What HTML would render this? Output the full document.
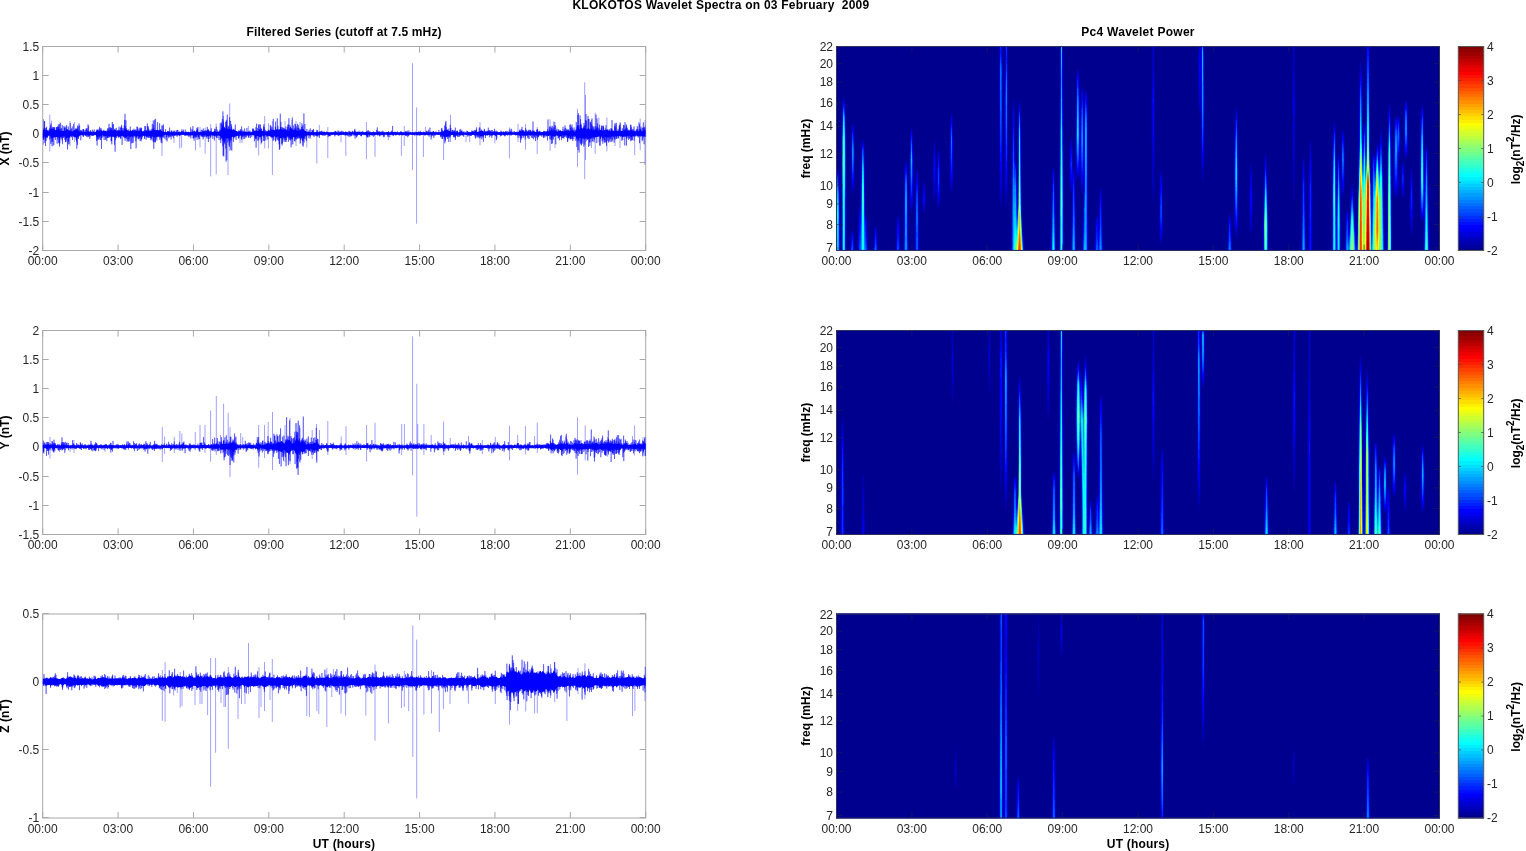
<!DOCTYPE html>
<html><head><meta charset="utf-8"><title>KLOKOTOS Wavelet Spectra</title><style>html,body{margin:0;padding:0;background:#fff;width:1526px;height:851px;overflow:hidden}</style></head><body>
<svg width="1526" height="851" viewBox="0 0 1526 851" font-family="Liberation Sans, Arial, Helvetica, sans-serif" style="position:absolute;left:0;top:0;will-change:transform">
<rect width="1526" height="851" fill="#fff"/>
<defs><clipPath id="clipL0"><rect x="42.7" y="46.5" width="603.0" height="204.0"/></clipPath><clipPath id="clipL1"><rect x="42.7" y="330.5" width="603.0" height="204.0"/></clipPath><clipPath id="clipL2"><rect x="42.7" y="614.0" width="603.0" height="204.0"/></clipPath></defs>
<defs><filter id="jm" x="0" y="0" width="1" height="1" color-interpolation-filters="sRGB"><feConvolveMatrix order="5 1" kernelMatrix="0.017 0.36 1 0.36 0.017" divisor="1.754" edgeMode="duplicate" preserveAlpha="true"/><feGaussianBlur stdDeviation="0 1"/><feComponentTransfer><feFuncR type="discrete" tableValues="0 0 0 0 0 0 0 0 0 0 0 0 0 0 0 0 0 0 0 0 0 0 0 0 0.0625 0.125 0.1875 0.25 0.3125 0.375 0.4375 0.5 0.5625 0.625 0.6875 0.75 0.8125 0.875 0.9375 1 1 1 1 1 1 1 1 1 1 1 1 1 1 1 1 1 0.9375 0.875 0.8125 0.75 0.6875 0.625 0.5625 0.5"/><feFuncG type="discrete" tableValues="0 0 0 0 0 0 0 0 0.0625 0.125 0.1875 0.25 0.3125 0.375 0.4375 0.5 0.5625 0.625 0.6875 0.75 0.8125 0.875 0.9375 1 1 1 1 1 1 1 1 1 1 1 1 1 1 1 1 1 0.9375 0.875 0.8125 0.75 0.6875 0.625 0.5625 0.5 0.4375 0.375 0.3125 0.25 0.1875 0.125 0.0625 0 0 0 0 0 0 0 0 0"/><feFuncB type="discrete" tableValues="0.5625 0.625 0.6875 0.75 0.8125 0.875 0.9375 1 1 1 1 1 1 1 1 1 1 1 1 1 1 1 1 1 0.9375 0.875 0.8125 0.75 0.6875 0.625 0.5625 0.5 0.4375 0.375 0.3125 0.25 0.1875 0.125 0.0625 0 0 0 0 0 0 0 0 0 0 0 0 0 0 0 0 0 0 0 0 0 0 0 0 0"/></feComponentTransfer></filter></defs>
<text x="720.8" y="9.2" font-size="12" font-weight="bold" text-anchor="middle" fill="#000" xml:space="preserve" textLength="296.7" lengthAdjust="spacing">KLOKOTOS Wavelet Spectra on 03 February  2009</text>
<text x="344.00" y="35.90" font-size="12" text-anchor="middle" font-weight="bold" fill="#000" textLength="195.1" lengthAdjust="spacing">Filtered Series (cutoff at 7.5 mHz)</text>
<text x="1137.90" y="35.90" font-size="12" text-anchor="middle" font-weight="bold" fill="#000" textLength="113.2" lengthAdjust="spacing">Pc4 Wavelet Power</text>
<text x="42.70" y="265.10" font-size="12" text-anchor="middle" fill="#262626">00:00</text>
<text x="118.08" y="265.10" font-size="12" text-anchor="middle" fill="#262626">03:00</text>
<text x="193.45" y="265.10" font-size="12" text-anchor="middle" fill="#262626">06:00</text>
<text x="268.82" y="265.10" font-size="12" text-anchor="middle" fill="#262626">09:00</text>
<text x="344.20" y="265.10" font-size="12" text-anchor="middle" fill="#262626">12:00</text>
<text x="419.57" y="265.10" font-size="12" text-anchor="middle" fill="#262626">15:00</text>
<text x="494.95" y="265.10" font-size="12" text-anchor="middle" fill="#262626">18:00</text>
<text x="570.33" y="265.10" font-size="12" text-anchor="middle" fill="#262626">21:00</text>
<text x="645.70" y="265.10" font-size="12" text-anchor="middle" fill="#262626">00:00</text>
<text x="39.20" y="254.70" font-size="12" text-anchor="end" fill="#262626">-2</text>
<text x="39.20" y="225.70" font-size="12" text-anchor="end" fill="#262626">-1.5</text>
<text x="39.20" y="196.70" font-size="12" text-anchor="end" fill="#262626">-1</text>
<text x="39.20" y="166.70" font-size="12" text-anchor="end" fill="#262626">-0.5</text>
<text x="39.20" y="137.70" font-size="12" text-anchor="end" fill="#262626">0</text>
<text x="39.20" y="108.70" font-size="12" text-anchor="end" fill="#262626">0.5</text>
<text x="39.20" y="79.70" font-size="12" text-anchor="end" fill="#262626">1</text>
<text x="39.20" y="50.70" font-size="12" text-anchor="end" fill="#262626">1.5</text>
<path d="M42.70 250.50V244.50M42.70 46.50V52.50M118.08 250.50V244.50M118.08 46.50V52.50M193.45 250.50V244.50M193.45 46.50V52.50M268.82 250.50V244.50M268.82 46.50V52.50M344.20 250.50V244.50M344.20 46.50V52.50M419.57 250.50V244.50M419.57 46.50V52.50M494.95 250.50V244.50M494.95 46.50V52.50M570.33 250.50V244.50M570.33 46.50V52.50M645.70 250.50V244.50M645.70 46.50V52.50M42.70 250.50H48.70M645.70 250.50H639.70M42.70 221.50H48.70M645.70 221.50H639.70M42.70 192.50H48.70M645.70 192.50H639.70M42.70 162.50H48.70M645.70 162.50H639.70M42.70 133.50H48.70M645.70 133.50H639.70M42.70 104.50H48.70M645.70 104.50H639.70M42.70 75.50H48.70M645.70 75.50H639.70M42.70 46.50H48.70M645.70 46.50H639.70" stroke="#a8a8a8" stroke-width="1" fill="none"/>
<rect x="42.70" y="46.50" width="603.00" height="204.00" fill="none" stroke="#a8a8a8" stroke-width="1"/>
<g clip-path="url(#clipL0)"><path d="M42.8 138.2 L43.0 131.5 L43.1 140.0 L43.3 133.4 L43.5 139.3 L43.6 130.6 L43.8 138.5 L44.0 127.8 L44.1 134.2 L44.3 121.5 L44.5 133.9 L44.6 120.9 L44.8 142.8 L45.0 130.0 L45.1 139.5 L45.3 127.9 L45.5 145.9 L45.6 133.4 L45.8 135.7 L46.0 129.9 L46.1 141.0 L46.3 128.1 L46.5 135.9 L46.6 126.7 L46.8 136.1 L47.0 132.0 L47.1 138.2 L47.3 130.0 L47.5 137.4 L47.6 132.1 L47.8 136.5 L48.0 133.4 L48.1 135.6 L48.3 131.0 L48.5 133.7 L48.6 130.4 L48.8 135.1 L49.0 130.6 L49.1 135.3 L49.3 128.7 L49.5 133.6 L49.6 132.9 L49.8 139.5 L50.0 127.6 L50.1 134.2 L50.3 128.9 L50.5 133.9 L50.6 125.2 L50.8 143.9 L51.0 123.4 L51.1 138.2 L51.3 128.5 L51.5 137.5 L51.6 130.8 L51.8 142.0 L52.0 131.1 L52.1 138.2 L52.3 126.8 L52.5 141.5 L52.6 130.8 L52.8 146.3 L53.0 127.8 L53.1 136.0 L53.3 128.8 L53.5 135.8 L53.6 126.9 L53.8 145.0 L54.0 130.6 L54.1 133.5 L54.3 127.2 L54.5 135.0 L54.6 127.6 L54.8 135.4 L55.0 132.6 L55.1 135.7 L55.3 130.4 L55.5 139.9 L55.6 132.7 L55.8 134.2 L56.0 130.6 L56.1 134.7 L56.3 127.1 L56.5 134.3 L56.6 127.0 L56.8 134.3 L57.0 128.5 L57.1 143.6 L57.3 133.4 L57.5 135.1 L57.6 126.7 L57.8 139.6 L58.0 126.6 L58.1 135.1 L58.3 124.5 L58.5 137.4 L58.6 127.1 L58.8 142.8 L59.0 133.2 L59.1 143.4 L59.3 124.2 L59.5 146.6 L59.6 132.1 L59.8 142.8 L60.0 132.8 L60.1 138.9 L60.3 133.1 L60.5 136.0 L60.6 122.7 L60.8 136.3 L61.0 128.2 L61.1 137.2 L61.3 132.5 L61.5 138.3 L61.6 128.4 L61.8 135.1 L62.0 133.4 L62.1 140.5 L62.3 125.2 L62.5 144.2 L62.6 131.6 L62.8 137.2 L63.0 132.1 L63.1 134.5 L63.3 131.0 L63.5 138.0 L63.6 132.1 L63.8 136.6 L64.0 125.9 L64.1 134.2 L64.3 127.4 L64.5 137.2 L64.6 128.2 L64.8 139.8 L65.0 131.6 L65.1 134.3 L65.3 127.6 L65.5 142.1 L65.6 131.1 L65.8 142.1 L66.0 126.2 L66.1 141.4 L66.3 132.3 L66.5 138.5 L66.6 125.2 L66.8 138.4 L67.0 129.6 L67.1 133.8 L67.3 129.7 L67.5 149.4 L67.6 132.3 L67.8 133.6 L68.0 132.2 L68.1 144.5 L68.3 126.6 L68.5 141.7 L68.6 131.4 L68.8 138.1 L69.0 132.6 L69.1 144.2 L69.3 131.8 L69.5 137.8 L69.6 130.7 L69.8 135.8 L70.0 130.6 L70.1 134.3 L70.3 123.1 L70.5 136.1 L70.6 133.1 L70.8 133.7 L71.0 129.4 L71.1 137.4 L71.3 132.1 L71.5 137.0 L71.6 128.3 L71.8 134.2 L72.0 132.3 L72.1 135.4 L72.3 126.5 L72.5 140.0 L72.6 132.2 L72.8 135.2 L73.0 132.9 L73.1 136.7 L73.3 131.6 L73.5 135.7 L73.6 124.0 L73.8 136.3 L74.0 130.8 L74.1 137.4 L74.3 130.5 L74.5 134.1 L74.6 132.3 L74.8 133.7 L75.0 129.9 L75.1 135.9 L75.3 128.3 L75.5 136.4 L75.6 133.1 L75.8 134.5 L76.0 132.1 L76.1 139.9 L76.3 132.7 L76.5 141.6 L76.6 129.1 L76.8 148.7 L77.0 127.8 L77.1 135.6 L77.3 131.9 L77.5 144.8 L77.6 125.5 L77.8 135.1 L78.0 130.7 L78.1 138.8 L78.3 126.5 L78.5 138.6 L78.6 131.4 L78.8 135.9 L79.0 123.4 L79.1 135.1 L79.3 132.3 L79.5 136.3 L79.6 125.7 L79.8 135.3 L80.0 130.6 L80.1 133.6 L80.3 133.5 L80.5 133.8 L80.6 130.1 L80.8 140.3 L81.0 131.8 L81.1 134.2 L81.3 130.4 L81.5 133.9 L81.6 131.6 L81.8 134.1 L82.0 130.5 L82.1 134.6 L82.3 132.1 L82.5 135.1 L82.6 132.8 L82.8 136.4 L83.0 129.1 L83.1 135.1 L83.3 129.2 L83.5 136.9 L83.6 129.1 L83.8 135.8 L84.0 133.3 L84.1 134.3 L84.3 130.5 L84.5 134.0 L84.6 132.6 L84.8 134.1 L85.0 132.6 L85.1 135.4 L85.3 130.1 L85.5 135.8 L85.6 132.4 L85.8 134.9 L86.0 128.5 L86.1 135.9 L86.3 131.8 L86.5 136.8 L86.6 128.8 L86.8 134.0 L87.0 128.0 L87.1 134.3 L87.3 130.0 L87.5 135.0 L87.6 132.4 L87.8 137.2 L88.0 124.4 L88.1 136.4 L88.3 131.2 L88.5 136.6 L88.6 125.8 L88.8 135.4 L89.0 132.3 L89.1 134.0 L89.3 131.6 L89.5 135.8 L89.6 131.9 L89.8 138.8 L90.0 131.5 L90.1 136.5 L90.3 132.9 L90.5 134.4 L90.6 130.1 L90.8 134.4 L91.0 130.8 L91.1 133.5 L91.3 132.7 L91.5 135.4 L91.6 132.3 L91.8 135.8 L92.0 131.9 L92.1 134.1 L92.3 133.4 L92.5 135.2 L92.6 129.6 L92.8 136.0 L93.0 133.1 L93.1 136.0 L93.3 130.9 L93.5 134.5 L93.6 132.8 L93.8 133.6 L94.0 132.6 L94.1 135.4 L94.3 129.5 L94.5 133.8 L94.6 132.2 L94.8 134.7 L95.0 133.0 L95.1 134.0 L95.3 132.6 L95.5 133.8 L95.6 132.7 L95.8 134.1 L96.0 132.0 L96.1 135.0 L96.3 130.8 L96.5 140.8 L96.6 129.7 L96.8 136.9 L97.0 131.1 L97.1 145.5 L97.3 131.2 L97.5 138.0 L97.6 130.5 L97.8 139.3 L98.0 128.9 L98.1 140.1 L98.3 132.5 L98.5 134.8 L98.6 132.6 L98.8 138.7 L99.0 133.0 L99.1 133.6 L99.3 129.4 L99.5 137.8 L99.6 126.8 L99.8 136.8 L100.0 133.3 L100.1 140.0 L100.3 128.2 L100.5 133.6 L100.6 130.1 L100.8 140.0 L101.0 130.8 L101.1 135.5 L101.3 128.4 L101.5 149.0 L101.6 130.6 L101.8 138.1 L102.0 130.8 L102.1 137.5 L102.3 130.6 L102.5 134.0 L102.6 131.2 L102.8 134.6 L103.0 132.3 L103.1 134.4 L103.3 131.3 L103.5 136.6 L103.6 129.8 L103.8 135.3 L104.0 131.2 L104.1 140.0 L104.3 131.5 L104.5 135.3 L104.6 132.2 L104.8 134.6 L105.0 131.4 L105.1 134.9 L105.3 132.1 L105.5 139.9 L105.6 132.6 L105.8 134.8 L106.0 131.2 L106.1 138.4 L106.3 133.0 L106.5 136.3 L106.6 133.1 L106.8 141.2 L107.0 130.1 L107.1 134.3 L107.3 132.5 L107.5 137.9 L107.6 128.3 L107.8 137.6 L108.0 131.1 L108.1 137.9 L108.3 128.4 L108.5 136.0 L108.6 130.9 L108.8 135.6 L109.0 123.8 L109.1 137.7 L109.3 127.4 L109.5 137.0 L109.6 130.1 L109.8 134.8 L110.0 131.3 L110.1 135.2 L110.3 128.2 L110.5 134.2 L110.6 127.2 L110.8 134.0 L111.0 130.6 L111.1 141.4 L111.3 127.9 L111.5 140.9 L111.6 128.2 L111.8 144.3 L112.0 133.5 L112.1 133.7 L112.3 122.0 L112.5 136.6 L112.6 130.7 L112.8 134.7 L113.0 124.1 L113.1 137.1 L113.3 124.3 L113.5 135.4 L113.6 131.4 L113.8 136.8 L114.0 133.3 L114.1 134.0 L114.3 129.1 L114.5 144.7 L114.6 132.1 L114.8 136.7 L115.0 128.7 L115.1 151.7 L115.3 130.2 L115.5 139.9 L115.6 130.9 L115.8 134.3 L116.0 130.8 L116.1 135.4 L116.3 127.9 L116.5 138.2 L116.6 131.4 L116.8 136.5 L117.0 130.6 L117.1 135.0 L117.3 132.1 L117.5 135.8 L117.6 129.9 L117.8 134.2 L118.0 132.4 L118.1 137.3 L118.3 133.2 L118.5 134.5 L118.6 130.0 L118.8 137.9 L119.0 126.6 L119.1 134.9 L119.3 132.4 L119.5 136.8 L119.6 131.2 L119.8 134.3 L120.0 133.2 L120.1 134.9 L120.3 128.0 L120.5 138.5 L120.6 131.7 L120.8 138.6 L121.0 126.6 L121.1 135.7 L121.3 127.2 L121.5 135.1 L121.6 124.9 L121.8 135.7 L122.0 130.9 L122.1 144.9 L122.3 127.9 L122.5 134.2 L122.6 130.1 L122.8 134.0 L123.0 132.7 L123.1 135.1 L123.3 130.8 L123.5 136.9 L123.6 128.2 L123.8 137.4 L124.0 132.5 L124.1 134.0 L124.3 125.4 L124.5 137.2 L124.6 119.9 L124.8 138.1 L125.0 113.8 L125.1 140.8 L125.3 126.0 L125.5 137.7 L125.6 132.0 L125.8 135.2 L126.0 120.2 L126.1 135.9 L126.3 133.2 L126.5 138.7 L126.6 128.2 L126.8 136.8 L127.0 130.3 L127.1 141.6 L127.3 129.9 L127.5 135.1 L127.6 130.4 L127.8 139.4 L128.0 131.3 L128.1 141.3 L128.3 132.1 L128.4 136.4 L128.6 129.4 L128.8 141.7 L128.9 130.6 L129.1 139.0 L129.3 131.8 L129.4 135.5 L129.6 131.5 L129.8 141.1 L129.9 132.7 L130.1 137.0 L130.3 126.6 L130.4 136.8 L130.6 130.6 L130.8 149.0 L130.9 132.5 L131.1 135.5 L131.3 132.5 L131.4 143.3 L131.6 131.4 L131.8 135.3 L131.9 131.7 L132.1 135.7 L132.3 129.8 L132.4 137.6 L132.6 133.4 L132.8 143.2 L132.9 132.7 L133.1 142.4 L133.3 130.4 L133.4 134.1 L133.6 130.7 L133.8 133.7 L133.9 128.7 L134.1 137.5 L134.3 130.2 L134.4 135.6 L134.6 131.7 L134.8 135.1 L134.9 129.8 L135.1 135.9 L135.3 130.0 L135.4 136.8 L135.6 131.4 L135.8 141.3 L135.9 129.3 L136.1 148.3 L136.3 132.9 L136.4 137.9 L136.6 130.6 L136.8 137.0 L136.9 126.6 L137.1 134.3 L137.3 132.3 L137.4 134.5 L137.6 126.8 L137.8 138.5 L137.9 128.5 L138.1 135.4 L138.3 131.2 L138.4 139.3 L138.6 132.0 L138.8 138.5 L138.9 129.5 L139.1 136.7 L139.3 133.4 L139.4 138.4 L139.6 132.8 L139.8 134.7 L139.9 127.8 L140.1 141.0 L140.3 127.7 L140.4 137.3 L140.6 129.1 L140.8 135.3 L140.9 131.2 L141.1 141.4 L141.3 127.7 L141.4 139.3 L141.6 128.3 L141.8 139.1 L141.9 131.3 L142.1 135.9 L142.3 132.1 L142.4 137.3 L142.6 133.3 L142.8 133.7 L142.9 133.0 L143.1 134.0 L143.3 132.6 L143.4 133.9 L143.6 132.8 L143.8 135.8 L143.9 133.4 L144.1 134.6 L144.3 129.9 L144.4 139.0 L144.6 132.0 L144.8 137.6 L144.9 126.1 L145.1 135.5 L145.3 126.1 L145.4 134.1 L145.6 133.2 L145.8 135.6 L145.9 130.0 L146.1 139.8 L146.3 130.5 L146.4 136.6 L146.6 132.1 L146.8 133.7 L146.9 133.1 L147.1 137.2 L147.3 123.4 L147.4 137.6 L147.6 126.1 L147.8 134.6 L147.9 131.6 L148.1 136.9 L148.3 126.4 L148.4 137.4 L148.6 128.6 L148.8 137.8 L148.9 130.6 L149.1 137.5 L149.3 132.9 L149.4 134.8 L149.6 132.2 L149.8 135.7 L149.9 129.6 L150.1 138.0 L150.3 133.0 L150.4 137.9 L150.6 131.6 L150.8 140.3 L150.9 130.5 L151.1 137.1 L151.3 130.8 L151.4 138.6 L151.6 131.3 L151.8 139.5 L151.9 128.8 L152.1 135.0 L152.3 123.9 L152.4 136.2 L152.6 132.9 L152.8 134.5 L152.9 128.6 L153.1 141.3 L153.3 120.4 L153.4 142.2 L153.6 124.8 L153.8 148.9 L153.9 128.3 L154.1 135.8 L154.3 131.5 L154.4 136.6 L154.6 119.7 L154.8 141.7 L154.9 132.8 L155.1 142.6 L155.3 132.0 L155.4 141.8 L155.6 118.8 L155.8 134.7 L155.9 130.4 L156.1 138.4 L156.3 130.9 L156.4 136.7 L156.6 133.0 L156.8 140.5 L156.9 130.1 L157.1 135.9 L157.3 131.7 L157.4 133.6 L157.6 122.1 L157.8 135.4 L157.9 130.3 L158.1 137.1 L158.3 129.9 L158.4 135.1 L158.6 131.9 L158.8 134.8 L158.9 131.4 L159.1 137.3 L159.3 130.3 L159.4 136.0 L159.6 123.4 L159.8 139.8 L159.9 130.6 L160.1 137.0 L160.3 130.1 L160.4 137.6 L160.6 129.3 L160.8 136.3 L160.9 129.5 L161.1 142.5 L161.3 132.5 L161.4 139.7 L161.6 133.4 L161.8 143.2 L161.9 125.4 L162.1 136.4 L162.3 132.5 L162.4 135.5 L162.6 133.1 L162.8 137.7 L162.9 125.9 L163.1 136.9 L163.3 124.3 L163.4 134.2 L163.6 130.7 L163.8 137.6 L163.9 132.5 L164.1 135.2 L164.3 132.0 L164.4 134.4 L164.6 132.5 L164.8 138.7 L164.9 131.8 L165.1 134.7 L165.3 132.7 L165.4 133.6 L165.6 129.2 L165.8 134.0 L165.9 132.5 L166.1 140.2 L166.3 133.0 L166.4 137.1 L166.6 132.2 L166.8 135.5 L166.9 132.4 L167.1 141.4 L167.3 133.1 L167.4 134.5 L167.6 131.1 L167.8 134.6 L167.9 130.9 L168.1 136.5 L168.3 132.8 L168.4 135.9 L168.6 131.1 L168.8 138.2 L168.9 131.8 L169.1 136.6 L169.3 131.8 L169.4 136.7 L169.6 127.6 L169.8 134.7 L169.9 131.5 L170.1 133.9 L170.3 132.7 L170.4 136.4 L170.6 133.0 L170.8 136.7 L170.9 132.7 L171.1 139.4 L171.3 130.3 L171.4 135.4 L171.6 130.8 L171.8 134.5 L171.9 133.5 L172.1 136.4 L172.3 133.5 L172.4 136.1 L172.6 131.6 L172.8 135.2 L172.9 132.5 L173.1 135.0 L173.3 130.6 L173.4 138.2 L173.6 132.2 L173.8 135.7 L173.9 132.8 L174.1 135.6 L174.3 131.2 L174.4 135.8 L174.6 133.5 L174.8 135.0 L174.9 130.5 L175.1 135.4 L175.3 132.4 L175.4 134.1 L175.6 133.0 L175.8 135.9 L175.9 132.6 L176.1 135.0 L176.3 132.1 L176.4 133.9 L176.6 130.4 L176.8 135.4 L176.9 132.4 L177.1 136.8 L177.3 129.9 L177.4 135.5 L177.6 132.5 L177.8 134.0 L177.9 130.1 L178.1 134.7 L178.3 131.8 L178.4 134.9 L178.6 133.3 L178.8 135.6 L178.9 132.1 L179.1 134.4 L179.3 133.4 L179.4 135.7 L179.6 132.0 L179.8 136.0 L179.9 131.6 L180.1 133.8 L180.3 133.0 L180.4 135.4 L180.6 133.0 L180.8 133.7 L180.9 132.6 L181.1 133.6 L181.3 132.4 L181.4 133.8 L181.6 131.1 L181.8 134.9 L181.9 129.3 L182.1 134.5 L182.3 133.4 L182.4 134.5 L182.6 131.0 L182.8 134.7 L182.9 133.0 L183.1 133.8 L183.3 129.7 L183.4 134.1 L183.6 131.4 L183.8 133.7 L183.9 132.9 L184.1 133.8 L184.3 133.4 L184.4 134.9 L184.6 131.9 L184.8 135.9 L184.9 132.8 L185.1 133.6 L185.3 129.5 L185.4 135.4 L185.6 132.8 L185.8 135.8 L185.9 132.1 L186.1 135.1 L186.3 133.4 L186.4 134.4 L186.6 131.6 L186.8 134.9 L186.9 132.3 L187.1 136.0 L187.3 133.0 L187.4 134.7 L187.6 132.8 L187.8 134.7 L187.9 132.1 L188.1 133.6 L188.3 131.7 L188.4 136.7 L188.6 133.5 L188.8 135.6 L188.9 132.2 L189.1 133.7 L189.3 132.4 L189.4 135.3 L189.6 133.3 L189.8 136.7 L189.9 133.4 L190.1 135.7 L190.3 133.5 L190.4 134.6 L190.6 127.3 L190.8 138.5 L190.9 131.9 L191.1 135.7 L191.3 133.5 L191.4 133.8 L191.6 132.2 L191.8 135.2 L191.9 129.2 L192.1 134.7 L192.3 130.3 L192.4 134.9 L192.6 133.0 L192.8 135.5 L192.9 126.1 L193.1 138.3 L193.3 132.2 L193.4 138.3 L193.6 131.3 L193.8 135.5 L193.9 133.5 L194.1 140.6 L194.3 130.7 L194.4 137.7 L194.6 131.1 L194.8 134.6 L194.9 132.7 L195.1 137.1 L195.3 132.8 L195.4 136.3 L195.6 133.3 L195.8 137.7 L195.9 132.4 L196.1 134.3 L196.3 133.4 L196.4 137.2 L196.6 130.0 L196.8 134.7 L196.9 127.8 L197.1 139.8 L197.3 129.7 L197.4 134.7 L197.6 128.8 L197.8 135.6 L197.9 127.1 L198.1 137.2 L198.3 131.9 L198.4 137.3 L198.6 132.8 L198.8 139.5 L198.9 133.1 L199.1 133.8 L199.3 133.4 L199.4 138.8 L199.6 131.9 L199.8 134.6 L199.9 132.9 L200.1 135.4 L200.3 131.8 L200.4 133.8 L200.6 131.8 L200.8 134.9 L200.9 132.8 L201.1 136.2 L201.3 129.8 L201.4 136.6 L201.6 133.1 L201.8 135.6 L201.9 132.9 L202.1 135.9 L202.3 129.9 L202.4 137.0 L202.6 131.2 L202.8 134.3 L202.9 132.2 L203.1 139.5 L203.3 128.5 L203.4 137.4 L203.6 131.0 L203.8 134.0 L203.9 133.4 L204.1 135.8 L204.3 131.6 L204.4 137.0 L204.6 131.1 L204.8 135.0 L204.9 130.2 L205.1 135.0 L205.3 132.4 L205.4 133.8 L205.6 130.8 L205.8 136.2 L205.9 131.3 L206.1 137.2 L206.3 130.3 L206.4 135.6 L206.6 131.3 L206.8 137.2 L206.9 133.4 L207.1 138.7 L207.3 126.9 L207.4 133.8 L207.6 129.8 L207.8 134.2 L207.9 131.7 L208.1 134.5 L208.3 129.6 L208.4 142.0 L208.6 129.4 L208.8 136.4 L208.9 132.7 L209.1 139.0 L209.3 132.2 L209.4 135.4 L209.6 132.6 L209.8 135.4 L209.9 130.8 L210.1 135.6 L210.3 133.2 L210.4 137.4 L210.6 130.9 L210.8 137.4 L210.9 133.4 L211.1 135.1 L211.3 128.2 L211.4 133.6 L211.6 131.9 L211.8 134.9 L211.9 131.6 L212.1 136.1 L212.3 133.0 L212.4 135.0 L212.6 133.1 L212.8 138.8 L212.9 133.3 L213.1 135.1 L213.3 131.8 L213.4 136.0 L213.6 132.0 L213.8 134.0 L213.9 132.4 L214.1 135.0 L214.3 131.5 L214.4 140.5 L214.6 128.7 L214.8 136.1 L214.9 132.6 L215.1 135.6 L215.3 129.2 L215.4 134.9 L215.6 131.2 L215.8 136.1 L215.9 132.2 L216.1 137.0 L216.3 126.8 L216.4 138.0 L216.6 133.0 L216.8 135.7 L216.9 133.0 L217.1 133.9 L217.3 129.6 L217.4 135.2 L217.6 131.5 L217.8 138.1 L217.9 133.4 L218.1 136.0 L218.3 133.3 L218.4 135.1 L218.6 131.5 L218.8 134.4 L218.9 132.8 L219.1 140.1 L219.3 131.6 L219.4 135.7 L219.6 131.9 L219.8 136.0 L219.9 129.5 L220.1 134.4 L220.3 122.9 L220.4 140.0 L220.6 131.2 L220.8 143.1 L220.9 130.7 L221.1 137.5 L221.3 124.1 L221.4 134.8 L221.6 122.4 L221.8 135.3 L221.9 129.3 L222.1 136.0 L222.3 118.9 L222.4 140.8 L222.6 125.1 L222.8 146.1 L222.9 111.4 L223.1 155.8 L223.3 120.6 L223.4 136.0 L223.6 122.9 L223.8 156.5 L223.9 129.2 L224.1 141.9 L224.3 126.8 L224.4 143.1 L224.6 127.7 L224.8 144.4 L224.9 133.0 L225.1 141.7 L225.3 131.8 L225.4 136.1 L225.6 121.9 L225.8 148.5 L225.9 130.3 L226.1 161.6 L226.3 119.8 L226.4 133.8 L226.6 121.1 L226.8 160.1 L226.9 125.7 L227.1 134.0 L227.3 114.6 L227.4 135.8 L227.6 133.3 L227.8 142.5 L227.9 132.7 L228.1 135.7 L228.3 132.5 L228.4 140.4 L228.6 126.8 L228.8 133.7 L228.9 125.6 L229.1 145.2 L229.3 132.5 L229.4 146.9 L229.6 117.2 L229.8 140.1 L229.9 132.8 L230.1 142.5 L230.3 133.2 L230.4 139.5 L230.6 120.9 L230.8 149.8 L230.9 128.9 L231.1 137.0 L231.3 124.1 L231.4 140.4 L231.6 126.4 L231.8 150.6 L231.9 128.8 L232.1 135.5 L232.3 130.8 L232.4 135.8 L232.6 130.9 L232.8 134.1 L232.9 133.3 L233.1 134.1 L233.3 129.0 L233.4 141.9 L233.6 130.3 L233.8 138.3 L233.9 128.8 L234.1 135.4 L234.3 130.4 L234.4 134.2 L234.6 130.3 L234.8 137.6 L234.9 132.4 L235.1 135.9 L235.3 124.5 L235.4 135.8 L235.6 133.2 L235.8 134.0 L235.9 131.5 L236.1 139.9 L236.3 131.9 L236.4 136.2 L236.6 131.5 L236.8 135.2 L236.9 133.3 L237.1 136.1 L237.3 133.2 L237.4 135.0 L237.6 132.1 L237.8 135.8 L237.9 133.1 L238.1 134.1 L238.3 133.5 L238.4 138.5 L238.6 131.4 L238.8 138.5 L238.9 130.3 L239.1 137.3 L239.3 131.7 L239.4 134.5 L239.6 131.3 L239.8 135.8 L239.9 131.4 L240.1 134.9 L240.3 129.4 L240.4 133.6 L240.6 131.5 L240.8 135.0 L240.9 129.5 L241.1 135.5 L241.3 131.8 L241.4 138.7 L241.6 126.5 L241.8 139.9 L241.9 132.3 L242.1 134.8 L242.3 132.5 L242.4 136.7 L242.6 132.7 L242.8 137.2 L242.9 129.8 L243.1 134.9 L243.3 131.4 L243.4 135.5 L243.6 132.0 L243.8 139.1 L243.9 131.6 L244.1 135.6 L244.3 132.2 L244.4 136.3 L244.6 128.5 L244.8 138.8 L244.9 133.2 L245.1 133.6 L245.3 131.8 L245.4 137.3 L245.6 132.3 L245.8 135.3 L245.9 132.7 L246.1 133.8 L246.3 132.3 L246.4 137.5 L246.6 133.3 L246.8 135.3 L246.9 127.9 L247.1 135.2 L247.3 132.5 L247.4 135.2 L247.6 131.7 L247.8 135.8 L247.9 132.3 L248.1 135.1 L248.3 131.4 L248.4 137.4 L248.6 132.5 L248.8 137.8 L248.9 131.7 L249.1 135.3 L249.3 132.9 L249.4 136.1 L249.6 131.6 L249.8 133.9 L249.9 130.6 L250.1 134.5 L250.3 133.3 L250.4 138.1 L250.6 132.9 L250.8 134.1 L250.9 131.5 L251.1 135.4 L251.3 133.2 L251.4 134.3 L251.6 132.0 L251.8 137.0 L251.9 133.5 L252.1 134.8 L252.3 133.2 L252.4 135.2 L252.6 129.3 L252.8 134.6 L252.9 128.4 L253.1 134.0 L253.3 128.7 L253.4 134.3 L253.6 129.6 L253.8 135.4 L253.9 132.7 L254.1 135.1 L254.3 130.3 L254.4 141.4 L254.6 131.2 L254.8 133.6 L254.9 131.2 L255.1 137.9 L255.3 131.8 L255.4 138.4 L255.6 131.5 L255.8 139.5 L255.9 127.2 L256.1 147.7 L256.3 130.8 L256.4 138.7 L256.6 123.6 L256.8 134.3 L256.9 131.3 L257.1 135.7 L257.3 131.9 L257.4 135.7 L257.6 128.1 L257.8 140.6 L257.9 131.6 L258.1 133.7 L258.3 132.4 L258.4 140.5 L258.6 124.4 L258.8 135.3 L258.9 131.1 L259.1 135.6 L259.3 128.9 L259.4 136.5 L259.6 129.4 L259.8 135.6 L259.9 124.2 L260.1 139.5 L260.3 124.8 L260.4 135.7 L260.6 132.7 L260.8 135.5 L260.9 127.8 L261.1 136.6 L261.3 128.8 L261.4 143.2 L261.6 129.0 L261.8 142.0 L261.9 131.2 L262.1 134.4 L262.3 131.1 L262.4 135.3 L262.6 131.0 L262.8 135.0 L262.9 132.1 L263.1 136.3 L263.3 129.6 L263.4 140.9 L263.6 126.4 L263.8 136.2 L263.9 124.2 L264.1 137.7 L264.3 127.3 L264.4 141.0 L264.6 133.4 L264.8 134.2 L264.9 129.9 L265.1 134.6 L265.3 131.8 L265.4 134.3 L265.6 130.5 L265.8 140.3 L265.9 132.4 L266.1 133.6 L266.3 131.5 L266.4 136.6 L266.6 130.9 L266.8 133.8 L266.9 132.0 L267.1 136.4 L267.3 132.6 L267.4 135.6 L267.6 132.3 L267.8 139.4 L267.9 131.6 L268.1 135.6 L268.3 129.7 L268.4 135.5 L268.6 132.5 L268.8 133.6 L268.9 130.3 L269.1 134.4 L269.3 130.6 L269.4 134.5 L269.6 131.4 L269.8 135.6 L269.9 132.3 L270.1 136.0 L270.3 125.0 L270.4 134.2 L270.6 128.8 L270.8 137.1 L270.9 126.0 L271.1 137.2 L271.3 129.4 L271.4 133.9 L271.6 130.8 L271.8 138.3 L271.9 127.0 L272.1 135.9 L272.3 130.7 L272.4 134.5 L272.6 132.9 L272.8 134.7 L272.9 130.6 L273.1 140.9 L273.3 118.9 L273.4 134.1 L273.6 132.2 L273.8 139.9 L273.9 132.0 L274.1 134.2 L274.3 132.1 L274.4 135.0 L274.6 130.4 L274.8 133.9 L274.9 129.8 L275.1 136.3 L275.3 126.8 L275.4 141.5 L275.6 121.6 L275.8 141.0 L275.9 132.9 L276.1 136.4 L276.3 129.8 L276.4 137.6 L276.6 129.6 L276.8 138.6 L276.9 128.9 L277.1 134.7 L277.3 118.3 L277.4 140.0 L277.6 129.0 L277.8 134.4 L277.9 125.8 L278.1 135.8 L278.3 129.3 L278.4 140.9 L278.6 130.9 L278.8 139.8 L278.9 130.2 L279.1 144.3 L279.3 132.6 L279.4 149.9 L279.6 133.5 L279.8 148.8 L279.9 130.6 L280.1 134.2 L280.3 113.7 L280.4 135.0 L280.6 126.8 L280.8 136.4 L280.9 121.8 L281.1 136.9 L281.3 127.1 L281.4 138.2 L281.6 129.2 L281.8 144.0 L281.9 132.6 L282.1 145.5 L282.3 130.2 L282.4 143.1 L282.6 127.2 L282.8 139.5 L282.9 127.8 L283.1 138.7 L283.3 130.0 L283.4 136.3 L283.6 127.9 L283.8 134.5 L283.9 133.0 L284.1 142.0 L284.3 128.4 L284.4 137.3 L284.6 129.4 L284.8 139.8 L284.9 133.5 L285.1 138.1 L285.3 131.6 L285.4 141.6 L285.6 129.3 L285.8 136.2 L285.9 126.5 L286.1 142.0 L286.3 130.4 L286.4 140.1 L286.6 132.0 L286.8 135.2 L286.9 129.4 L287.1 138.1 L287.3 133.4 L287.4 136.1 L287.6 127.0 L287.8 134.5 L287.9 124.8 L288.1 134.4 L288.3 124.5 L288.4 141.8 L288.6 131.1 L288.8 137.1 L288.9 118.3 L289.1 139.2 L289.3 132.6 L289.4 137.9 L289.6 128.6 L289.8 140.1 L289.9 124.9 L290.1 134.3 L290.3 127.0 L290.4 140.5 L290.6 126.7 L290.8 137.4 L290.9 133.0 L291.1 147.4 L291.3 133.0 L291.4 136.4 L291.6 130.4 L291.8 139.3 L291.9 131.2 L292.1 139.1 L292.3 117.5 L292.4 137.4 L292.6 130.8 L292.8 144.1 L292.9 133.3 L293.1 134.4 L293.3 125.5 L293.4 134.7 L293.6 130.3 L293.8 136.4 L293.9 130.7 L294.1 136.8 L294.3 128.3 L294.4 141.1 L294.6 131.5 L294.8 135.6 L294.9 123.8 L295.1 141.5 L295.3 131.3 L295.4 139.3 L295.6 124.4 L295.8 135.1 L295.9 128.5 L296.1 134.7 L296.3 126.4 L296.4 139.6 L296.6 132.5 L296.8 135.1 L296.9 131.5 L297.1 138.7 L297.3 132.9 L297.4 137.4 L297.6 123.8 L297.8 138.2 L297.9 127.9 L298.1 138.6 L298.3 125.3 L298.4 135.7 L298.6 127.8 L298.8 137.7 L298.9 130.8 L299.1 137.7 L299.3 132.1 L299.4 138.5 L299.6 128.7 L299.8 134.3 L299.9 130.3 L300.1 137.4 L300.3 129.5 L300.4 143.2 L300.6 130.8 L300.8 140.2 L300.9 129.4 L301.1 138.9 L301.3 132.5 L301.4 135.9 L301.6 127.0 L301.8 138.3 L301.9 123.2 L302.1 136.2 L302.3 126.6 L302.4 141.2 L302.6 131.2 L302.8 145.3 L302.9 125.2 L303.1 146.7 L303.3 129.3 L303.4 140.7 L303.6 130.5 L303.8 137.9 L303.9 113.4 L304.1 142.6 L304.3 133.2 L304.4 138.8 L304.6 132.8 L304.8 133.9 L304.9 124.0 L305.1 135.8 L305.3 131.6 L305.4 135.6 L305.6 130.8 L305.8 139.3 L305.9 131.8 L306.1 136.8 L306.3 132.1 L306.4 141.1 L306.6 132.9 L306.8 133.5 L306.9 129.0 L307.1 134.7 L307.3 132.9 L307.4 136.2 L307.6 132.3 L307.8 133.8 L307.9 132.3 L308.1 134.1 L308.3 131.1 L308.4 134.1 L308.6 132.8 L308.8 138.1 L308.9 132.3 L309.1 134.7 L309.3 129.8 L309.4 135.5 L309.6 133.1 L309.8 135.6 L309.9 132.1 L310.1 138.6 L310.3 128.4 L310.4 136.4 L310.6 132.7 L310.8 134.7 L310.9 132.7 L311.1 134.0 L311.3 132.7 L311.4 134.4 L311.6 132.2 L311.8 135.0 L311.9 130.0 L312.1 135.6 L312.3 133.5 L312.4 134.3 L312.6 130.1 L312.8 134.6 L312.9 131.7 L313.1 133.9 L313.3 129.6 L313.4 135.5 L313.6 129.2 L313.8 136.1 L313.9 131.9 L314.1 137.1 L314.3 132.5 L314.4 134.6 L314.6 132.8 L314.8 134.5 L314.9 132.3 L315.1 135.3 L315.3 133.5 L315.4 134.4 L315.6 132.6 L315.8 135.9 L315.9 132.3 L316.1 134.9 L316.3 131.9 L316.4 136.1 L316.6 133.5 L316.8 135.9 L316.9 129.8 L317.1 134.2 L317.3 130.3 L317.4 136.4 L317.6 133.3 L317.8 135.3 L317.9 131.7 L318.1 136.5 L318.3 133.1 L318.4 134.1 L318.6 133.0 L318.8 133.6 L318.9 132.7 L319.1 135.2 L319.3 131.3 L319.4 137.9 L319.6 132.4 L319.8 135.1 L319.9 132.6 L320.1 134.7 L320.3 132.7 L320.4 134.1 L320.6 131.1 L320.8 134.1 L320.9 131.7 L321.1 134.2 L321.3 133.2 L321.4 134.0 L321.6 131.4 L321.8 134.1 L321.9 130.6 L322.1 135.4 L322.3 132.6 L322.4 134.7 L322.6 131.7 L322.8 135.2 L322.9 132.7 L323.1 135.8 L323.3 132.3 L323.4 134.2 L323.6 131.8 L323.8 133.8 L323.9 131.8 L324.1 134.3 L324.3 131.6 L324.4 135.7 L324.6 132.3 L324.8 134.0 L324.9 133.1 L325.1 134.9 L325.3 133.2 L325.4 135.6 L325.6 132.2 L325.8 133.7 L325.9 132.9 L326.1 133.6 L326.3 133.3 L326.4 134.4 L326.6 131.3 L326.8 134.0 L326.9 132.4 L327.1 133.5 L327.3 133.4 L327.4 133.9 L327.6 132.2 L327.8 133.9 L327.9 133.2 L328.1 136.8 L328.3 133.3 L328.4 133.5 L328.6 132.6 L328.8 136.3 L328.9 132.7 L329.1 136.1 L329.3 133.0 L329.4 135.9 L329.6 132.8 L329.8 135.6 L329.9 133.5 L330.1 136.2 L330.3 132.3 L330.4 134.1 L330.6 132.5 L330.8 135.6 L330.9 132.6 L331.1 133.7 L331.3 132.5 L331.4 133.9 L331.6 132.7 L331.8 134.5 L331.9 132.9 L332.1 135.0 L332.3 133.2 L332.4 133.8 L332.6 133.4 L332.8 134.7 L332.9 132.4 L333.1 134.3 L333.3 132.8 L333.4 133.9 L333.6 132.2 L333.8 134.2 L333.9 132.0 L334.1 133.8 L334.3 133.3 L334.4 134.2 L334.6 131.6 L334.8 136.4 L334.9 132.9 L335.1 135.3 L335.3 130.9 L335.4 134.4 L335.6 131.5 L335.8 135.2 L335.9 131.1 L336.1 133.8 L336.3 133.0 L336.4 133.5 L336.6 132.1 L336.8 134.8 L336.9 132.0 L337.1 133.8 L337.3 133.1 L337.4 135.2 L337.6 132.9 L337.8 134.0 L337.9 130.5 L338.1 133.9 L338.3 132.8 L338.4 136.1 L338.6 132.6 L338.8 134.2 L338.9 130.8 L339.1 135.7 L339.3 133.4 L339.4 134.3 L339.6 132.5 L339.8 134.8 L339.9 132.6 L340.1 135.0 L340.3 131.8 L340.4 134.7 L340.6 132.6 L340.8 133.6 L340.9 131.9 L341.1 134.5 L341.3 130.7 L341.4 134.1 L341.6 132.9 L341.8 133.5 L341.9 131.8 L342.1 135.0 L342.3 133.3 L342.4 133.8 L342.6 133.1 L342.8 133.7 L342.9 131.0 L343.1 133.7 L343.3 131.8 L343.4 134.8 L343.6 133.5 L343.8 134.3 L343.9 133.0 L344.1 134.1 L344.3 132.8 L344.4 133.9 L344.6 132.5 L344.8 134.4 L344.9 132.7 L345.1 135.9 L345.3 132.9 L345.4 134.6 L345.6 131.6 L345.8 133.9 L345.9 132.5 L346.1 135.0 L346.3 132.2 L346.4 135.3 L346.6 133.4 L346.8 133.6 L346.9 131.8 L347.1 134.8 L347.3 133.1 L347.4 136.1 L347.6 133.1 L347.8 133.9 L347.9 132.9 L348.1 133.9 L348.3 132.8 L348.4 133.6 L348.6 133.0 L348.8 136.1 L348.9 130.7 L349.1 137.1 L349.3 132.6 L349.4 134.5 L349.6 131.7 L349.8 135.0 L349.9 131.4 L350.1 133.6 L350.3 133.3 L350.4 135.9 L350.6 131.8 L350.8 136.6 L350.9 132.7 L351.1 133.6 L351.3 133.4 L351.4 135.6 L351.6 132.6 L351.8 135.8 L351.9 131.9 L352.1 133.7 L352.3 131.2 L352.4 133.7 L352.6 130.9 L352.8 133.9 L352.9 132.9 L353.1 133.5 L353.3 132.8 L353.4 133.7 L353.6 133.4 L353.8 135.3 L353.9 131.5 L354.1 135.7 L354.3 131.7 L354.4 134.0 L354.6 129.9 L354.8 133.8 L354.9 128.8 L355.1 138.5 L355.3 131.5 L355.4 135.6 L355.6 131.5 L355.8 134.7 L355.9 132.4 L356.1 135.6 L356.3 131.8 L356.4 137.6 L356.6 132.5 L356.8 134.1 L356.9 133.2 L357.1 136.6 L357.3 132.0 L357.4 135.7 L357.6 131.6 L357.8 135.0 L357.9 132.8 L358.1 133.9 L358.3 132.2 L358.4 134.7 L358.6 132.4 L358.8 133.7 L358.9 130.8 L359.1 134.9 L359.3 132.8 L359.4 133.6 L359.6 131.9 L359.8 133.8 L359.9 132.2 L360.1 134.0 L360.3 133.4 L360.4 134.1 L360.6 132.1 L360.8 135.9 L360.9 131.7 L361.1 136.3 L361.3 132.2 L361.4 136.1 L361.6 132.2 L361.8 134.0 L361.9 133.4 L362.1 134.6 L362.3 131.2 L362.4 133.9 L362.6 132.9 L362.8 134.3 L362.9 131.4 L363.1 133.7 L363.3 132.8 L363.4 133.8 L363.6 132.4 L363.8 135.2 L363.9 132.7 L364.1 134.5 L364.3 132.5 L364.4 133.7 L364.6 133.5 L364.8 133.6 L364.9 133.4 L365.1 133.9 L365.3 132.0 L365.4 134.7 L365.6 132.0 L365.8 135.2 L365.9 132.0 L366.1 134.9 L366.3 133.3 L366.4 135.5 L366.6 131.1 L366.8 136.7 L366.9 133.4 L367.1 135.3 L367.3 131.5 L367.4 136.9 L367.6 132.6 L367.8 137.8 L367.9 130.5 L368.1 136.9 L368.3 130.3 L368.4 133.8 L368.6 133.4 L368.8 134.4 L368.9 132.3 L369.1 133.9 L369.3 133.2 L369.4 135.9 L369.6 131.6 L369.8 137.0 L369.9 131.5 L370.1 133.7 L370.3 132.5 L370.4 133.9 L370.6 132.8 L370.8 133.6 L370.9 132.2 L371.1 133.8 L371.3 133.3 L371.4 135.4 L371.6 132.9 L371.8 133.6 L371.9 133.4 L372.1 135.1 L372.3 132.5 L372.4 135.6 L372.6 132.3 L372.8 135.2 L372.9 131.9 L373.1 134.1 L373.3 132.5 L373.4 136.8 L373.6 131.5 L373.8 134.2 L373.9 132.1 L374.1 134.9 L374.3 133.4 L374.4 135.8 L374.6 132.4 L374.8 133.6 L374.9 132.7 L375.1 133.9 L375.3 132.3 L375.4 134.0 L375.6 133.3 L375.8 134.1 L375.9 132.7 L376.1 134.5 L376.3 133.0 L376.4 134.1 L376.6 129.9 L376.8 134.0 L376.9 131.7 L377.1 135.0 L377.3 127.4 L377.4 134.6 L377.6 132.7 L377.8 135.7 L377.9 130.7 L378.1 134.5 L378.3 132.3 L378.4 134.2 L378.6 132.6 L378.8 134.4 L378.9 131.8 L379.1 134.7 L379.3 131.0 L379.4 135.8 L379.6 132.7 L379.8 136.5 L379.9 133.2 L380.1 134.0 L380.3 133.2 L380.4 135.5 L380.6 131.7 L380.8 134.4 L380.9 132.9 L381.1 134.1 L381.3 131.5 L381.4 134.5 L381.6 132.2 L381.8 135.4 L381.9 133.5 L382.1 133.9 L382.3 132.9 L382.4 134.9 L382.6 130.7 L382.8 134.6 L382.9 132.6 L383.1 134.1 L383.3 133.1 L383.4 137.2 L383.6 131.4 L383.8 135.7 L383.9 133.2 L384.1 134.6 L384.3 132.4 L384.4 136.9 L384.6 132.4 L384.8 134.2 L384.9 133.3 L385.1 134.0 L385.3 133.2 L385.4 134.4 L385.6 133.0 L385.8 134.0 L385.9 131.9 L386.1 134.3 L386.3 132.9 L386.4 133.9 L386.6 132.9 L386.8 134.6 L386.9 132.2 L387.1 133.9 L387.3 132.3 L387.4 133.7 L387.6 132.2 L387.8 136.5 L387.9 132.9 L388.1 136.7 L388.3 132.2 L388.4 134.0 L388.6 131.0 L388.8 133.9 L388.9 132.5 L389.1 134.3 L389.3 132.7 L389.4 135.0 L389.6 132.8 L389.8 137.2 L389.9 133.2 L390.1 133.5 L390.3 133.3 L390.4 134.8 L390.6 132.0 L390.8 134.1 L390.9 131.7 L391.1 133.9 L391.3 132.2 L391.4 134.3 L391.6 130.7 L391.8 134.1 L391.9 132.3 L392.1 135.3 L392.3 131.6 L392.4 135.2 L392.6 125.9 L392.8 133.6 L392.9 133.2 L393.1 135.1 L393.3 132.1 L393.4 136.2 L393.6 133.4 L393.8 134.3 L393.9 133.4 L394.1 133.7 L394.3 132.0 L394.4 133.6 L394.6 131.8 L394.8 134.1 L394.9 132.8 L395.1 134.7 L395.3 131.8 L395.4 135.3 L395.6 132.4 L395.8 134.4 L395.9 132.4 L396.1 135.4 L396.3 132.7 L396.4 133.9 L396.6 133.1 L396.8 135.0 L396.9 132.3 L397.1 134.9 L397.3 131.4 L397.4 133.6 L397.6 132.2 L397.8 133.8 L397.9 133.1 L398.1 134.2 L398.3 132.6 L398.4 134.5 L398.6 133.0 L398.8 134.8 L398.9 133.0 L399.1 135.4 L399.3 132.5 L399.4 135.3 L399.6 132.6 L399.8 133.6 L399.9 132.8 L400.1 134.4 L400.3 132.9 L400.4 134.7 L400.6 132.0 L400.8 133.9 L400.9 131.0 L401.1 134.6 L401.3 131.9 L401.4 135.1 L401.6 132.6 L401.8 135.1 L401.9 133.4 L402.1 134.4 L402.3 133.5 L402.4 134.0 L402.6 132.7 L402.8 135.6 L402.9 132.2 L403.1 134.6 L403.3 133.2 L403.4 134.1 L403.6 133.5 L403.8 134.2 L403.9 133.4 L404.1 133.7 L404.3 132.7 L404.4 133.8 L404.6 133.3 L404.8 134.2 L404.9 132.5 L405.1 135.0 L405.3 131.2 L405.4 135.0 L405.6 132.2 L405.8 136.1 L405.9 131.6 L406.1 135.9 L406.3 131.4 L406.4 134.7 L406.6 132.8 L406.8 136.1 L406.9 133.0 L407.1 133.8 L407.3 130.6 L407.4 134.2 L407.6 133.5 L407.8 137.2 L407.9 133.3 L408.1 134.7 L408.3 133.4 L408.4 136.0 L408.6 132.5 L408.8 134.6 L408.9 130.3 L409.1 135.4 L409.3 132.3 L409.4 133.7 L409.6 133.0 L409.8 134.3 L409.9 133.0 L410.1 134.2 L410.3 131.8 L410.4 133.5 L410.6 132.4 L410.8 133.8 L410.9 133.0 L411.1 133.9 L411.3 133.4 L411.4 134.0 L411.6 133.2 L411.8 134.7 L411.9 133.5 L412.1 134.2 L412.3 133.2 L412.4 134.4 L412.6 132.6 L412.8 134.2 L412.9 132.1 L413.1 134.0 L413.3 133.1 L413.4 134.7 L413.6 132.8 L413.8 133.7 L413.9 133.2 L414.1 134.4 L414.3 133.1 L414.4 133.7 L414.6 133.0 L414.8 136.1 L414.9 133.5 L415.1 133.8 L415.3 131.6 L415.4 134.1 L415.6 133.2 L415.8 134.4 L415.9 132.7 L416.1 133.8 L416.3 132.5 L416.4 134.9 L416.6 132.1 L416.8 134.6 L416.9 133.5 L417.1 135.6 L417.3 133.0 L417.4 133.7 L417.6 133.1 L417.8 135.0 L417.9 133.3 L418.1 134.2 L418.3 132.7 L418.4 135.3 L418.6 131.4 L418.8 134.5 L418.9 131.9 L419.1 135.2 L419.3 132.0 L419.4 134.1 L419.6 132.7 L419.8 135.9 L419.9 132.3 L420.1 134.4 L420.3 130.8 L420.4 133.8 L420.6 132.1 L420.8 135.3 L420.9 132.4 L421.1 134.8 L421.3 132.0 L421.4 134.8 L421.6 132.9 L421.8 133.6 L421.9 132.5 L422.1 135.0 L422.3 132.6 L422.4 134.1 L422.6 133.2 L422.8 134.9 L422.9 133.0 L423.1 134.8 L423.3 132.4 L423.4 134.6 L423.6 131.8 L423.8 133.9 L423.9 132.8 L424.1 134.1 L424.3 132.5 L424.4 134.2 L424.6 133.4 L424.8 135.7 L424.9 131.9 L425.1 134.1 L425.3 133.5 L425.4 134.7 L425.6 132.9 L425.8 133.9 L425.9 133.2 L426.1 134.4 L426.3 131.4 L426.4 133.7 L426.6 130.7 L426.8 134.3 L426.9 132.9 L427.1 135.0 L427.3 131.0 L427.4 134.2 L427.6 133.4 L427.8 135.4 L427.9 133.3 L428.1 135.3 L428.3 133.0 L428.4 133.8 L428.6 129.7 L428.8 134.7 L428.9 131.5 L429.1 136.7 L429.3 133.1 L429.4 134.5 L429.6 132.8 L429.8 135.3 L429.9 127.6 L430.1 133.7 L430.3 131.7 L430.4 133.7 L430.6 132.1 L430.8 133.8 L430.9 132.9 L431.1 139.5 L431.3 132.6 L431.4 136.7 L431.6 131.9 L431.8 134.7 L431.9 133.4 L432.1 133.6 L432.3 132.1 L432.4 136.1 L432.6 132.8 L432.8 133.9 L432.9 131.4 L433.1 134.5 L433.3 131.3 L433.4 134.2 L433.6 131.2 L433.8 137.9 L433.9 132.8 L434.1 135.9 L434.3 132.3 L434.4 134.0 L434.6 132.8 L434.8 133.9 L434.9 132.9 L435.1 135.6 L435.3 132.1 L435.4 133.9 L435.6 132.8 L435.8 135.1 L435.9 131.3 L436.1 134.1 L436.3 133.4 L436.4 134.3 L436.6 132.2 L436.8 134.0 L436.9 132.7 L437.1 134.4 L437.3 132.3 L437.4 133.8 L437.6 132.7 L437.8 134.6 L437.9 132.9 L438.1 134.6 L438.3 133.4 L438.4 134.0 L438.6 132.9 L438.8 135.0 L438.9 130.0 L439.1 134.0 L439.3 132.5 L439.4 134.1 L439.6 133.4 L439.8 133.9 L439.9 132.6 L440.1 134.4 L440.3 132.3 L440.4 136.3 L440.6 132.9 L440.8 137.3 L440.9 131.8 L441.1 136.4 L441.3 131.6 L441.4 135.0 L441.6 127.9 L441.8 136.6 L441.9 128.6 L442.1 138.9 L442.3 130.1 L442.4 139.0 L442.6 131.0 L442.8 137.0 L442.9 132.8 L443.1 136.5 L443.3 133.2 L443.4 133.7 L443.6 131.7 L443.8 136.3 L443.9 132.4 L444.1 134.8 L444.3 129.9 L444.4 138.3 L444.6 125.4 L444.8 143.4 L444.9 132.9 L445.1 139.7 L445.3 132.0 L445.4 141.3 L445.6 122.7 L445.8 134.1 L445.9 120.9 L446.1 137.2 L446.3 127.1 L446.4 133.6 L446.6 130.0 L446.8 135.8 L446.9 133.0 L447.1 133.8 L447.3 130.0 L447.4 139.0 L447.6 129.4 L447.8 135.6 L447.9 131.3 L448.1 136.6 L448.3 130.5 L448.4 133.7 L448.6 133.2 L448.8 142.0 L448.9 128.6 L449.1 137.8 L449.3 133.2 L449.4 137.0 L449.6 131.2 L449.8 135.5 L449.9 131.4 L450.1 137.3 L450.3 124.8 L450.4 134.4 L450.6 132.4 L450.8 134.6 L450.9 128.0 L451.1 134.2 L451.3 132.7 L451.4 133.6 L451.6 132.1 L451.8 135.1 L451.9 130.5 L452.1 135.0 L452.3 132.4 L452.4 134.9 L452.6 129.8 L452.8 134.1 L452.9 130.1 L453.1 133.6 L453.3 133.5 L453.4 137.2 L453.6 131.6 L453.8 135.8 L453.9 130.8 L454.1 136.5 L454.3 130.9 L454.4 136.9 L454.6 131.4 L454.8 136.8 L454.9 130.1 L455.1 137.8 L455.3 127.6 L455.4 139.9 L455.6 133.2 L455.8 135.2 L455.9 132.7 L456.1 136.0 L456.3 131.3 L456.4 135.0 L456.6 132.5 L456.8 135.2 L456.9 130.9 L457.1 136.1 L457.3 130.5 L457.4 133.8 L457.6 131.3 L457.8 137.1 L457.9 133.0 L458.1 136.3 L458.3 133.0 L458.4 134.2 L458.6 133.5 L458.8 133.6 L458.9 132.7 L459.1 137.1 L459.3 132.5 L459.4 134.7 L459.6 132.6 L459.8 136.2 L459.9 129.8 L460.1 135.6 L460.3 129.1 L460.4 135.5 L460.6 131.5 L460.8 134.3 L460.9 133.0 L461.1 134.1 L461.3 131.1 L461.4 133.6 L461.6 131.0 L461.8 135.2 L461.9 129.8 L462.1 134.3 L462.3 132.2 L462.4 135.4 L462.6 132.4 L462.8 133.6 L462.9 133.1 L463.1 135.8 L463.3 133.5 L463.4 133.8 L463.6 132.4 L463.8 136.9 L463.9 131.0 L464.1 133.8 L464.3 133.2 L464.4 134.4 L464.6 133.0 L464.8 133.9 L464.9 133.3 L465.1 134.1 L465.3 133.4 L465.4 134.7 L465.6 133.3 L465.8 134.1 L465.9 133.3 L466.1 134.1 L466.3 133.2 L466.4 135.0 L466.6 133.4 L466.8 133.7 L466.9 130.6 L467.1 134.0 L467.3 132.7 L467.4 135.4 L467.6 131.1 L467.8 136.8 L467.9 131.7 L468.1 134.7 L468.3 133.3 L468.4 135.3 L468.6 132.5 L468.8 135.8 L468.9 132.5 L469.1 134.2 L469.3 133.3 L469.4 134.9 L469.6 132.6 L469.8 135.6 L469.9 132.3 L470.1 134.4 L470.3 132.9 L470.4 135.7 L470.6 133.2 L470.8 135.6 L470.9 132.6 L471.1 134.2 L471.3 132.5 L471.4 135.9 L471.6 131.7 L471.8 133.9 L471.9 130.4 L472.1 134.0 L472.3 131.3 L472.4 133.7 L472.6 132.4 L472.8 134.6 L472.9 131.0 L473.1 133.8 L473.3 132.9 L473.4 134.4 L473.6 130.8 L473.8 134.3 L473.9 132.4 L474.1 134.0 L474.3 130.5 L474.4 133.7 L474.6 133.5 L474.8 136.2 L474.9 130.2 L475.1 134.4 L475.3 131.1 L475.4 138.6 L475.6 130.7 L475.8 137.3 L475.9 130.1 L476.1 134.3 L476.3 129.3 L476.4 135.4 L476.6 127.4 L476.8 134.9 L476.9 133.4 L477.1 137.7 L477.3 132.9 L477.4 135.7 L477.6 133.1 L477.8 136.8 L477.9 132.7 L478.1 135.4 L478.3 131.9 L478.4 134.5 L478.6 133.4 L478.8 137.7 L478.9 131.5 L479.1 136.8 L479.3 127.6 L479.4 134.3 L479.6 132.1 L479.8 138.4 L479.9 127.5 L480.1 134.9 L480.3 131.3 L480.4 137.4 L480.6 131.1 L480.8 135.3 L480.9 132.3 L481.1 133.6 L481.3 129.4 L481.4 135.4 L481.6 130.4 L481.8 139.4 L481.9 133.4 L482.1 137.5 L482.3 130.9 L482.4 134.5 L482.6 131.3 L482.8 133.6 L482.9 130.7 L483.1 137.2 L483.3 131.4 L483.4 141.9 L483.6 132.6 L483.8 134.3 L483.9 132.6 L484.1 134.3 L484.3 128.8 L484.4 134.3 L484.6 129.5 L484.8 134.9 L484.9 133.0 L485.1 134.7 L485.3 131.5 L485.4 138.0 L485.6 132.4 L485.8 135.9 L485.9 131.7 L486.1 134.5 L486.3 131.3 L486.4 134.7 L486.6 133.2 L486.8 133.6 L486.9 130.8 L487.1 134.1 L487.3 132.7 L487.4 135.8 L487.6 131.0 L487.8 134.8 L487.9 130.8 L488.1 133.6 L488.3 127.6 L488.4 134.6 L488.6 131.6 L488.8 134.5 L488.9 130.3 L489.1 135.1 L489.3 131.7 L489.4 137.3 L489.6 130.5 L489.8 135.1 L489.9 130.1 L490.1 133.8 L490.3 131.1 L490.4 136.2 L490.6 131.3 L490.8 134.8 L490.9 132.4 L491.1 133.6 L491.3 132.3 L491.4 135.7 L491.6 129.9 L491.8 137.9 L491.9 133.3 L492.1 135.7 L492.3 130.2 L492.4 135.2 L492.6 132.9 L492.8 135.3 L492.9 133.4 L493.1 133.6 L493.3 131.1 L493.4 134.7 L493.6 132.2 L493.8 134.0 L493.9 133.0 L494.1 134.6 L494.3 130.9 L494.4 135.3 L494.6 128.8 L494.8 134.6 L494.9 131.5 L495.1 134.7 L495.3 131.7 L495.4 136.2 L495.6 131.8 L495.8 135.4 L495.9 132.7 L496.1 135.8 L496.3 130.6 L496.4 140.2 L496.6 131.9 L496.8 138.3 L496.9 132.9 L497.1 134.7 L497.3 131.2 L497.4 133.8 L497.6 133.0 L497.8 134.3 L497.9 132.0 L498.1 133.8 L498.3 132.0 L498.4 134.3 L498.6 132.9 L498.8 134.4 L498.9 133.1 L499.1 133.7 L499.3 132.1 L499.4 134.1 L499.6 132.2 L499.8 133.8 L499.9 132.0 L500.1 134.8 L500.3 133.2 L500.4 136.4 L500.6 133.4 L500.8 135.0 L500.9 130.7 L501.1 135.9 L501.3 131.3 L501.4 133.8 L501.6 132.8 L501.8 135.8 L501.9 133.3 L502.1 134.6 L502.3 132.7 L502.4 134.0 L502.6 132.3 L502.8 134.3 L502.9 131.8 L503.1 134.5 L503.3 131.3 L503.4 134.8 L503.6 132.5 L503.8 134.5 L503.9 132.8 L504.1 135.6 L504.3 133.3 L504.4 134.5 L504.6 132.1 L504.8 136.2 L504.9 132.5 L505.1 136.3 L505.3 131.1 L505.4 134.9 L505.6 133.3 L505.8 134.8 L505.9 131.2 L506.1 133.9 L506.3 132.5 L506.4 135.1 L506.6 131.6 L506.8 133.6 L506.9 133.0 L507.1 134.2 L507.3 131.1 L507.4 135.6 L507.6 133.0 L507.8 135.0 L507.9 133.4 L508.1 133.7 L508.3 133.5 L508.4 135.1 L508.6 131.6 L508.8 133.7 L508.9 131.9 L509.1 133.7 L509.3 133.0 L509.4 135.2 L509.6 131.7 L509.8 134.8 L509.9 129.2 L510.1 135.2 L510.3 131.8 L510.4 133.6 L510.6 131.4 L510.8 133.9 L510.9 132.8 L511.1 135.7 L511.3 128.7 L511.4 133.6 L511.6 133.4 L511.8 134.6 L511.9 130.7 L512.1 133.6 L512.3 132.6 L512.5 134.2 L512.6 132.7 L512.8 134.6 L513.0 133.3 L513.1 133.6 L513.3 133.0 L513.5 133.6 L513.6 132.9 L513.8 134.0 L514.0 131.3 L514.1 134.5 L514.3 133.2 L514.5 133.6 L514.6 131.4 L514.8 134.7 L515.0 133.2 L515.1 134.1 L515.3 132.6 L515.5 134.4 L515.6 132.2 L515.8 135.7 L516.0 133.2 L516.1 134.7 L516.3 132.3 L516.5 134.3 L516.6 132.9 L516.8 133.9 L517.0 131.5 L517.1 134.3 L517.3 133.3 L517.5 134.5 L517.6 132.1 L517.8 135.5 L518.0 133.2 L518.1 137.8 L518.3 133.1 L518.5 133.6 L518.6 133.3 L518.8 135.1 L519.0 132.5 L519.1 134.0 L519.3 133.4 L519.5 135.0 L519.6 130.4 L519.8 134.2 L520.0 129.4 L520.1 137.8 L520.3 130.6 L520.5 142.7 L520.6 131.4 L520.8 133.6 L521.0 133.1 L521.1 139.7 L521.3 130.9 L521.5 138.4 L521.6 129.1 L521.8 133.7 L522.0 126.9 L522.1 136.2 L522.3 130.4 L522.5 134.0 L522.6 130.7 L522.8 134.7 L523.0 130.0 L523.1 138.0 L523.3 133.5 L523.5 136.5 L523.6 130.2 L523.8 134.6 L524.0 131.6 L524.1 135.7 L524.3 131.8 L524.5 134.5 L524.6 133.5 L524.8 135.4 L525.0 132.5 L525.1 139.6 L525.3 130.1 L525.5 136.7 L525.6 128.1 L525.8 133.7 L526.0 131.7 L526.1 135.7 L526.3 132.6 L526.5 134.7 L526.6 129.8 L526.8 135.4 L527.0 133.5 L527.1 134.3 L527.3 132.7 L527.5 134.1 L527.6 133.1 L527.8 137.5 L528.0 131.4 L528.1 138.4 L528.3 129.8 L528.5 134.1 L528.6 130.6 L528.8 134.2 L529.0 132.0 L529.1 139.0 L529.3 133.2 L529.5 134.1 L529.6 130.3 L529.8 134.7 L530.0 129.6 L530.1 135.6 L530.3 130.9 L530.5 136.2 L530.6 130.2 L530.8 134.8 L531.0 131.6 L531.1 133.6 L531.3 132.3 L531.5 137.7 L531.6 133.4 L531.8 134.2 L532.0 131.0 L532.1 135.5 L532.3 130.1 L532.5 138.1 L532.6 132.0 L532.8 134.5 L533.0 121.6 L533.1 133.9 L533.3 132.0 L533.5 139.2 L533.6 130.9 L533.8 134.1 L534.0 130.6 L534.1 136.6 L534.3 133.3 L534.5 137.4 L534.6 132.5 L534.8 135.0 L535.0 133.4 L535.1 135.0 L535.3 132.3 L535.5 141.1 L535.6 131.8 L535.8 135.2 L536.0 132.6 L536.1 137.9 L536.3 133.1 L536.5 135.8 L536.6 129.8 L536.8 135.3 L537.0 132.4 L537.1 133.6 L537.3 129.3 L537.5 139.6 L537.6 129.2 L537.8 136.9 L538.0 133.4 L538.1 136.4 L538.3 133.3 L538.5 137.3 L538.6 132.3 L538.8 135.6 L539.0 131.2 L539.1 136.2 L539.3 131.8 L539.5 133.8 L539.6 130.7 L539.8 134.4 L540.0 131.1 L540.1 135.3 L540.3 132.9 L540.5 134.3 L540.6 132.5 L540.8 135.6 L541.0 131.9 L541.1 135.2 L541.3 133.2 L541.5 136.6 L541.6 132.2 L541.8 134.8 L542.0 133.5 L542.1 135.4 L542.3 132.6 L542.5 133.8 L542.6 133.5 L542.8 134.0 L543.0 132.7 L543.1 136.9 L543.3 131.6 L543.5 138.1 L543.6 131.5 L543.8 136.2 L544.0 130.9 L544.1 134.4 L544.3 131.9 L544.5 134.6 L544.6 131.6 L544.8 137.6 L545.0 131.1 L545.1 136.5 L545.3 133.0 L545.5 134.6 L545.6 131.8 L545.8 133.6 L546.0 132.8 L546.1 134.0 L546.3 133.5 L546.5 136.2 L546.6 131.5 L546.8 134.1 L547.0 133.5 L547.1 136.3 L547.3 132.1 L547.5 140.5 L547.6 129.2 L547.8 134.0 L548.0 119.5 L548.1 135.8 L548.3 132.6 L548.5 135.8 L548.6 132.8 L548.8 136.1 L549.0 131.6 L549.1 134.1 L549.3 127.2 L549.5 134.2 L549.6 129.4 L549.8 139.1 L550.0 126.3 L550.1 133.9 L550.3 130.3 L550.5 135.0 L550.6 131.6 L550.8 139.9 L551.0 126.5 L551.1 135.1 L551.3 130.8 L551.5 143.9 L551.6 128.3 L551.8 139.7 L552.0 127.8 L552.1 138.2 L552.3 125.8 L552.5 143.4 L552.6 131.6 L552.8 133.6 L553.0 133.4 L553.1 134.2 L553.3 129.1 L553.5 139.6 L553.6 127.4 L553.8 134.5 L554.0 121.7 L554.1 134.3 L554.3 133.4 L554.5 136.6 L554.6 125.5 L554.8 134.0 L555.0 131.2 L555.1 133.6 L555.3 130.1 L555.5 135.9 L555.6 125.5 L555.8 144.3 L556.0 131.0 L556.1 134.8 L556.3 130.0 L556.5 134.0 L556.6 133.4 L556.8 134.2 L557.0 128.6 L557.1 136.0 L557.3 131.6 L557.5 134.0 L557.6 132.7 L557.8 135.5 L558.0 131.5 L558.1 138.3 L558.3 130.3 L558.5 138.1 L558.6 129.2 L558.8 134.8 L559.0 133.2 L559.1 137.3 L559.3 132.5 L559.5 140.3 L559.6 132.0 L559.8 135.0 L560.0 130.2 L560.1 136.1 L560.3 131.3 L560.5 135.9 L560.6 130.3 L560.8 135.5 L561.0 131.5 L561.1 136.4 L561.3 131.6 L561.5 140.1 L561.6 132.1 L561.8 137.9 L562.0 131.2 L562.1 134.5 L562.3 132.1 L562.5 138.1 L562.6 130.8 L562.8 134.5 L563.0 126.9 L563.1 134.3 L563.3 132.9 L563.5 137.7 L563.6 131.1 L563.8 138.7 L564.0 129.3 L564.1 137.1 L564.3 129.8 L564.5 133.9 L564.6 131.3 L564.8 137.1 L565.0 125.4 L565.1 134.1 L565.3 127.8 L565.5 135.3 L565.6 132.1 L565.8 133.9 L566.0 131.0 L566.1 137.1 L566.3 128.6 L566.5 133.6 L566.6 130.8 L566.8 138.0 L567.0 130.0 L567.1 134.5 L567.3 129.8 L567.5 142.0 L567.6 131.3 L567.8 141.2 L568.0 129.1 L568.1 134.8 L568.3 132.9 L568.5 137.8 L568.6 129.8 L568.8 138.4 L569.0 130.9 L569.1 137.6 L569.3 132.1 L569.5 133.8 L569.6 133.2 L569.8 138.2 L570.0 125.0 L570.1 139.6 L570.3 124.3 L570.5 138.9 L570.6 127.8 L570.8 137.6 L571.0 132.7 L571.1 139.2 L571.3 129.9 L571.5 134.6 L571.6 126.7 L571.8 138.8 L572.0 124.5 L572.1 136.6 L572.3 128.1 L572.5 139.4 L572.6 130.5 L572.8 141.1 L573.0 130.4 L573.1 134.9 L573.3 133.1 L573.5 135.8 L573.6 129.8 L573.8 139.1 L574.0 127.4 L574.1 136.6 L574.3 133.1 L574.5 137.0 L574.6 132.4 L574.8 134.2 L575.0 129.8 L575.1 133.6 L575.3 133.4 L575.5 136.5 L575.6 132.2 L575.8 140.9 L576.0 129.6 L576.1 133.6 L576.3 122.0 L576.5 139.3 L576.6 131.5 L576.8 147.0 L577.0 126.9 L577.1 138.2 L577.3 125.5 L577.5 138.3 L577.6 125.1 L577.8 141.4 L578.0 115.0 L578.1 150.1 L578.3 113.1 L578.5 139.6 L578.6 126.5 L578.8 140.8 L579.0 125.1 L579.1 152.6 L579.3 133.0 L579.5 133.9 L579.6 129.6 L579.8 134.7 L580.0 115.3 L580.1 142.7 L580.3 124.9 L580.5 135.0 L580.6 119.2 L580.8 143.8 L581.0 123.5 L581.1 144.7 L581.3 125.4 L581.5 145.4 L581.6 130.1 L581.8 142.2 L582.0 128.6 L582.1 138.4 L582.3 131.7 L582.5 134.9 L582.6 132.0 L582.8 143.7 L583.0 128.1 L583.1 134.1 L583.3 126.7 L583.5 134.2 L583.6 129.3 L583.8 146.6 L584.0 123.0 L584.1 133.9 L584.3 126.0 L584.5 135.5 L584.6 132.5 L584.8 144.6 L585.0 125.0 L585.1 133.6 L585.3 132.8 L585.5 138.2 L585.6 120.1 L585.8 138.4 L586.0 114.0 L586.1 141.3 L586.3 131.5 L586.5 133.6 L586.6 120.6 L586.8 138.9 L587.0 133.3 L587.1 139.8 L587.3 130.4 L587.5 139.7 L587.6 129.1 L587.8 136.5 L588.0 115.9 L588.1 135.7 L588.3 119.1 L588.5 147.0 L588.6 129.5 L588.8 136.9 L589.0 119.0 L589.1 134.9 L589.3 133.3 L589.5 142.2 L589.6 132.7 L589.8 145.8 L590.0 131.5 L590.1 142.5 L590.3 122.0 L590.5 138.9 L590.6 121.7 L590.8 138.5 L591.0 128.6 L591.1 138.3 L591.3 133.0 L591.5 133.8 L591.6 123.8 L591.8 133.6 L592.0 118.4 L592.1 141.7 L592.3 125.7 L592.5 136.0 L592.6 131.9 L592.8 141.2 L593.0 126.7 L593.1 138.1 L593.3 128.2 L593.5 134.3 L593.6 131.5 L593.8 138.5 L594.0 126.5 L594.1 142.3 L594.3 132.1 L594.5 139.5 L594.6 129.2 L594.8 133.6 L595.0 131.1 L595.1 134.7 L595.3 126.2 L595.5 135.2 L595.6 131.6 L595.8 134.7 L596.0 114.6 L596.1 137.2 L596.3 128.4 L596.5 134.5 L596.6 127.5 L596.8 143.1 L597.0 118.5 L597.1 135.2 L597.3 126.2 L597.5 137.0 L597.6 123.3 L597.8 136.9 L598.0 129.3 L598.1 135.6 L598.3 127.7 L598.5 134.4 L598.6 133.4 L598.8 136.7 L599.0 131.0 L599.1 133.8 L599.3 128.8 L599.5 134.5 L599.6 124.7 L599.8 145.2 L600.0 130.1 L600.1 145.8 L600.3 131.1 L600.5 139.2 L600.6 133.2 L600.8 138.0 L601.0 133.2 L601.1 135.0 L601.3 127.9 L601.5 133.8 L601.6 125.5 L601.8 136.0 L602.0 126.3 L602.1 141.1 L602.3 130.5 L602.5 138.2 L602.6 132.1 L602.8 143.7 L603.0 125.6 L603.1 139.6 L603.3 125.9 L603.5 138.4 L603.6 127.1 L603.8 134.3 L604.0 130.4 L604.1 142.0 L604.3 133.5 L604.5 139.8 L604.6 130.2 L604.8 143.1 L605.0 133.1 L605.1 137.6 L605.3 128.4 L605.5 134.9 L605.6 131.3 L605.8 141.9 L606.0 125.2 L606.1 142.5 L606.3 131.6 L606.5 146.1 L606.6 132.2 L606.8 135.3 L607.0 133.0 L607.1 133.7 L607.3 131.6 L607.5 140.7 L607.6 129.3 L607.8 136.2 L608.0 133.3 L608.1 134.6 L608.3 132.5 L608.5 142.5 L608.6 131.5 L608.8 137.9 L609.0 130.5 L609.1 141.3 L609.3 128.9 L609.5 136.9 L609.6 130.2 L609.8 139.4 L610.0 132.7 L610.1 142.1 L610.3 132.4 L610.5 137.7 L610.6 130.9 L610.8 139.2 L611.0 128.1 L611.1 136.0 L611.3 128.5 L611.5 137.2 L611.6 128.9 L611.8 142.0 L612.0 120.0 L612.1 140.9 L612.3 129.6 L612.5 135.7 L612.6 133.5 L612.8 139.5 L613.0 133.2 L613.1 135.9 L613.3 131.1 L613.5 137.4 L613.6 132.3 L613.8 134.6 L614.0 132.3 L614.1 142.7 L614.3 130.7 L614.5 136.9 L614.6 126.2 L614.8 139.0 L615.0 123.2 L615.1 139.8 L615.3 127.5 L615.5 133.7 L615.6 132.3 L615.8 136.3 L616.0 125.3 L616.1 134.4 L616.3 122.7 L616.5 138.5 L616.6 132.1 L616.8 138.8 L617.0 131.9 L617.1 133.7 L617.3 131.5 L617.5 133.7 L617.6 131.0 L617.8 136.2 L618.0 128.7 L618.1 138.5 L618.3 131.6 L618.5 138.1 L618.6 130.6 L618.8 135.3 L619.0 129.9 L619.1 135.6 L619.3 125.9 L619.5 133.8 L619.6 124.9 L619.8 135.0 L620.0 127.3 L620.1 134.6 L620.3 123.2 L620.5 137.0 L620.6 131.3 L620.8 134.3 L621.0 133.3 L621.1 135.4 L621.3 131.5 L621.5 134.3 L621.6 132.2 L621.8 140.7 L622.0 132.7 L622.1 136.8 L622.3 128.2 L622.5 137.4 L622.6 132.6 L622.8 140.1 L623.0 132.1 L623.1 136.5 L623.3 130.9 L623.5 136.9 L623.6 125.0 L623.8 135.9 L624.0 125.3 L624.1 133.9 L624.3 129.3 L624.5 135.5 L624.6 130.5 L624.8 145.5 L625.0 122.1 L625.1 134.0 L625.3 132.3 L625.5 135.5 L625.6 128.8 L625.8 136.8 L626.0 127.6 L626.1 133.8 L626.3 124.5 L626.5 145.5 L626.6 125.5 L626.8 138.8 L627.0 129.4 L627.1 137.8 L627.3 127.9 L627.5 135.0 L627.6 130.5 L627.8 136.2 L628.0 132.0 L628.1 134.0 L628.3 129.6 L628.5 139.9 L628.6 130.3 L628.8 137.2 L629.0 131.7 L629.1 136.0 L629.3 130.0 L629.5 138.8 L629.6 130.9 L629.8 134.7 L630.0 132.0 L630.1 138.2 L630.3 129.2 L630.5 135.2 L630.6 124.5 L630.8 141.2 L631.0 125.2 L631.1 140.1 L631.3 130.8 L631.5 135.8 L631.6 127.4 L631.8 140.5 L632.0 131.1 L632.1 135.2 L632.3 129.1 L632.5 140.0 L632.6 132.9 L632.8 135.0 L633.0 130.3 L633.1 133.9 L633.3 130.9 L633.5 135.7 L633.6 129.3 L633.8 137.0 L634.0 126.5 L634.1 140.6 L634.3 133.5 L634.5 134.8 L634.6 130.8 L634.8 133.8 L635.0 131.3 L635.1 136.9 L635.3 131.9 L635.5 136.0 L635.6 132.6 L635.8 135.8 L636.0 130.2 L636.1 135.3 L636.3 133.3 L636.5 134.5 L636.6 129.6 L636.8 134.2 L637.0 128.9 L637.1 136.4 L637.3 126.2 L637.5 136.0 L637.6 129.0 L637.8 134.6 L638.0 131.7 L638.1 137.5 L638.3 131.6 L638.5 133.8 L638.6 132.8 L638.8 133.6 L639.0 122.5 L639.1 135.4 L639.3 129.6 L639.5 143.2 L639.6 124.3 L639.8 134.5 L640.0 132.0 L640.1 134.9 L640.3 128.9 L640.5 136.0 L640.6 128.8 L640.8 137.0 L641.0 126.6 L641.1 134.2 L641.3 130.8 L641.5 135.8 L641.6 130.5 L641.8 135.8 L642.0 132.6 L642.1 141.2 L642.3 128.2 L642.5 135.4 L642.6 133.5 L642.8 139.9 L643.0 127.4 L643.1 137.5 L643.3 122.4 L643.5 135.8 L643.6 127.6 L643.8 136.6 L644.0 132.6 L644.1 144.2 L644.3 129.5 L644.5 135.0 L644.6 126.9 L644.8 134.2 L645.0 128.2 L645.1 136.8 L645.3 133.5 L645.5 133.7 L645.6 125.6" fill="none" stroke="#0000ff" stroke-width="0.42" stroke-linejoin="bevel"/><path d="M42.7 129.4 L43.7 129.8 L44.7 130.5 L45.7 129.8 L46.7 129.7 L47.7 131.1 L48.7 131.7 L49.7 131.6 L50.7 130.4 L51.7 129.1 L52.7 128.9 L53.7 129.7 L54.7 129.4 L55.7 130.2 L56.7 129.9 L57.7 129.8 L58.7 129.9 L59.7 129.1 L60.7 130.5 L61.7 130.9 L62.7 130.7 L63.7 130.9 L64.7 131.3 L65.7 130.5 L66.7 129.5 L67.7 129.3 L68.7 130.2 L69.7 130.2 L70.7 131.3 L71.7 131.6 L72.7 131.3 L73.7 130.9 L74.7 130.1 L75.7 129.4 L76.7 128.9 L77.7 129.7 L78.7 131.1 L79.7 131.8 L80.7 131.8 L81.7 132.1 L82.7 132.3 L83.7 132.3 L84.7 132.2 L85.7 132.2 L86.7 132.0 L87.7 131.7 L88.7 131.8 L89.7 132.0 L90.7 132.2 L91.7 132.4 L92.7 132.4 L93.7 131.9 L94.7 132.1 L95.7 132.1 L96.7 131.0 L97.7 129.8 L98.7 130.7 L99.7 131.4 L100.7 131.0 L101.7 131.3 L102.7 132.0 L103.7 130.9 L104.7 130.5 L105.7 131.0 L106.7 131.8 L107.7 131.3 L108.7 130.3 L109.7 131.0 L110.7 130.3 L111.7 130.4 L112.7 130.8 L113.7 130.2 L114.7 129.6 L115.7 130.2 L116.7 130.9 L117.7 131.6 L118.7 130.1 L119.7 130.6 L120.7 130.8 L121.7 130.8 L122.7 131.4 L123.7 130.9 L124.7 129.8 L125.7 129.0 L126.7 130.4 L127.7 131.0 L128.7 131.4 L129.7 131.1 L130.7 130.5 L131.7 130.9 L132.7 130.1 L133.7 131.1 L134.7 131.5 L135.7 131.2 L136.7 131.1 L137.7 131.2 L138.7 131.0 L139.7 130.6 L140.7 130.3 L141.7 131.1 L142.7 131.5 L143.7 131.0 L144.7 131.5 L145.7 131.0 L146.7 130.5 L147.7 130.9 L148.7 131.4 L149.7 131.0 L150.7 130.7 L151.7 130.8 L152.7 130.3 L153.7 129.6 L154.7 129.9 L155.7 130.5 L156.7 130.1 L157.7 130.3 L158.7 130.8 L159.7 130.5 L160.7 130.9 L161.7 131.0 L162.7 131.4 L163.7 131.9 L164.7 132.4 L165.7 132.2 L166.7 132.2 L167.7 132.0 L168.7 131.9 L169.7 132.0 L170.7 132.2 L171.7 132.2 L172.7 132.2 L173.7 132.3 L174.7 132.2 L175.7 132.2 L176.7 132.4 L177.7 132.4 L178.7 132.2 L179.7 132.1 L180.7 132.3 L181.7 132.4 L182.7 132.5 L183.7 132.2 L184.7 132.4 L185.7 132.2 L186.7 132.2 L187.7 132.3 L188.7 132.3 L189.7 132.3 L190.7 132.5 L191.7 132.4 L192.7 132.2 L193.7 131.4 L194.7 131.7 L195.7 131.8 L196.7 131.6 L197.7 131.8 L198.7 132.2 L199.7 132.3 L200.7 132.5 L201.7 132.1 L202.7 131.6 L203.7 131.7 L204.7 131.8 L205.7 131.7 L206.7 131.4 L207.7 130.8 L208.7 131.0 L209.7 131.6 L210.7 131.8 L211.7 132.1 L212.7 132.0 L213.7 131.7 L214.7 131.1 L215.7 132.1 L216.7 132.0 L217.7 131.9 L218.7 132.0 L219.7 131.1 L220.7 130.6 L221.7 127.9 L222.7 128.1 L223.7 127.2 L224.7 128.1 L225.7 128.4 L226.7 128.8 L227.7 128.8 L228.7 128.8 L229.7 129.5 L230.7 129.5 L231.7 130.0 L232.7 130.2 L233.7 130.1 L234.7 130.2 L235.7 130.7 L236.7 131.3 L237.7 131.5 L238.7 131.8 L239.7 131.7 L240.7 131.5 L241.7 131.4 L242.7 131.8 L243.7 131.9 L244.7 131.7 L245.7 131.4 L246.7 132.3 L247.7 132.2 L248.7 132.2 L249.7 132.3 L250.7 132.2 L251.7 132.4 L252.7 131.9 L253.7 131.8 L254.7 131.6 L255.7 130.8 L256.7 130.8 L257.7 131.0 L258.7 130.8 L259.7 129.5 L260.7 130.4 L261.7 131.0 L262.7 131.4 L263.7 131.0 L264.7 131.6 L265.7 132.1 L266.7 131.8 L267.7 131.2 L268.7 131.0 L269.7 130.8 L270.7 130.8 L271.7 130.3 L272.7 129.7 L273.7 129.8 L274.7 131.1 L275.7 130.2 L276.7 130.1 L277.7 130.9 L278.7 129.7 L279.7 129.3 L280.7 128.5 L281.7 129.6 L282.7 130.3 L283.7 129.6 L284.7 129.6 L285.7 129.5 L286.7 130.6 L287.7 130.5 L288.7 130.9 L289.7 129.8 L290.7 127.6 L291.7 128.6 L292.7 129.4 L293.7 130.0 L294.7 130.0 L295.7 129.1 L296.7 130.5 L297.7 130.9 L298.7 130.9 L299.7 130.8 L300.7 130.2 L301.7 129.3 L302.7 128.9 L303.7 129.3 L304.7 131.1 L305.7 131.2 L306.7 132.0 L307.7 132.3 L308.7 131.9 L309.7 132.2 L310.7 132.3 L311.7 132.3 L312.7 132.0 L313.7 132.2 L314.7 132.2 L315.7 132.2 L316.7 132.2 L317.7 132.1 L318.7 132.2 L319.7 132.2 L320.7 132.4 L321.7 132.2 L322.7 132.4 L323.7 132.2 L324.7 132.3 L325.7 132.5 L326.7 132.3 L327.7 132.2 L328.7 132.3 L329.7 132.5 L330.7 132.3 L331.7 132.2 L332.7 132.3 L333.7 132.5 L334.7 132.2 L335.7 132.4 L336.7 132.4 L337.7 132.4 L338.7 132.4 L339.7 132.2 L340.7 132.4 L341.7 132.2 L342.7 132.5 L343.7 132.2 L344.7 132.2 L345.7 132.3 L346.7 132.2 L347.7 132.2 L348.7 132.5 L349.7 132.3 L350.7 132.5 L351.7 132.3 L352.7 132.4 L353.7 132.5 L354.7 132.2 L355.7 132.2 L356.7 132.4 L357.7 132.2 L358.7 132.2 L359.7 132.3 L360.7 132.4 L361.7 132.3 L362.7 132.2 L363.7 132.5 L364.7 132.2 L365.7 132.5 L366.7 132.3 L367.7 132.4 L368.7 132.3 L369.7 132.2 L370.7 132.2 L371.7 132.2 L372.7 132.5 L373.7 132.4 L374.7 132.4 L375.7 132.2 L376.7 132.4 L377.7 132.3 L378.7 132.3 L379.7 132.4 L380.7 132.3 L381.7 132.3 L382.7 132.5 L383.7 132.2 L384.7 132.5 L385.7 132.4 L386.7 132.3 L387.7 132.3 L388.7 132.2 L389.7 132.4 L390.7 132.4 L391.7 132.2 L392.7 132.2 L393.7 132.3 L394.7 132.3 L395.7 132.5 L396.7 132.3 L397.7 132.5 L398.7 132.2 L399.7 132.4 L400.7 132.3 L401.7 132.2 L402.7 132.3 L403.7 132.2 L404.7 132.4 L405.7 132.5 L406.7 132.3 L407.7 132.2 L408.7 132.3 L409.7 132.4 L410.7 132.4 L411.7 132.2 L412.7 132.4 L413.7 132.2 L414.7 132.3 L415.7 132.4 L416.7 132.2 L417.7 132.1 L418.7 132.5 L419.7 132.4 L420.7 132.3 L421.7 132.3 L422.7 132.4 L423.7 132.4 L424.7 132.2 L425.7 132.4 L426.7 132.4 L427.7 132.2 L428.7 132.2 L429.7 132.5 L430.7 132.3 L431.7 132.3 L432.7 132.3 L433.7 132.4 L434.7 132.3 L435.7 132.4 L436.7 132.5 L437.7 132.2 L438.7 132.3 L439.7 132.4 L440.7 132.1 L441.7 132.1 L442.7 132.3 L443.7 131.3 L444.7 130.4 L445.7 130.6 L446.7 130.1 L447.7 130.7 L448.7 130.9 L449.7 131.0 L450.7 131.6 L451.7 132.2 L452.7 132.2 L453.7 132.1 L454.7 132.1 L455.7 132.2 L456.7 132.5 L457.7 132.3 L458.7 132.4 L459.7 132.1 L460.7 132.3 L461.7 132.2 L462.7 132.4 L463.7 132.2 L464.7 132.5 L465.7 132.3 L466.7 132.4 L467.7 132.4 L468.7 132.2 L469.7 132.5 L470.7 132.2 L471.7 132.2 L472.7 132.2 L473.7 132.2 L474.7 132.2 L475.7 132.0 L476.7 131.7 L477.7 132.0 L478.7 131.8 L479.7 131.5 L480.7 131.0 L481.7 131.1 L482.7 131.2 L483.7 131.9 L484.7 131.7 L485.7 131.8 L486.7 132.0 L487.7 132.0 L488.7 132.4 L489.7 132.2 L490.7 132.2 L491.7 132.3 L492.7 132.2 L493.7 132.3 L494.7 132.3 L495.7 132.1 L496.7 132.5 L497.7 132.4 L498.7 132.3 L499.7 132.2 L500.7 132.2 L501.7 132.4 L502.7 132.4 L503.7 132.2 L504.7 132.4 L505.7 132.3 L506.7 132.4 L507.7 132.4 L508.7 132.3 L509.7 132.4 L510.7 132.3 L511.7 132.2 L512.7 132.5 L513.7 132.4 L514.7 132.3 L515.7 132.2 L516.7 132.2 L517.7 132.3 L518.7 131.8 L519.7 131.2 L520.7 131.3 L521.7 131.8 L522.7 131.5 L523.7 131.5 L524.7 131.8 L525.7 131.6 L526.7 131.4 L527.7 131.4 L528.7 132.0 L529.7 132.1 L530.7 132.2 L531.7 131.7 L532.7 132.0 L533.7 131.6 L534.7 131.6 L535.7 132.3 L536.7 132.3 L537.7 131.6 L538.7 131.7 L539.7 132.3 L540.7 132.3 L541.7 132.3 L542.7 132.0 L543.7 131.8 L544.7 131.8 L545.7 131.8 L546.7 131.6 L547.7 131.2 L548.7 131.3 L549.7 131.8 L550.7 131.6 L551.7 130.4 L552.7 130.6 L553.7 131.1 L554.7 130.2 L555.7 131.4 L556.7 131.7 L557.7 131.7 L558.7 130.9 L559.7 130.7 L560.7 130.9 L561.7 131.6 L562.7 131.4 L563.7 131.7 L564.7 131.4 L565.7 131.5 L566.7 131.7 L567.7 130.6 L568.7 130.5 L569.7 131.2 L570.7 131.2 L571.7 130.5 L572.7 130.6 L573.7 131.3 L574.7 131.7 L575.7 131.2 L576.7 129.4 L577.7 127.8 L578.7 128.6 L579.7 129.3 L580.7 128.8 L581.7 128.1 L582.7 129.1 L583.7 128.1 L584.7 127.9 L585.7 129.0 L586.7 129.5 L587.7 128.5 L588.7 127.9 L589.7 129.6 L590.7 129.5 L591.7 129.3 L592.7 130.0 L593.7 130.2 L594.7 130.3 L595.7 129.6 L596.7 130.4 L597.7 130.5 L598.7 131.2 L599.7 130.3 L600.7 129.7 L601.7 130.7 L602.7 131.0 L603.7 130.6 L604.7 130.4 L605.7 130.1 L606.7 129.6 L607.7 129.9 L608.7 130.7 L609.7 130.9 L610.7 130.9 L611.7 130.4 L612.7 131.2 L613.7 130.6 L614.7 130.9 L615.7 130.7 L616.7 130.7 L617.7 130.9 L618.7 131.2 L619.7 130.7 L620.7 131.2 L621.7 130.8 L622.7 130.8 L623.7 130.5 L624.7 130.6 L625.7 130.5 L626.7 131.0 L627.7 130.9 L628.7 131.3 L629.7 131.7 L630.7 130.6 L631.7 129.9 L632.7 131.1 L633.7 131.2 L634.7 131.4 L635.7 131.5 L636.7 131.7 L637.7 131.2 L638.7 130.7 L639.7 130.8 L640.7 131.4 L641.7 131.4 L642.7 130.9 L643.7 131.1 L644.7 130.8 L645.7 130.0 L645.7 137.1 L644.7 136.3 L643.7 136.0 L642.7 136.2 L641.7 135.7 L640.7 135.7 L639.7 136.2 L638.7 136.4 L637.7 135.8 L636.7 135.3 L635.7 135.6 L634.7 135.6 L633.7 135.9 L632.7 135.9 L631.7 137.2 L630.7 136.4 L629.7 135.3 L628.7 135.8 L627.7 136.1 L626.7 136.1 L625.7 136.6 L624.7 136.4 L623.7 136.5 L622.7 136.3 L621.7 136.2 L620.7 135.8 L619.7 136.3 L618.7 135.9 L617.7 136.1 L616.7 136.4 L615.7 136.3 L614.7 136.2 L613.7 136.4 L612.7 135.9 L611.7 136.6 L610.7 136.1 L609.7 136.2 L608.7 136.4 L607.7 137.2 L606.7 137.5 L605.7 137.0 L604.7 136.7 L603.7 136.5 L602.7 136.0 L601.7 136.4 L600.7 137.4 L599.7 136.8 L598.7 135.8 L597.7 136.5 L596.7 136.7 L595.7 137.4 L594.7 136.8 L593.7 136.8 L592.7 137.1 L591.7 137.8 L590.7 137.6 L589.7 137.5 L588.7 139.2 L587.7 138.6 L586.7 137.6 L585.7 138.1 L584.7 139.2 L583.7 138.9 L582.7 138.0 L581.7 138.9 L580.7 138.2 L579.7 137.7 L578.7 138.4 L577.7 139.2 L576.7 137.6 L575.7 135.9 L574.7 135.3 L573.7 135.8 L572.7 136.4 L571.7 136.6 L570.7 135.8 L569.7 135.8 L568.7 136.6 L567.7 136.4 L566.7 135.3 L565.7 135.6 L564.7 135.6 L563.7 135.3 L562.7 135.6 L561.7 135.4 L560.7 136.2 L559.7 136.4 L558.7 136.2 L557.7 135.4 L556.7 135.3 L555.7 135.6 L554.7 136.8 L553.7 136.0 L552.7 136.5 L551.7 136.7 L550.7 135.4 L549.7 135.3 L548.7 135.7 L547.7 135.8 L546.7 135.5 L545.7 135.2 L544.7 135.2 L543.7 135.2 L542.7 135.0 L541.7 134.7 L540.7 134.8 L539.7 134.8 L538.7 135.3 L537.7 135.4 L536.7 134.8 L535.7 134.8 L534.7 135.4 L533.7 135.4 L532.7 135.1 L531.7 135.3 L530.7 134.8 L529.7 135.0 L528.7 135.1 L527.7 135.6 L526.7 135.6 L525.7 135.5 L524.7 135.3 L523.7 135.6 L522.7 135.6 L521.7 135.2 L520.7 135.7 L519.7 135.8 L518.7 135.2 L517.7 134.8 L516.7 134.9 L515.7 134.8 L514.7 134.7 L513.7 134.7 L512.7 134.6 L511.7 134.8 L510.7 134.8 L509.7 134.6 L508.7 134.8 L507.7 134.6 L506.7 134.6 L505.7 134.7 L504.7 134.7 L503.7 134.9 L502.7 134.6 L501.7 134.6 L500.7 134.9 L499.7 134.9 L498.7 134.8 L497.7 134.7 L496.7 134.6 L495.7 134.9 L494.7 134.7 L493.7 134.8 L492.7 134.9 L491.7 134.8 L490.7 134.8 L489.7 134.8 L488.7 134.7 L487.7 135.0 L486.7 135.1 L485.7 135.3 L484.7 135.3 L483.7 135.2 L482.7 135.8 L481.7 136.0 L480.7 136.0 L479.7 135.6 L478.7 135.2 L477.7 135.0 L476.7 135.3 L475.7 135.1 L474.7 134.9 L473.7 134.8 L472.7 134.9 L471.7 134.8 L470.7 134.9 L469.7 134.6 L468.7 134.8 L467.7 134.7 L466.7 134.7 L465.7 134.8 L464.7 134.6 L463.7 134.9 L462.7 134.7 L461.7 134.9 L460.7 134.8 L459.7 135.0 L458.7 134.7 L457.7 134.8 L456.7 134.6 L455.7 134.9 L454.7 134.9 L453.7 135.0 L452.7 134.8 L451.7 134.8 L450.7 135.4 L449.7 136.1 L448.7 136.1 L447.7 136.4 L446.7 137.0 L445.7 136.5 L444.7 136.7 L443.7 135.8 L442.7 134.7 L441.7 134.9 L440.7 135.0 L439.7 134.7 L438.7 134.7 L437.7 134.8 L436.7 134.6 L435.7 134.7 L434.7 134.7 L433.7 134.6 L432.7 134.7 L431.7 134.7 L430.7 134.7 L429.7 134.6 L428.7 134.8 L427.7 134.8 L426.7 134.7 L425.7 134.7 L424.7 134.9 L423.7 134.6 L422.7 134.7 L421.7 134.8 L420.7 134.7 L419.7 134.6 L418.7 134.6 L417.7 134.9 L416.7 134.9 L415.7 134.6 L414.7 134.8 L413.7 134.9 L412.7 134.6 L411.7 134.9 L410.7 134.7 L409.7 134.6 L408.7 134.7 L407.7 134.9 L406.7 134.8 L405.7 134.6 L404.7 134.6 L403.7 134.9 L402.7 134.8 L401.7 134.9 L400.7 134.8 L399.7 134.7 L398.7 134.8 L397.7 134.6 L396.7 134.7 L395.7 134.6 L394.7 134.7 L393.7 134.8 L392.7 134.8 L391.7 134.8 L390.7 134.7 L389.7 134.7 L388.7 134.9 L387.7 134.8 L386.7 134.7 L385.7 134.6 L384.7 134.6 L383.7 134.8 L382.7 134.6 L381.7 134.8 L380.7 134.8 L379.7 134.7 L378.7 134.7 L377.7 134.7 L376.7 134.6 L375.7 134.9 L374.7 134.7 L373.7 134.7 L372.7 134.6 L371.7 134.9 L370.7 134.9 L369.7 134.9 L368.7 134.8 L367.7 134.7 L366.7 134.7 L365.7 134.6 L364.7 134.9 L363.7 134.6 L362.7 134.8 L361.7 134.7 L360.7 134.6 L359.7 134.7 L358.7 134.8 L357.7 134.9 L356.7 134.7 L355.7 134.8 L354.7 134.9 L353.7 134.6 L352.7 134.6 L351.7 134.8 L350.7 134.6 L349.7 134.7 L348.7 134.6 L347.7 134.8 L346.7 134.8 L345.7 134.8 L344.7 134.8 L343.7 134.9 L342.7 134.6 L341.7 134.9 L340.7 134.7 L339.7 134.9 L338.7 134.7 L337.7 134.7 L336.7 134.7 L335.7 134.6 L334.7 134.9 L333.7 134.6 L332.7 134.7 L331.7 134.8 L330.7 134.7 L329.7 134.6 L328.7 134.7 L327.7 134.8 L326.7 134.7 L325.7 134.6 L324.7 134.7 L323.7 134.8 L322.7 134.6 L321.7 134.9 L320.7 134.7 L319.7 134.9 L318.7 134.9 L317.7 134.9 L316.7 134.8 L315.7 134.9 L314.7 134.8 L313.7 134.9 L312.7 135.0 L311.7 134.7 L310.7 134.8 L309.7 134.9 L308.7 135.2 L307.7 134.7 L306.7 135.1 L305.7 135.8 L304.7 135.9 L303.7 137.8 L302.7 138.2 L301.7 137.8 L300.7 136.9 L299.7 136.3 L298.7 136.1 L297.7 136.2 L296.7 136.6 L295.7 138.0 L294.7 137.0 L293.7 137.0 L292.7 137.7 L291.7 138.5 L290.7 139.4 L289.7 137.2 L288.7 136.2 L287.7 136.5 L286.7 136.5 L285.7 137.6 L284.7 137.5 L283.7 137.4 L282.7 136.7 L281.7 137.5 L280.7 138.5 L279.7 137.7 L278.7 137.4 L277.7 136.2 L276.7 136.9 L275.7 136.9 L274.7 136.0 L273.7 137.3 L272.7 137.4 L271.7 136.8 L270.7 136.3 L269.7 136.2 L268.7 136.0 L267.7 135.8 L266.7 135.3 L265.7 135.0 L264.7 135.4 L263.7 136.1 L262.7 135.6 L261.7 136.1 L260.7 136.7 L259.7 137.6 L258.7 136.3 L257.7 136.0 L256.7 136.2 L255.7 136.2 L254.7 135.5 L253.7 135.3 L252.7 135.1 L251.7 134.7 L250.7 134.9 L249.7 134.7 L248.7 134.8 L247.7 134.8 L246.7 134.8 L245.7 135.6 L244.7 135.3 L243.7 135.2 L242.7 135.3 L241.7 135.7 L240.7 135.5 L239.7 135.4 L238.7 135.2 L237.7 135.6 L236.7 135.8 L235.7 136.3 L234.7 136.9 L233.7 137.0 L232.7 136.8 L231.7 137.0 L230.7 137.6 L229.7 137.6 L228.7 138.2 L227.7 138.3 L226.7 138.2 L225.7 138.6 L224.7 138.9 L223.7 139.8 L222.7 139.0 L221.7 139.1 L220.7 136.4 L219.7 135.9 L218.7 135.1 L217.7 135.2 L216.7 135.1 L215.7 135.0 L214.7 135.9 L213.7 135.3 L212.7 135.1 L211.7 135.0 L210.7 135.3 L209.7 135.5 L208.7 136.1 L207.7 136.3 L206.7 135.7 L205.7 135.3 L204.7 135.3 L203.7 135.3 L202.7 135.5 L201.7 134.9 L200.7 134.6 L199.7 134.8 L198.7 134.9 L197.7 135.2 L196.7 135.4 L195.7 135.2 L194.7 135.3 L193.7 135.6 L192.7 134.8 L191.7 134.7 L190.7 134.6 L189.7 134.7 L188.7 134.7 L187.7 134.8 L186.7 134.9 L185.7 134.9 L184.7 134.7 L183.7 134.9 L182.7 134.6 L181.7 134.6 L180.7 134.8 L179.7 134.9 L178.7 134.9 L177.7 134.7 L176.7 134.7 L175.7 134.8 L174.7 134.9 L173.7 134.8 L172.7 134.9 L171.7 134.9 L170.7 134.9 L169.7 135.0 L168.7 135.1 L167.7 135.0 L166.7 134.8 L165.7 134.8 L164.7 134.6 L163.7 135.2 L162.7 135.7 L161.7 136.1 L160.7 136.2 L159.7 136.5 L158.7 136.3 L157.7 136.7 L156.7 137.0 L155.7 136.5 L154.7 137.2 L153.7 137.5 L152.7 136.8 L151.7 136.2 L150.7 136.4 L149.7 136.1 L148.7 135.6 L147.7 136.1 L146.7 136.6 L145.7 136.1 L144.7 135.6 L143.7 136.0 L142.7 135.6 L141.7 135.9 L140.7 136.7 L139.7 136.5 L138.7 136.1 L137.7 135.9 L136.7 135.9 L135.7 135.9 L134.7 135.6 L133.7 136.0 L132.7 137.0 L131.7 136.2 L130.7 136.6 L129.7 136.0 L128.7 135.6 L127.7 136.1 L126.7 136.7 L125.7 138.1 L124.7 137.3 L123.7 136.1 L122.7 135.7 L121.7 136.3 L120.7 136.3 L119.7 136.5 L118.7 136.9 L117.7 135.5 L116.7 136.1 L115.7 136.8 L114.7 137.4 L113.7 136.8 L112.7 136.3 L111.7 136.7 L110.7 136.7 L109.7 136.1 L108.7 136.8 L107.7 135.8 L106.7 135.2 L105.7 136.1 L104.7 136.6 L103.7 136.1 L102.7 135.1 L101.7 135.8 L100.7 136.1 L99.7 135.6 L98.7 136.3 L97.7 137.2 L96.7 136.1 L95.7 135.0 L94.7 135.0 L93.7 135.2 L92.7 134.7 L91.7 134.6 L90.7 134.8 L89.7 135.0 L88.7 135.3 L87.7 135.4 L86.7 135.1 L85.7 134.9 L84.7 134.8 L83.7 134.8 L82.7 134.7 L81.7 135.0 L80.7 135.3 L79.7 135.3 L78.7 136.0 L77.7 137.3 L76.7 138.1 L75.7 137.6 L74.7 137.0 L73.7 136.2 L72.7 135.8 L71.7 135.5 L70.7 135.8 L69.7 136.9 L68.7 136.8 L67.7 137.8 L66.7 137.5 L65.7 136.5 L64.7 135.7 L63.7 136.2 L62.7 136.3 L61.7 136.2 L60.7 136.6 L59.7 137.9 L58.7 137.2 L57.7 137.2 L56.7 137.1 L55.7 136.8 L54.7 137.6 L53.7 137.3 L52.7 138.1 L51.7 138.0 L50.7 136.7 L49.7 135.5 L48.7 135.4 L47.7 136.0 L46.7 137.4 L45.7 137.2 L44.7 136.6 L43.7 137.3 L42.7 137.7Z" fill="#0000ff"/><path d="M43.5 119.0V144.6M49.8 114.7V151.5M51.4 120.6V146.0M59.7 123.5V144.6M70.0 121.0V146.0M74.4 122.0V142.2M162.0 131.5V156.0M174.0 131.5V143.0M179.7 131.5V148.6M181.6 131.5V147.6M195.5 131.5V150.4M200.0 127.0V147.4M205.2 127.5V153.4M210.7 124.0V176.4M216.2 123.5V174.4M223.5 116.0V155.0M228.0 131.5V175.0M229.7 103.5V151.0M240.0 131.5V143.0M242.0 131.5V143.0M248.4 126.0V135.5M258.7 125.0V155.4M261.0 131.5V144.5M264.7 116.0V148.4M268.4 123.0V148.5M272.4 121.0V175.0M285.0 121.0V140.0M292.0 120.0V145.0M296.0 121.0V146.0M300.0 122.0V144.0M306.8 131.5V147.5M316.8 131.5V163.4M319.3 125.0V135.5M327.8 127.0V158.0M341.0 131.5V142.4M345.8 131.5V155.8M366.4 122.0V159.0M375.0 131.5V156.8M388.4 131.5V140.0M401.4 131.5V155.8M404.3 126.0V146.0M412.5 63.2V170.0M416.6 107.5V223.7M423.4 131.5V157.0M425.4 127.0V135.5M443.6 131.5V160.0M450.5 114.7V142.0M466.0 131.5V142.0M469.7 131.5V142.0M480.0 122.0V145.5M494.9 131.5V143.4M509.4 127.4V158.2M518.0 123.7V142.0M525.5 124.0V149.6M537.2 127.0V153.9M550.1 119.3V150.8M555.0 122.0V148.0M577.5 108.9V166.8M584.7 82.3V179.0M585.5 95.0V160.0M591.5 120.0V148.0M595.2 112.6V153.9M598.9 117.5V142.0M606.9 117.5V151.4M615.0 124.0V146.0M620.0 122.0V148.0M634.7 131.5V155.0M640.2 118.7V150.2M645.0 120.0V165.0" fill="none" stroke="#0000ff" stroke-width="0.5" stroke-opacity="0.75"/></g>
<text x="8.70" y="148.50" font-size="12" text-anchor="middle" font-weight="bold" transform="rotate(-90 8.7 148.5)" fill="#000">X (nT)</text>
<rect x="836.0" y="46.0" width="604.0" height="205.0" fill="#00008f"/>
<defs><linearGradient id="g0_0" gradientUnits="userSpaceOnUse" x1="0" y1="166.0" x2="0" y2="251.0"><stop offset="0.000" stop-color="#000000"/><stop offset="0.115" stop-color="#434343"/><stop offset="0.288" stop-color="#6d6d6d"/><stop offset="0.461" stop-color="#7a7a7a"/><stop offset="0.576" stop-color="#7a7a7a"/><stop offset="0.746" stop-color="#666666"/><stop offset="0.894" stop-color="#616161"/><stop offset="1.000" stop-color="#616161"/></linearGradient><linearGradient id="g0_1" gradientUnits="userSpaceOnUse" x1="0" y1="95.0" x2="0" y2="251.0"><stop offset="0.000" stop-color="#000000"/><stop offset="0.141" stop-color="#898989"/><stop offset="0.288" stop-color="#939393"/><stop offset="0.449" stop-color="#929292"/><stop offset="0.673" stop-color="#838383"/><stop offset="1.000" stop-color="#7c7c7c"/></linearGradient><linearGradient id="g0_2" gradientUnits="userSpaceOnUse" x1="0" y1="122.0" x2="0" y2="196.0"><stop offset="0.000" stop-color="#000000"/><stop offset="0.086" stop-color="#2e2e2e"/><stop offset="0.216" stop-color="#515151"/><stop offset="0.346" stop-color="#686868"/><stop offset="0.432" stop-color="#6a6a6a"/><stop offset="0.659" stop-color="#404040"/><stop offset="0.858" stop-color="#1d1d1d"/><stop offset="1.000" stop-color="#000000"/></linearGradient><linearGradient id="g0_3" gradientUnits="userSpaceOnUse" x1="0" y1="230.0" x2="0" y2="251.0"><stop offset="0.000" stop-color="#000000"/><stop offset="0.080" stop-color="#1f1f1f"/><stop offset="0.300" stop-color="#353535"/><stop offset="0.550" stop-color="#393939"/><stop offset="0.750" stop-color="#3d3d3d"/><stop offset="0.900" stop-color="#434343"/><stop offset="1.000" stop-color="#464646"/></linearGradient><linearGradient id="g0_4" gradientUnits="userSpaceOnUse" x1="0" y1="137.0" x2="0" y2="251.0"><stop offset="0.000" stop-color="#000000"/><stop offset="0.111" stop-color="#505050"/><stop offset="0.276" stop-color="#808080"/><stop offset="0.442" stop-color="#8f8f8f"/><stop offset="0.553" stop-color="#909090"/><stop offset="0.732" stop-color="#777777"/><stop offset="0.888" stop-color="#727272"/><stop offset="1.000" stop-color="#727272"/></linearGradient><linearGradient id="g0_5" gradientUnits="userSpaceOnUse" x1="0" y1="215.0" x2="0" y2="251.0"><stop offset="0.000" stop-color="#000000"/><stop offset="0.080" stop-color="#1c1c1c"/><stop offset="0.300" stop-color="#2e2e2e"/><stop offset="0.550" stop-color="#2f2f2f"/><stop offset="0.750" stop-color="#343434"/><stop offset="0.900" stop-color="#393939"/><stop offset="1.000" stop-color="#3c3c3c"/></linearGradient><linearGradient id="g0_6" gradientUnits="userSpaceOnUse" x1="0" y1="205.0" x2="0" y2="251.0"><stop offset="0.000" stop-color="#000000"/><stop offset="0.080" stop-color="#191919"/><stop offset="0.300" stop-color="#2b2b2b"/><stop offset="0.550" stop-color="#2e2e2e"/><stop offset="0.750" stop-color="#323232"/><stop offset="0.900" stop-color="#373737"/><stop offset="1.000" stop-color="#393939"/></linearGradient><linearGradient id="g0_7" gradientUnits="userSpaceOnUse" x1="0" y1="225.0" x2="0" y2="251.0"><stop offset="0.000" stop-color="#000000"/><stop offset="0.080" stop-color="#1f1f1f"/><stop offset="0.300" stop-color="#323232"/><stop offset="0.550" stop-color="#343434"/><stop offset="0.750" stop-color="#393939"/><stop offset="0.900" stop-color="#3f3f3f"/><stop offset="1.000" stop-color="#424242"/></linearGradient><linearGradient id="g0_8" gradientUnits="userSpaceOnUse" x1="0" y1="215.0" x2="0" y2="251.0"><stop offset="0.000" stop-color="#000000"/><stop offset="0.080" stop-color="#1c1c1c"/><stop offset="0.300" stop-color="#2e2e2e"/><stop offset="0.550" stop-color="#2f2f2f"/><stop offset="0.750" stop-color="#343434"/><stop offset="0.900" stop-color="#393939"/><stop offset="1.000" stop-color="#3c3c3c"/></linearGradient><linearGradient id="g0_9" gradientUnits="userSpaceOnUse" x1="0" y1="159.0" x2="0" y2="251.0"><stop offset="0.000" stop-color="#000000"/><stop offset="0.100" stop-color="#363636"/><stop offset="0.250" stop-color="#5b5b5b"/><stop offset="0.400" stop-color="#676767"/><stop offset="0.500" stop-color="#676767"/><stop offset="0.700" stop-color="#545454"/><stop offset="0.875" stop-color="#4f4f4f"/><stop offset="1.000" stop-color="#4e4e4e"/></linearGradient><linearGradient id="g0_10" gradientUnits="userSpaceOnUse" x1="0" y1="127.0" x2="0" y2="215.0"><stop offset="0.000" stop-color="#000000"/><stop offset="0.075" stop-color="#343434"/><stop offset="0.188" stop-color="#5b5b5b"/><stop offset="0.300" stop-color="#757575"/><stop offset="0.375" stop-color="#777777"/><stop offset="0.625" stop-color="#464646"/><stop offset="0.844" stop-color="#202020"/><stop offset="1.000" stop-color="#000000"/></linearGradient><linearGradient id="g0_11" gradientUnits="userSpaceOnUse" x1="0" y1="166.0" x2="0" y2="251.0"><stop offset="0.000" stop-color="#000000"/><stop offset="0.127" stop-color="#292929"/><stop offset="0.318" stop-color="#454545"/><stop offset="0.508" stop-color="#4e4e4e"/><stop offset="0.635" stop-color="#4e4e4e"/><stop offset="0.781" stop-color="#414141"/><stop offset="0.909" stop-color="#3e3e3e"/><stop offset="1.000" stop-color="#3e3e3e"/></linearGradient><linearGradient id="g0_12" gradientUnits="userSpaceOnUse" x1="0" y1="180.0" x2="0" y2="215.0"><stop offset="0.000" stop-color="#000000"/><stop offset="0.114" stop-color="#161616"/><stop offset="0.286" stop-color="#272727"/><stop offset="0.457" stop-color="#303030"/><stop offset="0.571" stop-color="#313131"/><stop offset="0.743" stop-color="#1f1f1f"/><stop offset="0.893" stop-color="#0e0e0e"/><stop offset="1.000" stop-color="#000000"/></linearGradient><linearGradient id="g0_13" gradientUnits="userSpaceOnUse" x1="0" y1="137.0" x2="0" y2="203.0"><stop offset="0.000" stop-color="#000000"/><stop offset="0.100" stop-color="#161616"/><stop offset="0.250" stop-color="#272727"/><stop offset="0.400" stop-color="#323232"/><stop offset="0.500" stop-color="#333333"/><stop offset="0.700" stop-color="#202020"/><stop offset="0.875" stop-color="#0f0f0f"/><stop offset="1.000" stop-color="#000000"/></linearGradient><linearGradient id="g0_14" gradientUnits="userSpaceOnUse" x1="0" y1="147.0" x2="0" y2="210.0"><stop offset="0.000" stop-color="#000000"/><stop offset="0.105" stop-color="#212121"/><stop offset="0.262" stop-color="#3a3a3a"/><stop offset="0.419" stop-color="#474747"/><stop offset="0.524" stop-color="#474747"/><stop offset="0.714" stop-color="#2d2d2d"/><stop offset="0.881" stop-color="#151515"/><stop offset="1.000" stop-color="#000000"/></linearGradient><linearGradient id="g0_15" gradientUnits="userSpaceOnUse" x1="0" y1="112.0" x2="0" y2="196.0"><stop offset="0.000" stop-color="#000000"/><stop offset="0.071" stop-color="#292929"/><stop offset="0.179" stop-color="#474747"/><stop offset="0.286" stop-color="#5e5e5e"/><stop offset="0.357" stop-color="#626262"/><stop offset="0.614" stop-color="#3a3a3a"/><stop offset="0.839" stop-color="#1a1a1a"/><stop offset="1.000" stop-color="#000000"/></linearGradient><linearGradient id="g0_16" gradientUnits="userSpaceOnUse" x1="0" y1="46.0" x2="0" y2="215.0"><stop offset="0.000" stop-color="#606060"/><stop offset="0.028" stop-color="#484848"/><stop offset="0.071" stop-color="#545454"/><stop offset="0.114" stop-color="#6f6f6f"/><stop offset="0.142" stop-color="#797979"/><stop offset="0.485" stop-color="#545454"/><stop offset="0.786" stop-color="#252525"/><stop offset="1.000" stop-color="#000000"/></linearGradient><linearGradient id="g0_17" gradientUnits="userSpaceOnUse" x1="0" y1="46.0" x2="0" y2="215.0"><stop offset="0.000" stop-color="#5d5d5d"/><stop offset="0.052" stop-color="#464646"/><stop offset="0.130" stop-color="#515151"/><stop offset="0.208" stop-color="#6b6b6b"/><stop offset="0.260" stop-color="#747474"/><stop offset="0.556" stop-color="#4b4b4b"/><stop offset="0.815" stop-color="#212121"/><stop offset="1.000" stop-color="#000000"/></linearGradient><linearGradient id="g0_18" gradientUnits="userSpaceOnUse" x1="0" y1="90.0" x2="0" y2="251.0"><stop offset="0.000" stop-color="#000000"/><stop offset="0.161" stop-color="#303030"/><stop offset="0.404" stop-color="#4c4c4c"/><stop offset="0.646" stop-color="#545454"/><stop offset="0.807" stop-color="#555555"/><stop offset="0.884" stop-color="#4a4a4a"/><stop offset="0.952" stop-color="#494949"/><stop offset="1.000" stop-color="#4a4a4a"/></linearGradient><linearGradient id="g0_19" gradientUnits="userSpaceOnUse" x1="0" y1="160.0" x2="0" y2="251.0"><stop offset="0.000" stop-color="#000000"/><stop offset="0.080" stop-color="#383838"/><stop offset="0.300" stop-color="#545454"/><stop offset="0.550" stop-color="#565656"/><stop offset="0.750" stop-color="#606060"/><stop offset="0.900" stop-color="#6b6b6b"/><stop offset="1.000" stop-color="#717171"/></linearGradient><linearGradient id="g0_20" gradientUnits="userSpaceOnUse" x1="0" y1="98.0" x2="0" y2="251.0"><stop offset="0.000" stop-color="#000000"/><stop offset="0.209" stop-color="#a2a2a2"/><stop offset="0.503" stop-color="#e8e8e8"/><stop offset="0.699" stop-color="#efefef"/><stop offset="0.830" stop-color="#c3c3c3"/><stop offset="1.000" stop-color="#d9d9d9"/></linearGradient><linearGradient id="g0_21" gradientUnits="userSpaceOnUse" x1="0" y1="166.0" x2="0" y2="251.0"><stop offset="0.000" stop-color="#000000"/><stop offset="0.080" stop-color="#323232"/><stop offset="0.300" stop-color="#525252"/><stop offset="0.550" stop-color="#555555"/><stop offset="0.750" stop-color="#5d5d5d"/><stop offset="0.900" stop-color="#676767"/><stop offset="1.000" stop-color="#6c6c6c"/></linearGradient><linearGradient id="g0_22" gradientUnits="userSpaceOnUse" x1="0" y1="46.0" x2="0" y2="251.0"><stop offset="0.000" stop-color="#ababab"/><stop offset="0.155" stop-color="#808080"/><stop offset="0.388" stop-color="#939393"/><stop offset="0.620" stop-color="#a6a6a6"/><stop offset="0.776" stop-color="#a6a6a6"/><stop offset="0.865" stop-color="#909090"/><stop offset="0.944" stop-color="#8c8c8c"/><stop offset="1.000" stop-color="#8d8d8d"/></linearGradient><linearGradient id="g0_23" gradientUnits="userSpaceOnUse" x1="0" y1="137.0" x2="0" y2="196.0"><stop offset="0.000" stop-color="#000000"/><stop offset="0.095" stop-color="#1c1c1c"/><stop offset="0.237" stop-color="#313131"/><stop offset="0.380" stop-color="#3d3d3d"/><stop offset="0.475" stop-color="#3e3e3e"/><stop offset="0.685" stop-color="#262626"/><stop offset="0.869" stop-color="#111111"/><stop offset="1.000" stop-color="#000000"/></linearGradient><linearGradient id="g0_24" gradientUnits="userSpaceOnUse" x1="0" y1="166.0" x2="0" y2="251.0"><stop offset="0.000" stop-color="#000000"/><stop offset="0.080" stop-color="#2a2a2a"/><stop offset="0.300" stop-color="#444444"/><stop offset="0.550" stop-color="#474747"/><stop offset="0.750" stop-color="#4d4d4d"/><stop offset="0.900" stop-color="#565656"/><stop offset="1.000" stop-color="#5a5a5a"/></linearGradient><linearGradient id="g0_25" gradientUnits="userSpaceOnUse" x1="0" y1="66.0" x2="0" y2="181.0"><stop offset="0.000" stop-color="#000000"/><stop offset="0.120" stop-color="#3f3f3f"/><stop offset="0.300" stop-color="#656565"/><stop offset="0.480" stop-color="#717171"/><stop offset="0.600" stop-color="#727272"/><stop offset="0.760" stop-color="#4a4a4a"/><stop offset="0.900" stop-color="#242424"/><stop offset="1.000" stop-color="#000000"/></linearGradient><linearGradient id="g0_26" gradientUnits="userSpaceOnUse" x1="0" y1="83.0" x2="0" y2="196.0"><stop offset="0.000" stop-color="#000000"/><stop offset="0.101" stop-color="#2e2e2e"/><stop offset="0.252" stop-color="#515151"/><stop offset="0.404" stop-color="#5f5f5f"/><stop offset="0.504" stop-color="#606060"/><stop offset="0.703" stop-color="#3c3c3c"/><stop offset="0.876" stop-color="#1c1c1c"/><stop offset="1.000" stop-color="#000000"/></linearGradient><linearGradient id="g0_27" gradientUnits="userSpaceOnUse" x1="0" y1="88.0" x2="0" y2="251.0"><stop offset="0.000" stop-color="#000000"/><stop offset="0.052" stop-color="#343434"/><stop offset="0.129" stop-color="#5b5b5b"/><stop offset="0.206" stop-color="#777777"/><stop offset="0.258" stop-color="#828282"/><stop offset="0.555" stop-color="#5d5d5d"/><stop offset="0.814" stop-color="#525252"/><stop offset="1.000" stop-color="#4f4f4f"/></linearGradient><linearGradient id="g0_28" gradientUnits="userSpaceOnUse" x1="0" y1="190.0" x2="0" y2="251.0"><stop offset="0.000" stop-color="#000000"/><stop offset="0.080" stop-color="#272727"/><stop offset="0.300" stop-color="#404040"/><stop offset="0.550" stop-color="#424242"/><stop offset="0.750" stop-color="#484848"/><stop offset="0.900" stop-color="#505050"/><stop offset="1.000" stop-color="#545454"/></linearGradient><linearGradient id="g0_29" gradientUnits="userSpaceOnUse" x1="0" y1="215.0" x2="0" y2="251.0"><stop offset="0.000" stop-color="#000000"/><stop offset="0.080" stop-color="#1f1f1f"/><stop offset="0.300" stop-color="#323232"/><stop offset="0.550" stop-color="#343434"/><stop offset="0.750" stop-color="#393939"/><stop offset="0.900" stop-color="#3f3f3f"/><stop offset="1.000" stop-color="#424242"/></linearGradient><linearGradient id="g0_30" gradientUnits="userSpaceOnUse" x1="0" y1="186.0" x2="0" y2="251.0"><stop offset="0.000" stop-color="#000000"/><stop offset="0.080" stop-color="#242424"/><stop offset="0.300" stop-color="#3b3b3b"/><stop offset="0.550" stop-color="#3d3d3d"/><stop offset="0.750" stop-color="#434343"/><stop offset="0.900" stop-color="#4a4a4a"/><stop offset="1.000" stop-color="#4e4e4e"/></linearGradient><linearGradient id="g0_31" gradientUnits="userSpaceOnUse" x1="0" y1="46.0" x2="0" y2="215.0"><stop offset="0.000" stop-color="#2d2d2d"/><stop offset="0.064" stop-color="#212121"/><stop offset="0.160" stop-color="#272727"/><stop offset="0.256" stop-color="#333333"/><stop offset="0.320" stop-color="#383838"/><stop offset="0.592" stop-color="#232323"/><stop offset="0.830" stop-color="#101010"/><stop offset="1.000" stop-color="#000000"/></linearGradient><linearGradient id="g0_32" gradientUnits="userSpaceOnUse" x1="0" y1="166.0" x2="0" y2="246.0"><stop offset="0.000" stop-color="#000000"/><stop offset="0.123" stop-color="#212121"/><stop offset="0.306" stop-color="#3a3a3a"/><stop offset="0.490" stop-color="#434343"/><stop offset="0.613" stop-color="#434343"/><stop offset="0.768" stop-color="#2c2c2c"/><stop offset="0.903" stop-color="#151515"/><stop offset="1.000" stop-color="#000000"/></linearGradient><linearGradient id="g0_33" gradientUnits="userSpaceOnUse" x1="0" y1="46.0" x2="0" y2="186.0"><stop offset="0.000" stop-color="#7e7e7e"/><stop offset="0.006" stop-color="#5f5f5f"/><stop offset="0.014" stop-color="#6e6e6e"/><stop offset="0.023" stop-color="#919191"/><stop offset="0.029" stop-color="#9e9e9e"/><stop offset="0.417" stop-color="#6e6e6e"/><stop offset="0.757" stop-color="#2e2e2e"/><stop offset="1.000" stop-color="#000000"/></linearGradient><linearGradient id="g0_34" gradientUnits="userSpaceOnUse" x1="0" y1="46.0" x2="0" y2="120.0"><stop offset="0.000" stop-color="#2d2d2d"/><stop offset="0.038" stop-color="#212121"/><stop offset="0.095" stop-color="#272727"/><stop offset="0.151" stop-color="#333333"/><stop offset="0.189" stop-color="#383838"/><stop offset="0.514" stop-color="#252525"/><stop offset="0.797" stop-color="#101010"/><stop offset="1.000" stop-color="#000000"/></linearGradient><linearGradient id="g0_35" gradientUnits="userSpaceOnUse" x1="0" y1="213.0" x2="0" y2="251.0"><stop offset="0.000" stop-color="#000000"/><stop offset="0.080" stop-color="#232323"/><stop offset="0.300" stop-color="#393939"/><stop offset="0.550" stop-color="#3b3b3b"/><stop offset="0.750" stop-color="#414141"/><stop offset="0.900" stop-color="#474747"/><stop offset="1.000" stop-color="#4b4b4b"/></linearGradient><linearGradient id="g0_36" gradientUnits="userSpaceOnUse" x1="0" y1="105.0" x2="0" y2="240.0"><stop offset="0.000" stop-color="#000000"/><stop offset="0.104" stop-color="#3d3d3d"/><stop offset="0.259" stop-color="#6b6b6b"/><stop offset="0.415" stop-color="#7d7d7d"/><stop offset="0.519" stop-color="#7d7d7d"/><stop offset="0.711" stop-color="#4f4f4f"/><stop offset="0.880" stop-color="#252525"/><stop offset="1.000" stop-color="#000000"/></linearGradient><linearGradient id="g0_37" gradientUnits="userSpaceOnUse" x1="0" y1="160.0" x2="0" y2="240.0"><stop offset="0.000" stop-color="#000000"/><stop offset="0.100" stop-color="#161616"/><stop offset="0.250" stop-color="#272727"/><stop offset="0.400" stop-color="#303030"/><stop offset="0.500" stop-color="#303030"/><stop offset="0.700" stop-color="#1e1e1e"/><stop offset="0.875" stop-color="#0e0e0e"/><stop offset="1.000" stop-color="#000000"/></linearGradient><linearGradient id="g0_38" gradientUnits="userSpaceOnUse" x1="0" y1="149.0" x2="0" y2="251.0"><stop offset="0.000" stop-color="#000000"/><stop offset="0.402" stop-color="#797979"/><stop offset="0.745" stop-color="#9f9f9f"/><stop offset="1.000" stop-color="#8a8a8a"/></linearGradient><linearGradient id="g0_39" gradientUnits="userSpaceOnUse" x1="0" y1="46.0" x2="0" y2="215.0"><stop offset="0.000" stop-color="#252525"/><stop offset="0.064" stop-color="#1c1c1c"/><stop offset="0.160" stop-color="#202020"/><stop offset="0.256" stop-color="#2b2b2b"/><stop offset="0.320" stop-color="#2e2e2e"/><stop offset="0.592" stop-color="#1f1f1f"/><stop offset="0.830" stop-color="#0e0e0e"/><stop offset="1.000" stop-color="#000000"/></linearGradient><linearGradient id="g0_40" gradientUnits="userSpaceOnUse" x1="0" y1="156.0" x2="0" y2="251.0"><stop offset="0.000" stop-color="#000000"/><stop offset="0.080" stop-color="#272727"/><stop offset="0.300" stop-color="#404040"/><stop offset="0.550" stop-color="#424242"/><stop offset="0.750" stop-color="#484848"/><stop offset="0.900" stop-color="#505050"/><stop offset="1.000" stop-color="#545454"/></linearGradient><linearGradient id="g0_41" gradientUnits="userSpaceOnUse" x1="0" y1="134.0" x2="0" y2="251.0"><stop offset="0.000" stop-color="#000000"/><stop offset="0.113" stop-color="#1c1c1c"/><stop offset="0.282" stop-color="#313131"/><stop offset="0.451" stop-color="#373737"/><stop offset="0.564" stop-color="#373737"/><stop offset="0.738" stop-color="#2d2d2d"/><stop offset="0.891" stop-color="#2b2b2b"/><stop offset="1.000" stop-color="#2a2a2a"/></linearGradient><linearGradient id="g0_42" gradientUnits="userSpaceOnUse" x1="0" y1="120.0" x2="0" y2="251.0"><stop offset="0.000" stop-color="#000000"/><stop offset="0.122" stop-color="#4e4e4e"/><stop offset="0.305" stop-color="#888888"/><stop offset="0.489" stop-color="#9d9d9d"/><stop offset="0.611" stop-color="#9d9d9d"/><stop offset="0.766" stop-color="#838383"/><stop offset="0.903" stop-color="#7c7c7c"/><stop offset="1.000" stop-color="#7b7b7b"/></linearGradient><linearGradient id="g0_43" gradientUnits="userSpaceOnUse" x1="0" y1="150.0" x2="0" y2="251.0"><stop offset="0.000" stop-color="#000000"/><stop offset="0.139" stop-color="#464646"/><stop offset="0.347" stop-color="#787878"/><stop offset="0.554" stop-color="#888888"/><stop offset="0.693" stop-color="#888888"/><stop offset="0.816" stop-color="#747474"/><stop offset="0.923" stop-color="#6f6f6f"/><stop offset="1.000" stop-color="#6f6f6f"/></linearGradient><linearGradient id="g0_44" gradientUnits="userSpaceOnUse" x1="0" y1="128.0" x2="0" y2="200.0"><stop offset="0.000" stop-color="#000000"/><stop offset="0.089" stop-color="#292929"/><stop offset="0.222" stop-color="#474747"/><stop offset="0.356" stop-color="#5b5b5b"/><stop offset="0.444" stop-color="#5c5c5c"/><stop offset="0.667" stop-color="#383838"/><stop offset="0.861" stop-color="#1a1a1a"/><stop offset="1.000" stop-color="#000000"/></linearGradient><linearGradient id="g0_45" gradientUnits="userSpaceOnUse" x1="0" y1="209.0" x2="0" y2="251.0"><stop offset="0.000" stop-color="#000000"/><stop offset="0.080" stop-color="#272727"/><stop offset="0.300" stop-color="#404040"/><stop offset="0.550" stop-color="#424242"/><stop offset="0.750" stop-color="#484848"/><stop offset="0.900" stop-color="#505050"/><stop offset="1.000" stop-color="#545454"/></linearGradient><linearGradient id="g0_46" gradientUnits="userSpaceOnUse" x1="0" y1="180.0" x2="0" y2="251.0"><stop offset="0.000" stop-color="#000000"/><stop offset="0.563" stop-color="#808080"/><stop offset="1.000" stop-color="#8c8c8c"/></linearGradient><linearGradient id="g0_47" gradientUnits="userSpaceOnUse" x1="0" y1="57.0" x2="0" y2="251.0"><stop offset="0.000" stop-color="#000000"/><stop offset="0.222" stop-color="#747474"/><stop offset="0.428" stop-color="#b0b0b0"/><stop offset="0.582" stop-color="#cacaca"/><stop offset="0.737" stop-color="#dadada"/><stop offset="1.000" stop-color="#d6d6d6"/></linearGradient><linearGradient id="g0_48" gradientUnits="userSpaceOnUse" x1="0" y1="120.0" x2="0" y2="251.0"><stop offset="0.000" stop-color="#000000"/><stop offset="0.122" stop-color="#535353"/><stop offset="0.305" stop-color="#8a8a8a"/><stop offset="0.489" stop-color="#9a9a9a"/><stop offset="0.611" stop-color="#9b9b9b"/><stop offset="0.766" stop-color="#828282"/><stop offset="0.903" stop-color="#7c7c7c"/><stop offset="1.000" stop-color="#7c7c7c"/></linearGradient><linearGradient id="g0_49" gradientUnits="userSpaceOnUse" x1="0" y1="46.0" x2="0" y2="251.0"><stop offset="0.000" stop-color="#464646"/><stop offset="0.263" stop-color="#8b8b8b"/><stop offset="0.459" stop-color="#c0c0c0"/><stop offset="0.580" stop-color="#d1d1d1"/><stop offset="0.678" stop-color="#f5f5f5"/><stop offset="1.000" stop-color="#fefefe"/></linearGradient><linearGradient id="g0_50" gradientUnits="userSpaceOnUse" x1="0" y1="151.0" x2="0" y2="251.0"><stop offset="0.000" stop-color="#000000"/><stop offset="0.080" stop-color="#404040"/><stop offset="0.300" stop-color="#666666"/><stop offset="0.550" stop-color="#696969"/><stop offset="0.750" stop-color="#737373"/><stop offset="0.900" stop-color="#808080"/><stop offset="1.000" stop-color="#878787"/></linearGradient><linearGradient id="g0_51" gradientUnits="userSpaceOnUse" x1="0" y1="140.0" x2="0" y2="251.0"><stop offset="0.000" stop-color="#000000"/><stop offset="0.270" stop-color="#a3a3a3"/><stop offset="0.541" stop-color="#c8c8c8"/><stop offset="0.811" stop-color="#cecece"/><stop offset="1.000" stop-color="#adadad"/></linearGradient><linearGradient id="g0_52" gradientUnits="userSpaceOnUse" x1="0" y1="125.0" x2="0" y2="251.0"><stop offset="0.000" stop-color="#000000"/><stop offset="0.437" stop-color="#838383"/><stop offset="0.833" stop-color="#818181"/><stop offset="1.000" stop-color="#7d7d7d"/></linearGradient><linearGradient id="g0_53" gradientUnits="userSpaceOnUse" x1="0" y1="100.0" x2="0" y2="251.0"><stop offset="0.000" stop-color="#000000"/><stop offset="0.331" stop-color="#b7b7b7"/><stop offset="0.662" stop-color="#b5b5b5"/><stop offset="1.000" stop-color="#b1b1b1"/></linearGradient><linearGradient id="g0_54" gradientUnits="userSpaceOnUse" x1="0" y1="115.0" x2="0" y2="200.0"><stop offset="0.000" stop-color="#000000"/><stop offset="0.082" stop-color="#343434"/><stop offset="0.206" stop-color="#505050"/><stop offset="0.329" stop-color="#595959"/><stop offset="0.412" stop-color="#5a5a5a"/><stop offset="0.647" stop-color="#383838"/><stop offset="0.853" stop-color="#1b1b1b"/><stop offset="1.000" stop-color="#000000"/></linearGradient><linearGradient id="g0_55" gradientUnits="userSpaceOnUse" x1="0" y1="115.0" x2="0" y2="160.0"><stop offset="0.000" stop-color="#000000"/><stop offset="0.089" stop-color="#292929"/><stop offset="0.222" stop-color="#474747"/><stop offset="0.356" stop-color="#5b5b5b"/><stop offset="0.444" stop-color="#5c5c5c"/><stop offset="0.667" stop-color="#383838"/><stop offset="0.861" stop-color="#1a1a1a"/><stop offset="1.000" stop-color="#000000"/></linearGradient><linearGradient id="g0_56" gradientUnits="userSpaceOnUse" x1="0" y1="160.0" x2="0" y2="200.0"><stop offset="0.000" stop-color="#000000"/><stop offset="0.100" stop-color="#1c1c1c"/><stop offset="0.250" stop-color="#313131"/><stop offset="0.400" stop-color="#3c3c3c"/><stop offset="0.500" stop-color="#3d3d3d"/><stop offset="0.700" stop-color="#252525"/><stop offset="0.875" stop-color="#111111"/><stop offset="1.000" stop-color="#000000"/></linearGradient><linearGradient id="g0_57" gradientUnits="userSpaceOnUse" x1="0" y1="99.0" x2="0" y2="160.0"><stop offset="0.000" stop-color="#000000"/><stop offset="0.102" stop-color="#303030"/><stop offset="0.254" stop-color="#545454"/><stop offset="0.407" stop-color="#606060"/><stop offset="0.508" stop-color="#606060"/><stop offset="0.705" stop-color="#3c3c3c"/><stop offset="0.877" stop-color="#1c1c1c"/><stop offset="1.000" stop-color="#000000"/></linearGradient><linearGradient id="g0_58" gradientUnits="userSpaceOnUse" x1="0" y1="165.0" x2="0" y2="237.0"><stop offset="0.000" stop-color="#000000"/><stop offset="0.097" stop-color="#1c1c1c"/><stop offset="0.243" stop-color="#313131"/><stop offset="0.389" stop-color="#3c3c3c"/><stop offset="0.486" stop-color="#3d3d3d"/><stop offset="0.692" stop-color="#262626"/><stop offset="0.872" stop-color="#111111"/><stop offset="1.000" stop-color="#000000"/></linearGradient><linearGradient id="g0_59" gradientUnits="userSpaceOnUse" x1="0" y1="102.0" x2="0" y2="222.0"><stop offset="0.000" stop-color="#000000"/><stop offset="0.130" stop-color="#4e4e4e"/><stop offset="0.325" stop-color="#828282"/><stop offset="0.520" stop-color="#939393"/><stop offset="0.650" stop-color="#939393"/><stop offset="0.790" stop-color="#616161"/><stop offset="0.912" stop-color="#2e2e2e"/><stop offset="1.000" stop-color="#000000"/></linearGradient><linearGradient id="g0_60" gradientUnits="userSpaceOnUse" x1="0" y1="144.0" x2="0" y2="251.0"><stop offset="0.000" stop-color="#000000"/><stop offset="0.080" stop-color="#404040"/><stop offset="0.300" stop-color="#666666"/><stop offset="0.550" stop-color="#696969"/><stop offset="0.750" stop-color="#737373"/><stop offset="0.900" stop-color="#808080"/><stop offset="1.000" stop-color="#878787"/></linearGradient></defs><clipPath id="cs0"><rect x="836.0" y="46.0" width="604.0" height="205.0"/></clipPath><g clip-path="url(#cs0)"><g filter="url(#jm)"><rect x="836.0" y="46.0" width="604.0" height="205.0" fill="#000"/><polygon points="837.3,166.0 835.6,251.0 839.8,251.0 838.1,166.0" fill="url(#g0_0)" fill-opacity="0.42" style="mix-blend-mode:lighten"/><polygon points="837.4,166.0 836.5,251.0 838.9,251.0 838.0,166.0" fill="url(#g0_0)" fill-opacity="0.72" style="mix-blend-mode:lighten"/><polygon points="837.4,166.0 837.1,251.0 838.3,251.0 838.0,166.0" fill="url(#g0_0)" style="mix-blend-mode:lighten"/><polygon points="843.4,95.0 843.0,117.0 842.3,140.0 842.1,165.0 842.3,200.0 842.3,251.0 845.3,251.0 845.3,200.0 845.5,165.0 845.3,140.0 844.6,117.0 844.2,95.0" fill="url(#g0_1)" fill-opacity="0.42" style="mix-blend-mode:lighten"/><polygon points="843.5,95.0 843.3,117.0 842.9,140.0 842.8,165.0 842.9,200.0 842.9,251.0 844.7,251.0 844.7,200.0 844.8,165.0 844.7,140.0 844.3,117.0 844.1,95.0" fill="url(#g0_1)" fill-opacity="0.72" style="mix-blend-mode:lighten"/><polygon points="843.5,95.0 843.5,117.0 843.3,140.0 843.3,165.0 843.3,200.0 843.3,251.0 844.2,251.0 844.2,200.0 844.3,165.0 844.2,140.0 844.1,117.0 844.1,95.0" fill="url(#g0_1)" style="mix-blend-mode:lighten"/><polygon points="852.4,122.0 851.2,196.0 854.4,196.0 853.2,122.0" fill="url(#g0_2)" fill-opacity="0.42" style="mix-blend-mode:lighten"/><polygon points="852.5,122.0 851.8,196.0 853.8,196.0 853.1,122.0" fill="url(#g0_2)" fill-opacity="0.72" style="mix-blend-mode:lighten"/><polygon points="852.5,122.0 852.3,196.0 853.3,196.0 853.1,122.0" fill="url(#g0_2)" style="mix-blend-mode:lighten"/><polygon points="851.9,230.0 850.7,251.0 853.9,251.0 852.7,230.0" fill="url(#g0_3)" fill-opacity="0.42" style="mix-blend-mode:lighten"/><polygon points="852.0,230.0 851.3,251.0 853.3,251.0 852.6,230.0" fill="url(#g0_3)" fill-opacity="0.72" style="mix-blend-mode:lighten"/><polygon points="852.0,230.0 851.8,251.0 852.8,251.0 852.6,230.0" fill="url(#g0_3)" style="mix-blend-mode:lighten"/><polygon points="862.5,137.0 860.7,251.0 865.1,251.0 863.3,137.0" fill="url(#g0_4)" fill-opacity="0.42" style="mix-blend-mode:lighten"/><polygon points="862.6,137.0 861.6,251.0 864.2,251.0 863.2,137.0" fill="url(#g0_4)" fill-opacity="0.72" style="mix-blend-mode:lighten"/><polygon points="862.6,137.0 862.2,251.0 863.6,251.0 863.2,137.0" fill="url(#g0_4)" style="mix-blend-mode:lighten"/><polygon points="865.4,215.0 863.9,251.0 867.7,251.0 866.2,215.0" fill="url(#g0_5)" fill-opacity="0.42" style="mix-blend-mode:lighten"/><polygon points="865.5,215.0 864.6,251.0 867.0,251.0 866.1,215.0" fill="url(#g0_5)" fill-opacity="0.72" style="mix-blend-mode:lighten"/><polygon points="865.5,215.0 865.2,251.0 866.4,251.0 866.1,215.0" fill="url(#g0_5)" style="mix-blend-mode:lighten"/><polygon points="859.3,205.0 858.1,251.0 861.3,251.0 860.1,205.0" fill="url(#g0_6)" fill-opacity="0.42" style="mix-blend-mode:lighten"/><polygon points="859.4,205.0 858.7,251.0 860.7,251.0 860.0,205.0" fill="url(#g0_6)" fill-opacity="0.72" style="mix-blend-mode:lighten"/><polygon points="859.4,205.0 859.2,251.0 860.2,251.0 860.0,205.0" fill="url(#g0_6)" style="mix-blend-mode:lighten"/><polygon points="875.2,225.0 873.7,251.0 877.5,251.0 876.0,225.0" fill="url(#g0_7)" fill-opacity="0.42" style="mix-blend-mode:lighten"/><polygon points="875.3,225.0 874.4,251.0 876.8,251.0 875.9,225.0" fill="url(#g0_7)" fill-opacity="0.72" style="mix-blend-mode:lighten"/><polygon points="875.3,225.0 875.0,251.0 876.2,251.0 875.9,225.0" fill="url(#g0_7)" style="mix-blend-mode:lighten"/><polygon points="897.6,215.0 896.1,251.0 899.9,251.0 898.4,215.0" fill="url(#g0_8)" fill-opacity="0.42" style="mix-blend-mode:lighten"/><polygon points="897.7,215.0 896.8,251.0 899.2,251.0 898.3,215.0" fill="url(#g0_8)" fill-opacity="0.72" style="mix-blend-mode:lighten"/><polygon points="897.7,215.0 897.4,251.0 898.6,251.0 898.3,215.0" fill="url(#g0_8)" style="mix-blend-mode:lighten"/><polygon points="905.6,159.0 903.9,251.0 908.1,251.0 906.4,159.0" fill="url(#g0_9)" fill-opacity="0.42" style="mix-blend-mode:lighten"/><polygon points="905.7,159.0 904.8,251.0 907.2,251.0 906.3,159.0" fill="url(#g0_9)" fill-opacity="0.72" style="mix-blend-mode:lighten"/><polygon points="905.7,159.0 905.4,251.0 906.6,251.0 906.3,159.0" fill="url(#g0_9)" style="mix-blend-mode:lighten"/><polygon points="911.1,127.0 909.7,215.0 913.3,215.0 911.9,127.0" fill="url(#g0_10)" fill-opacity="0.42" style="mix-blend-mode:lighten"/><polygon points="911.2,127.0 910.4,215.0 912.6,215.0 911.8,127.0" fill="url(#g0_10)" fill-opacity="0.72" style="mix-blend-mode:lighten"/><polygon points="911.2,127.0 911.0,215.0 912.0,215.0 911.8,127.0" fill="url(#g0_10)" style="mix-blend-mode:lighten"/><polygon points="916.6,166.0 915.2,251.0 918.8,251.0 917.4,166.0" fill="url(#g0_11)" fill-opacity="0.42" style="mix-blend-mode:lighten"/><polygon points="916.7,166.0 915.9,251.0 918.1,251.0 917.3,166.0" fill="url(#g0_11)" fill-opacity="0.72" style="mix-blend-mode:lighten"/><polygon points="916.7,166.0 916.5,251.0 917.5,251.0 917.3,166.0" fill="url(#g0_11)" style="mix-blend-mode:lighten"/><polygon points="923.6,180.0 922.6,215.0 925.4,215.0 924.4,180.0" fill="url(#g0_12)" fill-opacity="0.42" style="mix-blend-mode:lighten"/><polygon points="923.7,180.0 923.1,215.0 924.9,215.0 924.3,180.0" fill="url(#g0_12)" fill-opacity="0.72" style="mix-blend-mode:lighten"/><polygon points="923.7,180.0 923.6,215.0 924.4,215.0 924.3,180.0" fill="url(#g0_12)" style="mix-blend-mode:lighten"/><polygon points="934.0,137.0 933.0,203.0 935.8,203.0 934.8,137.0" fill="url(#g0_13)" fill-opacity="0.42" style="mix-blend-mode:lighten"/><polygon points="934.1,137.0 933.5,203.0 935.3,203.0 934.7,137.0" fill="url(#g0_13)" fill-opacity="0.72" style="mix-blend-mode:lighten"/><polygon points="934.1,137.0 934.0,203.0 934.8,203.0 934.7,137.0" fill="url(#g0_13)" style="mix-blend-mode:lighten"/><polygon points="938.2,147.0 937.0,210.0 940.2,210.0 939.0,147.0" fill="url(#g0_14)" fill-opacity="0.42" style="mix-blend-mode:lighten"/><polygon points="938.3,147.0 937.6,210.0 939.6,210.0 938.9,147.0" fill="url(#g0_14)" fill-opacity="0.72" style="mix-blend-mode:lighten"/><polygon points="938.3,147.0 938.1,210.0 939.1,210.0 938.9,147.0" fill="url(#g0_14)" style="mix-blend-mode:lighten"/><polygon points="951.1,112.0 949.9,196.0 953.1,196.0 951.9,112.0" fill="url(#g0_15)" fill-opacity="0.42" style="mix-blend-mode:lighten"/><polygon points="951.2,112.0 950.5,196.0 952.5,196.0 951.8,112.0" fill="url(#g0_15)" fill-opacity="0.72" style="mix-blend-mode:lighten"/><polygon points="951.2,112.0 951.0,196.0 952.0,196.0 951.8,112.0" fill="url(#g0_15)" style="mix-blend-mode:lighten"/><polygon points="1000.5,46.0 999.8,215.0 1002.0,215.0 1001.3,46.0" fill="url(#g0_16)" fill-opacity="0.42" style="mix-blend-mode:lighten"/><polygon points="1000.6,46.0 1000.2,215.0 1001.6,215.0 1001.2,46.0" fill="url(#g0_16)" fill-opacity="0.72" style="mix-blend-mode:lighten"/><polygon points="1000.6,46.0 1000.6,215.0 1001.2,215.0 1001.2,46.0" fill="url(#g0_16)" style="mix-blend-mode:lighten"/><polygon points="1005.9,46.0 1005.0,215.0 1007.6,215.0 1006.7,46.0" fill="url(#g0_17)" fill-opacity="0.42" style="mix-blend-mode:lighten"/><polygon points="1006.0,46.0 1005.5,215.0 1007.1,215.0 1006.6,46.0" fill="url(#g0_17)" fill-opacity="0.72" style="mix-blend-mode:lighten"/><polygon points="1006.0,46.0 1005.9,215.0 1006.7,215.0 1006.6,46.0" fill="url(#g0_17)" style="mix-blend-mode:lighten"/><polygon points="1013.1,90.0 1011.7,251.0 1015.3,251.0 1013.9,90.0" fill="url(#g0_18)" fill-opacity="0.42" style="mix-blend-mode:lighten"/><polygon points="1013.2,90.0 1012.4,251.0 1014.6,251.0 1013.8,90.0" fill="url(#g0_18)" fill-opacity="0.72" style="mix-blend-mode:lighten"/><polygon points="1013.2,90.0 1013.0,251.0 1014.0,251.0 1013.8,90.0" fill="url(#g0_18)" style="mix-blend-mode:lighten"/><polygon points="1015.1,160.0 1013.1,251.0 1017.9,251.0 1015.9,160.0" fill="url(#g0_19)" fill-opacity="0.42" style="mix-blend-mode:lighten"/><polygon points="1015.2,160.0 1014.1,251.0 1016.9,251.0 1015.8,160.0" fill="url(#g0_19)" fill-opacity="0.72" style="mix-blend-mode:lighten"/><polygon points="1015.2,160.0 1014.8,251.0 1016.2,251.0 1015.8,160.0" fill="url(#g0_19)" style="mix-blend-mode:lighten"/><polygon points="1019.2,98.0 1019.0,175.0 1018.7,205.0 1016.0,251.0 1023.2,251.0 1020.5,205.0 1020.2,175.0 1020.0,98.0" fill="url(#g0_20)" fill-opacity="0.42" style="mix-blend-mode:lighten"/><polygon points="1019.3,98.0 1019.2,175.0 1019.1,205.0 1017.4,251.0 1021.8,251.0 1020.1,205.0 1020.0,175.0 1019.9,98.0" fill="url(#g0_20)" fill-opacity="0.72" style="mix-blend-mode:lighten"/><polygon points="1019.3,98.0 1019.3,175.0 1019.3,205.0 1018.5,251.0 1020.7,251.0 1019.9,205.0 1019.9,175.0 1019.9,98.0" fill="url(#g0_20)" style="mix-blend-mode:lighten"/><polygon points="1053.0,166.0 1051.5,251.0 1055.3,251.0 1053.8,166.0" fill="url(#g0_21)" fill-opacity="0.42" style="mix-blend-mode:lighten"/><polygon points="1053.1,166.0 1052.2,251.0 1054.6,251.0 1053.7,166.0" fill="url(#g0_21)" fill-opacity="0.72" style="mix-blend-mode:lighten"/><polygon points="1053.1,166.0 1052.8,251.0 1054.0,251.0 1053.7,166.0" fill="url(#g0_21)" style="mix-blend-mode:lighten"/><polygon points="1061.1,46.0 1060.1,251.0 1062.9,251.0 1061.9,46.0" fill="url(#g0_22)" fill-opacity="0.42" style="mix-blend-mode:lighten"/><polygon points="1061.2,46.0 1060.6,251.0 1062.4,251.0 1061.8,46.0" fill="url(#g0_22)" fill-opacity="0.72" style="mix-blend-mode:lighten"/><polygon points="1061.2,46.0 1061.1,251.0 1061.9,251.0 1061.8,46.0" fill="url(#g0_22)" style="mix-blend-mode:lighten"/><polygon points="1070.8,137.0 1069.6,196.0 1072.8,196.0 1071.6,137.0" fill="url(#g0_23)" fill-opacity="0.42" style="mix-blend-mode:lighten"/><polygon points="1070.9,137.0 1070.2,196.0 1072.2,196.0 1071.5,137.0" fill="url(#g0_23)" fill-opacity="0.72" style="mix-blend-mode:lighten"/><polygon points="1070.9,137.0 1070.7,196.0 1071.7,196.0 1071.5,137.0" fill="url(#g0_23)" style="mix-blend-mode:lighten"/><polygon points="1073.3,166.0 1071.8,251.0 1075.6,251.0 1074.1,166.0" fill="url(#g0_24)" fill-opacity="0.42" style="mix-blend-mode:lighten"/><polygon points="1073.4,166.0 1072.5,251.0 1074.9,251.0 1074.0,166.0" fill="url(#g0_24)" fill-opacity="0.72" style="mix-blend-mode:lighten"/><polygon points="1073.4,166.0 1073.1,251.0 1074.3,251.0 1074.0,166.0" fill="url(#g0_24)" style="mix-blend-mode:lighten"/><polygon points="1077.4,66.0 1075.7,181.0 1079.9,181.0 1078.2,66.0" fill="url(#g0_25)" fill-opacity="0.42" style="mix-blend-mode:lighten"/><polygon points="1077.5,66.0 1076.6,181.0 1079.0,181.0 1078.1,66.0" fill="url(#g0_25)" fill-opacity="0.72" style="mix-blend-mode:lighten"/><polygon points="1077.5,66.0 1077.2,181.0 1078.4,181.0 1078.1,66.0" fill="url(#g0_25)" style="mix-blend-mode:lighten"/><polygon points="1081.8,83.0 1080.4,196.0 1084.0,196.0 1082.6,83.0" fill="url(#g0_26)" fill-opacity="0.42" style="mix-blend-mode:lighten"/><polygon points="1081.9,83.0 1081.1,196.0 1083.3,196.0 1082.5,83.0" fill="url(#g0_26)" fill-opacity="0.72" style="mix-blend-mode:lighten"/><polygon points="1081.9,83.0 1081.7,196.0 1082.7,196.0 1082.5,83.0" fill="url(#g0_26)" style="mix-blend-mode:lighten"/><polygon points="1085.5,88.0 1084.1,251.0 1087.7,251.0 1086.3,88.0" fill="url(#g0_27)" fill-opacity="0.42" style="mix-blend-mode:lighten"/><polygon points="1085.6,88.0 1084.8,251.0 1087.0,251.0 1086.2,88.0" fill="url(#g0_27)" fill-opacity="0.72" style="mix-blend-mode:lighten"/><polygon points="1085.6,88.0 1085.4,251.0 1086.4,251.0 1086.2,88.0" fill="url(#g0_27)" style="mix-blend-mode:lighten"/><polygon points="1084.3,190.0 1082.8,251.0 1086.6,251.0 1085.1,190.0" fill="url(#g0_28)" fill-opacity="0.42" style="mix-blend-mode:lighten"/><polygon points="1084.4,190.0 1083.5,251.0 1085.9,251.0 1085.0,190.0" fill="url(#g0_28)" fill-opacity="0.72" style="mix-blend-mode:lighten"/><polygon points="1084.4,190.0 1084.1,251.0 1085.3,251.0 1085.0,190.0" fill="url(#g0_28)" style="mix-blend-mode:lighten"/><polygon points="1096.5,215.0 1095.0,251.0 1098.8,251.0 1097.3,215.0" fill="url(#g0_29)" fill-opacity="0.42" style="mix-blend-mode:lighten"/><polygon points="1096.6,215.0 1095.7,251.0 1098.1,251.0 1097.2,215.0" fill="url(#g0_29)" fill-opacity="0.72" style="mix-blend-mode:lighten"/><polygon points="1096.6,215.0 1096.3,251.0 1097.5,251.0 1097.2,215.0" fill="url(#g0_29)" style="mix-blend-mode:lighten"/><polygon points="1100.2,186.0 1098.7,251.0 1102.5,251.0 1101.0,186.0" fill="url(#g0_30)" fill-opacity="0.42" style="mix-blend-mode:lighten"/><polygon points="1100.3,186.0 1099.4,251.0 1101.8,251.0 1100.9,186.0" fill="url(#g0_30)" fill-opacity="0.72" style="mix-blend-mode:lighten"/><polygon points="1100.3,186.0 1100.0,251.0 1101.2,251.0 1100.9,186.0" fill="url(#g0_30)" style="mix-blend-mode:lighten"/><polygon points="1152.9,46.0 1152.0,215.0 1154.6,215.0 1153.7,46.0" fill="url(#g0_31)" fill-opacity="0.42" style="mix-blend-mode:lighten"/><polygon points="1153.0,46.0 1152.5,215.0 1154.1,215.0 1153.6,46.0" fill="url(#g0_31)" fill-opacity="0.72" style="mix-blend-mode:lighten"/><polygon points="1153.0,46.0 1152.9,215.0 1153.7,215.0 1153.6,46.0" fill="url(#g0_31)" style="mix-blend-mode:lighten"/><polygon points="1160.7,166.0 1159.5,246.0 1162.7,246.0 1161.5,166.0" fill="url(#g0_32)" fill-opacity="0.42" style="mix-blend-mode:lighten"/><polygon points="1160.8,166.0 1160.1,246.0 1162.1,246.0 1161.4,166.0" fill="url(#g0_32)" fill-opacity="0.72" style="mix-blend-mode:lighten"/><polygon points="1160.8,166.0 1160.6,246.0 1161.6,246.0 1161.4,166.0" fill="url(#g0_32)" style="mix-blend-mode:lighten"/><polygon points="1202.3,46.0 1201.4,186.0 1204.0,186.0 1203.1,46.0" fill="url(#g0_33)" fill-opacity="0.42" style="mix-blend-mode:lighten"/><polygon points="1202.4,46.0 1201.9,186.0 1203.5,186.0 1203.0,46.0" fill="url(#g0_33)" fill-opacity="0.72" style="mix-blend-mode:lighten"/><polygon points="1202.4,46.0 1202.3,186.0 1203.1,186.0 1203.0,46.0" fill="url(#g0_33)" style="mix-blend-mode:lighten"/><polygon points="1199.3,46.0 1198.4,120.0 1201.0,120.0 1200.1,46.0" fill="url(#g0_34)" fill-opacity="0.42" style="mix-blend-mode:lighten"/><polygon points="1199.4,46.0 1198.9,120.0 1200.5,120.0 1200.0,46.0" fill="url(#g0_34)" fill-opacity="0.72" style="mix-blend-mode:lighten"/><polygon points="1199.4,46.0 1199.3,120.0 1200.1,120.0 1200.0,46.0" fill="url(#g0_34)" style="mix-blend-mode:lighten"/><polygon points="1229.3,213.0 1227.8,251.0 1231.6,251.0 1230.1,213.0" fill="url(#g0_35)" fill-opacity="0.42" style="mix-blend-mode:lighten"/><polygon points="1229.4,213.0 1228.5,251.0 1230.9,251.0 1230.0,213.0" fill="url(#g0_35)" fill-opacity="0.72" style="mix-blend-mode:lighten"/><polygon points="1229.4,213.0 1229.1,251.0 1230.3,251.0 1230.0,213.0" fill="url(#g0_35)" style="mix-blend-mode:lighten"/><polygon points="1235.9,105.0 1234.5,240.0 1238.1,240.0 1236.7,105.0" fill="url(#g0_36)" fill-opacity="0.42" style="mix-blend-mode:lighten"/><polygon points="1236.0,105.0 1235.2,240.0 1237.4,240.0 1236.6,105.0" fill="url(#g0_36)" fill-opacity="0.72" style="mix-blend-mode:lighten"/><polygon points="1236.0,105.0 1235.8,240.0 1236.8,240.0 1236.6,105.0" fill="url(#g0_36)" style="mix-blend-mode:lighten"/><polygon points="1250.6,160.0 1249.4,240.0 1252.6,240.0 1251.4,160.0" fill="url(#g0_37)" fill-opacity="0.42" style="mix-blend-mode:lighten"/><polygon points="1250.7,160.0 1250.0,240.0 1252.0,240.0 1251.3,160.0" fill="url(#g0_37)" fill-opacity="0.72" style="mix-blend-mode:lighten"/><polygon points="1250.7,160.0 1250.5,240.0 1251.5,240.0 1251.3,160.0" fill="url(#g0_37)" style="mix-blend-mode:lighten"/><polygon points="1265.3,149.0 1264.7,190.0 1263.8,225.0 1263.8,251.0 1267.6,251.0 1267.6,225.0 1266.7,190.0 1266.1,149.0" fill="url(#g0_38)" fill-opacity="0.42" style="mix-blend-mode:lighten"/><polygon points="1265.4,149.0 1265.1,190.0 1264.6,225.0 1264.6,251.0 1266.8,251.0 1266.8,225.0 1266.3,190.0 1266.0,149.0" fill="url(#g0_38)" fill-opacity="0.72" style="mix-blend-mode:lighten"/><polygon points="1265.4,149.0 1265.4,190.0 1265.1,225.0 1265.1,251.0 1266.3,251.0 1266.3,225.0 1266.0,190.0 1266.0,149.0" fill="url(#g0_38)" style="mix-blend-mode:lighten"/><polygon points="1293.4,46.0 1292.7,215.0 1294.9,215.0 1294.2,46.0" fill="url(#g0_39)" fill-opacity="0.42" style="mix-blend-mode:lighten"/><polygon points="1293.5,46.0 1293.1,215.0 1294.5,215.0 1294.1,46.0" fill="url(#g0_39)" fill-opacity="0.72" style="mix-blend-mode:lighten"/><polygon points="1293.5,46.0 1293.5,215.0 1294.1,215.0 1294.1,46.0" fill="url(#g0_39)" style="mix-blend-mode:lighten"/><polygon points="1303.2,156.0 1301.7,251.0 1305.5,251.0 1304.0,156.0" fill="url(#g0_40)" fill-opacity="0.42" style="mix-blend-mode:lighten"/><polygon points="1303.3,156.0 1302.4,251.0 1304.8,251.0 1303.9,156.0" fill="url(#g0_40)" fill-opacity="0.72" style="mix-blend-mode:lighten"/><polygon points="1303.3,156.0 1303.0,251.0 1304.2,251.0 1303.9,156.0" fill="url(#g0_40)" style="mix-blend-mode:lighten"/><polygon points="1310.0,134.0 1308.6,251.0 1312.2,251.0 1310.8,134.0" fill="url(#g0_41)" fill-opacity="0.42" style="mix-blend-mode:lighten"/><polygon points="1310.1,134.0 1309.3,251.0 1311.5,251.0 1310.7,134.0" fill="url(#g0_41)" fill-opacity="0.72" style="mix-blend-mode:lighten"/><polygon points="1310.1,134.0 1309.9,251.0 1310.9,251.0 1310.7,134.0" fill="url(#g0_41)" style="mix-blend-mode:lighten"/><polygon points="1333.9,120.0 1332.7,251.0 1335.9,251.0 1334.7,120.0" fill="url(#g0_42)" fill-opacity="0.42" style="mix-blend-mode:lighten"/><polygon points="1334.0,120.0 1333.3,251.0 1335.3,251.0 1334.6,120.0" fill="url(#g0_42)" fill-opacity="0.72" style="mix-blend-mode:lighten"/><polygon points="1334.0,120.0 1333.8,251.0 1334.8,251.0 1334.6,120.0" fill="url(#g0_42)" style="mix-blend-mode:lighten"/><polygon points="1338.2,150.0 1337.0,251.0 1340.2,251.0 1339.0,150.0" fill="url(#g0_43)" fill-opacity="0.42" style="mix-blend-mode:lighten"/><polygon points="1338.3,150.0 1337.6,251.0 1339.6,251.0 1338.9,150.0" fill="url(#g0_43)" fill-opacity="0.72" style="mix-blend-mode:lighten"/><polygon points="1338.3,150.0 1338.1,251.0 1339.1,251.0 1338.9,150.0" fill="url(#g0_43)" style="mix-blend-mode:lighten"/><polygon points="1342.5,128.0 1341.3,200.0 1344.5,200.0 1343.3,128.0" fill="url(#g0_44)" fill-opacity="0.42" style="mix-blend-mode:lighten"/><polygon points="1342.6,128.0 1341.9,200.0 1343.9,200.0 1343.2,128.0" fill="url(#g0_44)" fill-opacity="0.72" style="mix-blend-mode:lighten"/><polygon points="1342.6,128.0 1342.4,200.0 1343.4,200.0 1343.2,128.0" fill="url(#g0_44)" style="mix-blend-mode:lighten"/><polygon points="1346.8,209.0 1345.3,251.0 1349.1,251.0 1347.6,209.0" fill="url(#g0_45)" fill-opacity="0.42" style="mix-blend-mode:lighten"/><polygon points="1346.9,209.0 1346.0,251.0 1348.4,251.0 1347.5,209.0" fill="url(#g0_45)" fill-opacity="0.72" style="mix-blend-mode:lighten"/><polygon points="1346.9,209.0 1346.6,251.0 1347.8,251.0 1347.5,209.0" fill="url(#g0_45)" style="mix-blend-mode:lighten"/><polygon points="1351.8,180.0 1350.4,220.0 1348.6,251.0 1355.8,251.0 1354.0,220.0 1352.6,180.0" fill="url(#g0_46)" fill-opacity="0.42" style="mix-blend-mode:lighten"/><polygon points="1351.9,180.0 1351.1,220.0 1350.0,251.0 1354.4,251.0 1353.3,220.0 1352.5,180.0" fill="url(#g0_46)" fill-opacity="0.72" style="mix-blend-mode:lighten"/><polygon points="1351.9,180.0 1351.7,220.0 1351.1,251.0 1353.3,251.0 1352.7,220.0 1352.5,180.0" fill="url(#g0_46)" style="mix-blend-mode:lighten"/><polygon points="1360.4,57.0 1360.1,140.0 1359.3,170.0 1358.3,200.0 1357.5,251.0 1364.1,251.0 1363.3,200.0 1362.3,170.0 1361.5,140.0 1361.2,57.0" fill="url(#g0_47)" fill-opacity="0.42" style="mix-blend-mode:lighten"/><polygon points="1360.5,57.0 1360.4,140.0 1359.9,170.0 1359.3,200.0 1358.8,251.0 1362.8,251.0 1362.3,200.0 1361.7,170.0 1361.2,140.0 1361.1,57.0" fill="url(#g0_47)" fill-opacity="0.72" style="mix-blend-mode:lighten"/><polygon points="1360.5,57.0 1360.5,140.0 1360.3,170.0 1360.0,200.0 1359.8,251.0 1361.8,251.0 1361.5,200.0 1361.2,170.0 1361.1,140.0 1361.1,57.0" fill="url(#g0_47)" style="mix-blend-mode:lighten"/><polygon points="1364.0,120.0 1362.5,251.0 1366.3,251.0 1364.8,120.0" fill="url(#g0_48)" fill-opacity="0.42" style="mix-blend-mode:lighten"/><polygon points="1364.1,120.0 1363.2,251.0 1365.6,251.0 1364.7,120.0" fill="url(#g0_48)" fill-opacity="0.72" style="mix-blend-mode:lighten"/><polygon points="1364.1,120.0 1363.8,251.0 1365.0,251.0 1364.7,120.0" fill="url(#g0_48)" style="mix-blend-mode:lighten"/><polygon points="1367.6,46.0 1367.2,140.0 1366.6,165.0 1365.7,185.0 1364.7,251.0 1371.3,251.0 1370.3,185.0 1369.4,165.0 1368.8,140.0 1368.4,46.0" fill="url(#g0_49)" fill-opacity="0.42" style="mix-blend-mode:lighten"/><polygon points="1367.7,46.0 1367.5,140.0 1367.2,165.0 1366.6,185.0 1366.0,251.0 1370.0,251.0 1369.4,185.0 1368.8,165.0 1368.5,140.0 1368.3,46.0" fill="url(#g0_49)" fill-opacity="0.72" style="mix-blend-mode:lighten"/><polygon points="1367.7,46.0 1367.7,140.0 1367.6,165.0 1367.3,185.0 1367.0,251.0 1369.0,251.0 1368.7,185.0 1368.4,165.0 1368.3,140.0 1368.3,46.0" fill="url(#g0_49)" style="mix-blend-mode:lighten"/><polygon points="1373.4,151.0 1371.7,251.0 1375.9,251.0 1374.2,151.0" fill="url(#g0_50)" fill-opacity="0.42" style="mix-blend-mode:lighten"/><polygon points="1373.5,151.0 1372.6,251.0 1375.0,251.0 1374.1,151.0" fill="url(#g0_50)" fill-opacity="0.72" style="mix-blend-mode:lighten"/><polygon points="1373.5,151.0 1373.2,251.0 1374.4,251.0 1374.1,151.0" fill="url(#g0_50)" style="mix-blend-mode:lighten"/><polygon points="1376.9,140.0 1376.1,170.0 1374.7,200.0 1374.3,230.0 1374.3,251.0 1380.3,251.0 1380.3,230.0 1379.9,200.0 1378.5,170.0 1377.7,140.0" fill="url(#g0_51)" fill-opacity="0.42" style="mix-blend-mode:lighten"/><polygon points="1377.0,140.0 1376.6,170.0 1375.7,200.0 1375.5,230.0 1375.5,251.0 1379.1,251.0 1379.1,230.0 1378.9,200.0 1378.0,170.0 1377.6,140.0" fill="url(#g0_51)" fill-opacity="0.72" style="mix-blend-mode:lighten"/><polygon points="1377.0,140.0 1376.9,170.0 1376.5,200.0 1376.4,230.0 1376.4,251.0 1378.2,251.0 1378.2,230.0 1378.1,200.0 1377.7,170.0 1377.6,140.0" fill="url(#g0_51)" style="mix-blend-mode:lighten"/><polygon points="1380.6,125.0 1378.0,251.0 1384.0,251.0 1381.4,125.0" fill="url(#g0_52)" fill-opacity="0.42" style="mix-blend-mode:lighten"/><polygon points="1380.7,125.0 1379.2,251.0 1382.8,251.0 1381.3,125.0" fill="url(#g0_52)" fill-opacity="0.72" style="mix-blend-mode:lighten"/><polygon points="1380.7,125.0 1380.1,251.0 1381.9,251.0 1381.3,125.0" fill="url(#g0_52)" style="mix-blend-mode:lighten"/><polygon points="1389.0,100.0 1387.7,251.0 1391.1,251.0 1389.8,100.0" fill="url(#g0_53)" fill-opacity="0.42" style="mix-blend-mode:lighten"/><polygon points="1389.1,100.0 1388.4,251.0 1390.4,251.0 1389.7,100.0" fill="url(#g0_53)" fill-opacity="0.72" style="mix-blend-mode:lighten"/><polygon points="1389.1,100.0 1388.9,251.0 1389.9,251.0 1389.7,100.0" fill="url(#g0_53)" style="mix-blend-mode:lighten"/><polygon points="1395.6,115.0 1392.8,200.0 1399.2,200.0 1396.4,115.0" fill="url(#g0_54)" fill-opacity="0.42" style="mix-blend-mode:lighten"/><polygon points="1395.7,115.0 1394.1,200.0 1397.9,200.0 1396.3,115.0" fill="url(#g0_54)" fill-opacity="0.72" style="mix-blend-mode:lighten"/><polygon points="1395.7,115.0 1395.0,200.0 1397.0,200.0 1396.3,115.0" fill="url(#g0_54)" style="mix-blend-mode:lighten"/><polygon points="1398.2,115.0 1397.0,160.0 1400.2,160.0 1399.0,115.0" fill="url(#g0_55)" fill-opacity="0.42" style="mix-blend-mode:lighten"/><polygon points="1398.3,115.0 1397.6,160.0 1399.6,160.0 1398.9,115.0" fill="url(#g0_55)" fill-opacity="0.72" style="mix-blend-mode:lighten"/><polygon points="1398.3,115.0 1398.1,160.0 1399.1,160.0 1398.9,115.0" fill="url(#g0_55)" style="mix-blend-mode:lighten"/><polygon points="1402.5,160.0 1401.3,200.0 1404.5,200.0 1403.3,160.0" fill="url(#g0_56)" fill-opacity="0.42" style="mix-blend-mode:lighten"/><polygon points="1402.6,160.0 1401.9,200.0 1403.9,200.0 1403.2,160.0" fill="url(#g0_56)" fill-opacity="0.72" style="mix-blend-mode:lighten"/><polygon points="1402.6,160.0 1402.4,200.0 1403.4,200.0 1403.2,160.0" fill="url(#g0_56)" style="mix-blend-mode:lighten"/><polygon points="1405.6,99.0 1404.1,160.0 1407.9,160.0 1406.4,99.0" fill="url(#g0_57)" fill-opacity="0.42" style="mix-blend-mode:lighten"/><polygon points="1405.7,99.0 1404.8,160.0 1407.2,160.0 1406.3,99.0" fill="url(#g0_57)" fill-opacity="0.72" style="mix-blend-mode:lighten"/><polygon points="1405.7,99.0 1405.4,160.0 1406.6,160.0 1406.3,99.0" fill="url(#g0_57)" style="mix-blend-mode:lighten"/><polygon points="1411.1,165.0 1409.9,237.0 1413.1,237.0 1411.9,165.0" fill="url(#g0_58)" fill-opacity="0.42" style="mix-blend-mode:lighten"/><polygon points="1411.2,165.0 1410.5,237.0 1412.5,237.0 1411.8,165.0" fill="url(#g0_58)" fill-opacity="0.72" style="mix-blend-mode:lighten"/><polygon points="1411.2,165.0 1411.0,237.0 1412.0,237.0 1411.8,165.0" fill="url(#g0_58)" style="mix-blend-mode:lighten"/><polygon points="1421.8,102.0 1420.4,222.0 1424.0,222.0 1422.6,102.0" fill="url(#g0_59)" fill-opacity="0.42" style="mix-blend-mode:lighten"/><polygon points="1421.9,102.0 1421.1,222.0 1423.3,222.0 1422.5,102.0" fill="url(#g0_59)" fill-opacity="0.72" style="mix-blend-mode:lighten"/><polygon points="1421.9,102.0 1421.7,222.0 1422.7,222.0 1422.5,102.0" fill="url(#g0_59)" style="mix-blend-mode:lighten"/><polygon points="1426.1,144.0 1424.4,251.0 1428.6,251.0 1426.9,144.0" fill="url(#g0_60)" fill-opacity="0.42" style="mix-blend-mode:lighten"/><polygon points="1426.2,144.0 1425.3,251.0 1427.7,251.0 1426.8,144.0" fill="url(#g0_60)" fill-opacity="0.72" style="mix-blend-mode:lighten"/><polygon points="1426.2,144.0 1425.9,251.0 1427.1,251.0 1426.8,144.0" fill="url(#g0_60)" style="mix-blend-mode:lighten"/></g></g>
<text x="836.50" y="265.10" font-size="12" text-anchor="middle" fill="#262626">00:00</text>
<text x="911.88" y="265.10" font-size="12" text-anchor="middle" fill="#262626">03:00</text>
<text x="987.25" y="265.10" font-size="12" text-anchor="middle" fill="#262626">06:00</text>
<text x="1062.62" y="265.10" font-size="12" text-anchor="middle" fill="#262626">09:00</text>
<text x="1138.00" y="265.10" font-size="12" text-anchor="middle" fill="#262626">12:00</text>
<text x="1213.38" y="265.10" font-size="12" text-anchor="middle" fill="#262626">15:00</text>
<text x="1288.75" y="265.10" font-size="12" text-anchor="middle" fill="#262626">18:00</text>
<text x="1364.12" y="265.10" font-size="12" text-anchor="middle" fill="#262626">21:00</text>
<text x="1439.50" y="265.10" font-size="12" text-anchor="middle" fill="#262626">00:00</text>
<text x="833.00" y="252.20" font-size="12" text-anchor="end" fill="#262626">7</text>
<text x="833.00" y="228.75" font-size="12" text-anchor="end" fill="#262626">8</text>
<text x="833.00" y="208.07" font-size="12" text-anchor="end" fill="#262626">9</text>
<text x="833.00" y="189.57" font-size="12" text-anchor="end" fill="#262626">10</text>
<text x="833.00" y="157.55" font-size="12" text-anchor="end" fill="#262626">12</text>
<text x="833.00" y="130.48" font-size="12" text-anchor="end" fill="#262626">14</text>
<text x="833.00" y="107.03" font-size="12" text-anchor="end" fill="#262626">16</text>
<text x="833.00" y="86.35" font-size="12" text-anchor="end" fill="#262626">18</text>
<text x="833.00" y="67.85" font-size="12" text-anchor="end" fill="#262626">20</text>
<text x="833.00" y="51.11" font-size="12" text-anchor="end" fill="#262626">22</text>
<path d="M836.50 250.50V244.50M836.50 46.50V52.50M911.88 250.50V244.50M911.88 46.50V52.50M987.25 250.50V244.50M987.25 46.50V52.50M1062.62 250.50V244.50M1062.62 46.50V52.50M1138.00 250.50V244.50M1138.00 46.50V52.50M1213.38 250.50V244.50M1213.38 46.50V52.50M1288.75 250.50V244.50M1288.75 46.50V52.50M1364.12 250.50V244.50M1364.12 46.50V52.50M1439.50 250.50V244.50M1439.50 46.50V52.50M836.50 248.00H842.50M1439.50 248.00H1433.50M836.50 224.55H842.50M1439.50 224.55H1433.50M836.50 203.87H842.50M1439.50 203.87H1433.50M836.50 185.37H842.50M1439.50 185.37H1433.50M836.50 153.35H842.50M1439.50 153.35H1433.50M836.50 126.28H842.50M1439.50 126.28H1433.50M836.50 102.83H842.50M1439.50 102.83H1433.50M836.50 82.15H842.50M1439.50 82.15H1433.50M836.50 63.65H842.50M1439.50 63.65H1433.50M836.50 46.91H842.50M1439.50 46.91H1433.50" stroke="#202050" stroke-width="1" fill="none" opacity="0.6"/>
<rect x="836.50" y="46.50" width="603.00" height="204.00" fill="none" stroke="#303060" stroke-width="1"/>
<text x="809.80" y="148.50" font-size="12" text-anchor="middle" font-weight="bold" transform="rotate(-90 809.8 148.5)" fill="#000">freq (mHz)</text>
<defs><linearGradient id="cbg" x1="0" y1="0" x2="0" y2="1"><stop offset="0.00000" stop-color="#800000"/><stop offset="0.01562" stop-color="#800000"/><stop offset="0.01562" stop-color="#8f0000"/><stop offset="0.03125" stop-color="#8f0000"/><stop offset="0.03125" stop-color="#9f0000"/><stop offset="0.04688" stop-color="#9f0000"/><stop offset="0.04688" stop-color="#af0000"/><stop offset="0.06250" stop-color="#af0000"/><stop offset="0.06250" stop-color="#bf0000"/><stop offset="0.07812" stop-color="#bf0000"/><stop offset="0.07812" stop-color="#cf0000"/><stop offset="0.09375" stop-color="#cf0000"/><stop offset="0.09375" stop-color="#df0000"/><stop offset="0.10938" stop-color="#df0000"/><stop offset="0.10938" stop-color="#ef0000"/><stop offset="0.12500" stop-color="#ef0000"/><stop offset="0.12500" stop-color="#ff0000"/><stop offset="0.14062" stop-color="#ff0000"/><stop offset="0.14062" stop-color="#ff1000"/><stop offset="0.15625" stop-color="#ff1000"/><stop offset="0.15625" stop-color="#ff2000"/><stop offset="0.17188" stop-color="#ff2000"/><stop offset="0.17188" stop-color="#ff3000"/><stop offset="0.18750" stop-color="#ff3000"/><stop offset="0.18750" stop-color="#ff4000"/><stop offset="0.20312" stop-color="#ff4000"/><stop offset="0.20312" stop-color="#ff5000"/><stop offset="0.21875" stop-color="#ff5000"/><stop offset="0.21875" stop-color="#ff6000"/><stop offset="0.23438" stop-color="#ff6000"/><stop offset="0.23438" stop-color="#ff7000"/><stop offset="0.25000" stop-color="#ff7000"/><stop offset="0.25000" stop-color="#ff8000"/><stop offset="0.26562" stop-color="#ff8000"/><stop offset="0.26562" stop-color="#ff8f00"/><stop offset="0.28125" stop-color="#ff8f00"/><stop offset="0.28125" stop-color="#ff9f00"/><stop offset="0.29688" stop-color="#ff9f00"/><stop offset="0.29688" stop-color="#ffaf00"/><stop offset="0.31250" stop-color="#ffaf00"/><stop offset="0.31250" stop-color="#ffbf00"/><stop offset="0.32812" stop-color="#ffbf00"/><stop offset="0.32812" stop-color="#ffcf00"/><stop offset="0.34375" stop-color="#ffcf00"/><stop offset="0.34375" stop-color="#ffdf00"/><stop offset="0.35938" stop-color="#ffdf00"/><stop offset="0.35938" stop-color="#ffef00"/><stop offset="0.37500" stop-color="#ffef00"/><stop offset="0.37500" stop-color="#ffff00"/><stop offset="0.39062" stop-color="#ffff00"/><stop offset="0.39062" stop-color="#efff10"/><stop offset="0.40625" stop-color="#efff10"/><stop offset="0.40625" stop-color="#dfff20"/><stop offset="0.42188" stop-color="#dfff20"/><stop offset="0.42188" stop-color="#cfff30"/><stop offset="0.43750" stop-color="#cfff30"/><stop offset="0.43750" stop-color="#bfff40"/><stop offset="0.45312" stop-color="#bfff40"/><stop offset="0.45312" stop-color="#afff50"/><stop offset="0.46875" stop-color="#afff50"/><stop offset="0.46875" stop-color="#9fff60"/><stop offset="0.48438" stop-color="#9fff60"/><stop offset="0.48438" stop-color="#8fff70"/><stop offset="0.50000" stop-color="#8fff70"/><stop offset="0.50000" stop-color="#80ff80"/><stop offset="0.51562" stop-color="#80ff80"/><stop offset="0.51562" stop-color="#70ff8f"/><stop offset="0.53125" stop-color="#70ff8f"/><stop offset="0.53125" stop-color="#60ff9f"/><stop offset="0.54688" stop-color="#60ff9f"/><stop offset="0.54688" stop-color="#50ffaf"/><stop offset="0.56250" stop-color="#50ffaf"/><stop offset="0.56250" stop-color="#40ffbf"/><stop offset="0.57812" stop-color="#40ffbf"/><stop offset="0.57812" stop-color="#30ffcf"/><stop offset="0.59375" stop-color="#30ffcf"/><stop offset="0.59375" stop-color="#20ffdf"/><stop offset="0.60938" stop-color="#20ffdf"/><stop offset="0.60938" stop-color="#10ffef"/><stop offset="0.62500" stop-color="#10ffef"/><stop offset="0.62500" stop-color="#00ffff"/><stop offset="0.64062" stop-color="#00ffff"/><stop offset="0.64062" stop-color="#00efff"/><stop offset="0.65625" stop-color="#00efff"/><stop offset="0.65625" stop-color="#00dfff"/><stop offset="0.67188" stop-color="#00dfff"/><stop offset="0.67188" stop-color="#00cfff"/><stop offset="0.68750" stop-color="#00cfff"/><stop offset="0.68750" stop-color="#00bfff"/><stop offset="0.70312" stop-color="#00bfff"/><stop offset="0.70312" stop-color="#00afff"/><stop offset="0.71875" stop-color="#00afff"/><stop offset="0.71875" stop-color="#009fff"/><stop offset="0.73438" stop-color="#009fff"/><stop offset="0.73438" stop-color="#008fff"/><stop offset="0.75000" stop-color="#008fff"/><stop offset="0.75000" stop-color="#0080ff"/><stop offset="0.76562" stop-color="#0080ff"/><stop offset="0.76562" stop-color="#0070ff"/><stop offset="0.78125" stop-color="#0070ff"/><stop offset="0.78125" stop-color="#0060ff"/><stop offset="0.79688" stop-color="#0060ff"/><stop offset="0.79688" stop-color="#0050ff"/><stop offset="0.81250" stop-color="#0050ff"/><stop offset="0.81250" stop-color="#0040ff"/><stop offset="0.82812" stop-color="#0040ff"/><stop offset="0.82812" stop-color="#0030ff"/><stop offset="0.84375" stop-color="#0030ff"/><stop offset="0.84375" stop-color="#0020ff"/><stop offset="0.85938" stop-color="#0020ff"/><stop offset="0.85938" stop-color="#0010ff"/><stop offset="0.87500" stop-color="#0010ff"/><stop offset="0.87500" stop-color="#0000ff"/><stop offset="0.89062" stop-color="#0000ff"/><stop offset="0.89062" stop-color="#0000ef"/><stop offset="0.90625" stop-color="#0000ef"/><stop offset="0.90625" stop-color="#0000df"/><stop offset="0.92188" stop-color="#0000df"/><stop offset="0.92188" stop-color="#0000cf"/><stop offset="0.93750" stop-color="#0000cf"/><stop offset="0.93750" stop-color="#0000bf"/><stop offset="0.95312" stop-color="#0000bf"/><stop offset="0.95312" stop-color="#0000af"/><stop offset="0.96875" stop-color="#0000af"/><stop offset="0.96875" stop-color="#00009f"/><stop offset="0.98438" stop-color="#00009f"/><stop offset="0.98438" stop-color="#00008f"/><stop offset="1.00000" stop-color="#00008f"/></linearGradient></defs>
<rect x="1458.30" y="46.00" width="25.40" height="205.00" fill="url(#cbg)"/>
<text x="1487.00" y="254.70" font-size="12" text-anchor="start" fill="#262626">-2</text>
<text x="1487.00" y="220.70" font-size="12" text-anchor="start" fill="#262626">-1</text>
<text x="1487.00" y="186.70" font-size="12" text-anchor="start" fill="#262626">0</text>
<text x="1487.00" y="152.70" font-size="12" text-anchor="start" fill="#262626">1</text>
<text x="1487.00" y="118.70" font-size="12" text-anchor="start" fill="#262626">2</text>
<text x="1487.00" y="84.70" font-size="12" text-anchor="start" fill="#262626">3</text>
<text x="1487.00" y="50.70" font-size="12" text-anchor="start" fill="#262626">4</text>
<path d="M1458.30 250.50H1460.80M1483.70 250.50H1481.20M1458.30 216.50H1460.80M1483.70 216.50H1481.20M1458.30 182.50H1460.80M1483.70 182.50H1481.20M1458.30 148.50H1460.80M1483.70 148.50H1481.20M1458.30 114.50H1460.80M1483.70 114.50H1481.20M1458.30 80.50H1460.80M1483.70 80.50H1481.20M1458.30 46.50H1460.80M1483.70 46.50H1481.20" stroke="#444" stroke-width="1" fill="none" opacity="0.7"/>
<rect x="1458.30" y="46.50" width="25.40" height="204.00" fill="none" stroke="#555" stroke-width="1"/>
<text transform="translate(1519.6 149.30) rotate(-90)" font-size="12" font-weight="bold" text-anchor="middle" fill="#000">log<tspan font-size="10" dy="4">2</tspan><tspan dy="-4">(nT</tspan><tspan font-size="10" dy="-6">2</tspan><tspan dy="6">/Hz)</tspan></text>
<text x="42.70" y="549.10" font-size="12" text-anchor="middle" fill="#262626">00:00</text>
<text x="118.08" y="549.10" font-size="12" text-anchor="middle" fill="#262626">03:00</text>
<text x="193.45" y="549.10" font-size="12" text-anchor="middle" fill="#262626">06:00</text>
<text x="268.82" y="549.10" font-size="12" text-anchor="middle" fill="#262626">09:00</text>
<text x="344.20" y="549.10" font-size="12" text-anchor="middle" fill="#262626">12:00</text>
<text x="419.57" y="549.10" font-size="12" text-anchor="middle" fill="#262626">15:00</text>
<text x="494.95" y="549.10" font-size="12" text-anchor="middle" fill="#262626">18:00</text>
<text x="570.33" y="549.10" font-size="12" text-anchor="middle" fill="#262626">21:00</text>
<text x="645.70" y="549.10" font-size="12" text-anchor="middle" fill="#262626">00:00</text>
<text x="39.20" y="538.70" font-size="12" text-anchor="end" fill="#262626">-1.5</text>
<text x="39.20" y="509.70" font-size="12" text-anchor="end" fill="#262626">-1</text>
<text x="39.20" y="480.70" font-size="12" text-anchor="end" fill="#262626">-0.5</text>
<text x="39.20" y="450.70" font-size="12" text-anchor="end" fill="#262626">0</text>
<text x="39.20" y="421.70" font-size="12" text-anchor="end" fill="#262626">0.5</text>
<text x="39.20" y="392.70" font-size="12" text-anchor="end" fill="#262626">1</text>
<text x="39.20" y="363.70" font-size="12" text-anchor="end" fill="#262626">1.5</text>
<text x="39.20" y="334.70" font-size="12" text-anchor="end" fill="#262626">2</text>
<path d="M42.70 534.50V528.50M42.70 330.50V336.50M118.08 534.50V528.50M118.08 330.50V336.50M193.45 534.50V528.50M193.45 330.50V336.50M268.82 534.50V528.50M268.82 330.50V336.50M344.20 534.50V528.50M344.20 330.50V336.50M419.57 534.50V528.50M419.57 330.50V336.50M494.95 534.50V528.50M494.95 330.50V336.50M570.33 534.50V528.50M570.33 330.50V336.50M645.70 534.50V528.50M645.70 330.50V336.50M42.70 534.50H48.70M645.70 534.50H639.70M42.70 505.50H48.70M645.70 505.50H639.70M42.70 476.50H48.70M645.70 476.50H639.70M42.70 446.50H48.70M645.70 446.50H639.70M42.70 417.50H48.70M645.70 417.50H639.70M42.70 388.50H48.70M645.70 388.50H639.70M42.70 359.50H48.70M645.70 359.50H639.70M42.70 330.50H48.70M645.70 330.50H639.70" stroke="#a8a8a8" stroke-width="1" fill="none"/>
<rect x="42.70" y="330.50" width="603.00" height="204.00" fill="none" stroke="#a8a8a8" stroke-width="1"/>
<g clip-path="url(#clipL1)"><path d="M42.8 449.1 L43.0 444.1 L43.1 452.7 L43.3 440.6 L43.5 452.5 L43.6 445.9 L43.8 451.6 L44.0 443.3 L44.1 448.1 L44.3 445.7 L44.5 446.7 L44.6 442.4 L44.8 446.8 L45.0 446.6 L45.1 448.2 L45.3 445.0 L45.5 447.7 L45.6 443.9 L45.8 448.4 L46.0 446.5 L46.1 448.4 L46.3 442.3 L46.5 455.9 L46.6 446.5 L46.8 446.8 L47.0 445.8 L47.1 448.1 L47.3 441.9 L47.5 451.0 L47.6 445.3 L47.8 448.8 L48.0 442.6 L48.1 450.8 L48.3 442.0 L48.5 454.6 L48.6 443.8 L48.8 450.5 L49.0 445.3 L49.1 447.1 L49.3 446.3 L49.5 448.9 L49.6 444.8 L49.8 447.7 L50.0 443.0 L50.1 450.2 L50.3 445.1 L50.5 448.3 L50.6 444.3 L50.8 448.2 L51.0 445.7 L51.1 446.8 L51.3 445.1 L51.5 447.3 L51.6 444.1 L51.8 447.4 L52.0 441.0 L52.1 450.5 L52.3 444.7 L52.5 448.9 L52.6 441.7 L52.8 449.2 L53.0 445.6 L53.1 451.6 L53.3 442.9 L53.5 451.2 L53.6 444.6 L53.8 452.6 L54.0 439.6 L54.1 449.9 L54.3 443.4 L54.5 448.7 L54.6 443.3 L54.8 451.3 L55.0 443.3 L55.1 447.7 L55.3 443.7 L55.5 447.3 L55.6 445.5 L55.8 447.5 L56.0 445.2 L56.1 447.7 L56.3 446.3 L56.5 448.4 L56.6 445.4 L56.8 447.1 L57.0 446.5 L57.1 447.6 L57.3 445.4 L57.5 447.3 L57.6 444.2 L57.8 449.7 L58.0 446.0 L58.1 448.2 L58.3 444.4 L58.5 450.1 L58.6 445.8 L58.8 450.7 L59.0 446.1 L59.1 446.7 L59.3 444.5 L59.5 447.0 L59.6 445.4 L59.8 449.4 L60.0 446.4 L60.1 449.5 L60.3 446.3 L60.5 446.9 L60.6 445.8 L60.8 450.1 L61.0 446.6 L61.1 448.9 L61.3 442.6 L61.5 447.4 L61.6 444.5 L61.8 447.7 L62.0 437.3 L62.1 450.4 L62.3 444.2 L62.5 449.7 L62.6 442.0 L62.8 447.8 L63.0 445.7 L63.1 449.4 L63.3 442.0 L63.5 448.8 L63.6 444.3 L63.8 446.7 L64.0 443.0 L64.1 448.7 L64.3 442.3 L64.5 446.8 L64.6 445.2 L64.8 452.8 L65.0 444.2 L65.1 450.1 L65.3 446.2 L65.5 446.9 L65.6 441.8 L65.8 446.8 L66.0 445.0 L66.1 446.9 L66.3 445.7 L66.5 448.1 L66.6 443.0 L66.8 448.4 L67.0 442.7 L67.1 447.2 L67.3 446.2 L67.5 447.2 L67.6 445.2 L67.8 447.6 L68.0 445.3 L68.1 448.5 L68.3 443.0 L68.5 450.2 L68.6 445.6 L68.8 447.8 L69.0 445.9 L69.1 447.6 L69.3 446.0 L69.5 448.2 L69.6 446.3 L69.8 447.9 L70.0 446.0 L70.1 447.7 L70.3 445.7 L70.5 447.9 L70.6 446.1 L70.8 449.0 L71.0 445.7 L71.1 446.6 L71.3 444.9 L71.5 447.9 L71.6 446.0 L71.8 447.1 L72.0 445.8 L72.1 449.5 L72.3 445.1 L72.5 447.1 L72.6 440.1 L72.8 448.1 L73.0 446.3 L73.1 446.8 L73.3 443.8 L73.5 447.3 L73.6 443.4 L73.8 448.6 L74.0 446.5 L74.1 447.9 L74.3 444.5 L74.5 447.6 L74.6 446.1 L74.8 448.8 L75.0 445.6 L75.1 448.5 L75.3 445.8 L75.5 446.8 L75.6 445.9 L75.8 449.1 L76.0 446.6 L76.1 448.3 L76.3 445.5 L76.5 448.5 L76.6 443.0 L76.8 448.2 L77.0 446.3 L77.1 446.7 L77.3 446.4 L77.5 447.4 L77.6 444.3 L77.8 446.8 L78.0 445.3 L78.1 446.8 L78.3 446.6 L78.5 447.5 L78.6 444.5 L78.8 447.8 L79.0 445.9 L79.1 448.3 L79.3 446.5 L79.5 448.1 L79.6 445.4 L79.8 448.9 L80.0 446.2 L80.1 447.6 L80.3 442.3 L80.5 449.2 L80.6 443.1 L80.8 447.7 L81.0 444.9 L81.1 447.7 L81.3 444.4 L81.5 450.0 L81.6 445.9 L81.8 447.1 L82.0 445.5 L82.1 447.2 L82.3 443.5 L82.5 447.6 L82.6 446.5 L82.8 446.9 L83.0 445.2 L83.1 448.3 L83.3 445.9 L83.5 448.5 L83.6 446.3 L83.8 448.3 L84.0 445.4 L84.1 448.7 L84.3 446.2 L84.5 447.0 L84.6 445.5 L84.8 448.4 L85.0 444.0 L85.1 447.2 L85.3 444.6 L85.5 448.5 L85.6 445.4 L85.8 447.6 L86.0 446.1 L86.1 449.3 L86.3 446.0 L86.5 447.3 L86.6 446.5 L86.8 447.5 L87.0 445.4 L87.1 447.9 L87.3 445.7 L87.5 446.7 L87.6 446.6 L87.8 447.9 L88.0 445.6 L88.1 447.3 L88.3 444.4 L88.5 449.5 L88.6 445.5 L88.8 447.1 L89.0 446.2 L89.1 450.0 L89.3 445.3 L89.5 446.8 L89.6 445.3 L89.8 449.7 L90.0 444.4 L90.1 448.8 L90.3 445.1 L90.5 448.3 L90.6 444.8 L90.8 448.1 L91.0 440.8 L91.1 449.2 L91.3 443.5 L91.5 450.4 L91.6 445.7 L91.8 449.1 L92.0 446.3 L92.1 447.5 L92.3 444.5 L92.5 447.5 L92.6 446.5 L92.8 451.3 L93.0 445.4 L93.1 446.7 L93.3 446.1 L93.5 447.5 L93.6 445.9 L93.8 450.2 L94.0 446.1 L94.1 447.3 L94.3 445.6 L94.5 450.1 L94.6 444.6 L94.8 450.2 L95.0 443.8 L95.1 450.6 L95.3 445.8 L95.5 451.2 L95.6 442.3 L95.8 448.7 L96.0 443.6 L96.1 450.4 L96.3 445.9 L96.5 448.5 L96.6 442.9 L96.8 447.4 L97.0 444.0 L97.1 447.0 L97.3 445.9 L97.5 446.7 L97.6 445.6 L97.8 446.7 L98.0 445.9 L98.1 448.1 L98.3 446.3 L98.5 451.1 L98.6 446.2 L98.8 447.6 L99.0 445.5 L99.1 448.2 L99.3 445.4 L99.5 446.7 L99.6 445.2 L99.8 448.0 L100.0 445.6 L100.1 446.8 L100.3 444.9 L100.5 447.3 L100.6 444.4 L100.8 446.8 L101.0 446.0 L101.1 449.2 L101.3 445.2 L101.5 447.4 L101.6 444.5 L101.8 447.1 L102.0 445.6 L102.1 449.3 L102.3 446.5 L102.5 446.9 L102.6 446.0 L102.8 448.1 L103.0 445.6 L103.1 447.5 L103.3 445.6 L103.5 446.9 L103.6 445.3 L103.8 448.4 L104.0 446.2 L104.1 450.0 L104.3 444.8 L104.5 447.6 L104.6 445.4 L104.8 447.3 L105.0 445.4 L105.1 446.7 L105.3 444.0 L105.5 447.7 L105.6 445.8 L105.8 448.8 L106.0 444.5 L106.1 446.7 L106.3 445.5 L106.5 448.0 L106.6 444.3 L106.8 447.3 L107.0 446.2 L107.1 447.1 L107.3 445.2 L107.5 449.1 L107.6 445.9 L107.8 449.1 L108.0 446.6 L108.1 448.0 L108.3 446.2 L108.5 447.1 L108.6 445.8 L108.8 447.6 L109.0 445.4 L109.1 447.6 L109.3 444.2 L109.5 449.0 L109.6 446.3 L109.8 447.6 L110.0 445.4 L110.1 448.0 L110.3 444.8 L110.5 448.5 L110.6 442.9 L110.8 452.6 L111.0 443.0 L111.1 449.5 L111.3 445.0 L111.5 449.9 L111.6 446.5 L111.8 448.9 L112.0 446.5 L112.1 449.1 L112.3 446.4 L112.5 451.6 L112.6 445.0 L112.8 447.9 L113.0 440.9 L113.1 448.4 L113.3 446.3 L113.5 447.7 L113.6 445.3 L113.8 448.1 L114.0 446.6 L114.1 446.6 L114.3 445.8 L114.5 446.8 L114.6 446.1 L114.8 447.3 L115.0 444.9 L115.1 448.6 L115.3 446.0 L115.5 447.0 L115.6 446.4 L115.8 447.6 L116.0 445.4 L116.1 447.6 L116.3 445.8 L116.5 446.9 L116.6 444.4 L116.8 447.3 L117.0 444.7 L117.1 449.1 L117.3 446.5 L117.5 448.0 L117.6 445.4 L117.8 447.0 L118.0 443.8 L118.1 447.8 L118.3 446.5 L118.5 448.8 L118.6 445.7 L118.8 448.5 L119.0 445.3 L119.1 447.0 L119.3 445.6 L119.5 447.2 L119.6 445.9 L119.8 447.1 L120.0 446.3 L120.1 447.2 L120.3 445.8 L120.5 447.2 L120.6 445.4 L120.8 447.1 L121.0 446.5 L121.1 447.7 L121.3 445.3 L121.5 446.7 L121.6 445.5 L121.8 448.5 L122.0 446.4 L122.1 447.8 L122.3 446.1 L122.5 446.8 L122.6 444.3 L122.8 447.2 L123.0 445.0 L123.1 448.8 L123.3 445.9 L123.5 447.2 L123.6 446.5 L123.8 449.3 L124.0 445.4 L124.1 449.0 L124.3 444.6 L124.5 449.6 L124.6 444.3 L124.8 447.3 L125.0 445.2 L125.1 447.7 L125.3 446.2 L125.5 448.8 L125.6 446.2 L125.8 450.1 L126.0 446.5 L126.1 447.2 L126.3 446.0 L126.5 447.8 L126.6 443.6 L126.8 446.7 L127.0 441.3 L127.1 447.0 L127.3 445.4 L127.5 447.8 L127.6 445.9 L127.8 447.3 L128.0 446.3 L128.1 446.7 L128.3 441.5 L128.4 449.6 L128.6 443.9 L128.8 447.1 L128.9 445.1 L129.1 447.3 L129.3 442.8 L129.4 446.6 L129.6 445.2 L129.8 446.8 L129.9 443.3 L130.1 447.4 L130.3 445.9 L130.4 447.7 L130.6 445.7 L130.8 446.8 L130.9 444.7 L131.1 446.8 L131.3 446.0 L131.4 448.6 L131.6 446.1 L131.8 447.7 L131.9 445.7 L132.1 447.2 L132.3 445.1 L132.4 447.3 L132.6 445.5 L132.8 447.9 L132.9 446.1 L133.1 447.4 L133.3 445.8 L133.4 448.8 L133.6 441.2 L133.8 448.7 L133.9 446.0 L134.1 448.4 L134.3 444.8 L134.4 451.2 L134.6 443.0 L134.8 446.8 L134.9 446.6 L135.1 447.1 L135.3 444.1 L135.4 447.0 L135.6 444.3 L135.8 448.8 L135.9 445.7 L136.1 448.0 L136.3 444.5 L136.4 448.5 L136.6 443.2 L136.8 447.0 L136.9 446.2 L137.1 447.9 L137.3 446.3 L137.4 451.0 L137.6 446.2 L137.8 447.7 L137.9 445.9 L138.1 447.7 L138.3 446.0 L138.4 447.9 L138.6 445.7 L138.8 450.0 L138.9 444.2 L139.1 446.9 L139.3 443.4 L139.4 448.9 L139.6 446.3 L139.8 448.4 L139.9 446.5 L140.1 448.6 L140.3 444.5 L140.4 447.8 L140.6 446.0 L140.8 447.0 L140.9 446.6 L141.1 447.1 L141.3 444.7 L141.4 448.2 L141.6 444.2 L141.8 447.7 L141.9 446.1 L142.1 448.9 L142.3 445.3 L142.4 447.6 L142.6 445.1 L142.8 447.1 L142.9 445.4 L143.1 447.6 L143.3 445.1 L143.4 449.8 L143.6 445.2 L143.8 446.8 L143.9 443.8 L144.1 447.5 L144.3 443.8 L144.4 449.0 L144.6 446.6 L144.8 449.8 L144.9 446.4 L145.1 451.6 L145.3 446.2 L145.4 447.4 L145.6 445.9 L145.8 448.9 L145.9 441.1 L146.1 448.5 L146.3 443.2 L146.4 449.2 L146.6 446.1 L146.8 449.1 L146.9 445.3 L147.1 446.8 L147.3 444.7 L147.4 447.3 L147.6 443.5 L147.8 453.7 L147.9 446.4 L148.1 449.1 L148.3 445.3 L148.4 446.9 L148.6 446.1 L148.8 447.6 L148.9 446.5 L149.1 447.8 L149.3 445.1 L149.4 449.2 L149.6 444.2 L149.8 447.3 L149.9 446.1 L150.1 448.1 L150.3 441.9 L150.4 446.9 L150.6 446.0 L150.8 447.1 L150.9 446.5 L151.1 448.7 L151.3 445.9 L151.4 447.9 L151.6 445.9 L151.8 448.7 L151.9 446.3 L152.1 448.2 L152.3 446.4 L152.4 450.0 L152.6 446.5 L152.8 449.1 L152.9 445.8 L153.1 447.2 L153.3 446.3 L153.4 449.3 L153.6 444.5 L153.8 448.0 L153.9 445.4 L154.1 448.6 L154.3 443.7 L154.4 450.9 L154.6 440.9 L154.8 449.2 L154.9 445.4 L155.1 448.6 L155.3 445.6 L155.4 447.1 L155.6 443.8 L155.8 448.5 L155.9 444.5 L156.1 449.0 L156.3 444.5 L156.4 448.7 L156.6 446.3 L156.8 446.9 L156.9 443.9 L157.1 449.1 L157.3 444.5 L157.4 447.9 L157.6 446.3 L157.8 446.8 L157.9 446.4 L158.1 449.0 L158.3 445.9 L158.4 447.0 L158.6 445.5 L158.8 448.3 L158.9 445.9 L159.1 448.7 L159.3 445.7 L159.4 447.8 L159.6 446.2 L159.8 449.3 L159.9 446.5 L160.1 447.9 L160.3 446.2 L160.4 449.5 L160.6 446.5 L160.8 447.1 L160.9 446.1 L161.1 446.7 L161.3 445.9 L161.4 446.7 L161.6 444.1 L161.8 448.8 L161.9 445.4 L162.1 449.2 L162.3 445.6 L162.4 448.8 L162.6 445.3 L162.8 448.2 L162.9 445.0 L163.1 446.8 L163.3 446.5 L163.4 447.9 L163.6 445.6 L163.8 446.7 L163.9 444.6 L164.1 446.8 L164.3 443.5 L164.4 447.2 L164.6 446.3 L164.8 446.8 L164.9 446.6 L165.1 447.1 L165.3 445.9 L165.4 447.6 L165.6 446.4 L165.8 447.4 L165.9 445.4 L166.1 446.7 L166.3 445.8 L166.4 447.1 L166.6 443.7 L166.8 448.3 L166.9 446.4 L167.1 447.7 L167.3 446.3 L167.4 447.2 L167.6 446.4 L167.8 447.3 L167.9 444.5 L168.1 447.6 L168.3 445.8 L168.4 448.2 L168.6 441.8 L168.8 446.8 L168.9 445.1 L169.1 447.8 L169.3 445.3 L169.4 447.7 L169.6 444.0 L169.8 447.6 L169.9 445.4 L170.1 448.4 L170.3 446.6 L170.4 450.9 L170.6 446.3 L170.8 449.1 L170.9 446.6 L171.1 448.6 L171.3 446.1 L171.4 450.1 L171.6 443.3 L171.8 447.0 L171.9 446.2 L172.1 448.2 L172.3 446.5 L172.4 448.9 L172.6 446.4 L172.8 447.5 L172.9 444.0 L173.1 447.6 L173.3 444.9 L173.4 447.0 L173.6 444.6 L173.8 446.8 L173.9 445.6 L174.1 448.7 L174.3 441.6 L174.4 448.1 L174.6 445.4 L174.8 447.1 L174.9 445.6 L175.1 449.5 L175.3 445.8 L175.4 448.4 L175.6 446.4 L175.8 447.3 L175.9 444.7 L176.1 446.7 L176.3 444.5 L176.4 448.6 L176.6 446.1 L176.8 447.8 L176.9 444.0 L177.1 449.7 L177.3 445.4 L177.4 447.9 L177.6 446.3 L177.8 446.8 L177.9 446.0 L178.1 446.8 L178.3 446.3 L178.4 447.6 L178.6 446.1 L178.8 449.7 L178.9 443.6 L179.1 447.8 L179.3 445.4 L179.4 447.7 L179.6 441.9 L179.8 449.1 L179.9 446.6 L180.1 450.9 L180.3 444.9 L180.4 448.2 L180.6 446.3 L180.8 447.3 L180.9 444.7 L181.1 446.8 L181.3 445.9 L181.4 447.9 L181.6 444.4 L181.8 447.0 L181.9 444.6 L182.1 450.7 L182.3 446.6 L182.4 449.5 L182.6 444.2 L182.8 447.3 L182.9 442.5 L183.1 447.3 L183.3 443.0 L183.4 448.6 L183.6 443.3 L183.8 448.1 L183.9 441.6 L184.1 448.9 L184.3 445.8 L184.4 447.4 L184.6 445.1 L184.8 447.1 L184.9 446.4 L185.1 453.2 L185.3 445.4 L185.4 448.5 L185.6 445.8 L185.8 447.6 L185.9 444.2 L186.1 446.8 L186.3 445.5 L186.4 447.3 L186.6 446.0 L186.8 447.5 L186.9 446.3 L187.1 447.5 L187.3 446.0 L187.4 446.9 L187.6 445.2 L187.8 448.6 L187.9 446.1 L188.1 446.8 L188.3 445.6 L188.4 448.0 L188.6 446.0 L188.8 449.3 L188.9 446.3 L189.1 450.8 L189.3 443.6 L189.4 447.0 L189.6 444.6 L189.8 446.9 L189.9 445.5 L190.1 451.7 L190.3 443.4 L190.4 449.5 L190.6 444.7 L190.8 447.5 L190.9 445.2 L191.1 449.1 L191.3 445.5 L191.4 447.2 L191.6 446.0 L191.8 448.0 L191.9 446.3 L192.1 446.7 L192.3 444.7 L192.4 447.6 L192.6 446.5 L192.8 446.8 L192.9 445.5 L193.1 448.4 L193.3 446.3 L193.4 447.2 L193.6 444.6 L193.8 447.7 L193.9 446.4 L194.1 448.3 L194.3 444.7 L194.4 447.0 L194.6 444.9 L194.8 446.7 L194.9 445.3 L195.1 449.7 L195.3 445.6 L195.4 447.8 L195.6 445.7 L195.8 446.9 L195.9 446.5 L196.1 446.7 L196.3 446.4 L196.4 446.8 L196.6 445.3 L196.8 446.6 L196.9 445.5 L197.1 446.7 L197.3 445.8 L197.4 447.6 L197.6 446.1 L197.8 448.4 L197.9 443.7 L198.1 446.9 L198.3 446.6 L198.4 448.5 L198.6 446.3 L198.8 447.2 L198.9 446.1 L199.1 450.2 L199.3 445.6 L199.4 451.4 L199.6 444.8 L199.8 448.2 L199.9 443.2 L200.1 447.3 L200.3 446.0 L200.4 447.4 L200.6 442.9 L200.8 448.6 L200.9 442.7 L201.1 448.5 L201.3 445.3 L201.4 447.5 L201.6 443.2 L201.8 448.1 L201.9 442.5 L202.1 446.7 L202.3 444.9 L202.4 449.9 L202.6 445.4 L202.8 447.2 L202.9 445.7 L203.1 447.5 L203.3 446.5 L203.4 446.8 L203.6 437.1 L203.8 448.2 L203.9 445.5 L204.1 447.4 L204.3 445.4 L204.4 446.9 L204.6 442.4 L204.8 447.0 L204.9 443.8 L205.1 448.7 L205.3 444.5 L205.4 447.2 L205.6 446.5 L205.8 448.6 L205.9 445.7 L206.1 447.3 L206.3 445.2 L206.4 448.5 L206.6 445.3 L206.8 447.1 L206.9 445.0 L207.1 447.5 L207.3 446.0 L207.4 447.6 L207.6 445.3 L207.8 447.8 L207.9 445.7 L208.1 447.8 L208.3 445.3 L208.4 446.9 L208.6 444.0 L208.8 448.4 L208.9 444.6 L209.1 447.5 L209.3 445.2 L209.4 448.3 L209.6 446.2 L209.8 446.8 L209.9 445.6 L210.1 448.8 L210.3 446.1 L210.4 447.9 L210.6 445.6 L210.8 446.8 L210.9 444.5 L211.1 446.6 L211.3 445.7 L211.4 447.4 L211.6 444.1 L211.8 449.8 L211.9 446.5 L212.1 450.6 L212.3 446.3 L212.4 449.8 L212.6 439.1 L212.8 448.9 L212.9 445.2 L213.1 450.9 L213.3 444.3 L213.4 449.3 L213.6 443.4 L213.8 447.2 L213.9 445.6 L214.1 447.1 L214.3 443.7 L214.4 449.7 L214.6 437.6 L214.8 447.0 L214.9 445.2 L215.1 451.4 L215.3 444.5 L215.4 446.9 L215.6 446.3 L215.8 449.1 L215.9 444.0 L216.1 449.0 L216.3 443.2 L216.4 447.5 L216.6 445.9 L216.8 446.8 L216.9 443.5 L217.1 448.1 L217.3 438.0 L217.4 449.5 L217.6 445.8 L217.8 451.4 L217.9 441.2 L218.1 451.0 L218.3 444.0 L218.4 449.8 L218.6 443.9 L218.8 447.9 L218.9 446.4 L219.1 450.9 L219.3 446.1 L219.4 447.6 L219.6 441.7 L219.8 447.3 L219.9 445.6 L220.1 450.0 L220.3 441.9 L220.4 448.7 L220.6 443.5 L220.8 453.4 L220.9 446.1 L221.1 450.4 L221.3 441.3 L221.4 447.5 L221.6 437.2 L221.8 449.6 L221.9 444.6 L222.1 447.6 L222.3 443.9 L222.4 448.1 L222.6 445.5 L222.8 450.0 L222.9 445.6 L223.1 453.2 L223.3 441.3 L223.4 447.3 L223.6 440.5 L223.8 450.0 L223.9 440.2 L224.1 460.3 L224.3 444.6 L224.4 457.3 L224.6 444.3 L224.8 448.1 L224.9 437.3 L225.1 451.2 L225.3 442.6 L225.4 456.6 L225.6 444.3 L225.8 449.5 L225.9 444.8 L226.1 453.7 L226.3 435.3 L226.4 449.1 L226.6 442.0 L226.8 446.7 L226.9 446.0 L227.1 448.3 L227.3 439.8 L227.4 455.1 L227.6 443.6 L227.8 449.3 L227.9 444.7 L228.1 448.8 L228.3 444.2 L228.4 456.1 L228.6 446.3 L228.8 448.4 L228.9 441.8 L229.1 449.1 L229.3 446.4 L229.4 446.8 L229.6 441.7 L229.8 454.6 L229.9 443.9 L230.1 465.0 L230.3 436.6 L230.4 456.3 L230.6 442.5 L230.8 451.8 L230.9 436.9 L231.1 447.7 L231.3 445.1 L231.4 458.0 L231.6 443.2 L231.8 460.6 L231.9 442.5 L232.1 456.4 L232.3 441.3 L232.4 460.8 L232.6 446.3 L232.8 459.8 L232.9 439.4 L233.1 451.9 L233.3 441.6 L233.4 455.4 L233.6 440.4 L233.8 462.4 L233.9 443.5 L234.1 452.1 L234.3 441.8 L234.4 449.7 L234.6 433.4 L234.8 454.8 L234.9 437.8 L235.1 452.7 L235.3 442.7 L235.4 448.1 L235.6 443.9 L235.8 449.7 L235.9 436.6 L236.1 446.8 L236.3 442.8 L236.4 450.2 L236.6 444.6 L236.8 449.9 L236.9 444.2 L237.1 448.8 L237.3 444.8 L237.4 446.9 L237.6 445.0 L237.8 447.1 L237.9 444.3 L238.1 453.6 L238.3 445.8 L238.4 446.8 L238.6 446.1 L238.8 447.7 L238.9 446.2 L239.1 449.7 L239.3 444.6 L239.4 448.1 L239.6 446.1 L239.8 446.7 L239.9 446.5 L240.1 447.0 L240.3 444.4 L240.4 449.4 L240.6 445.2 L240.8 449.4 L240.9 444.2 L241.1 447.2 L241.3 446.6 L241.4 447.5 L241.6 446.3 L241.8 447.0 L241.9 446.6 L242.1 448.2 L242.3 444.8 L242.4 448.0 L242.6 445.0 L242.8 448.1 L242.9 446.4 L243.1 447.6 L243.3 444.1 L243.4 449.6 L243.6 445.5 L243.8 447.7 L243.9 444.7 L244.1 448.1 L244.3 444.9 L244.4 446.8 L244.6 445.6 L244.8 448.9 L244.9 444.7 L245.1 446.8 L245.3 440.8 L245.4 447.3 L245.6 444.4 L245.8 446.7 L245.9 444.0 L246.1 451.9 L246.3 444.2 L246.4 447.2 L246.6 446.4 L246.8 450.9 L246.9 446.2 L247.1 449.5 L247.3 443.0 L247.4 448.0 L247.6 445.7 L247.8 449.7 L247.9 445.4 L248.1 446.7 L248.3 445.3 L248.4 447.0 L248.6 442.5 L248.8 446.8 L248.9 444.1 L249.1 447.3 L249.3 445.3 L249.4 447.6 L249.6 443.0 L249.8 448.2 L249.9 442.5 L250.1 448.8 L250.3 446.4 L250.4 446.7 L250.6 444.9 L250.8 447.9 L250.9 443.3 L251.1 449.0 L251.3 445.8 L251.4 448.0 L251.6 446.4 L251.8 449.1 L251.9 445.4 L252.1 446.8 L252.3 445.1 L252.4 448.3 L252.6 445.4 L252.8 447.5 L252.9 445.8 L253.1 449.5 L253.3 443.6 L253.4 448.3 L253.6 445.9 L253.8 447.8 L253.9 444.9 L254.1 448.1 L254.3 444.7 L254.4 447.9 L254.6 446.3 L254.8 448.1 L254.9 445.8 L255.1 447.5 L255.3 446.0 L255.4 449.3 L255.6 444.6 L255.8 448.7 L255.9 446.2 L256.1 448.9 L256.3 443.2 L256.4 447.7 L256.6 442.7 L256.8 447.2 L256.9 444.5 L257.1 447.0 L257.3 437.3 L257.4 450.4 L257.6 444.3 L257.8 447.3 L257.9 440.1 L258.1 453.2 L258.3 445.2 L258.4 448.5 L258.6 437.0 L258.8 448.4 L258.9 442.6 L259.1 456.5 L259.3 446.2 L259.4 448.6 L259.6 443.6 L259.8 451.7 L259.9 443.8 L260.1 447.6 L260.3 446.5 L260.4 447.9 L260.6 444.2 L260.8 447.9 L260.9 442.1 L261.1 450.5 L261.3 445.4 L261.4 449.9 L261.6 445.1 L261.8 447.4 L261.9 443.0 L262.1 448.8 L262.3 445.5 L262.4 452.4 L262.6 440.9 L262.8 448.2 L262.9 440.5 L263.1 447.0 L263.3 446.2 L263.4 450.8 L263.6 445.5 L263.8 446.7 L263.9 444.9 L264.1 446.9 L264.3 446.3 L264.4 449.3 L264.6 444.9 L264.8 449.0 L264.9 441.9 L265.1 446.7 L265.3 446.2 L265.4 447.4 L265.6 446.5 L265.8 451.1 L265.9 442.7 L266.1 451.0 L266.3 445.4 L266.4 446.9 L266.6 445.8 L266.8 450.4 L266.9 443.0 L267.1 448.2 L267.3 445.3 L267.4 450.3 L267.6 446.3 L267.8 453.6 L267.9 436.1 L268.1 454.1 L268.3 441.2 L268.4 451.7 L268.6 443.6 L268.8 446.8 L268.9 446.2 L269.1 451.8 L269.3 443.4 L269.4 446.9 L269.6 446.5 L269.8 450.8 L269.9 442.6 L270.1 451.0 L270.3 441.3 L270.4 449.4 L270.6 437.8 L270.8 448.0 L270.9 443.2 L271.1 449.0 L271.3 441.9 L271.4 449.3 L271.6 441.9 L271.8 450.5 L271.9 446.1 L272.1 447.3 L272.3 444.9 L272.4 450.5 L272.6 444.8 L272.8 449.1 L272.9 443.0 L273.1 450.9 L273.3 444.1 L273.4 456.9 L273.6 444.7 L273.8 450.3 L273.9 433.7 L274.1 453.5 L274.3 443.6 L274.4 451.5 L274.6 436.0 L274.8 447.2 L274.9 435.4 L275.1 448.7 L275.3 440.3 L275.4 450.1 L275.6 444.7 L275.8 450.6 L275.9 441.4 L276.1 450.8 L276.3 444.9 L276.4 449.6 L276.6 446.1 L276.8 452.9 L276.9 434.2 L277.1 449.5 L277.3 446.3 L277.4 447.2 L277.6 436.3 L277.8 449.0 L277.9 435.7 L278.1 452.1 L278.3 441.4 L278.4 458.9 L278.6 444.3 L278.8 450.6 L278.9 446.2 L279.1 448.0 L279.3 442.3 L279.4 463.9 L279.6 434.7 L279.8 448.5 L279.9 443.4 L280.1 448.8 L280.3 445.8 L280.4 448.7 L280.6 428.3 L280.8 448.1 L280.9 444.6 L281.1 466.5 L281.3 442.6 L281.4 447.1 L281.6 446.4 L281.8 450.5 L281.9 445.4 L282.1 456.8 L282.3 445.3 L282.4 452.5 L282.6 436.7 L282.8 449.8 L282.9 442.1 L283.1 457.2 L283.3 443.2 L283.4 460.8 L283.6 444.0 L283.8 455.8 L283.9 435.6 L284.1 449.6 L284.3 445.9 L284.4 449.2 L284.6 445.0 L284.8 453.5 L284.9 444.8 L285.1 447.6 L285.3 444.2 L285.4 457.1 L285.6 439.5 L285.8 449.8 L285.9 441.6 L286.1 466.2 L286.3 440.0 L286.4 451.4 L286.6 417.1 L286.8 452.8 L286.9 441.8 L287.1 451.8 L287.3 438.8 L287.4 451.1 L287.6 439.7 L287.8 447.9 L287.9 435.8 L288.1 453.0 L288.3 445.0 L288.4 465.2 L288.6 443.0 L288.8 460.2 L288.9 436.7 L289.1 455.0 L289.3 443.8 L289.4 448.0 L289.6 420.4 L289.8 447.0 L289.9 441.2 L290.1 461.2 L290.3 441.5 L290.4 446.7 L290.6 441.6 L290.8 450.4 L290.9 435.9 L291.1 448.9 L291.3 445.7 L291.4 448.4 L291.6 437.8 L291.8 451.0 L291.9 445.2 L292.1 450.6 L292.3 438.7 L292.4 449.2 L292.6 446.3 L292.8 454.2 L292.9 446.0 L293.1 449.9 L293.3 443.5 L293.4 454.2 L293.6 438.1 L293.8 448.2 L293.9 439.5 L294.1 447.1 L294.3 436.9 L294.4 449.2 L294.6 443.1 L294.8 448.7 L294.9 431.7 L295.1 464.2 L295.3 442.6 L295.4 453.2 L295.6 445.9 L295.8 450.9 L295.9 423.2 L296.1 447.5 L296.3 442.8 L296.4 453.4 L296.6 431.6 L296.8 468.8 L296.9 434.8 L297.1 468.1 L297.3 431.9 L297.4 461.1 L297.6 442.8 L297.8 467.3 L297.9 432.6 L298.1 474.9 L298.3 420.7 L298.4 459.0 L298.6 445.6 L298.8 452.8 L298.9 442.7 L299.1 454.2 L299.3 438.6 L299.4 455.0 L299.6 425.3 L299.8 461.5 L299.9 440.2 L300.1 451.0 L300.3 441.6 L300.4 453.1 L300.6 443.8 L300.8 459.7 L300.9 442.0 L301.1 450.9 L301.3 442.7 L301.4 448.4 L301.6 440.3 L301.8 451.4 L301.9 438.7 L302.1 452.2 L302.3 440.3 L302.4 454.2 L302.6 437.8 L302.8 454.1 L302.9 443.4 L303.1 451.4 L303.3 416.6 L303.4 451.2 L303.6 440.2 L303.8 447.1 L303.9 445.6 L304.1 451.3 L304.3 441.1 L304.4 453.6 L304.6 442.7 L304.8 452.4 L304.9 439.5 L305.1 449.5 L305.3 446.0 L305.4 446.9 L305.6 440.6 L305.8 453.3 L305.9 445.4 L306.1 453.2 L306.3 445.5 L306.4 446.9 L306.6 445.8 L306.8 446.8 L306.9 438.6 L307.1 449.5 L307.3 441.7 L307.4 447.7 L307.6 445.0 L307.8 450.3 L307.9 445.2 L308.1 450.5 L308.3 436.5 L308.4 456.0 L308.6 442.7 L308.8 450.5 L308.9 446.0 L309.1 446.9 L309.3 442.4 L309.4 451.1 L309.6 445.0 L309.8 450.8 L309.9 444.6 L310.1 451.0 L310.3 445.9 L310.4 447.4 L310.6 442.0 L310.8 452.2 L310.9 444.0 L311.1 448.5 L311.3 437.6 L311.4 449.7 L311.6 442.6 L311.8 454.8 L311.9 444.1 L312.1 450.4 L312.3 445.4 L312.4 452.2 L312.6 441.4 L312.8 452.4 L312.9 444.9 L313.1 449.8 L313.3 446.1 L313.4 454.7 L313.6 438.0 L313.8 450.6 L313.9 442.3 L314.1 447.3 L314.3 445.1 L314.4 453.0 L314.6 443.2 L314.8 452.8 L314.9 437.3 L315.1 446.9 L315.3 445.6 L315.4 451.1 L315.6 442.8 L315.8 448.9 L315.9 439.9 L316.1 452.6 L316.3 427.8 L316.4 448.1 L316.6 440.3 L316.8 462.6 L316.9 441.8 L317.1 451.1 L317.3 444.5 L317.4 450.5 L317.6 438.8 L317.8 451.0 L317.9 439.2 L318.1 451.7 L318.3 443.5 L318.4 450.4 L318.6 444.1 L318.8 447.8 L318.9 445.8 L319.1 448.2 L319.3 445.8 L319.4 448.9 L319.6 445.9 L319.8 449.1 L319.9 446.0 L320.1 448.9 L320.3 445.6 L320.4 447.8 L320.6 446.5 L320.8 447.1 L320.9 446.4 L321.1 450.1 L321.3 444.9 L321.4 449.9 L321.6 445.2 L321.8 447.9 L321.9 443.0 L322.1 448.4 L322.3 446.5 L322.4 446.7 L322.6 445.0 L322.8 447.7 L322.9 446.6 L323.1 448.4 L323.3 444.2 L323.4 446.7 L323.6 446.1 L323.8 448.3 L323.9 446.0 L324.1 447.4 L324.3 445.6 L324.4 448.3 L324.6 445.8 L324.8 447.8 L324.9 445.5 L325.1 447.5 L325.3 445.1 L325.4 447.6 L325.6 445.4 L325.8 447.0 L325.9 445.6 L326.1 446.8 L326.3 446.6 L326.4 448.5 L326.6 443.5 L326.8 448.5 L326.9 443.4 L327.1 450.5 L327.3 444.9 L327.4 447.6 L327.6 446.6 L327.8 451.8 L327.9 445.7 L328.1 450.7 L328.3 446.4 L328.4 446.8 L328.6 446.0 L328.8 446.7 L328.9 445.1 L329.1 448.1 L329.3 445.0 L329.4 446.7 L329.6 446.3 L329.8 447.5 L329.9 445.3 L330.1 447.5 L330.3 446.1 L330.4 446.8 L330.6 443.1 L330.8 446.7 L330.9 445.0 L331.1 448.2 L331.3 445.8 L331.4 447.2 L331.6 443.9 L331.8 448.0 L331.9 446.4 L332.1 447.7 L332.3 444.8 L332.4 449.4 L332.6 444.4 L332.8 447.5 L332.9 444.2 L333.1 449.2 L333.3 442.7 L333.4 447.9 L333.6 446.5 L333.8 447.1 L333.9 444.4 L334.1 448.0 L334.3 446.4 L334.4 448.5 L334.6 445.8 L334.8 448.0 L334.9 446.4 L335.1 447.6 L335.3 446.4 L335.4 448.7 L335.6 445.9 L335.8 447.3 L335.9 446.1 L336.1 447.3 L336.3 445.3 L336.4 449.2 L336.6 445.3 L336.8 446.7 L336.9 445.7 L337.1 448.7 L337.3 446.2 L337.4 446.7 L337.6 445.6 L337.8 447.8 L337.9 445.8 L338.1 446.7 L338.3 446.1 L338.4 447.2 L338.6 446.2 L338.8 447.1 L338.9 445.5 L339.1 447.5 L339.3 445.3 L339.4 447.6 L339.6 446.0 L339.8 448.8 L339.9 446.4 L340.1 450.8 L340.3 443.6 L340.4 448.3 L340.6 445.3 L340.8 449.5 L340.9 445.2 L341.1 447.2 L341.3 443.6 L341.4 449.1 L341.6 446.3 L341.8 449.8 L341.9 446.5 L342.1 447.7 L342.3 445.5 L342.4 447.1 L342.6 446.3 L342.8 447.0 L342.9 446.2 L343.1 447.4 L343.3 446.3 L343.4 447.1 L343.6 446.2 L343.8 448.4 L343.9 445.9 L344.1 448.0 L344.3 446.2 L344.4 447.2 L344.6 445.0 L344.8 450.3 L344.9 443.8 L345.1 449.0 L345.3 446.0 L345.4 447.4 L345.6 443.5 L345.8 449.3 L345.9 445.5 L346.1 447.6 L346.3 445.8 L346.4 448.3 L346.6 446.2 L346.8 447.3 L346.9 445.9 L347.1 448.1 L347.3 446.4 L347.4 447.5 L347.6 445.6 L347.8 447.3 L347.9 446.5 L348.1 447.8 L348.3 445.9 L348.4 447.0 L348.6 444.6 L348.8 449.7 L348.9 444.9 L349.1 447.0 L349.3 446.5 L349.4 446.8 L349.6 446.4 L349.8 448.5 L349.9 445.3 L350.1 446.9 L350.3 445.1 L350.4 447.1 L350.6 444.9 L350.8 446.8 L350.9 444.9 L351.1 447.3 L351.3 445.6 L351.4 447.2 L351.6 445.6 L351.8 446.7 L351.9 445.8 L352.1 448.1 L352.3 445.6 L352.4 447.7 L352.6 446.5 L352.8 448.2 L352.9 443.6 L353.1 446.7 L353.3 445.4 L353.4 449.1 L353.6 444.6 L353.8 447.4 L353.9 445.0 L354.1 447.0 L354.3 445.5 L354.4 447.8 L354.6 446.4 L354.8 446.8 L354.9 443.3 L355.1 449.7 L355.3 445.1 L355.4 446.9 L355.6 444.5 L355.8 447.0 L355.9 446.6 L356.1 447.4 L356.3 445.9 L356.4 448.8 L356.6 446.4 L356.8 446.9 L356.9 441.2 L357.1 449.3 L357.3 444.3 L357.4 446.8 L357.6 445.7 L357.8 447.3 L357.9 444.9 L358.1 447.3 L358.3 445.1 L358.4 449.7 L358.6 442.7 L358.8 446.9 L358.9 446.3 L359.1 448.1 L359.3 446.2 L359.4 447.3 L359.6 445.8 L359.8 446.8 L359.9 443.7 L360.1 446.9 L360.3 445.5 L360.4 449.7 L360.6 446.2 L360.8 449.8 L360.9 443.8 L361.1 447.0 L361.3 445.9 L361.4 447.4 L361.6 445.9 L361.8 447.8 L361.9 446.5 L362.1 447.2 L362.3 446.5 L362.4 447.0 L362.6 445.2 L362.8 447.7 L362.9 445.8 L363.1 448.1 L363.3 445.3 L363.4 447.4 L363.6 446.2 L363.8 447.9 L363.9 444.0 L364.1 446.7 L364.3 446.3 L364.4 448.0 L364.6 445.3 L364.8 448.2 L364.9 446.2 L365.1 447.4 L365.3 445.6 L365.4 447.0 L365.6 445.1 L365.8 447.3 L365.9 446.2 L366.1 447.0 L366.3 445.7 L366.4 448.2 L366.6 443.4 L366.8 447.8 L366.9 445.8 L367.1 447.1 L367.3 443.0 L367.4 449.6 L367.6 444.1 L367.8 447.0 L367.9 443.3 L368.1 448.3 L368.3 446.4 L368.4 446.6 L368.6 445.2 L368.8 447.6 L368.9 445.9 L369.1 447.4 L369.3 445.5 L369.4 448.8 L369.6 445.1 L369.8 448.9 L369.9 446.3 L370.1 452.1 L370.3 444.5 L370.4 447.1 L370.6 444.2 L370.8 448.7 L370.9 446.5 L371.1 447.8 L371.3 446.6 L371.4 449.6 L371.6 445.6 L371.8 449.3 L371.9 440.1 L372.1 447.3 L372.3 445.7 L372.4 448.4 L372.6 446.3 L372.8 447.1 L372.9 445.2 L373.1 448.4 L373.3 444.2 L373.4 447.0 L373.6 443.7 L373.8 447.0 L373.9 446.0 L374.1 449.3 L374.3 446.5 L374.4 448.1 L374.6 446.0 L374.8 447.6 L374.9 444.4 L375.1 447.1 L375.3 445.3 L375.4 447.4 L375.6 445.3 L375.8 447.4 L375.9 444.2 L376.1 446.9 L376.3 445.6 L376.4 448.5 L376.6 445.7 L376.8 447.6 L376.9 446.4 L377.1 450.0 L377.3 444.7 L377.4 448.1 L377.6 446.1 L377.8 448.7 L377.9 446.5 L378.1 447.3 L378.3 445.8 L378.4 447.2 L378.6 446.3 L378.8 448.1 L378.9 445.8 L379.1 449.5 L379.3 446.3 L379.4 449.5 L379.6 446.4 L379.8 449.0 L379.9 446.1 L380.1 447.1 L380.3 445.9 L380.4 449.2 L380.6 443.0 L380.8 449.3 L380.9 443.5 L381.1 450.1 L381.3 445.7 L381.4 451.1 L381.6 444.3 L381.8 450.2 L381.9 444.5 L382.1 449.5 L382.3 444.4 L382.4 451.3 L382.6 445.7 L382.8 450.3 L382.9 445.3 L383.1 447.0 L383.3 443.3 L383.4 448.6 L383.6 444.8 L383.8 448.0 L383.9 444.5 L384.1 447.3 L384.3 446.6 L384.4 447.8 L384.6 446.5 L384.8 448.6 L384.9 445.2 L385.1 448.2 L385.3 446.1 L385.4 446.8 L385.6 446.4 L385.8 446.9 L385.9 444.2 L386.1 447.8 L386.3 445.5 L386.4 446.7 L386.6 446.2 L386.8 450.0 L386.9 444.2 L387.1 448.7 L387.3 446.6 L387.4 447.9 L387.6 444.1 L387.8 451.1 L387.9 444.8 L388.1 447.5 L388.3 445.1 L388.4 448.9 L388.6 443.7 L388.8 446.8 L388.9 444.4 L389.1 446.7 L389.3 445.0 L389.4 449.3 L389.6 446.4 L389.8 447.6 L389.9 445.7 L390.1 450.6 L390.3 444.2 L390.4 447.6 L390.6 446.5 L390.8 447.4 L390.9 444.8 L391.1 449.7 L391.3 445.9 L391.4 448.5 L391.6 446.0 L391.8 447.7 L391.9 445.5 L392.1 447.5 L392.3 445.5 L392.4 447.8 L392.6 445.6 L392.8 448.4 L392.9 445.4 L393.1 448.7 L393.3 445.6 L393.4 446.6 L393.6 445.6 L393.8 448.0 L393.9 441.8 L394.1 449.3 L394.3 445.1 L394.4 446.8 L394.6 446.5 L394.8 447.0 L394.9 446.4 L395.1 447.5 L395.3 442.6 L395.4 448.1 L395.6 445.5 L395.8 447.6 L395.9 445.1 L396.1 448.3 L396.3 445.0 L396.4 447.8 L396.6 445.9 L396.8 448.2 L396.9 446.3 L397.1 447.3 L397.3 446.0 L397.4 447.3 L397.6 445.7 L397.8 446.9 L397.9 444.2 L398.1 447.5 L398.3 446.6 L398.4 446.9 L398.6 445.7 L398.8 446.8 L398.9 446.6 L399.1 453.5 L399.3 444.1 L399.4 450.3 L399.6 445.5 L399.8 449.6 L399.9 445.1 L400.1 447.3 L400.3 445.9 L400.4 448.7 L400.6 445.4 L400.8 446.9 L400.9 445.7 L401.1 448.0 L401.3 446.3 L401.4 448.7 L401.6 444.6 L401.8 447.5 L401.9 445.9 L402.1 446.9 L402.3 446.6 L402.4 449.6 L402.6 446.0 L402.8 447.3 L402.9 444.6 L403.1 448.3 L403.3 446.2 L403.4 447.7 L403.6 446.3 L403.8 447.2 L403.9 446.0 L404.1 447.5 L404.3 445.8 L404.4 449.7 L404.6 445.6 L404.8 447.3 L404.9 445.4 L405.1 447.8 L405.3 446.3 L405.4 447.2 L405.6 446.2 L405.8 447.2 L405.9 445.2 L406.1 448.2 L406.3 446.6 L406.4 447.2 L406.6 445.0 L406.8 448.5 L406.9 443.6 L407.1 449.2 L407.3 444.8 L407.4 448.8 L407.6 444.8 L407.8 449.2 L407.9 446.1 L408.1 450.5 L408.3 445.1 L408.4 447.5 L408.6 445.1 L408.8 448.8 L408.9 446.3 L409.1 447.8 L409.3 446.4 L409.4 448.6 L409.6 443.6 L409.8 446.7 L409.9 446.1 L410.1 447.2 L410.3 441.6 L410.4 447.2 L410.6 444.5 L410.8 448.3 L410.9 444.7 L411.1 450.7 L411.3 443.0 L411.4 447.9 L411.6 444.7 L411.8 447.2 L411.9 445.6 L412.1 447.5 L412.3 444.7 L412.4 447.9 L412.6 446.5 L412.8 448.1 L412.9 445.7 L413.1 448.8 L413.3 444.1 L413.4 449.0 L413.6 445.5 L413.8 447.8 L413.9 443.4 L414.1 449.0 L414.3 445.7 L414.4 447.4 L414.6 445.7 L414.8 447.6 L414.9 444.5 L415.1 449.0 L415.3 446.2 L415.4 448.5 L415.6 444.0 L415.8 448.5 L415.9 446.6 L416.1 447.0 L416.3 444.6 L416.4 447.3 L416.6 444.6 L416.8 448.9 L416.9 445.1 L417.1 447.4 L417.3 445.4 L417.4 448.4 L417.6 443.5 L417.8 449.1 L417.9 445.5 L418.1 447.0 L418.3 446.1 L418.4 448.1 L418.6 446.4 L418.8 448.6 L418.9 442.9 L419.1 447.9 L419.3 446.3 L419.4 447.4 L419.6 443.9 L419.8 447.4 L419.9 446.4 L420.1 446.9 L420.3 446.1 L420.4 449.1 L420.6 445.1 L420.8 449.2 L420.9 444.3 L421.1 448.7 L421.3 445.5 L421.4 447.7 L421.6 444.9 L421.8 449.7 L421.9 444.2 L422.1 448.7 L422.3 445.1 L422.4 447.1 L422.6 446.5 L422.8 447.4 L422.9 443.7 L423.1 447.1 L423.3 444.7 L423.4 448.9 L423.6 445.9 L423.8 446.7 L423.9 443.5 L424.1 448.5 L424.3 446.3 L424.4 448.5 L424.6 446.4 L424.8 448.7 L424.9 444.2 L425.1 446.7 L425.3 444.8 L425.4 449.4 L425.6 446.4 L425.8 448.1 L425.9 445.2 L426.1 447.1 L426.3 443.3 L426.4 450.2 L426.6 445.6 L426.8 447.6 L426.9 444.9 L427.1 446.7 L427.3 444.9 L427.4 446.9 L427.6 446.5 L427.8 446.7 L427.9 444.8 L428.1 447.0 L428.3 445.8 L428.4 447.0 L428.6 445.7 L428.8 447.5 L428.9 444.6 L429.1 447.9 L429.3 446.6 L429.4 447.5 L429.6 446.1 L429.8 447.1 L429.9 445.1 L430.1 446.8 L430.3 445.4 L430.4 447.1 L430.6 445.0 L430.8 451.8 L430.9 445.1 L431.1 447.8 L431.3 444.5 L431.4 447.1 L431.6 445.2 L431.8 448.5 L431.9 445.0 L432.1 447.9 L432.3 444.7 L432.4 446.8 L432.6 444.5 L432.8 447.1 L432.9 446.2 L433.1 446.8 L433.3 446.0 L433.4 448.5 L433.6 445.7 L433.8 447.6 L433.9 446.2 L434.1 447.2 L434.3 444.6 L434.4 452.3 L434.6 446.5 L434.8 448.6 L434.9 445.3 L435.1 449.5 L435.3 443.3 L435.4 447.9 L435.6 445.7 L435.8 448.0 L435.9 445.1 L436.1 448.5 L436.3 446.1 L436.4 447.5 L436.6 446.4 L436.8 446.7 L436.9 446.5 L437.1 449.1 L437.3 446.6 L437.4 446.9 L437.6 446.6 L437.8 450.4 L437.9 441.4 L438.1 449.8 L438.3 443.7 L438.4 447.2 L438.6 443.5 L438.8 449.8 L438.9 445.6 L439.1 447.2 L439.3 442.7 L439.4 447.6 L439.6 444.8 L439.8 446.6 L439.9 444.5 L440.1 447.1 L440.3 446.1 L440.4 448.4 L440.6 445.5 L440.8 447.0 L440.9 443.0 L441.1 447.7 L441.3 446.5 L441.4 448.0 L441.6 444.2 L441.8 448.0 L441.9 446.1 L442.1 447.4 L442.3 446.0 L442.4 446.7 L442.6 446.6 L442.8 448.6 L442.9 445.1 L443.1 448.3 L443.3 441.9 L443.4 451.3 L443.6 444.0 L443.8 448.3 L443.9 445.1 L444.1 448.9 L444.3 443.9 L444.4 449.0 L444.6 443.9 L444.8 451.4 L444.9 443.4 L445.1 447.4 L445.3 445.3 L445.4 448.5 L445.6 446.5 L445.8 448.7 L445.9 444.5 L446.1 447.9 L446.3 445.7 L446.4 447.2 L446.6 445.8 L446.8 447.6 L446.9 445.8 L447.1 448.4 L447.3 446.6 L447.4 448.8 L447.6 445.3 L447.8 447.5 L447.9 446.3 L448.1 447.9 L448.3 444.8 L448.4 450.7 L448.6 445.8 L448.8 449.3 L448.9 446.2 L449.1 447.6 L449.3 445.3 L449.4 447.9 L449.6 446.3 L449.8 447.9 L449.9 446.2 L450.1 448.1 L450.3 446.1 L450.4 447.8 L450.6 444.6 L450.8 446.8 L450.9 444.7 L451.1 446.7 L451.3 444.9 L451.4 448.0 L451.6 444.8 L451.8 447.0 L451.9 446.2 L452.1 447.5 L452.3 444.0 L452.4 447.8 L452.6 446.4 L452.8 446.8 L452.9 445.6 L453.1 446.8 L453.3 446.0 L453.4 448.7 L453.6 444.8 L453.8 446.9 L453.9 444.0 L454.1 447.9 L454.3 446.4 L454.4 447.8 L454.6 446.4 L454.8 447.7 L454.9 446.6 L455.1 447.8 L455.3 443.4 L455.4 450.9 L455.6 446.4 L455.8 449.2 L455.9 445.1 L456.1 447.7 L456.3 445.1 L456.4 448.3 L456.6 444.7 L456.8 447.3 L456.9 446.4 L457.1 448.5 L457.3 445.5 L457.4 447.8 L457.6 444.8 L457.8 450.1 L457.9 444.7 L458.1 447.0 L458.3 446.5 L458.4 448.5 L458.6 442.9 L458.8 448.0 L458.9 446.2 L459.1 447.7 L459.3 444.6 L459.4 448.6 L459.6 446.4 L459.8 448.5 L459.9 445.3 L460.1 449.9 L460.3 446.2 L460.4 451.0 L460.6 446.4 L460.8 447.1 L460.9 445.7 L461.1 449.6 L461.3 442.4 L461.4 447.9 L461.6 444.9 L461.8 448.0 L461.9 446.2 L462.1 447.4 L462.3 446.3 L462.4 448.1 L462.6 446.0 L462.8 448.0 L462.9 445.2 L463.1 447.8 L463.3 445.9 L463.4 448.6 L463.6 444.4 L463.8 448.5 L463.9 445.7 L464.1 447.5 L464.3 445.8 L464.4 447.8 L464.6 446.1 L464.8 446.6 L464.9 446.5 L465.1 446.9 L465.3 445.8 L465.4 446.7 L465.6 445.9 L465.8 448.8 L465.9 446.5 L466.1 446.8 L466.3 441.3 L466.4 447.7 L466.6 445.9 L466.8 449.3 L466.9 446.0 L467.1 448.5 L467.3 445.6 L467.4 446.8 L467.6 445.7 L467.8 447.4 L467.9 446.2 L468.1 446.7 L468.3 445.3 L468.4 447.1 L468.6 446.3 L468.8 447.3 L468.9 444.3 L469.1 450.4 L469.3 443.2 L469.4 450.5 L469.6 442.3 L469.8 453.6 L469.9 446.1 L470.1 451.3 L470.3 446.3 L470.4 448.9 L470.6 444.4 L470.8 447.1 L470.9 444.6 L471.1 447.5 L471.3 443.5 L471.4 447.5 L471.6 443.5 L471.8 447.7 L471.9 443.5 L472.1 447.9 L472.3 446.2 L472.4 447.3 L472.6 445.4 L472.8 448.2 L472.9 445.9 L473.1 447.6 L473.3 445.9 L473.4 448.5 L473.6 446.2 L473.8 447.9 L473.9 445.7 L474.1 447.3 L474.3 446.5 L474.4 446.7 L474.6 446.6 L474.8 447.7 L474.9 445.9 L475.1 447.4 L475.3 445.6 L475.4 447.2 L475.6 445.9 L475.8 446.9 L475.9 446.3 L476.1 449.5 L476.3 445.7 L476.4 446.8 L476.6 445.3 L476.8 447.3 L476.9 445.0 L477.1 449.6 L477.3 445.7 L477.4 450.1 L477.6 445.0 L477.8 446.6 L477.9 445.5 L478.1 448.9 L478.3 443.2 L478.4 449.3 L478.6 446.4 L478.8 448.6 L478.9 446.6 L479.1 446.9 L479.3 445.0 L479.4 447.1 L479.6 445.5 L479.8 448.7 L479.9 445.7 L480.1 450.7 L480.3 446.4 L480.4 449.5 L480.6 443.1 L480.8 448.6 L480.9 446.6 L481.1 450.5 L481.3 445.3 L481.4 448.1 L481.6 444.9 L481.8 450.0 L481.9 445.8 L482.1 449.2 L482.3 446.2 L482.4 447.4 L482.6 446.2 L482.8 447.7 L482.9 445.1 L483.1 449.7 L483.3 446.0 L483.4 448.1 L483.6 446.5 L483.8 447.3 L483.9 446.3 L484.1 446.8 L484.3 445.4 L484.4 447.1 L484.6 446.1 L484.8 447.3 L484.9 445.6 L485.1 446.9 L485.3 446.3 L485.4 447.8 L485.6 445.6 L485.8 446.8 L485.9 445.3 L486.1 447.4 L486.3 446.1 L486.4 446.7 L486.6 446.3 L486.8 448.0 L486.9 445.8 L487.1 447.9 L487.3 445.5 L487.4 446.8 L487.6 445.2 L487.8 448.8 L487.9 444.5 L488.1 448.2 L488.3 444.8 L488.4 447.7 L488.6 445.6 L488.8 451.4 L488.9 446.3 L489.1 448.1 L489.3 446.2 L489.4 449.2 L489.6 445.3 L489.8 447.2 L489.9 446.6 L490.1 447.4 L490.3 445.7 L490.4 447.2 L490.6 442.8 L490.8 448.7 L490.9 443.8 L491.1 446.7 L491.3 446.0 L491.4 447.7 L491.6 445.7 L491.8 453.2 L491.9 446.3 L492.1 448.1 L492.3 445.0 L492.4 449.1 L492.6 445.1 L492.8 446.7 L492.9 444.1 L493.1 448.4 L493.3 445.8 L493.4 452.3 L493.6 445.5 L493.8 447.4 L493.9 443.3 L494.1 451.0 L494.3 442.3 L494.4 448.0 L494.6 445.8 L494.8 446.7 L494.9 445.8 L495.1 449.8 L495.3 444.8 L495.4 448.1 L495.6 445.7 L495.8 447.1 L495.9 445.8 L496.1 446.7 L496.3 444.6 L496.4 447.8 L496.6 446.1 L496.8 448.7 L496.9 446.3 L497.1 447.5 L497.3 442.7 L497.4 448.9 L497.6 442.4 L497.8 447.3 L497.9 445.6 L498.1 447.3 L498.3 445.2 L498.4 447.4 L498.6 444.8 L498.8 449.0 L498.9 443.6 L499.1 446.7 L499.3 445.3 L499.4 449.3 L499.6 445.5 L499.8 448.5 L499.9 446.1 L500.1 450.0 L500.3 446.6 L500.4 447.0 L500.6 446.1 L500.8 446.8 L500.9 446.1 L501.1 447.3 L501.3 446.2 L501.4 447.8 L501.6 446.2 L501.8 447.7 L501.9 446.3 L502.1 448.9 L502.3 446.3 L502.4 450.9 L502.6 446.5 L502.8 446.6 L502.9 444.9 L503.1 447.9 L503.3 444.6 L503.4 449.2 L503.6 444.3 L503.8 446.9 L503.9 444.5 L504.1 451.7 L504.3 445.9 L504.4 449.7 L504.6 441.2 L504.8 447.1 L504.9 446.6 L505.1 448.9 L505.3 444.5 L505.4 447.5 L505.6 446.0 L505.8 447.8 L505.9 446.4 L506.1 447.7 L506.3 445.5 L506.4 447.2 L506.6 446.0 L506.8 447.3 L506.9 446.0 L507.1 447.6 L507.3 446.2 L507.4 448.1 L507.6 445.8 L507.8 448.5 L507.9 445.8 L508.1 450.0 L508.3 442.1 L508.4 448.6 L508.6 445.3 L508.8 450.6 L508.9 445.0 L509.1 446.9 L509.3 445.9 L509.4 449.0 L509.6 446.6 L509.8 447.5 L509.9 445.7 L510.1 446.8 L510.3 444.9 L510.4 448.4 L510.6 446.5 L510.8 446.8 L510.9 445.9 L511.1 447.0 L511.3 444.6 L511.4 449.2 L511.6 445.0 L511.8 447.5 L511.9 445.2 L512.1 447.6 L512.3 446.1 L512.5 450.0 L512.6 445.6 L512.8 447.0 L513.0 446.3 L513.1 448.3 L513.3 446.5 L513.5 446.9 L513.6 446.3 L513.8 447.6 L514.0 446.5 L514.1 447.5 L514.3 445.1 L514.5 448.0 L514.6 444.5 L514.8 447.6 L515.0 445.5 L515.1 446.9 L515.3 444.8 L515.5 447.7 L515.6 445.9 L515.8 447.1 L516.0 445.8 L516.1 447.8 L516.3 446.3 L516.5 448.5 L516.6 444.7 L516.8 447.1 L517.0 446.4 L517.1 447.4 L517.3 443.3 L517.5 447.3 L517.6 443.8 L517.8 446.9 L518.0 443.0 L518.1 447.6 L518.3 443.3 L518.5 448.6 L518.6 446.2 L518.8 446.7 L519.0 445.8 L519.1 447.1 L519.3 445.5 L519.5 447.5 L519.6 446.3 L519.8 450.0 L520.0 444.5 L520.1 450.4 L520.3 446.1 L520.5 448.5 L520.6 444.7 L520.8 448.0 L521.0 446.3 L521.1 446.9 L521.3 444.6 L521.5 449.7 L521.6 445.9 L521.8 448.0 L522.0 445.6 L522.1 448.9 L522.3 446.1 L522.5 447.9 L522.6 445.8 L522.8 447.7 L523.0 446.4 L523.1 448.6 L523.3 445.8 L523.5 448.5 L523.6 446.5 L523.8 448.7 L524.0 444.8 L524.1 447.7 L524.3 445.9 L524.5 446.6 L524.6 445.3 L524.8 448.1 L525.0 443.9 L525.1 446.9 L525.3 446.5 L525.5 448.9 L525.6 444.8 L525.8 447.5 L526.0 445.5 L526.1 449.5 L526.3 446.5 L526.5 448.0 L526.6 446.5 L526.8 447.2 L527.0 445.5 L527.1 449.3 L527.3 443.5 L527.5 447.8 L527.6 445.4 L527.8 449.6 L528.0 446.5 L528.1 451.0 L528.3 443.7 L528.5 449.2 L528.6 444.9 L528.8 450.0 L529.0 444.6 L529.1 448.2 L529.3 442.4 L529.5 446.7 L529.6 445.3 L529.8 447.0 L530.0 441.9 L530.1 446.7 L530.3 445.5 L530.5 447.4 L530.6 446.0 L530.8 448.3 L531.0 446.3 L531.1 447.0 L531.3 446.5 L531.5 448.1 L531.6 445.8 L531.8 448.2 L532.0 445.4 L532.1 448.2 L532.3 445.4 L532.5 446.7 L532.6 445.4 L532.8 448.1 L533.0 445.8 L533.1 447.8 L533.3 446.3 L533.5 448.3 L533.6 446.4 L533.8 447.5 L534.0 446.4 L534.1 446.7 L534.3 444.6 L534.5 446.7 L534.6 445.9 L534.8 447.0 L535.0 446.1 L535.1 449.0 L535.3 444.8 L535.5 447.8 L535.6 444.9 L535.8 447.1 L536.0 445.7 L536.1 448.2 L536.3 446.0 L536.5 446.8 L536.6 444.4 L536.8 447.5 L537.0 445.9 L537.1 447.5 L537.3 443.5 L537.5 448.4 L537.6 445.9 L537.8 447.2 L538.0 445.3 L538.1 448.6 L538.3 445.9 L538.5 447.9 L538.6 445.9 L538.8 447.8 L539.0 444.0 L539.1 447.6 L539.3 445.6 L539.5 447.1 L539.6 445.0 L539.8 446.8 L540.0 444.3 L540.1 447.9 L540.3 446.5 L540.5 449.5 L540.6 445.0 L540.8 448.9 L541.0 446.6 L541.1 447.4 L541.3 445.1 L541.5 447.6 L541.6 444.7 L541.8 448.7 L542.0 445.2 L542.1 448.9 L542.3 445.1 L542.5 447.6 L542.6 445.0 L542.8 446.7 L543.0 444.4 L543.1 447.0 L543.3 444.9 L543.5 448.5 L543.6 445.9 L543.8 447.0 L544.0 446.6 L544.1 447.2 L544.3 444.4 L544.5 447.0 L544.6 445.6 L544.8 446.7 L545.0 446.0 L545.1 446.8 L545.3 445.0 L545.5 447.6 L545.6 444.3 L545.8 448.1 L546.0 446.3 L546.1 448.7 L546.3 444.6 L546.5 446.8 L546.6 443.4 L546.8 447.8 L547.0 446.4 L547.1 448.8 L547.3 442.9 L547.5 448.7 L547.6 443.9 L547.8 446.8 L548.0 443.5 L548.1 446.8 L548.3 443.6 L548.5 450.3 L548.6 443.8 L548.8 451.0 L549.0 444.3 L549.1 448.8 L549.3 444.9 L549.5 446.8 L549.6 445.2 L549.8 447.5 L550.0 444.1 L550.1 446.6 L550.3 441.1 L550.5 448.2 L550.6 434.6 L550.8 449.8 L551.0 442.8 L551.1 453.3 L551.3 445.2 L551.5 450.4 L551.6 443.3 L551.8 448.5 L552.0 442.6 L552.1 447.3 L552.3 443.1 L552.5 451.2 L552.6 438.5 L552.8 447.9 L553.0 439.8 L553.1 453.4 L553.3 443.4 L553.5 449.7 L553.6 443.1 L553.8 448.2 L554.0 445.4 L554.1 450.2 L554.3 443.2 L554.5 451.4 L554.6 445.0 L554.8 450.3 L555.0 445.6 L555.1 449.8 L555.3 444.0 L555.5 448.2 L555.6 445.6 L555.8 448.8 L556.0 446.5 L556.1 447.7 L556.3 446.0 L556.5 448.4 L556.6 444.9 L556.8 448.1 L557.0 445.6 L557.1 451.3 L557.3 444.2 L557.5 452.8 L557.6 444.6 L557.8 449.3 L558.0 446.2 L558.1 449.8 L558.3 444.4 L558.5 453.6 L558.6 442.2 L558.8 452.0 L559.0 446.0 L559.1 446.9 L559.3 444.5 L559.5 448.0 L559.6 439.7 L559.8 447.9 L560.0 443.8 L560.1 446.7 L560.3 442.3 L560.5 449.8 L560.6 436.1 L560.8 447.2 L561.0 443.8 L561.1 449.7 L561.3 434.9 L561.5 455.1 L561.6 446.3 L561.8 451.4 L562.0 445.4 L562.1 456.1 L562.3 445.6 L562.5 450.7 L562.6 440.8 L562.8 449.2 L563.0 442.8 L563.1 454.0 L563.3 444.7 L563.5 448.6 L563.6 446.0 L563.8 447.8 L564.0 442.8 L564.1 453.1 L564.3 440.7 L564.5 446.7 L564.6 442.6 L564.8 449.3 L565.0 443.9 L565.1 447.4 L565.3 444.8 L565.5 451.0 L565.6 445.5 L565.8 446.7 L566.0 436.5 L566.1 448.1 L566.3 433.7 L566.5 449.1 L566.6 443.3 L566.8 454.7 L567.0 439.4 L567.1 450.1 L567.3 443.0 L567.5 452.6 L567.6 443.5 L567.8 450.3 L568.0 441.6 L568.1 448.3 L568.3 445.5 L568.5 448.5 L568.6 445.2 L568.8 446.9 L569.0 442.8 L569.1 453.7 L569.3 444.3 L569.5 453.4 L569.6 444.9 L569.8 452.6 L570.0 445.6 L570.1 452.2 L570.3 446.2 L570.5 446.7 L570.6 440.9 L570.8 449.5 L571.0 446.0 L571.1 448.0 L571.3 446.4 L571.5 446.8 L571.6 441.5 L571.8 449.4 L572.0 446.5 L572.1 447.7 L572.3 446.2 L572.5 450.1 L572.6 442.7 L572.8 449.2 L573.0 444.8 L573.1 447.8 L573.3 445.4 L573.5 447.6 L573.6 445.7 L573.8 450.5 L574.0 440.3 L574.1 450.8 L574.3 443.1 L574.5 447.5 L574.6 443.0 L574.8 451.1 L575.0 437.9 L575.1 452.9 L575.3 444.3 L575.5 446.7 L575.6 439.6 L575.8 447.4 L576.0 441.1 L576.1 458.7 L576.3 442.9 L576.5 453.5 L576.6 439.5 L576.8 447.8 L577.0 444.8 L577.1 450.2 L577.3 443.5 L577.5 451.0 L577.6 446.3 L577.8 449.7 L578.0 439.8 L578.1 456.0 L578.3 440.9 L578.5 451.8 L578.6 445.1 L578.8 449.0 L579.0 440.2 L579.1 448.8 L579.3 441.1 L579.5 453.8 L579.6 441.4 L579.8 450.1 L580.0 443.8 L580.1 450.9 L580.3 444.7 L580.5 449.0 L580.6 445.9 L580.8 447.7 L581.0 440.4 L581.1 454.1 L581.3 443.0 L581.5 449.0 L581.6 445.8 L581.8 454.0 L582.0 446.1 L582.1 453.8 L582.3 443.0 L582.5 448.2 L582.6 445.7 L582.8 447.5 L583.0 445.4 L583.1 449.2 L583.3 444.3 L583.5 449.1 L583.6 443.9 L583.8 451.8 L584.0 445.7 L584.1 448.8 L584.3 441.6 L584.5 447.8 L584.6 442.3 L584.8 450.4 L585.0 445.6 L585.1 447.6 L585.3 441.5 L585.5 447.1 L585.6 446.2 L585.8 447.9 L586.0 444.0 L586.1 454.3 L586.3 444.8 L586.5 447.9 L586.6 440.2 L586.8 446.9 L587.0 441.5 L587.1 448.7 L587.3 443.7 L587.5 449.7 L587.6 440.2 L587.8 460.5 L588.0 445.9 L588.1 452.0 L588.3 441.4 L588.5 449.6 L588.6 443.7 L588.8 448.0 L589.0 445.4 L589.1 448.3 L589.3 443.5 L589.5 446.7 L589.6 440.9 L589.8 446.9 L590.0 439.5 L590.1 446.9 L590.3 445.5 L590.5 456.2 L590.6 441.2 L590.8 447.8 L591.0 444.6 L591.1 447.4 L591.3 429.5 L591.5 451.9 L591.6 443.3 L591.8 448.5 L592.0 446.1 L592.1 449.2 L592.3 442.0 L592.5 450.0 L592.6 442.9 L592.8 451.6 L593.0 440.8 L593.1 447.1 L593.3 444.7 L593.5 448.5 L593.6 444.1 L593.8 450.6 L594.0 442.3 L594.1 448.8 L594.3 437.5 L594.5 461.5 L594.6 446.4 L594.8 456.9 L595.0 439.7 L595.1 451.8 L595.3 445.2 L595.5 448.9 L595.6 443.4 L595.8 448.1 L596.0 444.7 L596.1 452.6 L596.3 438.8 L596.5 453.0 L596.6 444.9 L596.8 448.1 L597.0 444.7 L597.1 449.2 L597.3 441.8 L597.5 447.9 L597.6 444.0 L597.8 454.2 L598.0 444.5 L598.1 449.1 L598.3 444.5 L598.5 453.4 L598.6 438.2 L598.8 450.0 L599.0 444.8 L599.1 448.2 L599.3 442.4 L599.5 452.2 L599.6 444.7 L599.8 448.7 L600.0 444.7 L600.1 448.6 L600.3 440.6 L600.5 446.7 L600.6 444.4 L600.8 457.2 L601.0 441.7 L601.1 450.1 L601.3 443.4 L601.5 448.2 L601.6 439.9 L601.8 447.5 L602.0 438.1 L602.1 452.8 L602.3 443.0 L602.5 450.5 L602.6 435.5 L602.8 449.4 L603.0 444.8 L603.1 450.7 L603.3 444.2 L603.5 450.9 L603.6 442.8 L603.8 448.3 L604.0 441.9 L604.1 448.2 L604.3 445.8 L604.5 454.6 L604.6 441.1 L604.8 454.7 L605.0 443.7 L605.1 447.9 L605.3 442.0 L605.5 455.6 L605.6 443.1 L605.8 454.7 L606.0 440.0 L606.1 455.7 L606.3 441.7 L606.5 449.0 L606.6 444.4 L606.8 447.5 L607.0 443.0 L607.1 451.3 L607.3 442.0 L607.5 446.8 L607.6 446.3 L607.8 450.3 L608.0 439.8 L608.1 452.4 L608.3 430.4 L608.5 454.5 L608.6 438.9 L608.8 450.8 L609.0 442.0 L609.1 450.6 L609.3 446.0 L609.5 451.0 L609.6 446.0 L609.8 450.8 L610.0 440.5 L610.1 452.0 L610.3 443.5 L610.5 451.3 L610.6 440.7 L610.8 449.3 L611.0 445.3 L611.1 462.0 L611.3 446.1 L611.5 449.2 L611.6 441.4 L611.8 451.8 L612.0 442.8 L612.1 447.9 L612.3 438.8 L612.5 453.1 L612.6 440.7 L612.8 454.3 L613.0 446.3 L613.1 453.1 L613.3 446.3 L613.5 449.1 L613.6 445.7 L613.8 454.9 L614.0 439.9 L614.1 451.0 L614.3 440.3 L614.5 459.0 L614.6 444.3 L614.8 449.4 L615.0 438.9 L615.1 450.0 L615.3 443.1 L615.5 447.8 L615.6 446.1 L615.8 453.6 L616.0 441.1 L616.1 453.9 L616.3 446.5 L616.5 453.5 L616.6 437.4 L616.8 450.0 L617.0 446.3 L617.1 447.6 L617.3 435.2 L617.5 449.7 L617.6 446.0 L617.8 452.8 L618.0 445.9 L618.1 447.7 L618.3 441.5 L618.5 453.7 L618.6 435.2 L618.8 449.8 L619.0 445.7 L619.1 454.9 L619.3 438.8 L619.5 452.5 L619.6 446.2 L619.8 448.6 L620.0 444.5 L620.1 450.4 L620.3 443.8 L620.5 449.5 L620.6 439.9 L620.8 448.0 L621.0 438.7 L621.1 448.5 L621.3 444.3 L621.5 448.1 L621.6 443.4 L621.8 447.1 L622.0 444.9 L622.1 447.3 L622.3 443.7 L622.5 446.8 L622.6 446.1 L622.8 457.2 L623.0 445.4 L623.1 449.0 L623.3 444.8 L623.5 452.8 L623.6 435.7 L623.8 461.2 L624.0 446.4 L624.1 450.1 L624.3 443.7 L624.5 451.8 L624.6 442.9 L624.8 449.8 L625.0 446.3 L625.1 450.7 L625.3 439.6 L625.5 447.8 L625.6 441.3 L625.8 447.5 L626.0 443.9 L626.1 446.8 L626.3 442.9 L626.5 449.7 L626.6 443.1 L626.8 448.1 L627.0 441.0 L627.1 447.6 L627.3 445.1 L627.5 447.5 L627.6 445.1 L627.8 450.2 L628.0 442.9 L628.1 448.0 L628.3 446.2 L628.5 450.2 L628.6 445.6 L628.8 449.7 L629.0 444.9 L629.1 449.4 L629.3 444.8 L629.5 448.6 L629.6 445.7 L629.8 447.7 L630.0 444.1 L630.1 451.8 L630.3 445.6 L630.5 451.6 L630.6 446.5 L630.8 447.1 L631.0 443.2 L631.1 447.3 L631.3 446.5 L631.5 451.0 L631.6 446.1 L631.8 449.5 L632.0 442.0 L632.1 448.7 L632.3 445.8 L632.5 448.4 L632.6 445.5 L632.8 447.4 L633.0 444.3 L633.1 451.0 L633.3 439.6 L633.5 453.5 L633.6 445.2 L633.8 447.1 L634.0 445.4 L634.1 448.6 L634.3 445.0 L634.5 449.7 L634.6 442.5 L634.8 449.5 L635.0 439.9 L635.1 451.3 L635.3 443.9 L635.5 448.1 L635.6 443.5 L635.8 448.0 L636.0 440.3 L636.1 446.9 L636.3 445.8 L636.5 449.3 L636.6 445.8 L636.8 450.3 L637.0 445.4 L637.1 447.3 L637.3 445.5 L637.5 451.2 L637.6 443.0 L637.8 450.9 L638.0 443.8 L638.1 447.1 L638.3 443.0 L638.5 450.9 L638.6 441.6 L638.8 451.6 L639.0 446.1 L639.1 448.1 L639.3 444.4 L639.5 453.2 L639.6 439.6 L639.8 450.8 L640.0 445.7 L640.1 447.8 L640.3 444.7 L640.5 451.5 L640.6 443.8 L640.8 451.4 L641.0 444.6 L641.1 447.6 L641.3 443.2 L641.5 450.7 L641.6 446.1 L641.8 446.7 L642.0 445.1 L642.1 447.3 L642.3 446.5 L642.5 447.3 L642.6 440.5 L642.8 456.4 L643.0 444.6 L643.1 451.0 L643.3 441.8 L643.5 452.4 L643.6 440.9 L643.8 448.9 L644.0 445.8 L644.1 448.3 L644.3 442.7 L644.5 448.4 L644.6 438.5 L644.8 447.0 L645.0 436.9 L645.1 455.9 L645.3 443.2 L645.5 456.1 L645.6 442.6" fill="none" stroke="#0000ff" stroke-width="0.42" stroke-linejoin="bevel"/><path d="M42.7 444.8 L43.7 445.1 L44.7 445.4 L45.7 445.5 L46.7 444.6 L47.7 444.2 L48.7 445.1 L49.7 445.3 L50.7 445.3 L51.7 445.3 L52.7 445.0 L53.7 444.3 L54.7 444.7 L55.7 445.5 L56.7 445.4 L57.7 445.5 L58.7 445.5 L59.7 445.3 L60.7 445.4 L61.7 444.8 L62.7 445.0 L63.7 445.1 L64.7 445.2 L65.7 445.4 L66.7 445.6 L67.7 445.4 L68.7 445.3 L69.7 445.4 L70.7 445.4 L71.7 445.4 L72.7 445.3 L73.7 445.5 L74.7 445.4 L75.7 445.5 L76.7 445.2 L77.7 445.6 L78.7 445.4 L79.7 445.3 L80.7 445.4 L81.7 445.3 L82.7 445.6 L83.7 445.3 L84.7 445.6 L85.7 445.5 L86.7 445.5 L87.7 445.4 L88.7 445.4 L89.7 445.3 L90.7 445.2 L91.7 445.3 L92.7 445.2 L93.7 445.5 L94.7 445.5 L95.7 445.5 L96.7 445.3 L97.7 445.5 L98.7 445.4 L99.7 445.5 L100.7 445.4 L101.7 445.4 L102.7 445.3 L103.7 445.6 L104.7 445.4 L105.7 445.3 L106.7 445.3 L107.7 445.5 L108.7 445.6 L109.7 445.1 L110.7 445.0 L111.7 445.1 L112.7 445.3 L113.7 445.4 L114.7 445.5 L115.7 445.5 L116.7 445.4 L117.7 445.4 L118.7 445.3 L119.7 445.5 L120.7 445.3 L121.7 445.4 L122.7 445.4 L123.7 445.3 L124.7 445.3 L125.7 445.5 L126.7 445.3 L127.7 445.3 L128.7 445.3 L129.7 445.4 L130.7 445.3 L131.7 445.4 L132.7 445.3 L133.7 445.5 L134.7 445.4 L135.7 445.4 L136.7 445.6 L137.7 445.5 L138.7 445.6 L139.7 445.3 L140.7 445.3 L141.7 445.5 L142.7 445.5 L143.7 445.3 L144.7 445.3 L145.7 445.5 L146.7 445.3 L147.7 445.2 L148.7 445.3 L149.7 445.5 L150.7 445.5 L151.7 445.6 L152.7 445.3 L153.7 445.3 L154.7 445.1 L155.7 445.3 L156.7 445.3 L157.7 445.5 L158.7 445.6 L159.7 445.6 L160.7 445.4 L161.7 445.5 L162.7 445.3 L163.7 445.5 L164.7 445.5 L165.7 445.3 L166.7 445.6 L167.7 445.4 L168.7 445.3 L169.7 445.4 L170.7 445.1 L171.7 445.3 L172.7 445.4 L173.7 445.4 L174.7 445.3 L175.7 445.6 L176.7 445.4 L177.7 445.3 L178.7 445.6 L179.7 445.3 L180.7 445.4 L181.7 445.3 L182.7 445.3 L183.7 445.3 L184.7 445.3 L185.7 445.3 L186.7 445.6 L187.7 445.5 L188.7 445.4 L189.7 445.3 L190.7 445.3 L191.7 445.3 L192.7 445.3 L193.7 445.5 L194.7 445.6 L195.7 445.5 L196.7 445.4 L197.7 445.3 L198.7 445.4 L199.7 445.4 L200.7 445.5 L201.7 445.2 L202.7 445.1 L203.7 445.3 L204.7 445.5 L205.7 445.4 L206.7 445.3 L207.7 445.4 L208.7 445.3 L209.7 445.4 L210.7 445.2 L211.7 445.1 L212.7 444.8 L213.7 445.0 L214.7 444.7 L215.7 444.8 L216.7 444.8 L217.7 444.6 L218.7 445.2 L219.7 445.4 L220.7 444.5 L221.7 443.5 L222.7 444.1 L223.7 444.0 L224.7 443.9 L225.7 444.0 L226.7 444.1 L227.7 443.5 L228.7 443.5 L229.7 443.9 L230.7 443.3 L231.7 443.0 L232.7 442.4 L233.7 442.9 L234.7 443.2 L235.7 444.2 L236.7 445.1 L237.7 445.3 L238.7 445.2 L239.7 445.4 L240.7 445.5 L241.7 445.4 L242.7 445.4 L243.7 445.4 L244.7 445.6 L245.7 445.3 L246.7 445.3 L247.7 445.3 L248.7 445.3 L249.7 445.2 L250.7 445.2 L251.7 445.1 L252.7 445.3 L253.7 445.4 L254.7 445.5 L255.7 445.5 L256.7 444.8 L257.7 444.1 L258.7 443.5 L259.7 444.4 L260.7 445.2 L261.7 445.3 L262.7 444.9 L263.7 444.5 L264.7 444.5 L265.7 444.2 L266.7 443.9 L267.7 443.1 L268.7 443.7 L269.7 444.3 L270.7 444.8 L271.7 444.5 L272.7 444.4 L273.7 443.2 L274.7 444.2 L275.7 444.1 L276.7 442.4 L277.7 442.9 L278.7 442.4 L279.7 441.9 L280.7 441.5 L281.7 441.1 L282.7 442.3 L283.7 443.4 L284.7 443.3 L285.7 442.3 L286.7 440.9 L287.7 440.5 L288.7 440.3 L289.7 439.6 L290.7 442.1 L291.7 443.6 L292.7 443.3 L293.7 443.6 L294.7 442.1 L295.7 440.1 L296.7 437.9 L297.7 439.8 L298.7 440.6 L299.7 442.4 L300.7 443.0 L301.7 441.5 L302.7 441.0 L303.7 441.7 L304.7 442.5 L305.7 444.5 L306.7 444.2 L307.7 444.2 L308.7 443.8 L309.7 444.4 L310.7 444.6 L311.7 444.4 L312.7 444.3 L313.7 443.2 L314.7 443.2 L315.7 443.6 L316.7 443.0 L317.7 443.6 L318.7 444.9 L319.7 445.3 L320.7 445.4 L321.7 445.5 L322.7 445.6 L323.7 445.6 L324.7 445.4 L325.7 445.5 L326.7 445.5 L327.7 445.5 L328.7 445.6 L329.7 445.5 L330.7 445.5 L331.7 445.5 L332.7 445.2 L333.7 445.3 L334.7 445.3 L335.7 445.3 L336.7 445.3 L337.7 445.4 L338.7 445.4 L339.7 445.4 L340.7 445.4 L341.7 445.3 L342.7 445.4 L343.7 445.6 L344.7 445.6 L345.7 445.3 L346.7 445.5 L347.7 445.4 L348.7 445.3 L349.7 445.4 L350.7 445.5 L351.7 445.5 L352.7 445.3 L353.7 445.4 L354.7 445.5 L355.7 445.3 L356.7 445.5 L357.7 445.3 L358.7 445.3 L359.7 445.6 L360.7 445.6 L361.7 445.5 L362.7 445.3 L363.7 445.5 L364.7 445.3 L365.7 445.4 L366.7 445.4 L367.7 445.6 L368.7 445.6 L369.7 445.6 L370.7 445.6 L371.7 445.5 L372.7 445.6 L373.7 445.5 L374.7 445.6 L375.7 445.4 L376.7 445.3 L377.7 445.4 L378.7 445.3 L379.7 445.5 L380.7 445.4 L381.7 445.2 L382.7 445.3 L383.7 445.5 L384.7 445.4 L385.7 445.4 L386.7 445.3 L387.7 445.5 L388.7 445.3 L389.7 445.4 L390.7 445.2 L391.7 445.5 L392.7 445.3 L393.7 445.6 L394.7 445.5 L395.7 445.4 L396.7 445.4 L397.7 445.6 L398.7 445.5 L399.7 445.3 L400.7 445.3 L401.7 445.5 L402.7 445.6 L403.7 445.6 L404.7 445.6 L405.7 445.4 L406.7 445.5 L407.7 445.6 L408.7 445.5 L409.7 445.6 L410.7 445.5 L411.7 445.6 L412.7 445.3 L413.7 445.4 L414.7 445.3 L415.7 445.3 L416.7 445.3 L417.7 445.6 L418.7 445.4 L419.7 445.5 L420.7 445.5 L421.7 445.4 L422.7 445.4 L423.7 445.6 L424.7 445.5 L425.7 445.6 L426.7 445.4 L427.7 445.4 L428.7 445.4 L429.7 445.4 L430.7 445.3 L431.7 445.5 L432.7 445.3 L433.7 445.3 L434.7 445.5 L435.7 445.4 L436.7 445.4 L437.7 445.6 L438.7 445.5 L439.7 445.6 L440.7 445.3 L441.7 445.4 L442.7 445.3 L443.7 445.3 L444.7 445.4 L445.7 445.3 L446.7 445.3 L447.7 445.4 L448.7 445.3 L449.7 445.6 L450.7 445.4 L451.7 445.6 L452.7 445.3 L453.7 445.5 L454.7 445.3 L455.7 445.4 L456.7 445.4 L457.7 445.3 L458.7 445.5 L459.7 445.5 L460.7 445.5 L461.7 445.4 L462.7 445.4 L463.7 445.5 L464.7 445.3 L465.7 445.5 L466.7 445.4 L467.7 445.6 L468.7 445.4 L469.7 445.2 L470.7 445.2 L471.7 445.5 L472.7 445.3 L473.7 445.4 L474.7 445.4 L475.7 445.5 L476.7 445.3 L477.7 445.3 L478.7 445.6 L479.7 445.5 L480.7 445.3 L481.7 445.5 L482.7 445.5 L483.7 445.4 L484.7 445.4 L485.7 445.5 L486.7 445.3 L487.7 445.5 L488.7 445.3 L489.7 445.4 L490.7 445.4 L491.7 445.6 L492.7 445.3 L493.7 445.5 L494.7 445.4 L495.7 445.5 L496.7 445.3 L497.7 445.3 L498.7 445.6 L499.7 445.3 L500.7 445.4 L501.7 445.4 L502.7 445.2 L503.7 445.3 L504.7 445.2 L505.7 445.5 L506.7 445.3 L507.7 445.3 L508.7 445.3 L509.7 445.5 L510.7 445.3 L511.7 445.5 L512.7 445.3 L513.7 445.5 L514.7 445.3 L515.7 445.5 L516.7 445.4 L517.7 445.3 L518.7 445.4 L519.7 445.4 L520.7 445.5 L521.7 445.3 L522.7 445.4 L523.7 445.4 L524.7 445.4 L525.7 445.4 L526.7 445.4 L527.7 445.3 L528.7 445.4 L529.7 445.3 L530.7 445.6 L531.7 445.4 L532.7 445.5 L533.7 445.4 L534.7 445.5 L535.7 445.5 L536.7 445.3 L537.7 445.3 L538.7 445.6 L539.7 445.6 L540.7 445.5 L541.7 445.2 L542.7 445.3 L543.7 445.6 L544.7 445.3 L545.7 445.6 L546.7 445.3 L547.7 445.5 L548.7 445.2 L549.7 444.7 L550.7 444.0 L551.7 443.8 L552.7 444.3 L553.7 444.2 L554.7 445.1 L555.7 444.8 L556.7 444.9 L557.7 444.8 L558.7 444.4 L559.7 444.0 L560.7 443.3 L561.7 443.6 L562.7 444.3 L563.7 444.4 L564.7 444.8 L565.7 444.3 L566.7 443.2 L567.7 444.4 L568.7 444.8 L569.7 444.4 L570.7 444.9 L571.7 444.6 L572.7 445.1 L573.7 444.3 L574.7 444.5 L575.7 444.6 L576.7 444.4 L577.7 443.7 L578.7 443.9 L579.7 444.2 L580.7 444.1 L581.7 443.4 L582.7 443.9 L583.7 444.4 L584.7 444.3 L585.7 444.1 L586.7 444.4 L587.7 444.2 L588.7 444.4 L589.7 444.5 L590.7 444.2 L591.7 444.6 L592.7 443.8 L593.7 443.6 L594.7 443.5 L595.7 443.1 L596.7 443.0 L597.7 443.8 L598.7 444.5 L599.7 444.7 L600.7 444.1 L601.7 443.2 L602.7 444.2 L603.7 444.2 L604.7 444.0 L605.7 443.9 L606.7 443.7 L607.7 443.6 L608.7 442.8 L609.7 443.4 L610.7 443.0 L611.7 443.5 L612.7 443.6 L613.7 443.7 L614.7 443.8 L615.7 443.9 L616.7 443.9 L617.7 443.8 L618.7 443.5 L619.7 443.3 L620.7 444.9 L621.7 444.9 L622.7 445.0 L623.7 444.4 L624.7 444.2 L625.7 444.8 L626.7 444.7 L627.7 444.6 L628.7 445.2 L629.7 445.3 L630.7 444.9 L631.7 444.6 L632.7 444.7 L633.7 444.2 L634.7 444.3 L635.7 444.1 L636.7 445.0 L637.7 444.9 L638.7 444.6 L639.7 443.6 L640.7 444.4 L641.7 444.5 L642.7 444.2 L643.7 443.7 L644.7 443.8 L645.7 443.7 L645.7 449.5 L644.7 449.4 L643.7 449.6 L642.7 449.0 L641.7 448.7 L640.7 448.9 L639.7 449.6 L638.7 448.6 L637.7 448.3 L636.7 448.2 L635.7 449.1 L634.7 448.9 L633.7 449.0 L632.7 448.5 L631.7 448.7 L630.7 448.4 L629.7 447.9 L628.7 448.1 L627.7 448.7 L626.7 448.5 L625.7 448.5 L624.7 449.0 L623.7 448.8 L622.7 448.3 L621.7 448.4 L620.7 448.3 L619.7 449.9 L618.7 449.7 L617.7 449.5 L616.7 449.3 L615.7 449.3 L614.7 449.5 L613.7 449.5 L612.7 449.7 L611.7 449.7 L610.7 450.2 L609.7 449.8 L608.7 450.5 L607.7 449.7 L606.7 449.5 L605.7 449.3 L604.7 449.3 L603.7 449.0 L602.7 449.0 L601.7 450.0 L600.7 449.1 L599.7 448.6 L598.7 448.7 L597.7 449.4 L596.7 450.2 L595.7 450.1 L594.7 449.8 L593.7 449.6 L592.7 449.5 L591.7 448.6 L590.7 449.0 L589.7 448.7 L588.7 448.8 L587.7 449.0 L586.7 448.9 L585.7 449.2 L584.7 448.9 L583.7 448.8 L582.7 449.4 L581.7 449.8 L580.7 449.2 L579.7 449.1 L578.7 449.4 L577.7 449.6 L576.7 448.9 L575.7 448.6 L574.7 448.7 L573.7 448.9 L572.7 448.1 L571.7 448.6 L570.7 448.4 L569.7 448.8 L568.7 448.5 L567.7 448.9 L566.7 450.1 L565.7 449.0 L564.7 448.4 L563.7 448.9 L562.7 448.9 L561.7 449.7 L560.7 450.0 L559.7 449.2 L558.7 448.8 L557.7 448.5 L556.7 448.4 L555.7 448.4 L554.7 448.1 L553.7 449.0 L552.7 449.0 L551.7 449.4 L550.7 449.2 L549.7 448.6 L548.7 448.1 L547.7 447.7 L546.7 447.9 L545.7 447.7 L544.7 447.9 L543.7 447.7 L542.7 448.0 L541.7 448.0 L540.7 447.8 L539.7 447.7 L538.7 447.7 L537.7 447.9 L536.7 448.0 L535.7 447.8 L534.7 447.7 L533.7 447.9 L532.7 447.7 L531.7 447.8 L530.7 447.7 L529.7 448.0 L528.7 447.8 L527.7 448.0 L526.7 447.9 L525.7 447.8 L524.7 447.8 L523.7 447.8 L522.7 447.9 L521.7 447.9 L520.7 447.7 L519.7 447.9 L518.7 447.8 L517.7 447.9 L516.7 447.8 L515.7 447.7 L514.7 448.0 L513.7 447.7 L512.7 448.0 L511.7 447.7 L510.7 447.9 L509.7 447.7 L508.7 447.9 L507.7 448.0 L506.7 447.9 L505.7 447.7 L504.7 448.0 L503.7 447.9 L502.7 448.0 L501.7 447.8 L500.7 447.8 L499.7 447.9 L498.7 447.7 L497.7 448.0 L496.7 448.0 L495.7 447.8 L494.7 447.9 L493.7 447.7 L492.7 447.9 L491.7 447.7 L490.7 447.8 L489.7 447.8 L488.7 447.9 L487.7 447.7 L486.7 448.0 L485.7 447.8 L484.7 447.8 L483.7 447.8 L482.7 447.7 L481.7 447.8 L480.7 447.9 L479.7 447.7 L478.7 447.7 L477.7 447.9 L476.7 448.0 L475.7 447.8 L474.7 447.9 L473.7 447.9 L472.7 448.0 L471.7 447.7 L470.7 448.0 L469.7 448.1 L468.7 447.9 L467.7 447.6 L466.7 447.8 L465.7 447.7 L464.7 447.9 L463.7 447.7 L462.7 447.9 L461.7 447.9 L460.7 447.7 L459.7 447.7 L458.7 447.8 L457.7 447.9 L456.7 447.8 L455.7 447.8 L454.7 447.9 L453.7 447.8 L452.7 448.0 L451.7 447.7 L450.7 447.8 L449.7 447.7 L448.7 448.0 L447.7 447.8 L446.7 447.9 L445.7 447.9 L444.7 447.8 L443.7 448.0 L442.7 447.9 L441.7 447.8 L440.7 448.0 L439.7 447.7 L438.7 447.7 L437.7 447.7 L436.7 447.8 L435.7 447.9 L434.7 447.7 L433.7 448.0 L432.7 447.9 L431.7 447.8 L430.7 447.9 L429.7 447.8 L428.7 447.8 L427.7 447.8 L426.7 447.8 L425.7 447.6 L424.7 447.7 L423.7 447.7 L422.7 447.8 L421.7 447.8 L420.7 447.7 L419.7 447.8 L418.7 447.8 L417.7 447.7 L416.7 447.9 L415.7 448.0 L414.7 448.0 L413.7 447.9 L412.7 448.0 L411.7 447.7 L410.7 447.7 L409.7 447.7 L408.7 447.7 L407.7 447.7 L406.7 447.7 L405.7 447.8 L404.7 447.7 L403.7 447.7 L402.7 447.7 L401.7 447.7 L400.7 447.9 L399.7 448.0 L398.7 447.7 L397.7 447.7 L396.7 447.8 L395.7 447.8 L394.7 447.8 L393.7 447.7 L392.7 448.0 L391.7 447.8 L390.7 448.0 L389.7 447.8 L388.7 447.9 L387.7 447.7 L386.7 447.9 L385.7 447.9 L384.7 447.8 L383.7 447.7 L382.7 447.9 L381.7 448.0 L380.7 447.9 L379.7 447.7 L378.7 448.0 L377.7 447.8 L376.7 448.0 L375.7 447.8 L374.7 447.7 L373.7 447.8 L372.7 447.7 L371.7 447.8 L370.7 447.7 L369.7 447.6 L368.7 447.7 L367.7 447.7 L366.7 447.9 L365.7 447.8 L364.7 447.9 L363.7 447.7 L362.7 448.0 L361.7 447.7 L360.7 447.6 L359.7 447.7 L358.7 448.0 L357.7 448.0 L356.7 447.8 L355.7 447.9 L354.7 447.7 L353.7 447.8 L352.7 448.0 L351.7 447.8 L350.7 447.8 L349.7 447.8 L348.7 448.0 L347.7 447.8 L346.7 447.7 L345.7 447.9 L344.7 447.7 L343.7 447.6 L342.7 447.8 L341.7 448.0 L340.7 447.8 L339.7 447.9 L338.7 447.8 L337.7 447.9 L336.7 448.0 L335.7 448.0 L334.7 447.9 L333.7 448.0 L332.7 448.0 L331.7 447.8 L330.7 447.7 L329.7 447.8 L328.7 447.7 L327.7 447.7 L326.7 447.8 L325.7 447.7 L324.7 447.8 L323.7 447.7 L322.7 447.7 L321.7 447.7 L320.7 447.8 L319.7 447.9 L318.7 448.3 L317.7 449.6 L316.7 450.2 L315.7 449.6 L314.7 450.1 L313.7 450.0 L312.7 448.9 L311.7 448.9 L310.7 448.7 L309.7 448.8 L308.7 449.5 L307.7 449.1 L306.7 449.0 L305.7 448.8 L304.7 450.7 L303.7 451.5 L302.7 452.2 L301.7 451.8 L300.7 450.2 L299.7 450.9 L298.7 452.7 L297.7 453.5 L296.7 455.3 L295.7 453.1 L294.7 451.2 L293.7 449.6 L292.7 450.0 L291.7 449.6 L290.7 451.1 L289.7 453.6 L288.7 452.9 L287.7 452.7 L286.7 452.3 L285.7 451.0 L284.7 450.0 L283.7 449.8 L282.7 450.9 L281.7 452.1 L280.7 451.8 L279.7 451.3 L278.7 450.9 L277.7 450.3 L276.7 450.8 L275.7 449.2 L274.7 449.1 L273.7 450.0 L272.7 448.9 L271.7 448.8 L270.7 448.4 L269.7 449.0 L268.7 449.6 L267.7 450.1 L266.7 449.4 L265.7 449.0 L264.7 448.7 L263.7 448.7 L262.7 448.3 L261.7 448.0 L260.7 448.1 L259.7 448.9 L258.7 449.7 L257.7 449.2 L256.7 448.4 L255.7 447.8 L254.7 447.7 L253.7 447.9 L252.7 448.0 L251.7 448.2 L250.7 448.0 L249.7 448.1 L248.7 448.0 L247.7 447.9 L246.7 448.0 L245.7 447.9 L244.7 447.7 L243.7 447.9 L242.7 447.8 L241.7 447.8 L240.7 447.7 L239.7 447.8 L238.7 448.0 L237.7 448.0 L236.7 448.2 L235.7 449.0 L234.7 450.0 L233.7 450.4 L232.7 450.9 L231.7 450.2 L230.7 450.0 L229.7 449.4 L228.7 449.8 L227.7 449.8 L226.7 449.1 L225.7 449.2 L224.7 449.4 L223.7 449.2 L222.7 449.1 L221.7 449.7 L220.7 448.7 L219.7 447.8 L218.7 448.1 L217.7 448.6 L216.7 448.4 L215.7 448.4 L214.7 448.6 L213.7 448.2 L212.7 448.4 L211.7 448.2 L210.7 448.0 L209.7 447.9 L208.7 448.0 L207.7 447.9 L206.7 448.0 L205.7 447.9 L204.7 447.7 L203.7 447.9 L202.7 448.2 L201.7 448.0 L200.7 447.8 L199.7 447.9 L198.7 447.9 L197.7 448.0 L196.7 447.9 L195.7 447.7 L194.7 447.7 L193.7 447.8 L192.7 448.0 L191.7 448.0 L190.7 448.0 L189.7 447.9 L188.7 447.8 L187.7 447.7 L186.7 447.7 L185.7 448.0 L184.7 447.9 L183.7 447.9 L182.7 448.0 L181.7 447.9 L180.7 447.9 L179.7 447.9 L178.7 447.7 L177.7 447.9 L176.7 447.8 L175.7 447.7 L174.7 448.0 L173.7 447.8 L172.7 447.9 L171.7 447.9 L170.7 448.2 L169.7 447.9 L168.7 447.9 L167.7 447.9 L166.7 447.7 L165.7 447.9 L164.7 447.7 L163.7 447.8 L162.7 448.0 L161.7 447.8 L160.7 447.8 L159.7 447.7 L158.7 447.7 L157.7 447.8 L156.7 448.0 L155.7 448.0 L154.7 448.1 L153.7 447.9 L152.7 447.9 L151.7 447.6 L150.7 447.7 L149.7 447.7 L148.7 447.9 L147.7 448.1 L146.7 447.9 L145.7 447.8 L144.7 447.9 L143.7 447.9 L142.7 447.7 L141.7 447.7 L140.7 447.9 L139.7 448.0 L138.7 447.7 L137.7 447.8 L136.7 447.7 L135.7 447.9 L134.7 447.9 L133.7 447.7 L132.7 448.0 L131.7 447.9 L130.7 447.9 L129.7 447.8 L128.7 448.0 L127.7 447.9 L126.7 447.9 L125.7 447.7 L124.7 448.0 L123.7 447.9 L122.7 447.9 L121.7 447.8 L120.7 448.0 L119.7 447.7 L118.7 448.0 L117.7 447.9 L116.7 447.8 L115.7 447.7 L114.7 447.8 L113.7 447.8 L112.7 447.9 L111.7 448.2 L110.7 448.2 L109.7 448.1 L108.7 447.7 L107.7 447.7 L106.7 447.9 L105.7 447.9 L104.7 447.8 L103.7 447.7 L102.7 447.9 L101.7 447.8 L100.7 447.9 L99.7 447.8 L98.7 447.8 L97.7 447.7 L96.7 447.9 L95.7 447.8 L94.7 447.8 L93.7 447.7 L92.7 448.0 L91.7 447.9 L90.7 448.0 L89.7 448.0 L88.7 447.8 L87.7 447.9 L86.7 447.7 L85.7 447.8 L84.7 447.7 L83.7 447.9 L82.7 447.7 L81.7 447.9 L80.7 447.9 L79.7 448.0 L78.7 447.8 L77.7 447.7 L76.7 448.0 L75.7 447.7 L74.7 447.9 L73.7 447.7 L72.7 447.9 L71.7 447.8 L70.7 447.8 L69.7 447.9 L68.7 448.0 L67.7 447.8 L66.7 447.7 L65.7 447.8 L64.7 448.0 L63.7 448.2 L62.7 448.2 L61.7 448.4 L60.7 447.9 L59.7 447.9 L58.7 447.7 L57.7 447.7 L56.7 447.9 L55.7 447.8 L54.7 448.5 L53.7 448.9 L52.7 448.2 L51.7 448.0 L50.7 448.0 L49.7 448.0 L48.7 448.1 L47.7 449.0 L46.7 448.7 L45.7 447.8 L44.7 447.9 L43.7 448.1 L42.7 448.4Z" fill="#0000ff"/><path d="M44.0 444.6V454.0M50.0 437.0V458.4M59.5 444.6V452.0M70.0 444.6V452.0M74.0 440.0V453.0M105.0 444.6V452.0M162.3 427.0V462.0M164.6 436.5V454.0M174.3 437.0V453.0M179.8 431.0V448.6M181.8 433.5V448.6M195.3 432.0V448.6M200.0 425.0V452.0M205.0 425.0V453.0M210.6 410.5V461.7M216.3 396.0V455.0M220.5 435.0V448.6M223.6 403.7V452.0M228.2 412.8V454.0M230.0 427.0V477.0M240.7 433.0V448.6M242.7 437.0V448.6M258.7 425.0V467.8M264.5 425.0V458.0M268.2 422.0V448.6M272.5 412.0V470.0M285.0 425.0V462.0M290.0 418.0V464.0M297.0 423.0V462.0M300.0 428.0V463.0M312.2 430.0V459.0M316.5 424.0V460.0M319.5 430.0V448.6M327.8 421.0V455.0M341.2 436.5V448.6M346.0 426.2V455.0M366.6 425.0V461.7M375.0 422.7V448.6M401.7 423.9V455.0M404.4 424.0V448.6M412.6 336.4V475.4M416.8 383.8V516.6M417.7 424.0V448.6M423.9 424.0V455.0M431.2 435.0V448.6M443.6 421.6V455.0M450.2 438.0V448.6M468.5 436.0V448.6M482.3 440.0V454.0M495.3 437.0V448.6M509.5 425.9V460.3M517.7 434.9V448.6M525.4 425.9V454.5M534.6 436.0V448.6M537.3 422.7V453.0M577.5 417.4V474.6M585.2 425.4V460.3M593.9 436.0V458.0M607.6 437.0V456.6M632.5 436.0V448.6M634.6 425.4V455.5M643.0 437.0V455.0" fill="none" stroke="#0000ff" stroke-width="0.5" stroke-opacity="0.75"/></g>
<text x="8.70" y="432.50" font-size="12" text-anchor="middle" font-weight="bold" transform="rotate(-90 8.7 432.5)" fill="#000">Y (nT)</text>
<rect x="836.0" y="330.0" width="604.0" height="205.0" fill="#00008f"/>
<defs><linearGradient id="g1_0" gradientUnits="userSpaceOnUse" x1="0" y1="413.0" x2="0" y2="535.0"><stop offset="0.000" stop-color="#000000"/><stop offset="0.126" stop-color="#212121"/><stop offset="0.316" stop-color="#383838"/><stop offset="0.505" stop-color="#404040"/><stop offset="0.631" stop-color="#404040"/><stop offset="0.779" stop-color="#353535"/><stop offset="0.908" stop-color="#333333"/><stop offset="1.000" stop-color="#333333"/></linearGradient><linearGradient id="g1_1" gradientUnits="userSpaceOnUse" x1="0" y1="470.0" x2="0" y2="535.0"><stop offset="0.000" stop-color="#000000"/><stop offset="0.080" stop-color="#0e0e0e"/><stop offset="0.300" stop-color="#181818"/><stop offset="0.550" stop-color="#1a1a1a"/><stop offset="0.750" stop-color="#1c1c1c"/><stop offset="0.900" stop-color="#1f1f1f"/><stop offset="1.000" stop-color="#202020"/></linearGradient><linearGradient id="g1_2" gradientUnits="userSpaceOnUse" x1="0" y1="330.0" x2="0" y2="410.0"><stop offset="0.000" stop-color="#1e1e1e"/><stop offset="0.075" stop-color="#161616"/><stop offset="0.188" stop-color="#1a1a1a"/><stop offset="0.300" stop-color="#222222"/><stop offset="0.375" stop-color="#252525"/><stop offset="0.625" stop-color="#171717"/><stop offset="0.844" stop-color="#0a0a0a"/><stop offset="1.000" stop-color="#000000"/></linearGradient><linearGradient id="g1_3" gradientUnits="userSpaceOnUse" x1="0" y1="330.0" x2="0" y2="400.0"><stop offset="0.000" stop-color="#1e1e1e"/><stop offset="0.057" stop-color="#161616"/><stop offset="0.143" stop-color="#1a1a1a"/><stop offset="0.229" stop-color="#222222"/><stop offset="0.286" stop-color="#252525"/><stop offset="0.571" stop-color="#181818"/><stop offset="0.821" stop-color="#0b0b0b"/><stop offset="1.000" stop-color="#000000"/></linearGradient><linearGradient id="g1_4" gradientUnits="userSpaceOnUse" x1="0" y1="330.0" x2="0" y2="500.0"><stop offset="0.000" stop-color="#383838"/><stop offset="0.035" stop-color="#2a2a2a"/><stop offset="0.088" stop-color="#313131"/><stop offset="0.141" stop-color="#404040"/><stop offset="0.176" stop-color="#464646"/><stop offset="0.506" stop-color="#2e2e2e"/><stop offset="0.794" stop-color="#141414"/><stop offset="1.000" stop-color="#000000"/></linearGradient><linearGradient id="g1_5" gradientUnits="userSpaceOnUse" x1="0" y1="330.0" x2="0" y2="516.0"><stop offset="0.000" stop-color="#686868"/><stop offset="0.054" stop-color="#4e4e4e"/><stop offset="0.134" stop-color="#5b5b5b"/><stop offset="0.215" stop-color="#777777"/><stop offset="0.269" stop-color="#828282"/><stop offset="0.561" stop-color="#545454"/><stop offset="0.817" stop-color="#252525"/><stop offset="1.000" stop-color="#000000"/></linearGradient><linearGradient id="g1_6" gradientUnits="userSpaceOnUse" x1="0" y1="475.0" x2="0" y2="535.0"><stop offset="0.000" stop-color="#000000"/><stop offset="0.080" stop-color="#323232"/><stop offset="0.300" stop-color="#4e4e4e"/><stop offset="0.550" stop-color="#505050"/><stop offset="0.750" stop-color="#585858"/><stop offset="0.900" stop-color="#626262"/><stop offset="1.000" stop-color="#676767"/></linearGradient><linearGradient id="g1_7" gradientUnits="userSpaceOnUse" x1="0" y1="372.0" x2="0" y2="535.0"><stop offset="0.000" stop-color="#000000"/><stop offset="0.294" stop-color="#a2a2a2"/><stop offset="0.540" stop-color="#cdcdcd"/><stop offset="0.755" stop-color="#c3c3c3"/><stop offset="1.000" stop-color="#d2d2d2"/></linearGradient><linearGradient id="g1_8" gradientUnits="userSpaceOnUse" x1="0" y1="330.0" x2="0" y2="425.0"><stop offset="0.000" stop-color="#2d2d2d"/><stop offset="0.063" stop-color="#212121"/><stop offset="0.158" stop-color="#272727"/><stop offset="0.253" stop-color="#333333"/><stop offset="0.316" stop-color="#383838"/><stop offset="0.589" stop-color="#232323"/><stop offset="0.829" stop-color="#101010"/><stop offset="1.000" stop-color="#000000"/></linearGradient><linearGradient id="g1_9" gradientUnits="userSpaceOnUse" x1="0" y1="470.0" x2="0" y2="535.0"><stop offset="0.000" stop-color="#000000"/><stop offset="0.080" stop-color="#323232"/><stop offset="0.300" stop-color="#525252"/><stop offset="0.550" stop-color="#555555"/><stop offset="0.750" stop-color="#5d5d5d"/><stop offset="0.900" stop-color="#676767"/><stop offset="1.000" stop-color="#6c6c6c"/></linearGradient><linearGradient id="g1_10" gradientUnits="userSpaceOnUse" x1="0" y1="330.0" x2="0" y2="535.0"><stop offset="0.000" stop-color="#b2b2b2"/><stop offset="0.171" stop-color="#868686"/><stop offset="0.427" stop-color="#959595"/><stop offset="0.683" stop-color="#a7a7a7"/><stop offset="0.854" stop-color="#a8a8a8"/><stop offset="0.912" stop-color="#949494"/><stop offset="0.963" stop-color="#919191"/><stop offset="1.000" stop-color="#939393"/></linearGradient><linearGradient id="g1_11" gradientUnits="userSpaceOnUse" x1="0" y1="450.0" x2="0" y2="535.0"><stop offset="0.000" stop-color="#000000"/><stop offset="0.080" stop-color="#323232"/><stop offset="0.300" stop-color="#525252"/><stop offset="0.550" stop-color="#555555"/><stop offset="0.750" stop-color="#5d5d5d"/><stop offset="0.900" stop-color="#676767"/><stop offset="1.000" stop-color="#6c6c6c"/></linearGradient><linearGradient id="g1_12" gradientUnits="userSpaceOnUse" x1="0" y1="357.0" x2="0" y2="480.0"><stop offset="0.000" stop-color="#000000"/><stop offset="0.228" stop-color="#808080"/><stop offset="0.472" stop-color="#919191"/><stop offset="0.675" stop-color="#838383"/><stop offset="0.886" stop-color="#5b5b5b"/><stop offset="1.000" stop-color="#000000"/></linearGradient><linearGradient id="g1_13" gradientUnits="userSpaceOnUse" x1="0" y1="365.0" x2="0" y2="535.0"><stop offset="0.000" stop-color="#000000"/><stop offset="0.324" stop-color="#797979"/><stop offset="0.618" stop-color="#6f6f6f"/><stop offset="1.000" stop-color="#737373"/></linearGradient><linearGradient id="g1_14" gradientUnits="userSpaceOnUse" x1="0" y1="352.0" x2="0" y2="535.0"><stop offset="0.000" stop-color="#000000"/><stop offset="0.208" stop-color="#8d8d8d"/><stop offset="0.372" stop-color="#999999"/><stop offset="0.508" stop-color="#898989"/><stop offset="0.754" stop-color="#7d7d7d"/><stop offset="1.000" stop-color="#797979"/></linearGradient><linearGradient id="g1_15" gradientUnits="userSpaceOnUse" x1="0" y1="450.0" x2="0" y2="535.0"><stop offset="0.000" stop-color="#000000"/><stop offset="0.080" stop-color="#313131"/><stop offset="0.300" stop-color="#505050"/><stop offset="0.550" stop-color="#535353"/><stop offset="0.750" stop-color="#5a5a5a"/><stop offset="0.900" stop-color="#646464"/><stop offset="1.000" stop-color="#696969"/></linearGradient><linearGradient id="g1_16" gradientUnits="userSpaceOnUse" x1="0" y1="500.0" x2="0" y2="535.0"><stop offset="0.000" stop-color="#000000"/><stop offset="0.080" stop-color="#2a2a2a"/><stop offset="0.300" stop-color="#474747"/><stop offset="0.550" stop-color="#4a4a4a"/><stop offset="0.750" stop-color="#505050"/><stop offset="0.900" stop-color="#585858"/><stop offset="1.000" stop-color="#5c5c5c"/></linearGradient><linearGradient id="g1_17" gradientUnits="userSpaceOnUse" x1="0" y1="495.0" x2="0" y2="535.0"><stop offset="0.000" stop-color="#000000"/><stop offset="0.080" stop-color="#232323"/><stop offset="0.300" stop-color="#3b3b3b"/><stop offset="0.550" stop-color="#3d3d3d"/><stop offset="0.750" stop-color="#434343"/><stop offset="0.900" stop-color="#4a4a4a"/><stop offset="1.000" stop-color="#4d4d4d"/></linearGradient><linearGradient id="g1_18" gradientUnits="userSpaceOnUse" x1="0" y1="392.0" x2="0" y2="535.0"><stop offset="0.000" stop-color="#000000"/><stop offset="0.080" stop-color="#313131"/><stop offset="0.300" stop-color="#505050"/><stop offset="0.550" stop-color="#535353"/><stop offset="0.750" stop-color="#5a5a5a"/><stop offset="0.900" stop-color="#646464"/><stop offset="1.000" stop-color="#696969"/></linearGradient><linearGradient id="g1_19" gradientUnits="userSpaceOnUse" x1="0" y1="330.0" x2="0" y2="488.0"><stop offset="0.000" stop-color="#2d2d2d"/><stop offset="0.089" stop-color="#212121"/><stop offset="0.222" stop-color="#272727"/><stop offset="0.354" stop-color="#333333"/><stop offset="0.443" stop-color="#373737"/><stop offset="0.666" stop-color="#222222"/><stop offset="0.861" stop-color="#101010"/><stop offset="1.000" stop-color="#000000"/></linearGradient><linearGradient id="g1_20" gradientUnits="userSpaceOnUse" x1="0" y1="445.0" x2="0" y2="535.0"><stop offset="0.000" stop-color="#000000"/><stop offset="0.080" stop-color="#1f1f1f"/><stop offset="0.300" stop-color="#343434"/><stop offset="0.550" stop-color="#363636"/><stop offset="0.750" stop-color="#3b3b3b"/><stop offset="0.900" stop-color="#414141"/><stop offset="1.000" stop-color="#444444"/></linearGradient><linearGradient id="g1_21" gradientUnits="userSpaceOnUse" x1="0" y1="330.0" x2="0" y2="516.0"><stop offset="0.000" stop-color="#686868"/><stop offset="0.032" stop-color="#4e4e4e"/><stop offset="0.081" stop-color="#5b5b5b"/><stop offset="0.129" stop-color="#777777"/><stop offset="0.161" stop-color="#828282"/><stop offset="0.497" stop-color="#575757"/><stop offset="0.790" stop-color="#252525"/><stop offset="1.000" stop-color="#000000"/></linearGradient><linearGradient id="g1_22" gradientUnits="userSpaceOnUse" x1="0" y1="330.0" x2="0" y2="389.0"><stop offset="0.000" stop-color="#7e7e7e"/><stop offset="0.017" stop-color="#5f5f5f"/><stop offset="0.042" stop-color="#6e6e6e"/><stop offset="0.068" stop-color="#919191"/><stop offset="0.085" stop-color="#9e9e9e"/><stop offset="0.451" stop-color="#6d6d6d"/><stop offset="0.771" stop-color="#2e2e2e"/><stop offset="1.000" stop-color="#000000"/></linearGradient><linearGradient id="g1_23" gradientUnits="userSpaceOnUse" x1="0" y1="475.0" x2="0" y2="535.0"><stop offset="0.000" stop-color="#000000"/><stop offset="0.080" stop-color="#2f2f2f"/><stop offset="0.300" stop-color="#4e4e4e"/><stop offset="0.550" stop-color="#505050"/><stop offset="0.750" stop-color="#585858"/><stop offset="0.900" stop-color="#616161"/><stop offset="1.000" stop-color="#666666"/></linearGradient><linearGradient id="g1_24" gradientUnits="userSpaceOnUse" x1="0" y1="330.0" x2="0" y2="500.0"><stop offset="0.000" stop-color="#2d2d2d"/><stop offset="0.082" stop-color="#212121"/><stop offset="0.206" stop-color="#272727"/><stop offset="0.329" stop-color="#333333"/><stop offset="0.412" stop-color="#383838"/><stop offset="0.647" stop-color="#222222"/><stop offset="0.853" stop-color="#101010"/><stop offset="1.000" stop-color="#000000"/></linearGradient><linearGradient id="g1_25" gradientUnits="userSpaceOnUse" x1="0" y1="330.0" x2="0" y2="535.0"><stop offset="0.000" stop-color="#2d2d2d"/><stop offset="0.117" stop-color="#212121"/><stop offset="0.293" stop-color="#272727"/><stop offset="0.468" stop-color="#323232"/><stop offset="0.585" stop-color="#333333"/><stop offset="0.751" stop-color="#2a2a2a"/><stop offset="0.896" stop-color="#272727"/><stop offset="1.000" stop-color="#272727"/></linearGradient><linearGradient id="g1_26" gradientUnits="userSpaceOnUse" x1="0" y1="480.0" x2="0" y2="535.0"><stop offset="0.000" stop-color="#000000"/><stop offset="0.080" stop-color="#2a2a2a"/><stop offset="0.300" stop-color="#444444"/><stop offset="0.550" stop-color="#474747"/><stop offset="0.750" stop-color="#4d4d4d"/><stop offset="0.900" stop-color="#565656"/><stop offset="1.000" stop-color="#5a5a5a"/></linearGradient><linearGradient id="g1_27" gradientUnits="userSpaceOnUse" x1="0" y1="500.0" x2="0" y2="535.0"><stop offset="0.000" stop-color="#000000"/><stop offset="0.080" stop-color="#191919"/><stop offset="0.300" stop-color="#2a2a2a"/><stop offset="0.550" stop-color="#2c2c2c"/><stop offset="0.750" stop-color="#303030"/><stop offset="0.900" stop-color="#353535"/><stop offset="1.000" stop-color="#373737"/></linearGradient><linearGradient id="g1_28" gradientUnits="userSpaceOnUse" x1="0" y1="352.0" x2="0" y2="535.0"><stop offset="0.000" stop-color="#000000"/><stop offset="0.262" stop-color="#949494"/><stop offset="0.426" stop-color="#d5d5d5"/><stop offset="0.699" stop-color="#d4d4d4"/><stop offset="1.000" stop-color="#cfcfcf"/></linearGradient><linearGradient id="g1_29" gradientUnits="userSpaceOnUse" x1="0" y1="365.0" x2="0" y2="535.0"><stop offset="0.000" stop-color="#000000"/><stop offset="0.324" stop-color="#929292"/><stop offset="0.529" stop-color="#c3c3c3"/><stop offset="0.794" stop-color="#bababa"/><stop offset="1.000" stop-color="#bababa"/></linearGradient><linearGradient id="g1_30" gradientUnits="userSpaceOnUse" x1="0" y1="440.0" x2="0" y2="535.0"><stop offset="0.000" stop-color="#000000"/><stop offset="0.080" stop-color="#404040"/><stop offset="0.300" stop-color="#666666"/><stop offset="0.550" stop-color="#696969"/><stop offset="0.750" stop-color="#737373"/><stop offset="0.900" stop-color="#808080"/><stop offset="1.000" stop-color="#878787"/></linearGradient><linearGradient id="g1_31" gradientUnits="userSpaceOnUse" x1="0" y1="465.0" x2="0" y2="535.0"><stop offset="0.000" stop-color="#000000"/><stop offset="0.080" stop-color="#404040"/><stop offset="0.300" stop-color="#666666"/><stop offset="0.550" stop-color="#696969"/><stop offset="0.750" stop-color="#737373"/><stop offset="0.900" stop-color="#808080"/><stop offset="1.000" stop-color="#878787"/></linearGradient><linearGradient id="g1_32" gradientUnits="userSpaceOnUse" x1="0" y1="455.0" x2="0" y2="514.0"><stop offset="0.000" stop-color="#000000"/><stop offset="0.102" stop-color="#383838"/><stop offset="0.254" stop-color="#616161"/><stop offset="0.407" stop-color="#727272"/><stop offset="0.508" stop-color="#737373"/><stop offset="0.705" stop-color="#484848"/><stop offset="0.877" stop-color="#212121"/><stop offset="1.000" stop-color="#000000"/></linearGradient><linearGradient id="g1_33" gradientUnits="userSpaceOnUse" x1="0" y1="485.0" x2="0" y2="535.0"><stop offset="0.000" stop-color="#000000"/><stop offset="0.080" stop-color="#1c1c1c"/><stop offset="0.300" stop-color="#2f2f2f"/><stop offset="0.550" stop-color="#313131"/><stop offset="0.750" stop-color="#353535"/><stop offset="0.900" stop-color="#3b3b3b"/><stop offset="1.000" stop-color="#3d3d3d"/></linearGradient><linearGradient id="g1_34" gradientUnits="userSpaceOnUse" x1="0" y1="431.0" x2="0" y2="499.0"><stop offset="0.000" stop-color="#000000"/><stop offset="0.100" stop-color="#2e2e2e"/><stop offset="0.250" stop-color="#515151"/><stop offset="0.400" stop-color="#606060"/><stop offset="0.500" stop-color="#606060"/><stop offset="0.700" stop-color="#3c3c3c"/><stop offset="0.875" stop-color="#1c1c1c"/><stop offset="1.000" stop-color="#000000"/></linearGradient><linearGradient id="g1_35" gradientUnits="userSpaceOnUse" x1="0" y1="470.0" x2="0" y2="514.0"><stop offset="0.000" stop-color="#000000"/><stop offset="0.091" stop-color="#161616"/><stop offset="0.227" stop-color="#272727"/><stop offset="0.364" stop-color="#313131"/><stop offset="0.455" stop-color="#323232"/><stop offset="0.673" stop-color="#1e1e1e"/><stop offset="0.864" stop-color="#0e0e0e"/><stop offset="1.000" stop-color="#000000"/></linearGradient><linearGradient id="g1_36" gradientUnits="userSpaceOnUse" x1="0" y1="443.0" x2="0" y2="514.0"><stop offset="0.000" stop-color="#000000"/><stop offset="0.090" stop-color="#343434"/><stop offset="0.225" stop-color="#5b5b5b"/><stop offset="0.361" stop-color="#737373"/><stop offset="0.451" stop-color="#757575"/><stop offset="0.670" stop-color="#474747"/><stop offset="0.863" stop-color="#212121"/><stop offset="1.000" stop-color="#000000"/></linearGradient></defs><clipPath id="cs1"><rect x="836.0" y="330.0" width="604.0" height="205.0"/></clipPath><g clip-path="url(#cs1)"><g filter="url(#jm)"><rect x="836.0" y="330.0" width="604.0" height="205.0" fill="#000"/><polygon points="842.2,413.0 840.8,535.0 844.4,535.0 843.0,413.0" fill="url(#g1_0)" fill-opacity="0.42" style="mix-blend-mode:lighten"/><polygon points="842.3,413.0 841.5,535.0 843.7,535.0 842.9,413.0" fill="url(#g1_0)" fill-opacity="0.72" style="mix-blend-mode:lighten"/><polygon points="842.3,413.0 842.1,535.0 843.1,535.0 842.9,413.0" fill="url(#g1_0)" style="mix-blend-mode:lighten"/><polygon points="862.9,470.0 861.7,535.0 864.9,535.0 863.7,470.0" fill="url(#g1_1)" fill-opacity="0.42" style="mix-blend-mode:lighten"/><polygon points="863.0,470.0 862.3,535.0 864.3,535.0 863.6,470.0" fill="url(#g1_1)" fill-opacity="0.72" style="mix-blend-mode:lighten"/><polygon points="863.0,470.0 862.8,535.0 863.8,535.0 863.6,470.0" fill="url(#g1_1)" style="mix-blend-mode:lighten"/><polygon points="952.2,330.0 951.3,410.0 953.9,410.0 953.0,330.0" fill="url(#g1_2)" fill-opacity="0.42" style="mix-blend-mode:lighten"/><polygon points="952.3,330.0 951.8,410.0 953.4,410.0 952.9,330.0" fill="url(#g1_2)" fill-opacity="0.72" style="mix-blend-mode:lighten"/><polygon points="952.3,330.0 952.2,410.0 953.0,410.0 952.9,330.0" fill="url(#g1_2)" style="mix-blend-mode:lighten"/><polygon points="988.9,330.0 988.0,400.0 990.6,400.0 989.7,330.0" fill="url(#g1_3)" fill-opacity="0.42" style="mix-blend-mode:lighten"/><polygon points="989.0,330.0 988.5,400.0 990.1,400.0 989.6,330.0" fill="url(#g1_3)" fill-opacity="0.72" style="mix-blend-mode:lighten"/><polygon points="989.0,330.0 988.9,400.0 989.7,400.0 989.6,330.0" fill="url(#g1_3)" style="mix-blend-mode:lighten"/><polygon points="1000.6,330.0 999.7,500.0 1002.3,500.0 1001.4,330.0" fill="url(#g1_4)" fill-opacity="0.42" style="mix-blend-mode:lighten"/><polygon points="1000.7,330.0 1000.2,500.0 1001.8,500.0 1001.3,330.0" fill="url(#g1_4)" fill-opacity="0.72" style="mix-blend-mode:lighten"/><polygon points="1000.7,330.0 1000.6,500.0 1001.4,500.0 1001.3,330.0" fill="url(#g1_4)" style="mix-blend-mode:lighten"/><polygon points="1005.5,330.0 1004.6,516.0 1007.2,516.0 1006.3,330.0" fill="url(#g1_5)" fill-opacity="0.42" style="mix-blend-mode:lighten"/><polygon points="1005.6,330.0 1005.1,516.0 1006.7,516.0 1006.2,330.0" fill="url(#g1_5)" fill-opacity="0.72" style="mix-blend-mode:lighten"/><polygon points="1005.6,330.0 1005.5,516.0 1006.3,516.0 1006.2,330.0" fill="url(#g1_5)" style="mix-blend-mode:lighten"/><polygon points="1014.6,475.0 1012.8,535.0 1017.2,535.0 1015.4,475.0" fill="url(#g1_6)" fill-opacity="0.42" style="mix-blend-mode:lighten"/><polygon points="1014.7,475.0 1013.7,535.0 1016.3,535.0 1015.3,475.0" fill="url(#g1_6)" fill-opacity="0.72" style="mix-blend-mode:lighten"/><polygon points="1014.7,475.0 1014.3,535.0 1015.7,535.0 1015.3,475.0" fill="url(#g1_6)" style="mix-blend-mode:lighten"/><polygon points="1019.4,372.0 1019.0,460.0 1018.5,495.0 1016.0,535.0 1023.6,535.0 1021.1,495.0 1020.6,460.0 1020.2,372.0" fill="url(#g1_7)" fill-opacity="0.42" style="mix-blend-mode:lighten"/><polygon points="1019.5,372.0 1019.3,460.0 1019.0,495.0 1017.5,535.0 1022.1,535.0 1020.6,495.0 1020.3,460.0 1020.1,372.0" fill="url(#g1_7)" fill-opacity="0.72" style="mix-blend-mode:lighten"/><polygon points="1019.5,372.0 1019.5,460.0 1019.4,495.0 1018.7,535.0 1020.9,535.0 1020.2,495.0 1020.1,460.0 1020.1,372.0" fill="url(#g1_7)" style="mix-blend-mode:lighten"/><polygon points="1047.9,330.0 1047.0,425.0 1049.6,425.0 1048.7,330.0" fill="url(#g1_8)" fill-opacity="0.42" style="mix-blend-mode:lighten"/><polygon points="1048.0,330.0 1047.5,425.0 1049.1,425.0 1048.6,330.0" fill="url(#g1_8)" fill-opacity="0.72" style="mix-blend-mode:lighten"/><polygon points="1048.0,330.0 1047.9,425.0 1048.7,425.0 1048.6,330.0" fill="url(#g1_8)" style="mix-blend-mode:lighten"/><polygon points="1053.6,470.0 1052.1,535.0 1055.9,535.0 1054.4,470.0" fill="url(#g1_9)" fill-opacity="0.42" style="mix-blend-mode:lighten"/><polygon points="1053.7,470.0 1052.8,535.0 1055.2,535.0 1054.3,470.0" fill="url(#g1_9)" fill-opacity="0.72" style="mix-blend-mode:lighten"/><polygon points="1053.7,470.0 1053.4,535.0 1054.6,535.0 1054.3,470.0" fill="url(#g1_9)" style="mix-blend-mode:lighten"/><polygon points="1060.9,330.0 1059.9,535.0 1062.7,535.0 1061.7,330.0" fill="url(#g1_10)" fill-opacity="0.42" style="mix-blend-mode:lighten"/><polygon points="1061.0,330.0 1060.4,535.0 1062.2,535.0 1061.6,330.0" fill="url(#g1_10)" fill-opacity="0.72" style="mix-blend-mode:lighten"/><polygon points="1061.0,330.0 1060.9,535.0 1061.7,535.0 1061.6,330.0" fill="url(#g1_10)" style="mix-blend-mode:lighten"/><polygon points="1073.6,450.0 1072.1,535.0 1075.9,535.0 1074.4,450.0" fill="url(#g1_11)" fill-opacity="0.42" style="mix-blend-mode:lighten"/><polygon points="1073.7,450.0 1072.8,535.0 1075.2,535.0 1074.3,450.0" fill="url(#g1_11)" fill-opacity="0.72" style="mix-blend-mode:lighten"/><polygon points="1073.7,450.0 1073.4,535.0 1074.6,535.0 1074.3,450.0" fill="url(#g1_11)" style="mix-blend-mode:lighten"/><polygon points="1077.9,357.0 1076.9,385.0 1076.3,415.0 1076.6,440.0 1077.5,466.0 1077.8,480.0 1078.8,480.0 1079.1,466.0 1080.0,440.0 1080.3,415.0 1079.7,385.0 1078.7,357.0" fill="url(#g1_12)" fill-opacity="0.42" style="mix-blend-mode:lighten"/><polygon points="1078.0,357.0 1077.5,385.0 1077.1,415.0 1077.3,440.0 1077.8,466.0 1078.0,480.0 1078.6,480.0 1078.8,466.0 1079.3,440.0 1079.5,415.0 1079.1,385.0 1078.6,357.0" fill="url(#g1_12)" fill-opacity="0.72" style="mix-blend-mode:lighten"/><polygon points="1078.0,357.0 1077.9,385.0 1077.7,415.0 1077.8,440.0 1078.0,466.0 1078.0,480.0 1078.6,480.0 1078.6,466.0 1078.8,440.0 1078.9,415.0 1078.7,385.0 1078.6,357.0" fill="url(#g1_12)" style="mix-blend-mode:lighten"/><polygon points="1080.6,365.0 1080.6,420.0 1082.7,535.0 1085.3,535.0 1083.4,420.0 1081.4,365.0" fill="url(#g1_13)" fill-opacity="0.42" style="mix-blend-mode:lighten"/><polygon points="1080.7,365.0 1081.1,420.0 1083.2,535.0 1084.8,535.0 1082.8,420.0 1081.3,365.0" fill="url(#g1_13)" fill-opacity="0.72" style="mix-blend-mode:lighten"/><polygon points="1080.7,365.0 1081.6,420.0 1083.6,535.0 1084.4,535.0 1082.4,420.0 1081.3,365.0" fill="url(#g1_13)" style="mix-blend-mode:lighten"/><polygon points="1085.1,352.0 1084.1,390.0 1083.7,420.0 1084.0,445.0 1084.2,490.0 1084.1,535.0 1086.9,535.0 1086.8,490.0 1087.0,445.0 1087.3,420.0 1086.9,390.0 1085.9,352.0" fill="url(#g1_14)" fill-opacity="0.42" style="mix-blend-mode:lighten"/><polygon points="1085.2,352.0 1084.7,390.0 1084.4,420.0 1084.6,445.0 1084.7,490.0 1084.7,535.0 1086.3,535.0 1086.3,490.0 1086.4,445.0 1086.6,420.0 1086.3,390.0 1085.8,352.0" fill="url(#g1_14)" fill-opacity="0.72" style="mix-blend-mode:lighten"/><polygon points="1085.2,352.0 1085.1,390.0 1085.0,420.0 1085.0,445.0 1085.1,490.0 1085.1,535.0 1085.9,535.0 1085.9,490.0 1086.0,445.0 1086.0,420.0 1085.9,390.0 1085.8,352.0" fill="url(#g1_14)" style="mix-blend-mode:lighten"/><polygon points="1083.4,450.0 1081.9,535.0 1085.7,535.0 1084.2,450.0" fill="url(#g1_15)" fill-opacity="0.42" style="mix-blend-mode:lighten"/><polygon points="1083.5,450.0 1082.6,535.0 1085.0,535.0 1084.1,450.0" fill="url(#g1_15)" fill-opacity="0.72" style="mix-blend-mode:lighten"/><polygon points="1083.5,450.0 1083.2,535.0 1084.4,535.0 1084.1,450.0" fill="url(#g1_15)" style="mix-blend-mode:lighten"/><polygon points="1090.2,500.0 1088.8,535.0 1092.4,535.0 1091.0,500.0" fill="url(#g1_16)" fill-opacity="0.42" style="mix-blend-mode:lighten"/><polygon points="1090.3,500.0 1089.5,535.0 1091.7,535.0 1090.9,500.0" fill="url(#g1_16)" fill-opacity="0.72" style="mix-blend-mode:lighten"/><polygon points="1090.3,500.0 1090.1,535.0 1091.1,535.0 1090.9,500.0" fill="url(#g1_16)" style="mix-blend-mode:lighten"/><polygon points="1096.8,495.0 1095.4,535.0 1099.0,535.0 1097.6,495.0" fill="url(#g1_17)" fill-opacity="0.42" style="mix-blend-mode:lighten"/><polygon points="1096.9,495.0 1096.1,535.0 1098.3,535.0 1097.5,495.0" fill="url(#g1_17)" fill-opacity="0.72" style="mix-blend-mode:lighten"/><polygon points="1096.9,495.0 1096.7,535.0 1097.7,535.0 1097.5,495.0" fill="url(#g1_17)" style="mix-blend-mode:lighten"/><polygon points="1100.5,392.0 1099.0,535.0 1102.8,535.0 1101.3,392.0" fill="url(#g1_18)" fill-opacity="0.42" style="mix-blend-mode:lighten"/><polygon points="1100.6,392.0 1099.7,535.0 1102.1,535.0 1101.2,392.0" fill="url(#g1_18)" fill-opacity="0.72" style="mix-blend-mode:lighten"/><polygon points="1100.6,392.0 1100.3,535.0 1101.5,535.0 1101.2,392.0" fill="url(#g1_18)" style="mix-blend-mode:lighten"/><polygon points="1153.0,330.0 1152.1,488.0 1154.7,488.0 1153.8,330.0" fill="url(#g1_19)" fill-opacity="0.42" style="mix-blend-mode:lighten"/><polygon points="1153.1,330.0 1152.6,488.0 1154.2,488.0 1153.7,330.0" fill="url(#g1_19)" fill-opacity="0.72" style="mix-blend-mode:lighten"/><polygon points="1153.1,330.0 1153.0,488.0 1153.8,488.0 1153.7,330.0" fill="url(#g1_19)" style="mix-blend-mode:lighten"/><polygon points="1161.8,445.0 1160.4,535.0 1164.0,535.0 1162.6,445.0" fill="url(#g1_20)" fill-opacity="0.42" style="mix-blend-mode:lighten"/><polygon points="1161.9,445.0 1161.1,535.0 1163.3,535.0 1162.5,445.0" fill="url(#g1_20)" fill-opacity="0.72" style="mix-blend-mode:lighten"/><polygon points="1161.9,445.0 1161.7,535.0 1162.7,535.0 1162.5,445.0" fill="url(#g1_20)" style="mix-blend-mode:lighten"/><polygon points="1198.5,330.0 1197.6,516.0 1200.2,516.0 1199.3,330.0" fill="url(#g1_21)" fill-opacity="0.42" style="mix-blend-mode:lighten"/><polygon points="1198.6,330.0 1198.1,516.0 1199.7,516.0 1199.2,330.0" fill="url(#g1_21)" fill-opacity="0.72" style="mix-blend-mode:lighten"/><polygon points="1198.6,330.0 1198.5,516.0 1199.3,516.0 1199.2,330.0" fill="url(#g1_21)" style="mix-blend-mode:lighten"/><polygon points="1202.6,330.0 1201.7,389.0 1204.3,389.0 1203.4,330.0" fill="url(#g1_22)" fill-opacity="0.42" style="mix-blend-mode:lighten"/><polygon points="1202.7,330.0 1202.2,389.0 1203.8,389.0 1203.3,330.0" fill="url(#g1_22)" fill-opacity="0.72" style="mix-blend-mode:lighten"/><polygon points="1202.7,330.0 1202.6,389.0 1203.4,389.0 1203.3,330.0" fill="url(#g1_22)" style="mix-blend-mode:lighten"/><polygon points="1266.2,475.0 1264.7,535.0 1268.5,535.0 1267.0,475.0" fill="url(#g1_23)" fill-opacity="0.42" style="mix-blend-mode:lighten"/><polygon points="1266.3,475.0 1265.4,535.0 1267.8,535.0 1266.9,475.0" fill="url(#g1_23)" fill-opacity="0.72" style="mix-blend-mode:lighten"/><polygon points="1266.3,475.0 1266.0,535.0 1267.2,535.0 1266.9,475.0" fill="url(#g1_23)" style="mix-blend-mode:lighten"/><polygon points="1293.8,330.0 1292.9,500.0 1295.5,500.0 1294.6,330.0" fill="url(#g1_24)" fill-opacity="0.42" style="mix-blend-mode:lighten"/><polygon points="1293.9,330.0 1293.4,500.0 1295.0,500.0 1294.5,330.0" fill="url(#g1_24)" fill-opacity="0.72" style="mix-blend-mode:lighten"/><polygon points="1293.9,330.0 1293.8,500.0 1294.6,500.0 1294.5,330.0" fill="url(#g1_24)" style="mix-blend-mode:lighten"/><polygon points="1309.0,330.0 1308.1,535.0 1310.7,535.0 1309.8,330.0" fill="url(#g1_25)" fill-opacity="0.42" style="mix-blend-mode:lighten"/><polygon points="1309.1,330.0 1308.6,535.0 1310.2,535.0 1309.7,330.0" fill="url(#g1_25)" fill-opacity="0.72" style="mix-blend-mode:lighten"/><polygon points="1309.1,330.0 1309.0,535.0 1309.8,535.0 1309.7,330.0" fill="url(#g1_25)" style="mix-blend-mode:lighten"/><polygon points="1335.0,480.0 1333.5,535.0 1337.3,535.0 1335.8,480.0" fill="url(#g1_26)" fill-opacity="0.42" style="mix-blend-mode:lighten"/><polygon points="1335.1,480.0 1334.2,535.0 1336.6,535.0 1335.7,480.0" fill="url(#g1_26)" fill-opacity="0.72" style="mix-blend-mode:lighten"/><polygon points="1335.1,480.0 1334.8,535.0 1336.0,535.0 1335.7,480.0" fill="url(#g1_26)" style="mix-blend-mode:lighten"/><polygon points="1348.5,500.0 1347.1,535.0 1350.7,535.0 1349.3,500.0" fill="url(#g1_27)" fill-opacity="0.42" style="mix-blend-mode:lighten"/><polygon points="1348.6,500.0 1347.8,535.0 1350.0,535.0 1349.2,500.0" fill="url(#g1_27)" fill-opacity="0.72" style="mix-blend-mode:lighten"/><polygon points="1348.6,500.0 1348.4,535.0 1349.4,535.0 1349.2,500.0" fill="url(#g1_27)" style="mix-blend-mode:lighten"/><polygon points="1360.2,352.0 1360.0,400.0 1358.6,535.0 1362.6,535.0 1361.2,400.0 1361.0,352.0" fill="url(#g1_28)" fill-opacity="0.42" style="mix-blend-mode:lighten"/><polygon points="1360.3,352.0 1360.2,400.0 1359.4,535.0 1361.8,535.0 1361.0,400.0 1360.9,352.0" fill="url(#g1_28)" fill-opacity="0.72" style="mix-blend-mode:lighten"/><polygon points="1360.3,352.0 1360.3,400.0 1360.0,535.0 1361.2,535.0 1360.9,400.0 1360.9,352.0" fill="url(#g1_28)" style="mix-blend-mode:lighten"/><polygon points="1366.8,365.0 1366.4,420.0 1365.9,455.0 1365.7,500.0 1365.3,535.0 1369.1,535.0 1368.7,500.0 1368.5,455.0 1368.0,420.0 1367.6,365.0" fill="url(#g1_29)" fill-opacity="0.42" style="mix-blend-mode:lighten"/><polygon points="1366.9,365.0 1366.7,420.0 1366.4,455.0 1366.3,500.0 1366.1,535.0 1368.3,535.0 1368.1,500.0 1368.0,455.0 1367.7,420.0 1367.5,365.0" fill="url(#g1_29)" fill-opacity="0.72" style="mix-blend-mode:lighten"/><polygon points="1366.9,365.0 1366.9,420.0 1366.8,455.0 1366.8,500.0 1366.6,535.0 1367.8,535.0 1367.7,500.0 1367.6,455.0 1367.5,420.0 1367.5,365.0" fill="url(#g1_29)" style="mix-blend-mode:lighten"/><polygon points="1375.4,440.0 1373.7,535.0 1377.9,535.0 1376.2,440.0" fill="url(#g1_30)" fill-opacity="0.42" style="mix-blend-mode:lighten"/><polygon points="1375.5,440.0 1374.6,535.0 1377.0,535.0 1376.1,440.0" fill="url(#g1_30)" fill-opacity="0.72" style="mix-blend-mode:lighten"/><polygon points="1375.5,440.0 1375.2,535.0 1376.4,535.0 1376.1,440.0" fill="url(#g1_30)" style="mix-blend-mode:lighten"/><polygon points="1379.1,465.0 1377.4,535.0 1381.6,535.0 1379.9,465.0" fill="url(#g1_31)" fill-opacity="0.42" style="mix-blend-mode:lighten"/><polygon points="1379.2,465.0 1378.3,535.0 1380.7,535.0 1379.8,465.0" fill="url(#g1_31)" fill-opacity="0.72" style="mix-blend-mode:lighten"/><polygon points="1379.2,465.0 1378.9,535.0 1380.1,535.0 1379.8,465.0" fill="url(#g1_31)" style="mix-blend-mode:lighten"/><polygon points="1384.6,455.0 1383.2,514.0 1386.8,514.0 1385.4,455.0" fill="url(#g1_32)" fill-opacity="0.42" style="mix-blend-mode:lighten"/><polygon points="1384.7,455.0 1383.9,514.0 1386.1,514.0 1385.3,455.0" fill="url(#g1_32)" fill-opacity="0.72" style="mix-blend-mode:lighten"/><polygon points="1384.7,455.0 1384.5,514.0 1385.5,514.0 1385.3,455.0" fill="url(#g1_32)" style="mix-blend-mode:lighten"/><polygon points="1388.1,485.0 1386.7,535.0 1390.3,535.0 1388.9,485.0" fill="url(#g1_33)" fill-opacity="0.42" style="mix-blend-mode:lighten"/><polygon points="1388.2,485.0 1387.4,535.0 1389.6,535.0 1388.8,485.0" fill="url(#g1_33)" fill-opacity="0.72" style="mix-blend-mode:lighten"/><polygon points="1388.2,485.0 1388.0,535.0 1389.0,535.0 1388.8,485.0" fill="url(#g1_33)" style="mix-blend-mode:lighten"/><polygon points="1393.7,431.0 1392.3,499.0 1395.9,499.0 1394.5,431.0" fill="url(#g1_34)" fill-opacity="0.42" style="mix-blend-mode:lighten"/><polygon points="1393.8,431.0 1393.0,499.0 1395.2,499.0 1394.4,431.0" fill="url(#g1_34)" fill-opacity="0.72" style="mix-blend-mode:lighten"/><polygon points="1393.8,431.0 1393.6,499.0 1394.6,499.0 1394.4,431.0" fill="url(#g1_34)" style="mix-blend-mode:lighten"/><polygon points="1404.7,470.0 1403.5,514.0 1406.7,514.0 1405.5,470.0" fill="url(#g1_35)" fill-opacity="0.42" style="mix-blend-mode:lighten"/><polygon points="1404.8,470.0 1404.1,514.0 1406.1,514.0 1405.4,470.0" fill="url(#g1_35)" fill-opacity="0.72" style="mix-blend-mode:lighten"/><polygon points="1404.8,470.0 1404.6,514.0 1405.6,514.0 1405.4,470.0" fill="url(#g1_35)" style="mix-blend-mode:lighten"/><polygon points="1422.3,443.0 1421.1,514.0 1424.3,514.0 1423.1,443.0" fill="url(#g1_36)" fill-opacity="0.42" style="mix-blend-mode:lighten"/><polygon points="1422.4,443.0 1421.7,514.0 1423.7,514.0 1423.0,443.0" fill="url(#g1_36)" fill-opacity="0.72" style="mix-blend-mode:lighten"/><polygon points="1422.4,443.0 1422.2,514.0 1423.2,514.0 1423.0,443.0" fill="url(#g1_36)" style="mix-blend-mode:lighten"/></g></g>
<text x="836.50" y="549.10" font-size="12" text-anchor="middle" fill="#262626">00:00</text>
<text x="911.88" y="549.10" font-size="12" text-anchor="middle" fill="#262626">03:00</text>
<text x="987.25" y="549.10" font-size="12" text-anchor="middle" fill="#262626">06:00</text>
<text x="1062.62" y="549.10" font-size="12" text-anchor="middle" fill="#262626">09:00</text>
<text x="1138.00" y="549.10" font-size="12" text-anchor="middle" fill="#262626">12:00</text>
<text x="1213.38" y="549.10" font-size="12" text-anchor="middle" fill="#262626">15:00</text>
<text x="1288.75" y="549.10" font-size="12" text-anchor="middle" fill="#262626">18:00</text>
<text x="1364.12" y="549.10" font-size="12" text-anchor="middle" fill="#262626">21:00</text>
<text x="1439.50" y="549.10" font-size="12" text-anchor="middle" fill="#262626">00:00</text>
<text x="833.00" y="536.20" font-size="12" text-anchor="end" fill="#262626">7</text>
<text x="833.00" y="512.75" font-size="12" text-anchor="end" fill="#262626">8</text>
<text x="833.00" y="492.07" font-size="12" text-anchor="end" fill="#262626">9</text>
<text x="833.00" y="473.57" font-size="12" text-anchor="end" fill="#262626">10</text>
<text x="833.00" y="441.55" font-size="12" text-anchor="end" fill="#262626">12</text>
<text x="833.00" y="414.48" font-size="12" text-anchor="end" fill="#262626">14</text>
<text x="833.00" y="391.03" font-size="12" text-anchor="end" fill="#262626">16</text>
<text x="833.00" y="370.35" font-size="12" text-anchor="end" fill="#262626">18</text>
<text x="833.00" y="351.85" font-size="12" text-anchor="end" fill="#262626">20</text>
<text x="833.00" y="335.11" font-size="12" text-anchor="end" fill="#262626">22</text>
<path d="M836.50 534.50V528.50M836.50 330.50V336.50M911.88 534.50V528.50M911.88 330.50V336.50M987.25 534.50V528.50M987.25 330.50V336.50M1062.62 534.50V528.50M1062.62 330.50V336.50M1138.00 534.50V528.50M1138.00 330.50V336.50M1213.38 534.50V528.50M1213.38 330.50V336.50M1288.75 534.50V528.50M1288.75 330.50V336.50M1364.12 534.50V528.50M1364.12 330.50V336.50M1439.50 534.50V528.50M1439.50 330.50V336.50M836.50 532.00H842.50M1439.50 532.00H1433.50M836.50 508.55H842.50M1439.50 508.55H1433.50M836.50 487.87H842.50M1439.50 487.87H1433.50M836.50 469.37H842.50M1439.50 469.37H1433.50M836.50 437.35H842.50M1439.50 437.35H1433.50M836.50 410.28H842.50M1439.50 410.28H1433.50M836.50 386.83H842.50M1439.50 386.83H1433.50M836.50 366.15H842.50M1439.50 366.15H1433.50M836.50 347.65H842.50M1439.50 347.65H1433.50M836.50 330.91H842.50M1439.50 330.91H1433.50" stroke="#202050" stroke-width="1" fill="none" opacity="0.6"/>
<rect x="836.50" y="330.50" width="603.00" height="204.00" fill="none" stroke="#303060" stroke-width="1"/>
<text x="809.80" y="432.50" font-size="12" text-anchor="middle" font-weight="bold" transform="rotate(-90 809.8 432.5)" fill="#000">freq (mHz)</text>
<rect x="1458.30" y="330.00" width="25.40" height="205.00" fill="url(#cbg)"/>
<text x="1487.00" y="538.70" font-size="12" text-anchor="start" fill="#262626">-2</text>
<text x="1487.00" y="504.70" font-size="12" text-anchor="start" fill="#262626">-1</text>
<text x="1487.00" y="470.70" font-size="12" text-anchor="start" fill="#262626">0</text>
<text x="1487.00" y="436.70" font-size="12" text-anchor="start" fill="#262626">1</text>
<text x="1487.00" y="402.70" font-size="12" text-anchor="start" fill="#262626">2</text>
<text x="1487.00" y="368.70" font-size="12" text-anchor="start" fill="#262626">3</text>
<text x="1487.00" y="334.70" font-size="12" text-anchor="start" fill="#262626">4</text>
<path d="M1458.30 534.50H1460.80M1483.70 534.50H1481.20M1458.30 500.50H1460.80M1483.70 500.50H1481.20M1458.30 466.50H1460.80M1483.70 466.50H1481.20M1458.30 432.50H1460.80M1483.70 432.50H1481.20M1458.30 398.50H1460.80M1483.70 398.50H1481.20M1458.30 364.50H1460.80M1483.70 364.50H1481.20M1458.30 330.50H1460.80M1483.70 330.50H1481.20" stroke="#444" stroke-width="1" fill="none" opacity="0.7"/>
<rect x="1458.30" y="330.50" width="25.40" height="204.00" fill="none" stroke="#555" stroke-width="1"/>
<text transform="translate(1519.6 433.30) rotate(-90)" font-size="12" font-weight="bold" text-anchor="middle" fill="#000">log<tspan font-size="10" dy="4">2</tspan><tspan dy="-4">(nT</tspan><tspan font-size="10" dy="-6">2</tspan><tspan dy="6">/Hz)</tspan></text>
<text x="42.70" y="832.60" font-size="12" text-anchor="middle" fill="#262626">00:00</text>
<text x="118.08" y="832.60" font-size="12" text-anchor="middle" fill="#262626">03:00</text>
<text x="193.45" y="832.60" font-size="12" text-anchor="middle" fill="#262626">06:00</text>
<text x="268.82" y="832.60" font-size="12" text-anchor="middle" fill="#262626">09:00</text>
<text x="344.20" y="832.60" font-size="12" text-anchor="middle" fill="#262626">12:00</text>
<text x="419.57" y="832.60" font-size="12" text-anchor="middle" fill="#262626">15:00</text>
<text x="494.95" y="832.60" font-size="12" text-anchor="middle" fill="#262626">18:00</text>
<text x="570.33" y="832.60" font-size="12" text-anchor="middle" fill="#262626">21:00</text>
<text x="645.70" y="832.60" font-size="12" text-anchor="middle" fill="#262626">00:00</text>
<text x="39.20" y="821.70" font-size="12" text-anchor="end" fill="#262626">-1</text>
<text x="39.20" y="753.70" font-size="12" text-anchor="end" fill="#262626">-0.5</text>
<text x="39.20" y="685.70" font-size="12" text-anchor="end" fill="#262626">0</text>
<text x="39.20" y="617.70" font-size="12" text-anchor="end" fill="#262626">0.5</text>
<path d="M42.70 818.00V812.00M42.70 614.00V620.00M118.08 818.00V812.00M118.08 614.00V620.00M193.45 818.00V812.00M193.45 614.00V620.00M268.82 818.00V812.00M268.82 614.00V620.00M344.20 818.00V812.00M344.20 614.00V620.00M419.57 818.00V812.00M419.57 614.00V620.00M494.95 818.00V812.00M494.95 614.00V620.00M570.33 818.00V812.00M570.33 614.00V620.00M645.70 818.00V812.00M645.70 614.00V620.00M42.70 817.50H48.70M645.70 817.50H639.70M42.70 749.50H48.70M645.70 749.50H639.70M42.70 681.50H48.70M645.70 681.50H639.70M42.70 613.50H48.70M645.70 613.50H639.70" stroke="#a8a8a8" stroke-width="1" fill="none"/>
<rect x="42.70" y="614.00" width="603.00" height="204.00" fill="none" stroke="#a8a8a8" stroke-width="1"/>
<g clip-path="url(#clipL2)"><path d="M42.8 684.0 L43.0 680.9 L43.1 683.7 L43.3 680.1 L43.5 685.9 L43.6 680.0 L43.8 683.4 L44.0 674.1 L44.1 683.3 L44.3 678.6 L44.5 681.8 L44.6 680.1 L44.8 682.7 L45.0 681.4 L45.1 686.3 L45.3 679.6 L45.5 682.5 L45.6 681.0 L45.8 684.4 L46.0 679.9 L46.1 694.0 L46.3 677.6 L46.5 681.7 L46.6 680.3 L46.8 685.6 L47.0 678.3 L47.1 682.3 L47.3 681.0 L47.5 682.6 L47.6 677.8 L47.8 683.4 L48.0 680.8 L48.1 682.4 L48.3 680.2 L48.5 685.0 L48.6 680.1 L48.8 684.2 L49.0 680.1 L49.1 682.5 L49.3 679.2 L49.5 684.0 L49.6 678.5 L49.8 681.7 L50.0 680.7 L50.1 684.5 L50.3 677.5 L50.5 687.8 L50.6 677.4 L50.8 686.2 L51.0 680.4 L51.1 682.3 L51.3 677.4 L51.5 683.5 L51.6 681.3 L51.8 682.2 L52.0 679.4 L52.1 682.7 L52.3 678.0 L52.5 681.7 L52.6 681.1 L52.8 685.6 L53.0 676.7 L53.1 683.5 L53.3 677.1 L53.5 682.7 L53.6 681.6 L53.8 682.7 L54.0 680.9 L54.1 682.7 L54.3 678.5 L54.5 686.3 L54.6 675.9 L54.8 685.3 L55.0 680.1 L55.1 685.1 L55.3 673.3 L55.5 683.5 L55.6 681.2 L55.8 683.3 L56.0 674.9 L56.1 682.3 L56.3 679.8 L56.5 686.6 L56.6 681.1 L56.8 682.2 L57.0 680.1 L57.1 682.1 L57.3 680.1 L57.5 685.9 L57.6 680.5 L57.8 686.7 L58.0 679.1 L58.1 683.6 L58.3 680.3 L58.5 686.5 L58.6 680.3 L58.8 685.8 L59.0 680.2 L59.1 684.4 L59.3 680.4 L59.5 682.8 L59.6 680.0 L59.8 684.1 L60.0 679.9 L60.1 683.0 L60.3 679.8 L60.5 683.9 L60.6 678.9 L60.8 683.3 L61.0 679.5 L61.1 683.3 L61.3 678.2 L61.5 681.8 L61.6 678.5 L61.8 682.9 L62.0 678.4 L62.1 687.3 L62.3 680.6 L62.5 689.9 L62.6 681.4 L62.8 687.5 L63.0 677.5 L63.1 684.9 L63.3 677.6 L63.5 681.9 L63.6 678.6 L63.8 682.0 L64.0 681.6 L64.1 683.1 L64.3 680.7 L64.5 683.4 L64.6 678.0 L64.8 683.0 L65.0 680.6 L65.1 682.2 L65.3 680.7 L65.5 682.2 L65.6 680.4 L65.8 683.0 L66.0 680.8 L66.1 683.6 L66.3 680.9 L66.5 686.2 L66.6 680.7 L66.8 686.6 L67.0 679.9 L67.1 688.3 L67.3 676.6 L67.5 686.0 L67.6 672.3 L67.8 684.2 L68.0 676.3 L68.1 685.0 L68.3 678.1 L68.5 689.6 L68.6 677.4 L68.8 686.3 L69.0 678.2 L69.1 684.0 L69.3 677.7 L69.5 684.9 L69.6 678.7 L69.8 686.9 L70.0 681.7 L70.1 683.1 L70.3 676.2 L70.5 686.6 L70.6 676.9 L70.8 682.4 L71.0 678.1 L71.1 686.1 L71.3 677.4 L71.5 684.6 L71.6 681.0 L71.8 690.3 L72.0 676.9 L72.1 687.1 L72.3 681.3 L72.5 685.3 L72.6 679.8 L72.8 682.4 L73.0 680.4 L73.1 684.0 L73.3 680.6 L73.5 682.5 L73.6 677.4 L73.8 683.2 L74.0 674.5 L74.1 687.5 L74.3 681.6 L74.5 682.3 L74.6 675.6 L74.8 688.2 L75.0 676.2 L75.1 682.7 L75.3 678.9 L75.5 686.3 L75.6 681.5 L75.8 682.8 L76.0 679.4 L76.1 683.6 L76.3 680.8 L76.5 683.0 L76.6 680.0 L76.8 684.5 L77.0 677.5 L77.1 682.4 L77.3 681.3 L77.5 682.7 L77.6 675.7 L77.8 683.5 L78.0 675.4 L78.1 684.4 L78.3 677.6 L78.5 683.2 L78.6 675.7 L78.8 682.5 L79.0 677.8 L79.1 683.3 L79.3 679.1 L79.5 690.1 L79.6 680.3 L79.8 683.9 L80.0 676.9 L80.1 684.4 L80.3 680.3 L80.5 684.1 L80.6 680.3 L80.8 682.7 L81.0 676.1 L81.1 684.9 L81.3 681.2 L81.5 686.1 L81.6 676.7 L81.8 685.0 L82.0 681.2 L82.1 685.1 L82.3 681.5 L82.5 682.5 L82.6 678.1 L82.8 683.2 L83.0 678.1 L83.1 682.8 L83.3 681.3 L83.5 682.8 L83.6 679.1 L83.8 682.7 L84.0 677.9 L84.1 688.6 L84.3 681.1 L84.5 684.7 L84.6 681.7 L84.8 682.7 L85.0 677.2 L85.1 686.5 L85.3 676.5 L85.5 684.6 L85.6 680.0 L85.8 681.9 L86.0 678.7 L86.1 682.4 L86.3 679.2 L86.5 681.8 L86.6 681.3 L86.8 687.8 L87.0 679.1 L87.1 682.2 L87.3 678.3 L87.5 683.2 L87.6 679.5 L87.8 682.2 L88.0 681.4 L88.1 681.8 L88.3 679.8 L88.5 682.2 L88.6 681.4 L88.8 683.9 L89.0 679.3 L89.1 683.9 L89.3 676.7 L89.5 682.1 L89.6 680.3 L89.8 681.8 L90.0 678.0 L90.1 685.6 L90.3 681.2 L90.5 684.4 L90.6 680.5 L90.8 685.7 L91.0 679.2 L91.1 685.9 L91.3 681.0 L91.5 683.0 L91.6 680.1 L91.8 682.1 L92.0 677.4 L92.1 684.5 L92.3 680.2 L92.5 682.7 L92.6 680.2 L92.8 685.3 L93.0 681.3 L93.1 684.2 L93.3 680.6 L93.5 683.5 L93.6 680.4 L93.8 682.6 L94.0 675.8 L94.1 684.6 L94.3 680.8 L94.5 683.3 L94.6 678.9 L94.8 683.6 L95.0 675.8 L95.1 684.1 L95.3 677.9 L95.5 684.5 L95.6 676.8 L95.8 686.9 L96.0 681.3 L96.1 684.0 L96.3 681.3 L96.5 682.6 L96.6 681.0 L96.8 682.2 L97.0 680.8 L97.1 682.4 L97.3 678.9 L97.5 683.1 L97.6 680.7 L97.8 683.7 L98.0 681.2 L98.1 683.1 L98.3 680.1 L98.5 685.4 L98.6 680.1 L98.8 685.4 L99.0 680.4 L99.1 683.7 L99.3 679.9 L99.5 687.2 L99.6 681.1 L99.8 683.8 L100.0 679.9 L100.1 683.4 L100.3 677.9 L100.5 682.1 L100.6 679.9 L100.8 681.8 L101.0 676.1 L101.1 685.7 L101.3 679.8 L101.5 685.7 L101.6 678.8 L101.8 685.4 L102.0 680.2 L102.1 686.9 L102.3 675.1 L102.5 681.7 L102.6 677.5 L102.8 684.8 L103.0 681.3 L103.1 681.9 L103.3 679.6 L103.5 685.7 L103.6 680.8 L103.8 686.7 L104.0 680.5 L104.1 684.4 L104.3 680.4 L104.5 683.3 L104.6 674.0 L104.8 689.1 L105.0 678.4 L105.1 681.9 L105.3 680.6 L105.5 687.8 L105.6 675.3 L105.8 685.4 L106.0 679.5 L106.1 683.3 L106.3 678.1 L106.5 687.3 L106.6 678.2 L106.8 685.9 L107.0 678.0 L107.1 685.6 L107.3 677.7 L107.5 685.4 L107.6 676.0 L107.8 688.5 L108.0 679.1 L108.1 684.9 L108.3 681.0 L108.5 687.1 L108.6 679.2 L108.8 684.1 L109.0 676.6 L109.1 682.3 L109.3 681.5 L109.5 682.0 L109.6 678.5 L109.8 682.9 L110.0 678.5 L110.1 685.4 L110.3 678.4 L110.5 682.8 L110.6 678.7 L110.8 684.9 L111.0 680.7 L111.1 683.5 L111.3 679.0 L111.5 681.8 L111.6 679.8 L111.8 685.9 L112.0 676.6 L112.1 683.8 L112.3 676.3 L112.5 684.1 L112.6 674.6 L112.8 682.4 L113.0 680.5 L113.1 686.4 L113.3 680.4 L113.5 684.1 L113.6 680.5 L113.8 685.5 L114.0 678.5 L114.1 682.4 L114.3 681.0 L114.5 685.9 L114.6 679.6 L114.8 683.2 L115.0 675.5 L115.1 682.0 L115.3 679.2 L115.5 684.1 L115.6 679.8 L115.8 684.6 L116.0 679.7 L116.1 682.0 L116.3 679.8 L116.5 683.3 L116.6 681.4 L116.8 683.0 L117.0 680.9 L117.1 683.6 L117.3 679.4 L117.5 685.3 L117.6 678.2 L117.8 682.2 L118.0 679.1 L118.1 683.3 L118.3 678.5 L118.5 684.8 L118.6 678.8 L118.8 681.9 L119.0 678.3 L119.1 685.0 L119.3 677.4 L119.5 682.7 L119.6 678.9 L119.8 683.4 L120.0 679.5 L120.1 683.9 L120.3 681.6 L120.5 684.2 L120.6 677.6 L120.8 683.9 L121.0 678.3 L121.1 685.6 L121.3 681.5 L121.5 688.1 L121.6 679.6 L121.8 688.5 L122.0 680.0 L122.1 684.8 L122.3 677.4 L122.5 683.5 L122.6 675.6 L122.8 687.7 L123.0 677.0 L123.1 683.2 L123.3 681.1 L123.5 683.5 L123.6 675.1 L123.8 683.5 L124.0 678.7 L124.1 683.4 L124.3 677.2 L124.5 682.1 L124.6 678.2 L124.8 684.9 L125.0 679.4 L125.1 685.2 L125.3 675.6 L125.5 683.3 L125.6 679.7 L125.8 685.3 L126.0 676.2 L126.1 684.6 L126.3 678.6 L126.5 684.0 L126.6 680.9 L126.8 683.1 L127.0 679.5 L127.1 685.3 L127.3 680.1 L127.5 682.6 L127.6 681.3 L127.8 684.1 L128.0 679.8 L128.1 683.0 L128.3 681.4 L128.4 683.2 L128.6 678.5 L128.8 686.1 L128.9 678.7 L129.1 686.5 L129.3 678.9 L129.4 682.1 L129.6 679.1 L129.8 687.0 L129.9 680.4 L130.1 682.5 L130.3 676.1 L130.4 682.4 L130.6 677.5 L130.8 685.8 L130.9 679.1 L131.1 682.2 L131.3 679.8 L131.4 683.5 L131.6 679.2 L131.8 683.2 L131.9 679.2 L132.1 682.0 L132.3 678.1 L132.4 687.8 L132.6 680.3 L132.8 683.9 L132.9 681.2 L133.1 688.3 L133.3 680.9 L133.4 685.8 L133.6 677.6 L133.8 683.8 L133.9 680.7 L134.1 689.0 L134.3 679.0 L134.4 682.2 L134.6 679.7 L134.8 683.2 L134.9 676.4 L135.1 688.3 L135.3 681.5 L135.4 682.8 L135.6 681.2 L135.8 686.9 L135.9 681.3 L136.1 683.5 L136.3 680.2 L136.4 687.7 L136.6 680.5 L136.8 686.8 L136.9 680.6 L137.1 682.9 L137.3 679.1 L137.4 683.7 L137.6 679.1 L137.8 682.8 L137.9 681.0 L138.1 682.8 L138.3 677.0 L138.4 684.5 L138.6 679.0 L138.8 689.2 L138.9 674.8 L139.1 682.0 L139.3 675.3 L139.4 687.6 L139.6 679.3 L139.8 681.9 L139.9 678.8 L140.1 684.5 L140.3 679.2 L140.4 682.2 L140.6 679.6 L140.8 689.1 L140.9 680.8 L141.1 684.2 L141.3 675.7 L141.4 683.3 L141.6 681.6 L141.8 688.0 L141.9 679.8 L142.1 682.8 L142.3 681.5 L142.4 681.8 L142.6 676.8 L142.8 685.6 L142.9 679.7 L143.1 683.2 L143.3 678.7 L143.4 691.4 L143.6 677.6 L143.8 682.0 L143.9 681.3 L144.1 686.1 L144.3 675.6 L144.4 683.9 L144.6 679.5 L144.8 685.9 L144.9 681.0 L145.1 684.8 L145.3 674.1 L145.4 681.9 L145.6 679.7 L145.8 681.7 L145.9 681.4 L146.1 683.3 L146.3 680.2 L146.4 684.0 L146.6 678.9 L146.8 682.4 L146.9 681.4 L147.1 682.3 L147.3 679.4 L147.4 682.3 L147.6 679.1 L147.8 682.1 L147.9 678.7 L148.1 685.8 L148.3 675.2 L148.4 683.3 L148.6 680.3 L148.8 682.7 L148.9 678.8 L149.1 683.8 L149.3 681.5 L149.4 686.2 L149.6 676.8 L149.8 683.4 L149.9 679.1 L150.1 684.1 L150.3 678.2 L150.4 684.5 L150.6 681.1 L150.8 683.1 L150.9 679.9 L151.1 683.2 L151.3 680.1 L151.4 684.2 L151.6 679.1 L151.8 686.8 L151.9 679.3 L152.1 683.2 L152.3 677.4 L152.4 684.2 L152.6 679.2 L152.8 684.1 L152.9 676.3 L153.1 682.9 L153.3 679.4 L153.4 683.5 L153.6 679.6 L153.8 683.4 L153.9 681.2 L154.1 682.3 L154.3 676.4 L154.4 685.6 L154.6 681.4 L154.8 684.7 L154.9 681.6 L155.1 683.0 L155.3 678.4 L155.4 686.6 L155.6 679.6 L155.8 682.5 L155.9 680.3 L156.1 685.0 L156.3 679.7 L156.4 685.6 L156.6 678.1 L156.8 681.9 L156.9 677.6 L157.1 682.6 L157.3 679.7 L157.4 684.8 L157.6 680.0 L157.8 681.8 L157.9 679.8 L158.1 683.1 L158.3 676.3 L158.4 682.1 L158.6 673.3 L158.8 684.8 L158.9 678.8 L159.1 683.4 L159.3 677.0 L159.4 688.2 L159.6 679.6 L159.8 687.6 L159.9 678.0 L160.1 684.2 L160.3 675.3 L160.4 686.3 L160.6 678.3 L160.8 689.1 L160.9 678.5 L161.1 685.9 L161.3 679.4 L161.4 689.9 L161.6 679.5 L161.8 683.1 L161.9 677.3 L162.1 682.2 L162.3 678.4 L162.4 685.6 L162.6 676.0 L162.8 689.8 L162.9 677.2 L163.1 686.4 L163.3 681.4 L163.4 686.9 L163.6 680.9 L163.8 681.9 L163.9 679.0 L164.1 691.1 L164.3 678.3 L164.4 683.9 L164.6 679.1 L164.8 682.4 L164.9 674.0 L165.1 682.4 L165.3 677.0 L165.4 688.1 L165.6 679.7 L165.8 689.0 L165.9 678.4 L166.1 684.1 L166.3 677.9 L166.4 684.9 L166.6 680.9 L166.8 685.2 L166.9 679.6 L167.1 682.8 L167.3 680.1 L167.4 683.5 L167.6 676.9 L167.8 682.8 L167.9 676.3 L168.1 683.9 L168.3 677.8 L168.4 684.1 L168.6 678.2 L168.8 684.1 L168.9 681.0 L169.1 687.8 L169.3 670.3 L169.4 685.3 L169.6 677.6 L169.8 693.3 L169.9 681.1 L170.1 682.3 L170.3 680.0 L170.4 682.0 L170.6 680.7 L170.8 682.8 L170.9 677.2 L171.1 683.8 L171.3 681.4 L171.4 682.3 L171.6 676.1 L171.8 682.2 L171.9 673.9 L172.1 689.2 L172.3 672.1 L172.4 688.9 L172.6 681.4 L172.8 683.6 L172.9 678.2 L173.1 687.0 L173.3 679.0 L173.4 683.8 L173.6 681.3 L173.8 682.3 L173.9 676.9 L174.1 689.2 L174.3 680.6 L174.4 687.0 L174.6 668.7 L174.8 684.7 L174.9 677.9 L175.1 690.5 L175.3 679.5 L175.4 683.1 L175.6 680.5 L175.8 684.7 L175.9 675.8 L176.1 685.1 L176.3 680.8 L176.4 686.3 L176.6 676.8 L176.8 683.3 L176.9 675.7 L177.1 683.8 L177.3 679.4 L177.4 682.1 L177.6 674.1 L177.8 686.5 L177.9 677.2 L178.1 684.9 L178.3 678.2 L178.4 682.3 L178.6 681.4 L178.8 684.3 L178.9 679.3 L179.1 686.6 L179.3 678.0 L179.4 684.0 L179.6 679.5 L179.8 685.7 L179.9 680.6 L180.1 685.2 L180.3 680.2 L180.4 686.2 L180.6 676.4 L180.8 682.1 L180.9 679.5 L181.1 689.4 L181.3 680.0 L181.4 687.2 L181.6 678.3 L181.8 686.0 L181.9 680.7 L182.1 682.9 L182.3 678.8 L182.4 686.2 L182.6 676.4 L182.8 686.7 L182.9 680.1 L183.1 688.7 L183.3 679.5 L183.4 684.5 L183.6 670.6 L183.8 682.4 L183.9 680.3 L184.1 682.5 L184.3 680.9 L184.4 683.1 L184.6 679.8 L184.8 685.3 L184.9 677.9 L185.1 682.1 L185.3 679.9 L185.4 681.9 L185.6 681.5 L185.8 683.6 L185.9 679.8 L186.1 682.4 L186.3 675.6 L186.4 687.6 L186.6 681.6 L186.8 687.7 L186.9 679.5 L187.1 688.7 L187.3 680.7 L187.4 682.0 L187.6 681.2 L187.8 683.1 L187.9 679.9 L188.1 687.1 L188.3 679.7 L188.4 684.5 L188.6 677.3 L188.8 688.7 L188.9 676.6 L189.1 688.7 L189.3 673.9 L189.4 690.1 L189.6 680.1 L189.8 685.3 L189.9 676.1 L190.1 685.9 L190.3 680.0 L190.4 687.7 L190.6 677.7 L190.8 685.3 L190.9 678.8 L191.1 685.0 L191.3 680.3 L191.4 684.7 L191.6 673.2 L191.8 690.9 L191.9 680.5 L192.1 685.0 L192.3 680.6 L192.4 683.4 L192.6 675.4 L192.8 689.1 L192.9 681.0 L193.1 683.1 L193.3 678.9 L193.4 682.0 L193.6 679.2 L193.8 682.6 L193.9 678.9 L194.1 682.0 L194.3 679.8 L194.4 683.3 L194.6 680.9 L194.8 682.3 L194.9 679.4 L195.1 681.8 L195.3 680.0 L195.4 682.2 L195.6 677.9 L195.8 683.1 L195.9 666.3 L196.1 683.6 L196.3 681.4 L196.4 683.1 L196.6 672.6 L196.8 690.0 L196.9 675.1 L197.1 685.2 L197.3 680.6 L197.4 686.2 L197.6 680.0 L197.8 688.3 L197.9 680.1 L198.1 684.3 L198.3 674.1 L198.4 683.9 L198.6 677.7 L198.8 685.6 L198.9 680.8 L199.1 681.7 L199.3 679.3 L199.4 682.5 L199.6 681.4 L199.8 689.8 L199.9 679.4 L200.1 684.5 L200.3 672.7 L200.4 684.5 L200.6 675.7 L200.8 691.7 L200.9 679.0 L201.1 683.5 L201.3 675.8 L201.4 684.4 L201.6 680.2 L201.8 687.2 L201.9 678.5 L202.1 681.7 L202.3 675.7 L202.4 682.1 L202.6 679.8 L202.8 682.0 L202.9 681.5 L203.1 684.5 L203.3 678.9 L203.4 686.0 L203.6 676.9 L203.8 690.4 L203.9 674.1 L204.1 681.8 L204.3 681.4 L204.4 683.2 L204.6 675.6 L204.8 685.4 L204.9 675.9 L205.1 689.4 L205.3 673.6 L205.4 684.8 L205.6 678.3 L205.8 685.3 L205.9 680.8 L206.1 691.0 L206.3 673.8 L206.4 685.9 L206.6 678.1 L206.8 682.7 L206.9 679.4 L207.1 687.6 L207.3 672.5 L207.4 687.1 L207.6 679.4 L207.8 688.3 L207.9 675.9 L208.1 681.7 L208.3 678.9 L208.4 687.3 L208.6 677.0 L208.8 682.9 L208.9 680.5 L209.1 682.2 L209.3 679.3 L209.4 684.0 L209.6 678.6 L209.8 682.9 L209.9 675.6 L210.1 690.2 L210.3 675.1 L210.4 684.3 L210.6 675.3 L210.8 683.3 L210.9 676.7 L211.1 684.8 L211.3 680.5 L211.4 682.3 L211.6 677.5 L211.8 683.5 L211.9 680.9 L212.1 684.8 L212.3 680.6 L212.4 689.8 L212.6 680.2 L212.8 682.6 L212.9 681.5 L213.1 682.1 L213.3 681.6 L213.4 686.0 L213.6 679.0 L213.8 683.6 L213.9 678.1 L214.1 685.7 L214.3 679.5 L214.4 685.1 L214.6 681.2 L214.8 681.7 L214.9 680.5 L215.1 686.1 L215.3 679.4 L215.4 687.6 L215.6 675.5 L215.8 687.2 L215.9 681.6 L216.1 683.0 L216.3 680.9 L216.4 683.5 L216.6 679.8 L216.8 686.4 L216.9 678.9 L217.1 682.2 L217.3 680.5 L217.4 682.6 L217.6 677.2 L217.8 689.8 L217.9 674.8 L218.1 682.4 L218.3 679.5 L218.4 689.7 L218.6 677.6 L218.8 691.7 L218.9 679.2 L219.1 682.3 L219.3 681.2 L219.4 684.2 L219.6 681.5 L219.8 687.8 L219.9 678.7 L220.1 689.0 L220.3 674.8 L220.4 685.8 L220.6 678.2 L220.8 684.6 L220.9 675.5 L221.1 683.8 L221.3 680.5 L221.4 683.5 L221.6 678.4 L221.8 682.4 L221.9 679.4 L222.1 683.1 L222.3 677.5 L222.4 689.1 L222.6 677.9 L222.8 681.9 L222.9 680.8 L223.1 685.2 L223.3 678.3 L223.4 683.2 L223.6 672.5 L223.8 682.9 L223.9 680.8 L224.1 683.9 L224.3 671.4 L224.4 687.3 L224.6 678.7 L224.8 682.0 L224.9 675.5 L225.1 684.5 L225.3 678.7 L225.4 684.2 L225.6 676.7 L225.8 687.9 L225.9 679.8 L226.1 683.9 L226.3 676.8 L226.4 695.0 L226.6 679.9 L226.8 687.0 L226.9 678.1 L227.1 685.3 L227.3 678.4 L227.4 694.4 L227.6 673.5 L227.8 682.5 L227.9 678.3 L228.1 686.2 L228.3 680.0 L228.4 694.4 L228.6 680.2 L228.8 683.7 L228.9 672.3 L229.1 683.5 L229.3 680.8 L229.4 683.8 L229.6 678.1 L229.8 689.0 L229.9 674.4 L230.1 687.2 L230.3 678.3 L230.4 685.8 L230.6 678.9 L230.8 685.4 L230.9 677.9 L231.1 684.5 L231.3 681.2 L231.4 683.4 L231.6 680.4 L231.8 681.8 L231.9 681.5 L232.1 683.6 L232.3 677.8 L232.4 687.8 L232.6 679.1 L232.8 683.7 L232.9 678.9 L233.1 689.7 L233.3 679.6 L233.4 683.8 L233.6 680.6 L233.8 682.9 L233.9 673.6 L234.1 684.8 L234.3 680.2 L234.4 682.0 L234.6 678.2 L234.8 692.6 L234.9 677.8 L235.1 686.2 L235.3 666.8 L235.4 681.9 L235.6 676.0 L235.8 685.6 L235.9 677.6 L236.1 686.2 L236.3 680.2 L236.4 682.6 L236.6 675.1 L236.8 693.5 L236.9 679.0 L237.1 683.2 L237.3 680.4 L237.4 689.6 L237.6 677.3 L237.8 685.8 L237.9 680.5 L238.1 682.9 L238.3 669.9 L238.4 683.8 L238.6 673.3 L238.8 689.4 L238.9 676.1 L239.1 688.1 L239.3 681.4 L239.4 698.2 L239.6 680.8 L239.8 682.9 L239.9 678.5 L240.1 686.2 L240.3 679.2 L240.4 685.1 L240.6 678.8 L240.8 688.8 L240.9 679.6 L241.1 685.4 L241.3 680.8 L241.4 683.9 L241.6 676.9 L241.8 684.4 L241.9 680.0 L242.1 683.8 L242.3 676.6 L242.4 683.0 L242.6 677.7 L242.8 682.9 L242.9 680.6 L243.1 682.7 L243.3 680.2 L243.4 684.7 L243.6 680.6 L243.8 684.0 L243.9 677.3 L244.1 686.2 L244.3 680.8 L244.4 687.3 L244.6 676.7 L244.8 692.6 L244.9 681.5 L245.1 682.2 L245.3 677.1 L245.4 685.0 L245.6 679.7 L245.8 683.8 L245.9 676.6 L246.1 682.5 L246.3 680.1 L246.4 693.4 L246.6 677.8 L246.8 683.8 L246.9 677.6 L247.1 686.6 L247.3 679.5 L247.4 682.3 L247.6 678.3 L247.8 686.8 L247.9 676.8 L248.1 687.6 L248.3 679.9 L248.4 687.0 L248.6 679.1 L248.8 682.9 L248.9 676.1 L249.1 683.3 L249.3 681.3 L249.4 686.5 L249.6 681.3 L249.8 685.1 L249.9 679.6 L250.1 686.8 L250.3 677.3 L250.4 692.1 L250.6 677.5 L250.8 684.1 L250.9 676.3 L251.1 685.3 L251.3 672.6 L251.4 682.7 L251.6 681.4 L251.8 684.4 L251.9 678.6 L252.1 684.4 L252.3 678.0 L252.4 684.9 L252.6 678.3 L252.8 685.0 L252.9 676.9 L253.1 684.1 L253.3 675.3 L253.4 683.2 L253.6 680.1 L253.8 687.0 L253.9 680.6 L254.1 684.1 L254.3 680.2 L254.4 683.1 L254.6 677.1 L254.8 685.3 L254.9 674.5 L255.1 685.6 L255.3 675.9 L255.4 686.4 L255.6 680.0 L255.8 682.6 L255.9 674.5 L256.1 683.5 L256.3 680.1 L256.4 685.1 L256.6 679.5 L256.8 684.1 L256.9 680.8 L257.1 682.7 L257.3 675.8 L257.4 681.8 L257.6 671.4 L257.8 683.1 L257.9 677.2 L258.1 688.0 L258.3 677.4 L258.4 684.8 L258.6 679.4 L258.8 685.5 L258.9 680.1 L259.1 683.4 L259.3 678.1 L259.4 682.2 L259.6 679.6 L259.8 688.3 L259.9 678.8 L260.1 686.6 L260.3 679.7 L260.4 682.4 L260.6 679.5 L260.8 682.4 L260.9 678.7 L261.1 683.1 L261.3 677.2 L261.4 684.6 L261.6 676.7 L261.8 684.4 L261.9 677.8 L262.1 682.7 L262.3 677.4 L262.4 682.1 L262.6 680.8 L262.8 683.3 L262.9 674.8 L263.1 684.3 L263.3 680.4 L263.4 683.3 L263.6 678.0 L263.8 685.2 L263.9 676.6 L264.1 689.1 L264.3 679.6 L264.4 691.8 L264.6 681.3 L264.8 686.6 L264.9 680.0 L265.1 684.8 L265.3 671.5 L265.4 682.5 L265.6 680.7 L265.8 683.9 L265.9 678.7 L266.1 683.5 L266.3 678.5 L266.4 687.2 L266.6 677.1 L266.8 683.2 L266.9 681.5 L267.1 682.2 L267.3 678.5 L267.4 681.9 L267.6 678.9 L267.8 682.2 L267.9 681.2 L268.1 686.5 L268.3 677.4 L268.4 682.4 L268.6 678.7 L268.8 682.1 L268.9 675.7 L269.1 684.3 L269.3 677.6 L269.4 683.7 L269.6 673.3 L269.8 682.4 L269.9 672.6 L270.1 683.4 L270.3 679.3 L270.4 686.4 L270.6 678.0 L270.8 685.1 L270.9 677.3 L271.1 682.8 L271.3 677.6 L271.4 683.3 L271.6 681.5 L271.8 683.2 L271.9 681.7 L272.1 688.2 L272.3 681.0 L272.4 681.9 L272.6 679.3 L272.8 682.6 L272.9 678.7 L273.1 690.5 L273.3 678.6 L273.4 685.6 L273.6 680.5 L273.8 689.4 L273.9 674.7 L274.1 683.1 L274.3 678.6 L274.4 685.4 L274.6 680.6 L274.8 688.3 L274.9 679.9 L275.1 684.1 L275.3 679.3 L275.4 685.3 L275.6 680.0 L275.8 686.3 L275.9 678.3 L276.1 687.1 L276.3 679.2 L276.4 688.2 L276.6 676.9 L276.8 683.7 L276.9 679.7 L277.1 683.6 L277.3 679.3 L277.4 682.2 L277.6 675.3 L277.8 683.6 L277.9 677.8 L278.1 687.0 L278.3 680.1 L278.4 693.4 L278.6 681.1 L278.8 684.7 L278.9 681.4 L279.1 687.1 L279.3 678.2 L279.4 688.0 L279.6 680.0 L279.8 690.0 L279.9 678.7 L280.1 684.2 L280.3 681.6 L280.4 688.4 L280.6 681.2 L280.8 681.7 L280.9 678.6 L281.1 682.7 L281.3 676.2 L281.4 682.9 L281.6 681.2 L281.8 684.4 L281.9 679.9 L282.1 683.1 L282.3 679.7 L282.4 682.8 L282.6 676.5 L282.8 681.8 L282.9 679.4 L283.1 688.0 L283.3 675.4 L283.4 684.9 L283.6 681.5 L283.8 683.4 L283.9 681.6 L284.1 681.8 L284.3 676.9 L284.4 689.4 L284.6 678.8 L284.8 682.8 L284.9 676.3 L285.1 688.1 L285.3 679.4 L285.4 686.2 L285.6 677.8 L285.8 685.8 L285.9 675.9 L286.1 683.7 L286.3 674.4 L286.4 689.6 L286.6 679.9 L286.8 683.4 L286.9 676.8 L287.1 684.5 L287.3 679.1 L287.4 684.4 L287.6 677.6 L287.8 683.3 L287.9 679.4 L288.1 682.7 L288.3 677.8 L288.4 681.8 L288.6 681.5 L288.8 693.8 L288.9 681.3 L289.1 690.8 L289.3 680.7 L289.4 683.4 L289.6 680.8 L289.8 686.5 L289.9 678.1 L290.1 683.0 L290.3 680.9 L290.4 685.9 L290.6 680.7 L290.8 684.6 L290.9 678.6 L291.1 684.6 L291.3 681.1 L291.4 684.2 L291.6 676.8 L291.8 683.2 L291.9 678.0 L292.1 686.3 L292.3 676.8 L292.4 688.3 L292.6 675.5 L292.8 682.7 L292.9 680.7 L293.1 682.9 L293.3 679.8 L293.4 684.5 L293.6 680.0 L293.8 682.6 L293.9 681.5 L294.1 682.8 L294.3 675.4 L294.4 683.7 L294.6 680.3 L294.8 683.0 L294.9 677.3 L295.1 686.0 L295.3 679.7 L295.4 688.2 L295.6 681.1 L295.8 683.6 L295.9 677.5 L296.1 687.1 L296.3 676.0 L296.4 685.4 L296.6 677.9 L296.8 683.4 L296.9 677.0 L297.1 683.6 L297.3 680.3 L297.4 683.9 L297.6 680.6 L297.8 686.5 L297.9 681.5 L298.1 684.0 L298.3 675.0 L298.4 684.0 L298.6 680.6 L298.8 685.5 L298.9 676.5 L299.1 682.9 L299.3 681.3 L299.4 683.1 L299.6 679.5 L299.8 681.7 L299.9 679.5 L300.1 687.1 L300.3 679.2 L300.4 686.6 L300.6 670.6 L300.8 681.9 L300.9 676.9 L301.1 691.2 L301.3 681.1 L301.4 685.5 L301.6 679.9 L301.8 683.7 L301.9 678.7 L302.1 685.5 L302.3 681.4 L302.4 685.5 L302.6 681.1 L302.8 687.8 L302.9 676.5 L303.1 682.4 L303.3 680.1 L303.4 688.6 L303.6 679.2 L303.8 681.9 L303.9 675.8 L304.1 684.3 L304.3 680.3 L304.4 683.4 L304.6 676.7 L304.8 683.7 L304.9 676.1 L305.1 689.9 L305.3 678.5 L305.4 682.5 L305.6 676.4 L305.8 682.0 L305.9 674.5 L306.1 687.2 L306.3 677.7 L306.4 695.9 L306.6 675.5 L306.8 682.2 L306.9 666.9 L307.1 682.4 L307.3 678.4 L307.4 684.5 L307.6 679.0 L307.8 681.9 L307.9 677.7 L308.1 682.4 L308.3 676.6 L308.4 683.6 L308.6 676.0 L308.8 682.2 L308.9 680.2 L309.1 685.5 L309.3 678.1 L309.4 684.4 L309.6 677.3 L309.8 686.1 L309.9 681.3 L310.1 683.5 L310.3 678.1 L310.4 685.5 L310.6 677.5 L310.8 682.2 L310.9 678.1 L311.1 685.2 L311.3 676.9 L311.4 683.9 L311.6 677.0 L311.8 687.6 L311.9 668.6 L312.1 682.6 L312.3 676.7 L312.4 685.3 L312.6 674.5 L312.8 689.3 L312.9 673.8 L313.1 684.7 L313.3 672.1 L313.4 684.8 L313.6 677.4 L313.8 683.7 L313.9 681.1 L314.1 681.9 L314.3 672.9 L314.4 688.5 L314.6 679.4 L314.8 685.1 L314.9 680.5 L315.1 688.0 L315.3 681.0 L315.4 682.4 L315.6 679.0 L315.8 682.8 L315.9 680.7 L316.1 682.4 L316.3 676.6 L316.4 682.4 L316.6 680.6 L316.8 682.4 L316.9 676.5 L317.1 685.2 L317.3 681.5 L317.4 682.1 L317.6 681.1 L317.8 683.2 L317.9 680.9 L318.1 689.4 L318.3 680.2 L318.4 681.8 L318.6 681.0 L318.8 685.1 L318.9 681.0 L319.1 684.7 L319.3 679.5 L319.4 684.4 L319.6 674.7 L319.8 684.5 L319.9 679.8 L320.1 682.4 L320.3 676.7 L320.4 683.5 L320.6 677.9 L320.8 681.9 L320.9 679.9 L321.1 684.3 L321.3 679.7 L321.4 685.3 L321.6 680.8 L321.8 684.3 L321.9 672.9 L322.1 681.7 L322.3 677.8 L322.4 686.3 L322.6 679.8 L322.8 684.7 L322.9 679.8 L323.1 683.6 L323.3 681.7 L323.4 687.8 L323.6 681.5 L323.8 684.4 L323.9 679.6 L324.1 683.0 L324.3 681.6 L324.4 682.6 L324.6 678.2 L324.8 682.5 L324.9 669.7 L325.1 690.5 L325.3 679.9 L325.4 683.3 L325.6 677.8 L325.8 691.4 L325.9 674.7 L326.1 683.2 L326.3 679.4 L326.4 685.3 L326.6 678.1 L326.8 682.2 L326.9 679.7 L327.1 687.4 L327.3 679.6 L327.4 686.7 L327.6 675.1 L327.8 684.4 L327.9 680.2 L328.1 683.5 L328.3 673.9 L328.4 682.4 L328.6 678.6 L328.8 684.5 L328.9 679.1 L329.1 683.5 L329.3 680.8 L329.4 687.7 L329.6 680.7 L329.8 686.5 L329.9 678.8 L330.1 684.4 L330.3 678.4 L330.4 685.1 L330.6 673.4 L330.8 687.7 L330.9 680.5 L331.1 683.6 L331.3 676.0 L331.4 683.0 L331.6 679.1 L331.8 685.8 L331.9 674.5 L332.1 684.1 L332.3 681.6 L332.4 682.6 L332.6 678.7 L332.8 684.0 L332.9 678.1 L333.1 681.8 L333.3 680.6 L333.4 684.1 L333.6 680.0 L333.8 683.0 L333.9 677.7 L334.1 684.6 L334.3 674.6 L334.4 682.3 L334.6 675.2 L334.8 687.5 L334.9 680.2 L335.1 683.0 L335.3 680.2 L335.4 690.3 L335.6 671.5 L335.8 682.7 L335.9 677.4 L336.1 682.2 L336.3 679.6 L336.4 685.2 L336.6 675.9 L336.8 690.0 L336.9 669.1 L337.1 692.0 L337.3 676.6 L337.4 683.0 L337.6 679.1 L337.8 682.1 L337.9 679.3 L338.1 687.7 L338.3 675.7 L338.4 687.9 L338.6 680.9 L338.8 684.6 L338.9 680.4 L339.1 682.8 L339.3 676.6 L339.4 694.6 L339.6 681.6 L339.8 682.3 L339.9 675.9 L340.1 682.9 L340.3 677.9 L340.4 683.9 L340.6 678.6 L340.8 685.9 L340.9 671.3 L341.1 682.4 L341.3 675.2 L341.4 682.1 L341.6 670.9 L341.8 685.1 L341.9 681.3 L342.1 690.0 L342.3 680.3 L342.4 682.5 L342.6 681.2 L342.8 689.6 L342.9 676.2 L343.1 686.8 L343.3 677.0 L343.4 681.7 L343.6 674.5 L343.8 685.9 L343.9 680.8 L344.1 683.9 L344.3 681.0 L344.4 686.2 L344.6 681.4 L344.8 693.2 L344.9 681.4 L345.1 681.8 L345.3 677.6 L345.4 687.9 L345.6 678.7 L345.8 693.3 L345.9 675.8 L346.1 682.3 L346.3 677.4 L346.4 682.6 L346.6 674.5 L346.8 692.2 L346.9 678.3 L347.1 686.6 L347.3 677.5 L347.4 683.8 L347.6 667.6 L347.8 683.4 L347.9 680.9 L348.1 683.5 L348.3 678.1 L348.4 682.4 L348.6 675.9 L348.8 686.2 L348.9 678.1 L349.1 688.3 L349.3 677.0 L349.4 682.5 L349.6 679.3 L349.8 683.9 L349.9 677.6 L350.1 684.4 L350.3 679.3 L350.4 688.0 L350.6 675.3 L350.8 683.8 L350.9 679.6 L351.1 684.2 L351.3 674.0 L351.4 682.5 L351.6 680.9 L351.8 682.5 L351.9 679.3 L352.1 684.2 L352.3 679.4 L352.4 683.2 L352.6 680.9 L352.8 687.6 L352.9 675.9 L353.1 684.8 L353.3 681.2 L353.4 681.9 L353.6 676.5 L353.8 683.6 L353.9 679.8 L354.1 682.3 L354.3 678.4 L354.4 686.4 L354.6 680.7 L354.8 685.9 L354.9 680.4 L355.1 682.6 L355.3 679.3 L355.4 687.0 L355.6 680.5 L355.8 684.9 L355.9 674.8 L356.1 681.7 L356.3 677.6 L356.4 685.4 L356.6 673.5 L356.8 687.0 L356.9 679.2 L357.1 684.5 L357.3 680.6 L357.4 682.2 L357.6 670.6 L357.8 683.0 L357.9 679.5 L358.1 681.9 L358.3 679.4 L358.4 682.8 L358.6 675.5 L358.8 681.9 L358.9 680.7 L359.1 682.5 L359.3 681.2 L359.4 683.5 L359.6 680.0 L359.8 683.6 L359.9 679.1 L360.1 685.6 L360.3 679.7 L360.4 689.2 L360.6 681.2 L360.8 685.7 L360.9 677.5 L361.1 683.7 L361.3 679.0 L361.4 686.2 L361.6 680.8 L361.8 683.4 L361.9 680.6 L362.1 682.2 L362.3 681.5 L362.4 684.9 L362.6 680.7 L362.8 682.1 L362.9 680.7 L363.1 684.1 L363.3 676.7 L363.4 684.8 L363.6 674.5 L363.8 683.2 L363.9 677.6 L364.1 684.3 L364.3 679.5 L364.4 685.1 L364.6 677.5 L364.8 683.4 L364.9 673.8 L365.1 685.7 L365.3 674.7 L365.4 687.8 L365.6 681.6 L365.8 683.0 L365.9 681.7 L366.1 681.8 L366.3 680.4 L366.4 687.7 L366.6 679.7 L366.8 692.4 L366.9 678.9 L367.1 684.1 L367.3 679.6 L367.4 683.3 L367.6 677.1 L367.8 691.1 L367.9 678.5 L368.1 683.6 L368.3 679.5 L368.4 685.2 L368.6 681.5 L368.8 682.0 L368.9 679.6 L369.1 687.6 L369.3 674.0 L369.4 682.4 L369.6 680.2 L369.8 688.1 L369.9 674.0 L370.1 682.4 L370.3 677.3 L370.4 692.2 L370.6 676.8 L370.8 682.4 L370.9 677.1 L371.1 686.1 L371.3 678.2 L371.4 684.7 L371.6 681.5 L371.8 693.6 L371.9 674.9 L372.1 685.1 L372.3 672.4 L372.4 684.0 L372.6 679.9 L372.8 683.8 L372.9 673.3 L373.1 686.5 L373.3 680.1 L373.4 682.9 L373.6 677.6 L373.8 690.2 L373.9 673.6 L374.1 685.3 L374.3 680.1 L374.4 687.2 L374.6 679.3 L374.8 683.8 L374.9 680.3 L375.1 681.7 L375.3 681.4 L375.4 684.8 L375.6 679.0 L375.8 684.2 L375.9 670.9 L376.1 688.9 L376.3 672.2 L376.4 684.3 L376.6 676.4 L376.8 687.0 L376.9 678.8 L377.1 683.4 L377.3 681.3 L377.4 684.0 L377.6 681.3 L377.8 683.3 L377.9 677.4 L378.1 683.3 L378.3 680.2 L378.4 684.8 L378.6 678.6 L378.8 681.9 L378.9 681.4 L379.1 683.2 L379.3 681.4 L379.4 685.5 L379.6 679.2 L379.8 682.4 L379.9 680.0 L380.1 688.4 L380.3 681.6 L380.4 682.9 L380.6 680.9 L380.8 685.9 L380.9 681.4 L381.1 682.4 L381.3 677.6 L381.4 682.6 L381.6 679.6 L381.8 687.1 L381.9 680.5 L382.1 682.6 L382.3 681.5 L382.4 686.9 L382.6 676.3 L382.8 683.1 L382.9 678.3 L383.1 683.7 L383.3 675.3 L383.4 683.3 L383.6 671.9 L383.8 683.0 L383.9 677.6 L384.1 687.1 L384.3 676.1 L384.4 682.9 L384.6 681.2 L384.8 683.1 L384.9 678.3 L385.1 687.7 L385.3 679.3 L385.4 682.6 L385.6 678.2 L385.8 686.7 L385.9 680.4 L386.1 684.3 L386.3 677.1 L386.4 682.8 L386.6 675.7 L386.8 682.3 L386.9 676.8 L387.1 686.3 L387.3 678.7 L387.4 684.2 L387.6 681.2 L387.8 687.0 L387.9 675.7 L388.1 687.6 L388.3 677.2 L388.4 686.2 L388.6 681.1 L388.8 687.2 L388.9 680.1 L389.1 681.8 L389.3 676.9 L389.4 682.6 L389.6 677.1 L389.8 682.7 L389.9 675.3 L390.1 682.1 L390.3 681.5 L390.4 687.9 L390.6 679.5 L390.8 686.5 L390.9 679.3 L391.1 684.5 L391.3 679.5 L391.4 684.0 L391.6 678.8 L391.8 687.8 L391.9 681.1 L392.1 683.2 L392.3 674.1 L392.4 685.7 L392.6 681.4 L392.8 684.7 L392.9 680.8 L393.1 684.6 L393.3 676.1 L393.4 682.6 L393.6 678.5 L393.8 684.5 L393.9 681.1 L394.1 687.9 L394.3 681.5 L394.4 684.8 L394.6 681.0 L394.8 684.9 L394.9 680.1 L395.1 683.9 L395.3 680.0 L395.4 682.8 L395.6 675.8 L395.8 688.1 L395.9 679.9 L396.1 689.1 L396.3 679.9 L396.4 682.5 L396.6 676.4 L396.8 682.0 L396.9 681.7 L397.1 684.1 L397.3 673.5 L397.4 682.2 L397.6 680.1 L397.8 686.0 L397.9 680.3 L398.1 683.5 L398.3 677.3 L398.4 682.5 L398.6 677.4 L398.8 684.1 L398.9 676.4 L399.1 687.4 L399.3 674.1 L399.4 685.8 L399.6 678.0 L399.8 684.5 L399.9 676.3 L400.1 686.1 L400.3 677.8 L400.4 683.2 L400.6 681.5 L400.8 682.5 L400.9 679.0 L401.1 686.5 L401.3 679.6 L401.4 685.8 L401.6 679.5 L401.8 683.2 L401.9 681.4 L402.1 684.4 L402.3 676.2 L402.4 690.6 L402.6 678.8 L402.8 682.0 L402.9 679.5 L403.1 687.4 L403.3 680.5 L403.4 686.8 L403.6 678.1 L403.8 684.6 L403.9 680.5 L404.1 682.0 L404.3 679.9 L404.4 682.5 L404.6 681.0 L404.8 684.4 L404.9 681.5 L405.1 686.6 L405.3 680.2 L405.4 682.8 L405.6 674.4 L405.8 684.4 L405.9 678.0 L406.1 681.7 L406.3 676.6 L406.4 681.9 L406.6 677.0 L406.8 687.8 L406.9 681.4 L407.1 684.9 L407.3 679.6 L407.4 684.8 L407.6 673.5 L407.8 681.8 L407.9 680.3 L408.1 685.1 L408.3 674.2 L408.4 684.2 L408.6 679.2 L408.8 684.4 L408.9 679.6 L409.1 687.3 L409.3 680.5 L409.4 684.3 L409.6 677.2 L409.8 683.6 L409.9 680.5 L410.1 685.6 L410.3 679.7 L410.4 683.8 L410.6 675.7 L410.8 687.4 L410.9 679.2 L411.1 684.7 L411.3 680.9 L411.4 683.5 L411.6 671.1 L411.8 685.9 L411.9 678.6 L412.1 685.9 L412.3 675.8 L412.4 687.3 L412.6 677.5 L412.8 685.1 L412.9 678.2 L413.1 682.6 L413.3 678.7 L413.4 685.8 L413.6 679.3 L413.8 681.9 L413.9 678.2 L414.1 686.4 L414.3 680.2 L414.4 686.7 L414.6 680.4 L414.8 685.6 L414.9 678.5 L415.1 683.1 L415.3 678.8 L415.4 683.0 L415.6 678.0 L415.8 690.4 L415.9 680.5 L416.1 683.6 L416.3 678.7 L416.4 690.4 L416.6 681.2 L416.8 682.9 L416.9 677.5 L417.1 685.3 L417.3 680.8 L417.4 688.1 L417.6 681.0 L417.8 683.9 L417.9 680.3 L418.1 684.4 L418.3 680.6 L418.4 682.7 L418.6 675.8 L418.8 682.3 L418.9 679.0 L419.1 681.8 L419.3 679.4 L419.4 687.8 L419.6 680.7 L419.8 685.1 L419.9 680.3 L420.1 683.3 L420.3 678.6 L420.4 681.9 L420.6 675.1 L420.8 686.5 L420.9 677.9 L421.1 685.2 L421.3 681.6 L421.4 683.0 L421.6 681.5 L421.8 684.7 L421.9 677.4 L422.1 682.4 L422.3 679.3 L422.4 683.1 L422.6 681.3 L422.8 683.7 L422.9 678.6 L423.1 682.7 L423.3 680.4 L423.4 682.3 L423.6 677.8 L423.8 683.0 L423.9 680.3 L424.1 684.1 L424.3 676.8 L424.4 684.4 L424.6 679.6 L424.8 682.2 L424.9 680.3 L425.1 682.0 L425.3 680.5 L425.4 683.0 L425.6 680.2 L425.8 685.2 L425.9 678.5 L426.1 684.3 L426.3 675.9 L426.4 683.1 L426.6 678.4 L426.8 683.6 L426.9 680.7 L427.1 686.1 L427.3 678.8 L427.4 683.2 L427.6 678.0 L427.8 687.7 L427.9 679.7 L428.1 683.0 L428.3 679.7 L428.4 690.3 L428.6 671.2 L428.8 683.4 L428.9 678.3 L429.1 685.7 L429.3 676.7 L429.4 689.9 L429.6 680.0 L429.8 685.2 L429.9 681.4 L430.1 685.7 L430.3 680.8 L430.4 686.3 L430.6 679.7 L430.8 685.4 L430.9 680.0 L431.1 686.3 L431.3 677.5 L431.4 682.1 L431.6 679.0 L431.8 687.4 L431.9 681.4 L432.1 688.7 L432.3 680.1 L432.4 685.2 L432.6 675.9 L432.8 687.8 L432.9 676.0 L433.1 688.2 L433.3 679.5 L433.4 683.0 L433.6 671.8 L433.8 681.8 L433.9 680.6 L434.1 686.3 L434.3 679.2 L434.4 684.8 L434.6 675.6 L434.8 683.6 L434.9 678.2 L435.1 682.4 L435.3 678.4 L435.4 684.7 L435.6 675.0 L435.8 686.4 L435.9 681.7 L436.1 685.4 L436.3 680.4 L436.4 686.0 L436.6 680.4 L436.8 686.8 L436.9 680.3 L437.1 681.8 L437.3 674.8 L437.4 683.9 L437.6 680.4 L437.8 686.6 L437.9 676.7 L438.1 682.5 L438.3 680.5 L438.4 690.4 L438.6 678.7 L438.8 686.8 L438.9 680.7 L439.1 685.1 L439.3 677.5 L439.4 682.1 L439.6 678.2 L439.8 681.7 L439.9 677.0 L440.1 685.1 L440.3 677.9 L440.4 685.3 L440.6 677.8 L440.8 683.3 L440.9 679.3 L441.1 686.1 L441.3 678.6 L441.4 683.7 L441.6 678.6 L441.8 686.8 L441.9 680.7 L442.1 688.4 L442.3 681.3 L442.4 681.8 L442.6 674.9 L442.8 682.5 L442.9 679.1 L443.1 687.4 L443.3 677.0 L443.4 684.1 L443.6 679.5 L443.8 687.0 L443.9 678.3 L444.1 685.2 L444.3 679.2 L444.4 688.3 L444.6 679.6 L444.8 686.2 L444.9 680.1 L445.1 681.8 L445.3 681.0 L445.4 692.1 L445.6 681.1 L445.8 682.0 L445.9 678.8 L446.1 681.9 L446.3 681.1 L446.4 687.1 L446.6 679.1 L446.8 685.5 L446.9 680.3 L447.1 687.8 L447.3 681.5 L447.4 691.5 L447.6 678.6 L447.8 684.7 L447.9 680.8 L448.1 685.7 L448.3 680.9 L448.4 682.4 L448.6 678.8 L448.8 682.6 L448.9 679.1 L449.1 681.9 L449.3 680.5 L449.4 681.9 L449.6 680.4 L449.8 685.9 L449.9 678.0 L450.1 684.1 L450.3 681.6 L450.4 685.6 L450.6 681.5 L450.8 690.1 L450.9 679.3 L451.1 686.2 L451.3 680.7 L451.4 682.9 L451.6 678.0 L451.8 685.8 L451.9 678.7 L452.1 688.0 L452.3 678.1 L452.4 682.7 L452.6 678.0 L452.8 684.0 L452.9 680.0 L453.1 682.2 L453.3 680.8 L453.4 685.7 L453.6 678.5 L453.8 681.8 L453.9 679.2 L454.1 684.0 L454.3 680.2 L454.4 686.4 L454.6 680.1 L454.8 689.8 L454.9 679.3 L455.1 691.2 L455.3 679.8 L455.4 683.3 L455.6 677.8 L455.8 687.9 L455.9 679.2 L456.1 686.0 L456.3 676.0 L456.4 686.0 L456.6 673.8 L456.8 683.7 L456.9 678.1 L457.1 681.9 L457.3 681.1 L457.4 682.1 L457.6 672.4 L457.8 682.6 L457.9 676.2 L458.1 684.2 L458.3 679.9 L458.4 683.3 L458.6 678.9 L458.8 682.4 L458.9 672.4 L459.1 687.7 L459.3 678.5 L459.4 687.3 L459.6 678.8 L459.8 683.4 L459.9 679.7 L460.1 687.8 L460.3 679.3 L460.4 682.2 L460.6 679.6 L460.8 686.7 L460.9 675.8 L461.1 684.8 L461.3 681.1 L461.4 683.2 L461.6 672.7 L461.8 683.9 L461.9 679.8 L462.1 682.4 L462.3 681.4 L462.4 687.5 L462.6 675.9 L462.8 689.7 L462.9 679.7 L463.1 691.0 L463.3 677.8 L463.4 688.0 L463.6 677.4 L463.8 684.9 L463.9 678.5 L464.1 683.1 L464.3 681.5 L464.4 684.5 L464.6 675.7 L464.8 683.2 L464.9 681.3 L465.1 685.7 L465.3 680.9 L465.4 683.4 L465.6 679.5 L465.8 684.3 L465.9 678.6 L466.1 681.9 L466.3 679.0 L466.4 684.0 L466.6 678.3 L466.8 687.8 L466.9 680.2 L467.1 690.5 L467.3 676.0 L467.4 682.1 L467.6 677.1 L467.8 683.9 L467.9 676.2 L468.1 686.6 L468.3 679.4 L468.4 683.1 L468.6 679.3 L468.8 683.6 L468.9 677.0 L469.1 684.2 L469.3 675.4 L469.4 682.9 L469.6 681.0 L469.8 684.8 L469.9 678.5 L470.1 681.8 L470.3 677.5 L470.4 683.1 L470.6 676.2 L470.8 683.9 L470.9 681.3 L471.1 683.4 L471.3 675.9 L471.4 682.5 L471.6 677.8 L471.8 690.5 L471.9 680.7 L472.1 687.9 L472.3 679.8 L472.4 685.1 L472.6 680.6 L472.8 683.1 L472.9 676.9 L473.1 684.6 L473.3 680.0 L473.4 683.9 L473.6 680.5 L473.8 682.4 L473.9 679.1 L474.1 684.4 L474.3 680.7 L474.4 685.1 L474.6 675.9 L474.8 683.2 L474.9 680.0 L475.1 683.8 L475.3 681.2 L475.4 685.3 L475.6 678.3 L475.8 686.0 L475.9 681.0 L476.1 688.9 L476.3 679.6 L476.4 686.3 L476.6 681.4 L476.8 682.4 L476.9 679.8 L477.1 684.9 L477.3 680.9 L477.4 682.6 L477.6 667.8 L477.8 683.7 L477.9 674.1 L478.1 684.2 L478.3 681.1 L478.4 689.4 L478.6 678.5 L478.8 683.8 L478.9 681.6 L479.1 685.5 L479.3 677.2 L479.4 682.6 L479.6 678.9 L479.8 682.7 L479.9 678.4 L480.1 682.6 L480.3 679.6 L480.4 684.3 L480.6 678.0 L480.8 689.2 L480.9 675.4 L481.1 683.5 L481.3 681.6 L481.4 684.7 L481.6 676.9 L481.8 687.0 L481.9 678.7 L482.1 685.5 L482.3 674.4 L482.4 683.9 L482.6 677.3 L482.8 685.7 L482.9 676.5 L483.1 682.6 L483.3 676.8 L483.4 684.3 L483.6 679.4 L483.8 690.2 L483.9 674.9 L484.1 681.9 L484.3 676.5 L484.4 685.3 L484.6 676.0 L484.8 684.3 L484.9 670.9 L485.1 682.4 L485.3 679.1 L485.4 683.3 L485.6 680.5 L485.8 683.7 L485.9 675.4 L486.1 686.5 L486.3 680.7 L486.4 682.7 L486.6 678.7 L486.8 684.8 L486.9 681.2 L487.1 683.8 L487.3 680.1 L487.4 686.7 L487.6 677.3 L487.8 687.0 L487.9 680.3 L488.1 682.8 L488.3 679.3 L488.4 688.0 L488.6 679.5 L488.8 685.7 L488.9 678.8 L489.1 682.9 L489.3 677.4 L489.4 685.2 L489.6 677.1 L489.8 686.3 L489.9 676.6 L490.1 683.8 L490.3 681.0 L490.4 681.9 L490.6 677.5 L490.8 684.6 L490.9 680.6 L491.1 683.3 L491.3 674.1 L491.4 683.7 L491.6 675.0 L491.8 682.3 L491.9 673.4 L492.1 689.5 L492.3 679.7 L492.4 691.7 L492.6 675.8 L492.8 686.8 L492.9 676.0 L493.1 685.4 L493.3 679.7 L493.4 682.5 L493.6 680.7 L493.8 683.8 L493.9 675.1 L494.1 688.9 L494.3 677.9 L494.4 682.4 L494.6 680.1 L494.8 690.7 L494.9 675.0 L495.1 683.3 L495.3 670.7 L495.4 690.7 L495.6 681.2 L495.8 682.9 L495.9 677.0 L496.1 682.8 L496.3 680.7 L496.4 685.8 L496.6 680.1 L496.8 689.6 L496.9 679.7 L497.1 683.0 L497.3 678.6 L497.4 681.7 L497.6 681.2 L497.8 686.8 L497.9 677.9 L498.1 683.6 L498.3 679.4 L498.4 682.3 L498.6 681.0 L498.8 687.7 L498.9 678.2 L499.1 682.6 L499.3 680.9 L499.4 683.1 L499.6 678.6 L499.8 684.2 L499.9 679.3 L500.1 682.0 L500.3 681.2 L500.4 691.5 L500.6 679.9 L500.8 686.7 L500.9 677.1 L501.1 692.9 L501.3 672.8 L501.4 688.3 L501.6 677.0 L501.8 683.8 L501.9 674.7 L502.1 685.0 L502.3 680.8 L502.4 686.0 L502.6 678.8 L502.8 689.0 L502.9 673.9 L503.1 683.1 L503.3 674.9 L503.4 685.8 L503.6 675.4 L503.8 685.6 L503.9 675.3 L504.1 685.6 L504.3 674.5 L504.4 684.1 L504.6 679.3 L504.8 690.3 L504.9 676.3 L505.1 686.9 L505.3 681.1 L505.4 682.6 L505.6 680.8 L505.8 684.9 L505.9 677.6 L506.1 691.6 L506.3 674.0 L506.4 693.3 L506.6 672.1 L506.8 696.0 L506.9 663.6 L507.1 700.0 L507.3 678.9 L507.4 690.3 L507.6 672.3 L507.8 684.1 L507.9 673.5 L508.1 684.9 L508.3 676.0 L508.4 686.7 L508.6 673.6 L508.8 687.6 L508.9 673.8 L509.1 696.1 L509.3 665.9 L509.4 700.6 L509.6 664.3 L509.8 683.7 L509.9 674.4 L510.1 696.6 L510.3 667.6 L510.4 710.0 L510.6 671.6 L510.8 702.0 L510.9 672.1 L511.1 693.2 L511.3 680.6 L511.4 688.0 L511.6 668.4 L511.8 687.1 L511.9 667.4 L512.1 689.4 L512.3 655.4 L512.5 688.2 L512.6 676.8 L512.8 690.4 L513.0 660.0 L513.1 688.7 L513.3 675.4 L513.5 689.0 L513.6 662.9 L513.8 697.6 L514.0 668.4 L514.1 701.2 L514.3 679.1 L514.5 686.8 L514.6 680.5 L514.8 682.8 L515.0 674.7 L515.1 682.9 L515.3 672.5 L515.5 689.2 L515.6 679.2 L515.8 687.2 L516.0 679.9 L516.1 696.7 L516.3 667.1 L516.5 689.0 L516.6 677.9 L516.8 695.8 L517.0 675.4 L517.1 692.7 L517.3 677.2 L517.5 687.2 L517.6 680.5 L517.8 682.4 L518.0 680.2 L518.1 703.8 L518.3 680.0 L518.5 703.9 L518.6 674.4 L518.8 685.7 L519.0 677.8 L519.1 689.4 L519.3 675.7 L519.5 684.1 L519.6 674.9 L519.8 682.0 L520.0 679.8 L520.1 686.2 L520.3 670.7 L520.5 690.9 L520.6 679.0 L520.8 681.8 L521.0 680.6 L521.1 687.4 L521.3 677.4 L521.5 684.2 L521.6 677.4 L521.8 686.8 L522.0 659.7 L522.1 693.0 L522.3 679.3 L522.5 685.3 L522.6 681.0 L522.8 694.6 L523.0 671.5 L523.1 686.9 L523.3 681.6 L523.5 693.3 L523.6 667.5 L523.8 699.4 L524.0 678.8 L524.1 690.7 L524.3 661.3 L524.5 690.9 L524.6 677.3 L524.8 689.3 L525.0 677.8 L525.1 682.8 L525.3 680.5 L525.5 683.9 L525.6 680.2 L525.8 685.9 L526.0 669.5 L526.1 686.7 L526.3 679.8 L526.5 692.1 L526.6 672.0 L526.8 701.2 L527.0 670.8 L527.1 684.9 L527.3 673.6 L527.5 684.9 L527.6 661.6 L527.8 695.0 L528.0 680.4 L528.1 682.6 L528.3 680.8 L528.5 696.0 L528.6 678.1 L528.8 684.4 L529.0 673.6 L529.1 682.4 L529.3 681.6 L529.5 683.1 L529.6 678.2 L529.8 683.4 L530.0 669.4 L530.1 687.8 L530.3 676.5 L530.5 690.0 L530.6 678.3 L530.8 690.8 L531.0 681.4 L531.1 698.1 L531.3 681.4 L531.5 692.5 L531.6 667.6 L531.8 682.1 L532.0 668.6 L532.1 691.3 L532.3 665.6 L532.5 690.2 L532.6 670.0 L532.8 683.6 L533.0 668.7 L533.1 692.6 L533.3 674.4 L533.5 688.7 L533.6 680.4 L533.8 681.9 L534.0 678.5 L534.1 689.8 L534.3 675.7 L534.5 691.3 L534.6 673.4 L534.8 695.5 L535.0 677.0 L535.1 686.6 L535.3 680.4 L535.5 692.0 L535.6 680.4 L535.8 694.6 L536.0 681.1 L536.1 688.5 L536.3 673.3 L536.5 686.8 L536.6 681.7 L536.8 685.3 L537.0 675.4 L537.1 689.2 L537.3 680.1 L537.5 685.4 L537.6 674.3 L537.8 685.3 L538.0 671.5 L538.1 687.8 L538.3 676.6 L538.5 695.7 L538.6 677.7 L538.8 690.3 L539.0 677.7 L539.1 692.9 L539.3 673.8 L539.5 692.6 L539.6 679.4 L539.8 687.2 L540.0 677.4 L540.1 683.4 L540.3 680.3 L540.5 688.6 L540.6 679.0 L540.8 694.0 L541.0 681.6 L541.1 683.4 L541.3 680.4 L541.5 696.1 L541.6 673.7 L541.8 697.7 L542.0 678.7 L542.1 684.3 L542.3 680.5 L542.5 682.5 L542.6 677.7 L542.8 684.1 L543.0 671.2 L543.1 682.3 L543.3 673.3 L543.5 684.1 L543.6 664.2 L543.8 692.3 L544.0 673.5 L544.1 683.5 L544.3 674.1 L544.5 692.7 L544.6 676.9 L544.8 691.4 L545.0 672.6 L545.1 694.3 L545.3 675.2 L545.5 682.7 L545.6 678.6 L545.8 686.3 L546.0 676.5 L546.1 687.1 L546.3 679.6 L546.5 685.2 L546.6 676.1 L546.8 683.8 L547.0 671.5 L547.1 691.9 L547.3 680.6 L547.5 685.9 L547.6 677.9 L547.8 697.0 L548.0 666.0 L548.1 682.6 L548.3 679.5 L548.5 682.3 L548.6 665.8 L548.8 693.4 L549.0 679.9 L549.1 690.8 L549.3 675.7 L549.5 689.1 L549.6 678.8 L549.8 683.4 L550.0 678.6 L550.1 692.7 L550.3 678.1 L550.5 683.3 L550.6 673.7 L550.8 695.4 L551.0 668.5 L551.1 688.9 L551.3 672.6 L551.5 685.2 L551.6 678.9 L551.8 687.9 L552.0 678.1 L552.1 684.7 L552.3 680.2 L552.5 685.8 L552.6 674.7 L552.8 688.0 L553.0 680.0 L553.1 687.5 L553.3 672.5 L553.5 682.9 L553.6 680.2 L553.8 684.8 L554.0 679.2 L554.1 684.4 L554.3 679.3 L554.5 686.6 L554.6 662.0 L554.8 685.3 L555.0 667.9 L555.1 684.0 L555.3 679.1 L555.5 684.7 L555.6 678.6 L555.8 681.9 L556.0 672.3 L556.1 685.1 L556.3 672.8 L556.5 690.6 L556.6 677.9 L556.8 693.7 L557.0 669.3 L557.1 698.6 L557.3 678.0 L557.5 682.0 L557.6 681.0 L557.8 683.8 L558.0 679.3 L558.1 690.9 L558.3 677.8 L558.5 682.9 L558.6 676.7 L558.8 683.1 L559.0 678.8 L559.1 683.9 L559.3 677.2 L559.5 684.9 L559.6 676.9 L559.8 689.4 L560.0 675.8 L560.1 682.3 L560.3 680.7 L560.5 684.4 L560.6 676.0 L560.8 683.7 L561.0 674.4 L561.1 685.8 L561.3 677.0 L561.5 683.7 L561.6 681.5 L561.8 687.0 L562.0 681.4 L562.1 683.8 L562.3 681.2 L562.5 687.4 L562.6 672.4 L562.8 684.8 L563.0 679.4 L563.1 683.9 L563.3 676.8 L563.5 683.7 L563.6 673.6 L563.8 685.9 L564.0 676.8 L564.1 683.7 L564.3 673.0 L564.5 682.6 L564.6 679.9 L564.8 690.6 L565.0 677.9 L565.1 686.8 L565.3 680.9 L565.5 685.7 L565.6 679.3 L565.8 684.1 L566.0 671.2 L566.1 692.3 L566.3 680.0 L566.5 686.9 L566.6 681.6 L566.8 682.7 L567.0 681.4 L567.1 685.3 L567.3 676.5 L567.5 683.6 L567.6 674.6 L567.8 685.7 L568.0 672.9 L568.1 683.2 L568.3 680.5 L568.5 685.1 L568.6 679.2 L568.8 683.1 L569.0 680.7 L569.1 689.8 L569.3 675.3 L569.5 696.5 L569.6 681.2 L569.8 683.3 L570.0 675.2 L570.1 682.5 L570.3 673.3 L570.5 687.4 L570.6 680.9 L570.8 690.4 L571.0 680.2 L571.1 685.5 L571.3 679.4 L571.5 682.7 L571.6 680.9 L571.8 685.3 L572.0 677.8 L572.1 685.9 L572.3 676.9 L572.5 686.6 L572.6 679.6 L572.8 685.7 L573.0 674.2 L573.1 684.4 L573.3 676.6 L573.5 687.9 L573.6 679.1 L573.8 681.7 L574.0 680.6 L574.1 684.8 L574.3 679.9 L574.5 683.5 L574.6 680.2 L574.8 681.9 L575.0 679.8 L575.1 683.4 L575.3 674.3 L575.5 689.7 L575.6 677.8 L575.8 684.3 L576.0 676.9 L576.1 684.3 L576.3 680.3 L576.5 684.1 L576.6 679.2 L576.8 690.3 L577.0 679.6 L577.1 682.8 L577.3 672.4 L577.5 690.7 L577.6 681.6 L577.8 684.5 L578.0 673.7 L578.1 685.1 L578.3 679.9 L578.5 682.5 L578.6 677.1 L578.8 686.2 L579.0 677.0 L579.1 685.0 L579.3 676.7 L579.5 682.7 L579.6 678.2 L579.8 686.5 L580.0 672.7 L580.1 683.1 L580.3 679.9 L580.5 687.8 L580.6 680.1 L580.8 682.4 L581.0 675.8 L581.1 686.4 L581.3 677.9 L581.5 684.6 L581.6 677.7 L581.8 682.6 L582.0 674.5 L582.1 699.6 L582.3 671.6 L582.5 686.4 L582.6 675.8 L582.8 689.1 L583.0 681.4 L583.1 682.0 L583.3 677.2 L583.5 682.7 L583.6 675.9 L583.8 682.4 L584.0 681.7 L584.1 685.0 L584.3 680.7 L584.5 684.9 L584.6 680.8 L584.8 692.1 L585.0 671.3 L585.1 694.8 L585.3 680.7 L585.5 685.2 L585.6 676.9 L585.8 686.6 L586.0 678.5 L586.1 683.6 L586.3 678.6 L586.5 685.5 L586.6 677.6 L586.8 687.0 L587.0 678.9 L587.1 687.5 L587.3 677.4 L587.5 691.1 L587.6 680.5 L587.8 688.3 L588.0 678.9 L588.1 685.1 L588.3 676.3 L588.5 688.3 L588.6 668.8 L588.8 683.7 L589.0 677.9 L589.1 688.1 L589.3 671.6 L589.5 692.3 L589.6 675.1 L589.8 682.1 L590.0 676.6 L590.1 688.5 L590.3 679.6 L590.5 686.5 L590.6 673.9 L590.8 690.0 L591.0 678.1 L591.1 685.3 L591.3 676.4 L591.5 692.0 L591.6 679.0 L591.8 684.5 L592.0 678.8 L592.1 685.9 L592.3 681.4 L592.5 681.8 L592.6 680.7 L592.8 686.2 L593.0 676.6 L593.1 689.7 L593.3 673.4 L593.5 688.7 L593.6 679.0 L593.8 688.4 L594.0 678.9 L594.1 681.9 L594.3 677.9 L594.5 682.3 L594.6 679.5 L594.8 684.8 L595.0 678.9 L595.1 685.2 L595.3 680.4 L595.5 682.3 L595.6 678.1 L595.8 684.6 L596.0 681.7 L596.1 682.8 L596.3 676.6 L596.5 682.9 L596.6 675.3 L596.8 688.6 L597.0 679.0 L597.1 682.6 L597.3 681.6 L597.5 683.9 L597.6 678.6 L597.8 688.0 L598.0 679.3 L598.1 682.7 L598.3 678.8 L598.5 682.9 L598.6 681.1 L598.8 684.8 L599.0 680.7 L599.1 685.3 L599.3 681.1 L599.5 687.9 L599.6 675.5 L599.8 682.5 L600.0 673.6 L600.1 687.8 L600.3 679.7 L600.5 686.6 L600.6 681.6 L600.8 682.3 L601.0 672.5 L601.1 688.6 L601.3 677.9 L601.5 689.0 L601.6 679.9 L601.8 684.3 L602.0 674.1 L602.1 685.6 L602.3 681.2 L602.5 687.9 L602.6 674.4 L602.8 681.8 L603.0 677.1 L603.1 683.6 L603.3 677.2 L603.5 683.3 L603.6 677.6 L603.8 682.5 L604.0 679.5 L604.1 683.0 L604.3 681.6 L604.5 685.9 L604.6 673.4 L604.8 681.8 L605.0 680.7 L605.1 686.8 L605.3 678.4 L605.5 682.2 L605.6 681.5 L605.8 683.3 L606.0 681.6 L606.1 682.4 L606.3 674.4 L606.5 683.8 L606.6 681.2 L606.8 688.5 L607.0 675.5 L607.1 683.9 L607.3 677.8 L607.5 683.5 L607.6 677.0 L607.8 686.3 L608.0 675.8 L608.1 685.8 L608.3 675.6 L608.5 686.6 L608.6 679.6 L608.8 686.3 L609.0 681.0 L609.1 683.2 L609.3 680.7 L609.5 682.3 L609.6 681.7 L609.8 685.9 L610.0 680.7 L610.1 683.7 L610.3 680.7 L610.5 685.2 L610.6 678.1 L610.8 682.5 L611.0 680.8 L611.1 687.1 L611.3 679.9 L611.5 682.2 L611.6 681.7 L611.8 681.8 L612.0 679.7 L612.1 683.1 L612.3 675.1 L612.5 690.8 L612.6 680.2 L612.8 687.6 L613.0 679.4 L613.1 683.1 L613.3 678.9 L613.5 691.6 L613.6 680.3 L613.8 686.1 L614.0 681.2 L614.1 681.7 L614.3 674.8 L614.5 685.9 L614.6 674.4 L614.8 682.0 L615.0 681.1 L615.1 684.5 L615.3 679.3 L615.5 683.6 L615.6 677.7 L615.8 683.8 L616.0 680.2 L616.1 683.2 L616.3 679.1 L616.5 684.7 L616.6 673.1 L616.8 687.5 L617.0 675.6 L617.1 684.5 L617.3 679.1 L617.5 685.1 L617.6 670.4 L617.8 682.7 L618.0 679.1 L618.1 682.8 L618.3 680.1 L618.5 684.0 L618.6 680.3 L618.8 683.3 L619.0 681.3 L619.1 683.3 L619.3 676.0 L619.5 682.5 L619.6 681.1 L619.8 689.8 L620.0 679.7 L620.1 685.3 L620.3 678.4 L620.5 682.7 L620.6 675.9 L620.8 684.6 L621.0 680.6 L621.1 685.6 L621.3 670.7 L621.5 682.4 L621.6 681.5 L621.8 686.2 L622.0 676.0 L622.1 691.7 L622.3 672.5 L622.5 685.3 L622.6 678.1 L622.8 686.5 L623.0 679.2 L623.1 684.6 L623.3 670.6 L623.5 687.2 L623.6 679.8 L623.8 684.0 L624.0 673.7 L624.1 684.1 L624.3 678.8 L624.5 685.4 L624.6 680.3 L624.8 688.5 L625.0 677.1 L625.1 682.8 L625.3 680.8 L625.5 685.1 L625.6 679.5 L625.8 686.2 L626.0 681.0 L626.1 688.9 L626.3 679.9 L626.5 685.2 L626.6 680.6 L626.8 685.2 L627.0 679.0 L627.1 688.0 L627.3 678.6 L627.5 683.1 L627.6 679.7 L627.8 683.8 L628.0 681.5 L628.1 684.2 L628.3 678.2 L628.5 686.8 L628.6 674.1 L628.8 682.0 L629.0 675.3 L629.1 683.0 L629.3 678.2 L629.5 689.0 L629.6 680.7 L629.8 685.3 L630.0 675.5 L630.1 685.9 L630.3 680.0 L630.5 686.1 L630.6 678.2 L630.8 682.9 L631.0 680.7 L631.1 682.4 L631.3 678.7 L631.5 682.8 L631.6 677.9 L631.8 682.2 L632.0 679.2 L632.1 683.4 L632.3 674.3 L632.5 687.2 L632.6 678.3 L632.8 683.0 L633.0 676.6 L633.1 689.0 L633.3 679.3 L633.5 684.5 L633.6 677.3 L633.8 681.9 L634.0 676.5 L634.1 682.1 L634.3 680.4 L634.5 684.9 L634.6 678.4 L634.8 686.6 L635.0 680.7 L635.1 683.3 L635.3 680.0 L635.5 682.7 L635.6 680.6 L635.8 686.0 L636.0 680.2 L636.1 683.5 L636.3 676.2 L636.5 685.9 L636.6 679.9 L636.8 686.9 L637.0 678.5 L637.1 684.1 L637.3 676.8 L637.5 688.9 L637.6 679.1 L637.8 687.2 L638.0 680.8 L638.1 686.2 L638.3 675.5 L638.5 682.3 L638.6 677.6 L638.8 685.6 L639.0 678.6 L639.1 686.0 L639.3 678.5 L639.5 688.8 L639.6 681.4 L639.8 682.3 L640.0 680.1 L640.1 683.0 L640.3 679.2 L640.5 685.0 L640.6 681.2 L640.8 683.1 L641.0 680.0 L641.1 683.6 L641.3 679.1 L641.5 682.1 L641.6 679.0 L641.8 682.0 L642.0 678.8 L642.1 684.1 L642.3 680.8 L642.5 683.6 L642.6 680.4 L642.8 683.1 L643.0 678.5 L643.1 690.7 L643.3 679.2 L643.5 684.3 L643.6 681.2 L643.8 684.2 L644.0 679.5 L644.1 682.0 L644.3 674.8 L644.5 682.5 L644.6 676.8 L644.8 688.4 L645.0 681.2 L645.1 692.4 L645.3 666.8 L645.5 684.4 L645.6 676.6" fill="none" stroke="#0000ff" stroke-width="0.42" stroke-linejoin="bevel"/><path d="M42.7 678.6 L43.7 678.8 L44.7 678.8 L45.7 678.2 L46.7 678.0 L47.7 678.7 L48.7 678.4 L49.7 678.4 L50.7 677.7 L51.7 678.3 L52.7 678.7 L53.7 678.5 L54.7 678.5 L55.7 677.4 L56.7 678.4 L57.7 678.6 L58.7 679.0 L59.7 678.9 L60.7 679.5 L61.7 678.5 L62.7 678.0 L63.7 678.4 L64.7 679.3 L65.7 678.8 L66.7 678.3 L67.7 678.2 L68.7 678.1 L69.7 676.4 L70.7 677.8 L71.7 677.2 L72.7 678.2 L73.7 678.0 L74.7 678.3 L75.7 677.7 L76.7 679.0 L77.7 677.7 L78.7 678.5 L79.7 678.4 L80.7 678.7 L81.7 678.8 L82.7 678.4 L83.7 678.7 L84.7 678.3 L85.7 678.3 L86.7 678.7 L87.7 678.8 L88.7 679.0 L89.7 678.2 L90.7 678.6 L91.7 679.3 L92.7 679.4 L93.7 678.9 L94.7 678.6 L95.7 678.9 L96.7 679.1 L97.7 678.1 L98.7 677.7 L99.7 678.3 L100.7 678.1 L101.7 677.5 L102.7 676.9 L103.7 677.2 L104.7 677.7 L105.7 677.7 L106.7 678.7 L107.7 678.5 L108.7 678.8 L109.7 679.0 L110.7 679.0 L111.7 678.4 L112.7 678.6 L113.7 678.7 L114.7 678.4 L115.7 678.5 L116.7 678.2 L117.7 678.6 L118.7 678.7 L119.7 678.5 L120.7 678.6 L121.7 678.5 L122.7 677.7 L123.7 678.3 L124.7 678.2 L125.7 678.9 L126.7 679.0 L127.7 678.7 L128.7 678.3 L129.7 678.3 L130.7 678.6 L131.7 678.4 L132.7 677.9 L133.7 678.2 L134.7 677.6 L135.7 678.0 L136.7 678.5 L137.7 678.4 L138.7 677.3 L139.7 677.7 L140.7 678.1 L141.7 677.6 L142.7 678.0 L143.7 677.2 L144.7 677.6 L145.7 678.3 L146.7 679.1 L147.7 678.9 L148.7 679.1 L149.7 678.7 L150.7 678.9 L151.7 678.5 L152.7 678.9 L153.7 678.9 L154.7 678.5 L155.7 678.3 L156.7 678.6 L157.7 678.8 L158.7 677.8 L159.7 677.6 L160.7 677.7 L161.7 677.5 L162.7 678.1 L163.7 677.7 L164.7 677.4 L165.7 678.3 L166.7 678.3 L167.7 677.3 L168.7 676.5 L169.7 676.0 L170.7 676.0 L171.7 677.1 L172.7 677.8 L173.7 677.0 L174.7 674.5 L175.7 676.8 L176.7 676.5 L177.7 676.0 L178.7 675.8 L179.7 676.5 L180.7 676.0 L181.7 676.9 L182.7 676.5 L183.7 677.4 L184.7 676.6 L185.7 677.7 L186.7 677.6 L187.7 676.9 L188.7 676.5 L189.7 674.9 L190.7 676.0 L191.7 676.7 L192.7 676.9 L193.7 677.8 L194.7 677.5 L195.7 677.4 L196.7 676.0 L197.7 675.5 L198.7 675.8 L199.7 676.9 L200.7 675.9 L201.7 676.9 L202.7 677.7 L203.7 677.1 L204.7 677.4 L205.7 677.4 L206.7 675.9 L207.7 676.5 L208.7 677.3 L209.7 677.2 L210.7 677.4 L211.7 676.5 L212.7 678.4 L213.7 678.0 L214.7 678.2 L215.7 678.2 L216.7 678.5 L217.7 677.9 L218.7 677.2 L219.7 676.9 L220.7 677.6 L221.7 677.2 L222.7 677.4 L223.7 677.9 L224.7 677.9 L225.7 676.7 L226.7 677.4 L227.7 676.1 L228.7 676.8 L229.7 676.5 L230.7 676.6 L231.7 677.5 L232.7 678.1 L233.7 677.2 L234.7 676.3 L235.7 676.2 L236.7 677.3 L237.7 677.3 L238.7 676.9 L239.7 676.8 L240.7 678.1 L241.7 678.2 L242.7 678.6 L243.7 678.0 L244.7 677.2 L245.7 677.6 L246.7 677.1 L247.7 676.6 L248.7 676.8 L249.7 678.0 L250.7 677.6 L251.7 677.1 L252.7 677.5 L253.7 676.9 L254.7 677.6 L255.7 677.6 L256.7 677.4 L257.7 677.4 L258.7 678.3 L259.7 678.5 L260.7 677.6 L261.7 677.8 L262.7 676.8 L263.7 676.6 L264.7 676.3 L265.7 676.3 L266.7 677.8 L267.7 677.1 L268.7 678.6 L269.7 678.1 L270.7 677.9 L271.7 677.5 L272.7 677.2 L273.7 678.1 L274.7 678.2 L275.7 678.3 L276.7 677.1 L277.7 676.9 L278.7 677.6 L279.7 677.1 L280.7 678.1 L281.7 678.5 L282.7 678.4 L283.7 677.1 L284.7 677.8 L285.7 677.4 L286.7 677.6 L287.7 677.3 L288.7 677.6 L289.7 676.4 L290.7 678.2 L291.7 677.8 L292.7 678.0 L293.7 678.5 L294.7 679.1 L295.7 678.5 L296.7 678.5 L297.7 677.7 L298.7 678.1 L299.7 677.7 L300.7 677.9 L301.7 678.3 L302.7 677.6 L303.7 676.6 L304.7 675.8 L305.7 676.6 L306.7 676.4 L307.7 678.1 L308.7 678.1 L309.7 678.9 L310.7 677.9 L311.7 676.9 L312.7 676.2 L313.7 676.8 L314.7 678.1 L315.7 678.8 L316.7 678.3 L317.7 677.7 L318.7 677.9 L319.7 677.7 L320.7 678.3 L321.7 677.8 L322.7 677.7 L323.7 677.5 L324.7 678.2 L325.7 677.1 L326.7 676.6 L327.7 676.5 L328.7 677.4 L329.7 677.9 L330.7 678.5 L331.7 678.1 L332.7 677.3 L333.7 676.6 L334.7 677.5 L335.7 676.9 L336.7 677.7 L337.7 676.9 L338.7 678.0 L339.7 677.7 L340.7 677.4 L341.7 677.8 L342.7 677.7 L343.7 677.3 L344.7 676.8 L345.7 677.3 L346.7 677.5 L347.7 677.2 L348.7 678.2 L349.7 678.5 L350.7 678.6 L351.7 678.2 L352.7 678.2 L353.7 678.6 L354.7 678.6 L355.7 678.0 L356.7 677.8 L357.7 677.3 L358.7 676.3 L359.7 677.6 L360.7 678.8 L361.7 678.4 L362.7 677.7 L363.7 678.5 L364.7 678.2 L365.7 678.0 L366.7 678.1 L367.7 677.5 L368.7 676.7 L369.7 677.6 L370.7 677.7 L371.7 677.7 L372.7 676.0 L373.7 677.1 L374.7 677.5 L375.7 677.1 L376.7 677.1 L377.7 677.5 L378.7 677.4 L379.7 678.1 L380.7 677.1 L381.7 677.5 L382.7 677.5 L383.7 677.5 L384.7 677.6 L385.7 677.9 L386.7 678.2 L387.7 677.7 L388.7 677.6 L389.7 677.8 L390.7 677.5 L391.7 677.2 L392.7 677.9 L393.7 677.8 L394.7 677.9 L395.7 677.4 L396.7 677.4 L397.7 677.5 L398.7 677.1 L399.7 677.7 L400.7 678.4 L401.7 678.0 L402.7 678.2 L403.7 678.6 L404.7 678.1 L405.7 678.6 L406.7 678.3 L407.7 677.7 L408.7 677.5 L409.7 677.5 L410.7 677.3 L411.7 676.8 L412.7 677.3 L413.7 677.5 L414.7 677.2 L415.7 677.5 L416.7 676.6 L417.7 677.5 L418.7 678.1 L419.7 677.8 L420.7 677.6 L421.7 677.5 L422.7 678.1 L423.7 678.1 L424.7 677.8 L425.7 678.0 L426.7 678.3 L427.7 677.4 L428.7 677.7 L429.7 677.4 L430.7 678.2 L431.7 678.1 L432.7 677.2 L433.7 677.7 L434.7 677.9 L435.7 677.8 L436.7 678.2 L437.7 678.3 L438.7 677.9 L439.7 677.9 L440.7 677.8 L441.7 678.4 L442.7 678.0 L443.7 677.6 L444.7 677.2 L445.7 677.6 L446.7 678.4 L447.7 678.8 L448.7 678.0 L449.7 678.0 L450.7 677.7 L451.7 677.4 L452.7 678.3 L453.7 677.8 L454.7 678.0 L455.7 677.5 L456.7 678.0 L457.7 677.8 L458.7 678.5 L459.7 678.0 L460.7 678.0 L461.7 677.5 L462.7 677.5 L463.7 677.4 L464.7 678.4 L465.7 678.9 L466.7 677.9 L467.7 677.7 L468.7 678.5 L469.7 678.7 L470.7 679.0 L471.7 678.1 L472.7 677.3 L473.7 677.4 L474.7 677.0 L475.7 678.3 L476.7 679.0 L477.7 678.5 L478.7 678.5 L479.7 678.4 L480.7 677.2 L481.7 677.1 L482.7 675.7 L483.7 677.1 L484.7 676.5 L485.7 677.1 L486.7 677.8 L487.7 678.1 L488.7 678.7 L489.7 678.0 L490.7 677.3 L491.7 676.8 L492.7 676.4 L493.7 677.3 L494.7 677.0 L495.7 676.9 L496.7 676.8 L497.7 678.1 L498.7 678.3 L499.7 678.1 L500.7 676.4 L501.7 677.5 L502.7 677.7 L503.7 677.5 L504.7 676.8 L505.7 677.0 L506.7 674.8 L507.7 671.2 L508.7 672.7 L509.7 673.2 L510.7 669.5 L511.7 671.9 L512.7 670.3 L513.7 667.5 L514.7 671.8 L515.7 671.2 L516.7 672.6 L517.7 672.6 L518.7 670.0 L519.7 672.6 L520.7 674.5 L521.7 674.2 L522.7 673.8 L523.7 672.5 L524.7 672.1 L525.7 672.9 L526.7 673.7 L527.7 671.3 L528.7 671.2 L529.7 673.8 L530.7 671.5 L531.7 670.1 L532.7 671.1 L533.7 673.3 L534.7 672.3 L535.7 673.0 L536.7 672.0 L537.7 673.8 L538.7 673.6 L539.7 671.1 L540.7 671.0 L541.7 672.6 L542.7 670.9 L543.7 672.4 L544.7 673.3 L545.7 674.4 L546.7 673.8 L547.7 672.8 L548.7 671.3 L549.7 673.4 L550.7 674.8 L551.7 672.6 L552.7 673.3 L553.7 670.2 L554.7 672.0 L555.7 673.9 L556.7 675.5 L557.7 676.3 L558.7 676.8 L559.7 676.3 L560.7 676.5 L561.7 678.0 L562.7 676.9 L563.7 676.4 L564.7 676.0 L565.7 677.2 L566.7 677.4 L567.7 677.4 L568.7 677.8 L569.7 677.0 L570.7 676.8 L571.7 678.0 L572.7 677.4 L573.7 678.0 L574.7 677.7 L575.7 677.7 L576.7 675.7 L577.7 676.8 L578.7 675.8 L579.7 675.6 L580.7 676.7 L581.7 676.8 L582.7 676.0 L583.7 675.3 L584.7 674.7 L585.7 676.5 L586.7 676.8 L587.7 675.1 L588.7 676.4 L589.7 676.0 L590.7 676.4 L591.7 676.4 L592.7 676.4 L593.7 677.9 L594.7 677.9 L595.7 678.1 L596.7 678.1 L597.7 678.0 L598.7 677.7 L599.7 676.2 L600.7 675.8 L601.7 677.1 L602.7 677.5 L603.7 677.7 L604.7 677.9 L605.7 677.5 L606.7 677.4 L607.7 678.1 L608.7 677.9 L609.7 677.1 L610.7 678.1 L611.7 677.3 L612.7 677.0 L613.7 676.5 L614.7 677.7 L615.7 677.5 L616.7 676.5 L617.7 677.5 L618.7 677.7 L619.7 678.5 L620.7 678.1 L621.7 677.2 L622.7 677.6 L623.7 677.9 L624.7 677.9 L625.7 677.5 L626.7 677.2 L627.7 677.1 L628.7 676.7 L629.7 677.0 L630.7 677.3 L631.7 677.5 L632.7 677.3 L633.7 677.6 L634.7 678.3 L635.7 677.8 L636.7 677.6 L637.7 677.6 L638.7 678.1 L639.7 676.6 L640.7 677.6 L641.7 677.7 L642.7 678.2 L643.7 678.3 L644.7 677.9 L645.7 677.5 L645.7 685.9 L644.7 685.5 L643.7 685.1 L642.7 685.2 L641.7 685.7 L640.7 685.8 L639.7 686.8 L638.7 685.3 L637.7 685.8 L636.7 685.8 L635.7 685.6 L634.7 685.1 L633.7 685.8 L632.7 686.1 L631.7 685.9 L630.7 686.1 L629.7 686.4 L628.7 686.7 L627.7 686.3 L626.7 686.2 L625.7 685.9 L624.7 685.5 L623.7 685.5 L622.7 685.8 L621.7 686.2 L620.7 685.3 L619.7 684.9 L618.7 685.7 L617.7 685.9 L616.7 686.9 L615.7 685.9 L614.7 685.7 L613.7 686.9 L612.7 686.4 L611.7 686.1 L610.7 685.3 L609.7 686.3 L608.7 685.5 L607.7 685.3 L606.7 686.0 L605.7 685.9 L604.7 685.5 L603.7 685.7 L602.7 685.9 L601.7 686.3 L600.7 687.6 L599.7 687.2 L598.7 685.7 L597.7 685.4 L596.7 685.3 L595.7 685.3 L594.7 685.5 L593.7 685.5 L592.7 687.0 L591.7 687.0 L590.7 687.0 L589.7 687.4 L588.7 687.0 L587.7 688.3 L586.7 686.6 L585.7 686.9 L584.7 688.7 L583.7 688.1 L582.7 687.4 L581.7 686.6 L580.7 686.7 L579.7 687.8 L578.7 687.6 L577.7 686.6 L576.7 687.7 L575.7 685.7 L574.7 685.7 L573.7 685.4 L572.7 686.0 L571.7 685.4 L570.7 686.6 L569.7 686.4 L568.7 685.6 L567.7 686.0 L566.7 686.0 L565.7 686.2 L564.7 687.4 L563.7 687.0 L562.7 686.5 L561.7 685.4 L560.7 686.9 L559.7 687.1 L558.7 686.6 L557.7 687.1 L556.7 687.9 L555.7 689.5 L554.7 691.4 L553.7 693.2 L552.7 690.1 L551.7 690.8 L550.7 688.6 L549.7 690.0 L548.7 692.1 L547.7 690.6 L546.7 689.6 L545.7 689.0 L544.7 690.1 L543.7 691.0 L542.7 692.5 L541.7 690.8 L540.7 692.4 L539.7 692.3 L538.7 689.8 L537.7 689.6 L536.7 691.4 L535.7 690.4 L534.7 691.1 L533.7 690.1 L532.7 692.3 L531.7 693.3 L530.7 691.9 L529.7 689.6 L528.7 692.2 L527.7 692.1 L526.7 689.7 L525.7 690.5 L524.7 691.3 L523.7 690.9 L522.7 689.6 L521.7 689.2 L520.7 688.9 L519.7 690.8 L518.7 693.4 L517.7 690.8 L516.7 690.8 L515.7 692.2 L514.7 691.6 L513.7 695.9 L512.7 693.1 L511.7 691.5 L510.7 693.9 L509.7 690.2 L508.7 690.7 L507.7 692.2 L506.7 688.6 L505.7 686.4 L504.7 686.6 L503.7 685.9 L502.7 685.7 L501.7 685.9 L500.7 687.0 L499.7 685.3 L498.7 685.1 L497.7 685.3 L496.7 686.6 L495.7 686.5 L494.7 686.4 L493.7 686.1 L492.7 687.0 L491.7 686.6 L490.7 686.1 L489.7 685.4 L488.7 684.7 L487.7 685.3 L486.7 685.6 L485.7 686.3 L484.7 686.9 L483.7 686.3 L482.7 687.7 L481.7 686.3 L480.7 686.2 L479.7 685.0 L478.7 684.9 L477.7 684.9 L476.7 684.4 L475.7 685.1 L474.7 686.4 L473.7 686.0 L472.7 686.1 L471.7 685.3 L470.7 684.4 L469.7 684.7 L468.7 684.9 L467.7 685.7 L466.7 685.5 L465.7 684.5 L464.7 685.0 L463.7 686.0 L462.7 685.9 L461.7 685.9 L460.7 685.4 L459.7 685.4 L458.7 684.9 L457.7 685.6 L456.7 685.4 L455.7 685.9 L454.7 685.4 L453.7 685.6 L452.7 685.1 L451.7 686.0 L450.7 685.7 L449.7 685.4 L448.7 685.4 L447.7 684.6 L446.7 685.0 L445.7 685.8 L444.7 686.2 L443.7 685.8 L442.7 685.4 L441.7 685.0 L440.7 685.6 L439.7 685.5 L438.7 685.5 L437.7 685.1 L436.7 685.2 L435.7 685.6 L434.7 685.5 L433.7 685.7 L432.7 686.2 L431.7 685.3 L430.7 685.2 L429.7 686.0 L428.7 685.7 L427.7 686.0 L426.7 685.1 L425.7 685.4 L424.7 685.6 L423.7 685.3 L422.7 685.3 L421.7 685.9 L420.7 685.8 L419.7 685.6 L418.7 685.3 L417.7 685.9 L416.7 686.8 L415.7 685.9 L414.7 686.2 L413.7 685.9 L412.7 686.1 L411.7 686.6 L410.7 686.1 L409.7 685.9 L408.7 685.9 L407.7 685.7 L406.7 685.1 L405.7 684.8 L404.7 685.3 L403.7 684.8 L402.7 685.2 L401.7 685.4 L400.7 685.0 L399.7 685.7 L398.7 686.3 L397.7 685.9 L396.7 686.0 L395.7 686.0 L394.7 685.5 L393.7 685.6 L392.7 685.5 L391.7 686.2 L390.7 685.9 L389.7 685.6 L388.7 685.8 L387.7 685.7 L386.7 685.2 L385.7 685.5 L384.7 685.8 L383.7 685.9 L382.7 685.9 L381.7 685.9 L380.7 686.3 L379.7 685.3 L378.7 686.0 L377.7 685.9 L376.7 686.3 L375.7 686.3 L374.7 685.9 L373.7 686.3 L372.7 687.4 L371.7 685.7 L370.7 685.7 L369.7 685.8 L368.7 686.7 L367.7 685.9 L366.7 685.3 L365.7 685.4 L364.7 685.2 L363.7 684.9 L362.7 685.7 L361.7 685.0 L360.7 684.6 L359.7 685.8 L358.7 687.1 L357.7 686.1 L356.7 685.6 L355.7 685.4 L354.7 684.8 L353.7 684.8 L352.7 685.2 L351.7 685.2 L350.7 684.8 L349.7 684.9 L348.7 685.2 L347.7 686.2 L346.7 685.9 L345.7 686.1 L344.7 686.6 L343.7 686.1 L342.7 685.7 L341.7 685.6 L340.7 686.0 L339.7 685.7 L338.7 685.4 L337.7 686.5 L336.7 685.7 L335.7 686.5 L334.7 685.9 L333.7 686.8 L332.7 686.1 L331.7 685.3 L330.7 684.9 L329.7 685.5 L328.7 686.0 L327.7 686.9 L326.7 686.8 L325.7 686.3 L324.7 685.2 L323.7 685.9 L322.7 685.7 L321.7 685.6 L320.7 685.1 L319.7 685.7 L318.7 685.5 L317.7 685.7 L316.7 685.1 L315.7 684.6 L314.7 685.3 L313.7 686.6 L312.7 687.2 L311.7 686.5 L310.7 685.5 L309.7 684.5 L308.7 685.3 L307.7 685.3 L306.7 687.0 L305.7 686.8 L304.7 687.6 L303.7 686.8 L302.7 685.8 L301.7 685.1 L300.7 685.5 L299.7 685.7 L298.7 685.3 L297.7 685.7 L296.7 684.9 L295.7 684.9 L294.7 684.3 L293.7 684.9 L292.7 685.4 L291.7 685.6 L290.7 685.2 L289.7 687.0 L288.7 685.8 L287.7 686.1 L286.7 685.8 L285.7 686.0 L284.7 685.6 L283.7 686.3 L282.7 685.0 L281.7 684.9 L280.7 685.3 L279.7 686.3 L278.7 685.8 L277.7 686.5 L276.7 686.3 L275.7 685.1 L274.7 685.2 L273.7 685.3 L272.7 686.2 L271.7 685.9 L270.7 685.5 L269.7 685.3 L268.7 684.8 L267.7 686.3 L266.7 685.6 L265.7 687.1 L264.7 687.1 L263.7 686.8 L262.7 686.6 L261.7 685.6 L260.7 685.8 L259.7 684.9 L258.7 685.1 L257.7 686.0 L256.7 686.0 L255.7 685.8 L254.7 685.8 L253.7 686.5 L252.7 685.9 L251.7 686.3 L250.7 685.8 L249.7 685.4 L248.7 686.6 L247.7 686.8 L246.7 686.3 L245.7 685.8 L244.7 686.2 L243.7 685.4 L242.7 684.8 L241.7 685.2 L240.7 685.3 L239.7 686.6 L238.7 686.5 L237.7 686.1 L236.7 686.1 L235.7 687.2 L234.7 687.1 L233.7 686.2 L232.7 685.3 L231.7 685.9 L230.7 686.8 L229.7 686.9 L228.7 686.6 L227.7 687.3 L226.7 686.0 L225.7 686.7 L224.7 685.5 L223.7 685.5 L222.7 686.0 L221.7 686.2 L220.7 685.8 L219.7 686.5 L218.7 686.2 L217.7 685.5 L216.7 684.9 L215.7 685.2 L214.7 685.2 L213.7 685.4 L212.7 685.0 L211.7 686.9 L210.7 686.0 L209.7 686.2 L208.7 686.1 L207.7 686.9 L206.7 687.5 L205.7 686.0 L204.7 686.0 L203.7 686.3 L202.7 685.7 L201.7 686.5 L200.7 687.5 L199.7 686.5 L198.7 687.6 L197.7 687.9 L196.7 687.4 L195.7 686.0 L194.7 685.9 L193.7 685.6 L192.7 686.5 L191.7 686.7 L190.7 687.4 L189.7 688.5 L188.7 686.9 L187.7 686.5 L186.7 685.8 L185.7 685.7 L184.7 686.8 L183.7 686.0 L182.7 686.9 L181.7 686.5 L180.7 687.4 L179.7 686.9 L178.7 687.6 L177.7 687.4 L176.7 686.9 L175.7 686.6 L174.7 688.9 L173.7 686.4 L172.7 685.6 L171.7 686.3 L170.7 687.4 L169.7 687.4 L168.7 686.9 L167.7 686.1 L166.7 685.1 L165.7 685.1 L164.7 686.0 L163.7 685.7 L162.7 685.3 L161.7 685.9 L160.7 685.7 L159.7 685.8 L158.7 685.6 L157.7 684.6 L156.7 684.8 L155.7 685.1 L154.7 684.9 L153.7 684.5 L152.7 684.5 L151.7 684.9 L150.7 684.5 L149.7 684.7 L148.7 684.3 L147.7 684.5 L146.7 684.3 L145.7 685.1 L144.7 685.8 L143.7 686.2 L142.7 685.4 L141.7 685.8 L140.7 685.3 L139.7 685.7 L138.7 686.1 L137.7 685.0 L136.7 684.9 L135.7 685.4 L134.7 685.8 L133.7 685.2 L132.7 685.5 L131.7 685.0 L130.7 684.8 L129.7 685.1 L128.7 685.1 L127.7 684.7 L126.7 684.4 L125.7 684.5 L124.7 685.2 L123.7 685.1 L122.7 685.7 L121.7 684.9 L120.7 684.8 L119.7 684.9 L118.7 684.7 L117.7 684.8 L116.7 685.2 L115.7 684.9 L114.7 685.0 L113.7 684.7 L112.7 684.8 L111.7 685.0 L110.7 684.4 L109.7 684.4 L108.7 684.6 L107.7 684.9 L106.7 684.7 L105.7 685.7 L104.7 685.7 L103.7 686.2 L102.7 686.5 L101.7 685.9 L100.7 685.3 L99.7 685.1 L98.7 685.7 L97.7 685.3 L96.7 684.3 L95.7 684.5 L94.7 684.8 L93.7 684.5 L92.7 684.0 L91.7 684.1 L90.7 684.8 L89.7 685.2 L88.7 684.4 L87.7 684.6 L86.7 684.7 L85.7 685.1 L84.7 685.1 L83.7 684.7 L82.7 685.0 L81.7 684.6 L80.7 684.7 L79.7 685.0 L78.7 684.9 L77.7 685.7 L76.7 684.4 L75.7 685.7 L74.7 685.1 L73.7 685.4 L72.7 685.2 L71.7 686.2 L70.7 685.6 L69.7 687.0 L68.7 685.3 L67.7 685.2 L66.7 685.1 L65.7 684.6 L64.7 684.1 L63.7 685.0 L62.7 685.4 L61.7 684.9 L60.7 683.9 L59.7 684.5 L58.7 684.4 L57.7 684.8 L56.7 685.0 L55.7 686.0 L54.7 684.9 L53.7 684.9 L52.7 684.7 L51.7 685.1 L50.7 685.7 L49.7 685.0 L48.7 685.0 L47.7 684.7 L46.7 685.4 L45.7 685.2 L44.7 684.6 L43.7 684.6 L42.7 684.8Z" fill="#0000ff"/><path d="M162.3 670.0V720.8M165.1 662.2V721.8M173.6 679.7V695.5M177.3 679.7V693.0M180.2 672.0V707.7M182.0 679.7V706.0M195.0 679.7V705.0M200.0 679.7V704.0M202.0 679.7V704.0M207.6 679.7V715.0M210.6 658.0V786.8M215.6 658.0V752.8M221.0 679.7V703.0M224.0 679.7V707.0M225.5 679.7V707.0M228.3 667.0V748.8M238.0 672.0V718.9M241.5 679.7V704.0M245.0 679.7V704.0M248.5 643.0V694.0M259.0 667.0V717.9M261.0 679.7V707.0M264.5 662.0V711.0M270.0 679.7V700.0M272.3 659.0V721.9M306.8 679.7V715.9M309.4 679.7V717.0M316.8 679.7V711.0M318.8 679.7V713.9M326.8 668.0V726.9M331.8 679.7V697.0M333.4 669.0V683.7M341.0 679.7V713.5M345.6 679.7V715.6M365.8 679.7V715.6M375.0 664.6V740.7M388.4 679.7V723.3M401.5 679.7V708.0M404.3 671.0V707.0M408.7 679.7V711.0M412.8 625.4V757.0M416.7 639.6V798.3M423.9 679.7V714.6M431.5 670.0V713.5M439.3 679.7V732.0M443.4 679.7V709.0M450.0 679.7V704.0M468.4 679.7V703.7M495.3 679.7V704.0M509.5 663.8V724.6M517.7 679.7V710.9M525.7 664.0V711.4M534.6 679.7V713.5M537.3 679.7V713.0M550.5 664.0V698.0M554.7 662.7V702.0M566.9 679.7V720.9M578.0 668.0V694.0M584.9 663.3V699.0M632.5 679.7V716.1M634.9 679.7V710.9M645.0 679.7V701.0" fill="none" stroke="#0000ff" stroke-width="0.5" stroke-opacity="0.75"/></g>
<text x="8.70" y="716.00" font-size="12" text-anchor="middle" font-weight="bold" transform="rotate(-90 8.7 716.0)" fill="#000">Z (nT)</text>
<text x="343.90" y="848.00" font-size="12" text-anchor="middle" font-weight="bold" fill="#000" textLength="62.3" lengthAdjust="spacing">UT (hours)</text>
<text x="1138.00" y="848.00" font-size="12" text-anchor="middle" font-weight="bold" fill="#000" textLength="62.3" lengthAdjust="spacing">UT (hours)</text>
<rect x="836.0" y="613.5" width="604.0" height="205.0" fill="#00008f"/>
<defs><linearGradient id="g2_0" gradientUnits="userSpaceOnUse" x1="0" y1="614.0" x2="0" y2="819.0"><stop offset="0.000" stop-color="#6f6f6f"/><stop offset="0.172" stop-color="#535353"/><stop offset="0.429" stop-color="#5d5d5d"/><stop offset="0.687" stop-color="#686868"/><stop offset="0.859" stop-color="#696969"/><stop offset="0.915" stop-color="#5c5c5c"/><stop offset="0.965" stop-color="#5b5b5b"/><stop offset="1.000" stop-color="#5c5c5c"/></linearGradient><linearGradient id="g2_1" gradientUnits="userSpaceOnUse" x1="0" y1="614.0" x2="0" y2="819.0"><stop offset="0.000" stop-color="#4a4a4a"/><stop offset="0.142" stop-color="#383838"/><stop offset="0.356" stop-color="#414141"/><stop offset="0.570" stop-color="#4e4e4e"/><stop offset="0.712" stop-color="#4f4f4f"/><stop offset="0.827" stop-color="#444444"/><stop offset="0.928" stop-color="#414141"/><stop offset="1.000" stop-color="#414141"/></linearGradient><linearGradient id="g2_2" gradientUnits="userSpaceOnUse" x1="0" y1="775.0" x2="0" y2="819.0"><stop offset="0.000" stop-color="#000000"/><stop offset="0.080" stop-color="#1f1f1f"/><stop offset="0.300" stop-color="#353535"/><stop offset="0.550" stop-color="#393939"/><stop offset="0.750" stop-color="#3d3d3d"/><stop offset="0.900" stop-color="#434343"/><stop offset="1.000" stop-color="#464646"/></linearGradient><linearGradient id="g2_3" gradientUnits="userSpaceOnUse" x1="0" y1="740.0" x2="0" y2="795.0"><stop offset="0.000" stop-color="#000000"/><stop offset="0.109" stop-color="#0b0b0b"/><stop offset="0.273" stop-color="#131313"/><stop offset="0.436" stop-color="#191919"/><stop offset="0.545" stop-color="#1a1a1a"/><stop offset="0.727" stop-color="#111111"/><stop offset="0.886" stop-color="#080808"/><stop offset="1.000" stop-color="#000000"/></linearGradient><linearGradient id="g2_4" gradientUnits="userSpaceOnUse" x1="0" y1="614.0" x2="0" y2="710.0"><stop offset="0.000" stop-color="#131313"/><stop offset="0.075" stop-color="#0e0e0e"/><stop offset="0.188" stop-color="#101010"/><stop offset="0.300" stop-color="#151515"/><stop offset="0.375" stop-color="#171717"/><stop offset="0.625" stop-color="#0f0f0f"/><stop offset="0.844" stop-color="#070707"/><stop offset="1.000" stop-color="#000000"/></linearGradient><linearGradient id="g2_5" gradientUnits="userSpaceOnUse" x1="0" y1="734.0" x2="0" y2="819.0"><stop offset="0.000" stop-color="#000000"/><stop offset="0.080" stop-color="#1f1f1f"/><stop offset="0.300" stop-color="#353535"/><stop offset="0.550" stop-color="#393939"/><stop offset="0.750" stop-color="#3d3d3d"/><stop offset="0.900" stop-color="#434343"/><stop offset="1.000" stop-color="#464646"/></linearGradient><linearGradient id="g2_6" gradientUnits="userSpaceOnUse" x1="0" y1="614.0" x2="0" y2="660.0"><stop offset="0.000" stop-color="#252525"/><stop offset="0.070" stop-color="#1c1c1c"/><stop offset="0.174" stop-color="#202020"/><stop offset="0.278" stop-color="#2b2b2b"/><stop offset="0.348" stop-color="#2e2e2e"/><stop offset="0.609" stop-color="#1d1d1d"/><stop offset="0.837" stop-color="#0d0d0d"/><stop offset="1.000" stop-color="#000000"/></linearGradient><linearGradient id="g2_7" gradientUnits="userSpaceOnUse" x1="0" y1="614.0" x2="0" y2="819.0"><stop offset="0.000" stop-color="#252525"/><stop offset="0.420" stop-color="#464646"/><stop offset="0.751" stop-color="#7b7b7b"/><stop offset="0.907" stop-color="#5b5b5b"/><stop offset="1.000" stop-color="#373737"/></linearGradient><linearGradient id="g2_8" gradientUnits="userSpaceOnUse" x1="0" y1="614.0" x2="0" y2="753.0"><stop offset="0.000" stop-color="#525252"/><stop offset="0.009" stop-color="#3d3d3d"/><stop offset="0.022" stop-color="#474747"/><stop offset="0.035" stop-color="#5e5e5e"/><stop offset="0.043" stop-color="#666666"/><stop offset="0.426" stop-color="#474747"/><stop offset="0.761" stop-color="#1e1e1e"/><stop offset="1.000" stop-color="#000000"/></linearGradient><linearGradient id="g2_9" gradientUnits="userSpaceOnUse" x1="0" y1="756.0" x2="0" y2="819.0"><stop offset="0.000" stop-color="#000000"/><stop offset="0.080" stop-color="#242424"/><stop offset="0.300" stop-color="#3d3d3d"/><stop offset="0.550" stop-color="#404040"/><stop offset="0.750" stop-color="#464646"/><stop offset="0.900" stop-color="#4c4c4c"/><stop offset="1.000" stop-color="#505050"/></linearGradient><linearGradient id="g2_10" gradientUnits="userSpaceOnUse" x1="0" y1="740.0" x2="0" y2="790.0"><stop offset="0.000" stop-color="#000000"/><stop offset="0.120" stop-color="#0b0b0b"/><stop offset="0.300" stop-color="#131313"/><stop offset="0.480" stop-color="#191919"/><stop offset="0.600" stop-color="#191919"/><stop offset="0.760" stop-color="#101010"/><stop offset="0.900" stop-color="#080808"/><stop offset="1.000" stop-color="#000000"/></linearGradient></defs><clipPath id="cs2"><rect x="836.0" y="613.5" width="604.0" height="205.0"/></clipPath><g clip-path="url(#cs2)"><g filter="url(#jm)"><rect x="836.0" y="613.5" width="604.0" height="205.0" fill="#000"/><polygon points="1000.7,614.0 999.7,819.0 1002.5,819.0 1001.5,614.0" fill="url(#g2_0)" fill-opacity="0.42" style="mix-blend-mode:lighten"/><polygon points="1000.8,614.0 1000.2,819.0 1002.0,819.0 1001.4,614.0" fill="url(#g2_0)" fill-opacity="0.72" style="mix-blend-mode:lighten"/><polygon points="1000.8,614.0 1000.7,819.0 1001.5,819.0 1001.4,614.0" fill="url(#g2_0)" style="mix-blend-mode:lighten"/><polygon points="1005.6,614.0 1004.7,819.0 1007.3,819.0 1006.4,614.0" fill="url(#g2_1)" fill-opacity="0.42" style="mix-blend-mode:lighten"/><polygon points="1005.7,614.0 1005.2,819.0 1006.8,819.0 1006.3,614.0" fill="url(#g2_1)" fill-opacity="0.72" style="mix-blend-mode:lighten"/><polygon points="1005.7,614.0 1005.6,819.0 1006.4,819.0 1006.3,614.0" fill="url(#g2_1)" style="mix-blend-mode:lighten"/><polygon points="1017.9,775.0 1016.7,819.0 1019.9,819.0 1018.7,775.0" fill="url(#g2_2)" fill-opacity="0.42" style="mix-blend-mode:lighten"/><polygon points="1018.0,775.0 1017.3,819.0 1019.3,819.0 1018.6,775.0" fill="url(#g2_2)" fill-opacity="0.72" style="mix-blend-mode:lighten"/><polygon points="1018.0,775.0 1017.8,819.0 1018.8,819.0 1018.6,775.0" fill="url(#g2_2)" style="mix-blend-mode:lighten"/><polygon points="955.2,740.0 954.3,795.0 956.9,795.0 956.0,740.0" fill="url(#g2_3)" fill-opacity="0.42" style="mix-blend-mode:lighten"/><polygon points="955.3,740.0 954.8,795.0 956.4,795.0 955.9,740.0" fill="url(#g2_3)" fill-opacity="0.72" style="mix-blend-mode:lighten"/><polygon points="955.3,740.0 955.2,795.0 956.0,795.0 955.9,740.0" fill="url(#g2_3)" style="mix-blend-mode:lighten"/><polygon points="1038.2,614.0 1037.3,710.0 1039.9,710.0 1039.0,614.0" fill="url(#g2_4)" fill-opacity="0.42" style="mix-blend-mode:lighten"/><polygon points="1038.3,614.0 1037.8,710.0 1039.4,710.0 1038.9,614.0" fill="url(#g2_4)" fill-opacity="0.72" style="mix-blend-mode:lighten"/><polygon points="1038.3,614.0 1038.2,710.0 1039.0,710.0 1038.9,614.0" fill="url(#g2_4)" style="mix-blend-mode:lighten"/><polygon points="1053.4,734.0 1052.2,819.0 1055.4,819.0 1054.2,734.0" fill="url(#g2_5)" fill-opacity="0.42" style="mix-blend-mode:lighten"/><polygon points="1053.5,734.0 1052.8,819.0 1054.8,819.0 1054.1,734.0" fill="url(#g2_5)" fill-opacity="0.72" style="mix-blend-mode:lighten"/><polygon points="1053.5,734.0 1053.3,819.0 1054.3,819.0 1054.1,734.0" fill="url(#g2_5)" style="mix-blend-mode:lighten"/><polygon points="1061.0,614.0 1060.1,660.0 1062.7,660.0 1061.8,614.0" fill="url(#g2_6)" fill-opacity="0.42" style="mix-blend-mode:lighten"/><polygon points="1061.1,614.0 1060.6,660.0 1062.2,660.0 1061.7,614.0" fill="url(#g2_6)" fill-opacity="0.72" style="mix-blend-mode:lighten"/><polygon points="1061.1,614.0 1061.0,660.0 1061.8,660.0 1061.7,614.0" fill="url(#g2_6)" style="mix-blend-mode:lighten"/><polygon points="1161.8,614.0 1161.7,700.0 1161.4,768.0 1161.4,819.0 1163.0,819.0 1163.0,768.0 1162.7,700.0 1162.6,614.0" fill="url(#g2_7)" fill-opacity="0.42" style="mix-blend-mode:lighten"/><polygon points="1161.9,614.0 1161.9,700.0 1161.7,768.0 1161.7,819.0 1162.7,819.0 1162.7,768.0 1162.5,700.0 1162.5,614.0" fill="url(#g2_7)" fill-opacity="0.72" style="mix-blend-mode:lighten"/><polygon points="1161.9,614.0 1161.9,700.0 1161.9,768.0 1161.9,819.0 1162.5,819.0 1162.5,768.0 1162.5,700.0 1162.5,614.0" fill="url(#g2_7)" style="mix-blend-mode:lighten"/><polygon points="1202.8,614.0 1201.9,753.0 1204.5,753.0 1203.6,614.0" fill="url(#g2_8)" fill-opacity="0.42" style="mix-blend-mode:lighten"/><polygon points="1202.9,614.0 1202.4,753.0 1204.0,753.0 1203.5,614.0" fill="url(#g2_8)" fill-opacity="0.72" style="mix-blend-mode:lighten"/><polygon points="1202.9,614.0 1202.8,753.0 1203.6,753.0 1203.5,614.0" fill="url(#g2_8)" style="mix-blend-mode:lighten"/><polygon points="1367.5,756.0 1366.1,819.0 1369.7,819.0 1368.3,756.0" fill="url(#g2_9)" fill-opacity="0.42" style="mix-blend-mode:lighten"/><polygon points="1367.6,756.0 1366.8,819.0 1369.0,819.0 1368.2,756.0" fill="url(#g2_9)" fill-opacity="0.72" style="mix-blend-mode:lighten"/><polygon points="1367.6,756.0 1367.4,819.0 1368.4,819.0 1368.2,756.0" fill="url(#g2_9)" style="mix-blend-mode:lighten"/><polygon points="1293.1,740.0 1292.2,790.0 1294.8,790.0 1293.9,740.0" fill="url(#g2_10)" fill-opacity="0.42" style="mix-blend-mode:lighten"/><polygon points="1293.2,740.0 1292.7,790.0 1294.3,790.0 1293.8,740.0" fill="url(#g2_10)" fill-opacity="0.72" style="mix-blend-mode:lighten"/><polygon points="1293.2,740.0 1293.1,790.0 1293.9,790.0 1293.8,740.0" fill="url(#g2_10)" style="mix-blend-mode:lighten"/></g></g>
<text x="836.50" y="832.60" font-size="12" text-anchor="middle" fill="#262626">00:00</text>
<text x="911.88" y="832.60" font-size="12" text-anchor="middle" fill="#262626">03:00</text>
<text x="987.25" y="832.60" font-size="12" text-anchor="middle" fill="#262626">06:00</text>
<text x="1062.62" y="832.60" font-size="12" text-anchor="middle" fill="#262626">09:00</text>
<text x="1138.00" y="832.60" font-size="12" text-anchor="middle" fill="#262626">12:00</text>
<text x="1213.38" y="832.60" font-size="12" text-anchor="middle" fill="#262626">15:00</text>
<text x="1288.75" y="832.60" font-size="12" text-anchor="middle" fill="#262626">18:00</text>
<text x="1364.12" y="832.60" font-size="12" text-anchor="middle" fill="#262626">21:00</text>
<text x="1439.50" y="832.60" font-size="12" text-anchor="middle" fill="#262626">00:00</text>
<text x="833.00" y="819.70" font-size="12" text-anchor="end" fill="#262626">7</text>
<text x="833.00" y="796.25" font-size="12" text-anchor="end" fill="#262626">8</text>
<text x="833.00" y="775.57" font-size="12" text-anchor="end" fill="#262626">9</text>
<text x="833.00" y="757.07" font-size="12" text-anchor="end" fill="#262626">10</text>
<text x="833.00" y="725.05" font-size="12" text-anchor="end" fill="#262626">12</text>
<text x="833.00" y="697.98" font-size="12" text-anchor="end" fill="#262626">14</text>
<text x="833.00" y="674.53" font-size="12" text-anchor="end" fill="#262626">16</text>
<text x="833.00" y="653.85" font-size="12" text-anchor="end" fill="#262626">18</text>
<text x="833.00" y="635.35" font-size="12" text-anchor="end" fill="#262626">20</text>
<text x="833.00" y="618.61" font-size="12" text-anchor="end" fill="#262626">22</text>
<path d="M836.50 818.00V812.00M836.50 614.00V620.00M911.88 818.00V812.00M911.88 614.00V620.00M987.25 818.00V812.00M987.25 614.00V620.00M1062.62 818.00V812.00M1062.62 614.00V620.00M1138.00 818.00V812.00M1138.00 614.00V620.00M1213.38 818.00V812.00M1213.38 614.00V620.00M1288.75 818.00V812.00M1288.75 614.00V620.00M1364.12 818.00V812.00M1364.12 614.00V620.00M1439.50 818.00V812.00M1439.50 614.00V620.00M836.50 815.50H842.50M1439.50 815.50H1433.50M836.50 792.05H842.50M1439.50 792.05H1433.50M836.50 771.37H842.50M1439.50 771.37H1433.50M836.50 752.87H842.50M1439.50 752.87H1433.50M836.50 720.85H842.50M1439.50 720.85H1433.50M836.50 693.78H842.50M1439.50 693.78H1433.50M836.50 670.33H842.50M1439.50 670.33H1433.50M836.50 649.65H842.50M1439.50 649.65H1433.50M836.50 631.15H842.50M1439.50 631.15H1433.50M836.50 614.41H842.50M1439.50 614.41H1433.50" stroke="#202050" stroke-width="1" fill="none" opacity="0.6"/>
<rect x="836.50" y="614.00" width="603.00" height="204.00" fill="none" stroke="#303060" stroke-width="1"/>
<text x="809.80" y="716.00" font-size="12" text-anchor="middle" font-weight="bold" transform="rotate(-90 809.8 716.0)" fill="#000">freq (mHz)</text>
<rect x="1458.30" y="613.50" width="25.40" height="205.00" fill="url(#cbg)"/>
<text x="1487.00" y="822.20" font-size="12" text-anchor="start" fill="#262626">-2</text>
<text x="1487.00" y="788.20" font-size="12" text-anchor="start" fill="#262626">-1</text>
<text x="1487.00" y="754.20" font-size="12" text-anchor="start" fill="#262626">0</text>
<text x="1487.00" y="720.20" font-size="12" text-anchor="start" fill="#262626">1</text>
<text x="1487.00" y="686.20" font-size="12" text-anchor="start" fill="#262626">2</text>
<text x="1487.00" y="652.20" font-size="12" text-anchor="start" fill="#262626">3</text>
<text x="1487.00" y="618.20" font-size="12" text-anchor="start" fill="#262626">4</text>
<path d="M1458.30 818.00H1460.80M1483.70 818.00H1481.20M1458.30 784.00H1460.80M1483.70 784.00H1481.20M1458.30 750.00H1460.80M1483.70 750.00H1481.20M1458.30 716.00H1460.80M1483.70 716.00H1481.20M1458.30 682.00H1460.80M1483.70 682.00H1481.20M1458.30 648.00H1460.80M1483.70 648.00H1481.20M1458.30 614.00H1460.80M1483.70 614.00H1481.20" stroke="#444" stroke-width="1" fill="none" opacity="0.7"/>
<rect x="1458.30" y="614.00" width="25.40" height="204.00" fill="none" stroke="#555" stroke-width="1"/>
<text transform="translate(1519.6 716.80) rotate(-90)" font-size="12" font-weight="bold" text-anchor="middle" fill="#000">log<tspan font-size="10" dy="4">2</tspan><tspan dy="-4">(nT</tspan><tspan font-size="10" dy="-6">2</tspan><tspan dy="6">/Hz)</tspan></text>
</svg>
</body></html>
